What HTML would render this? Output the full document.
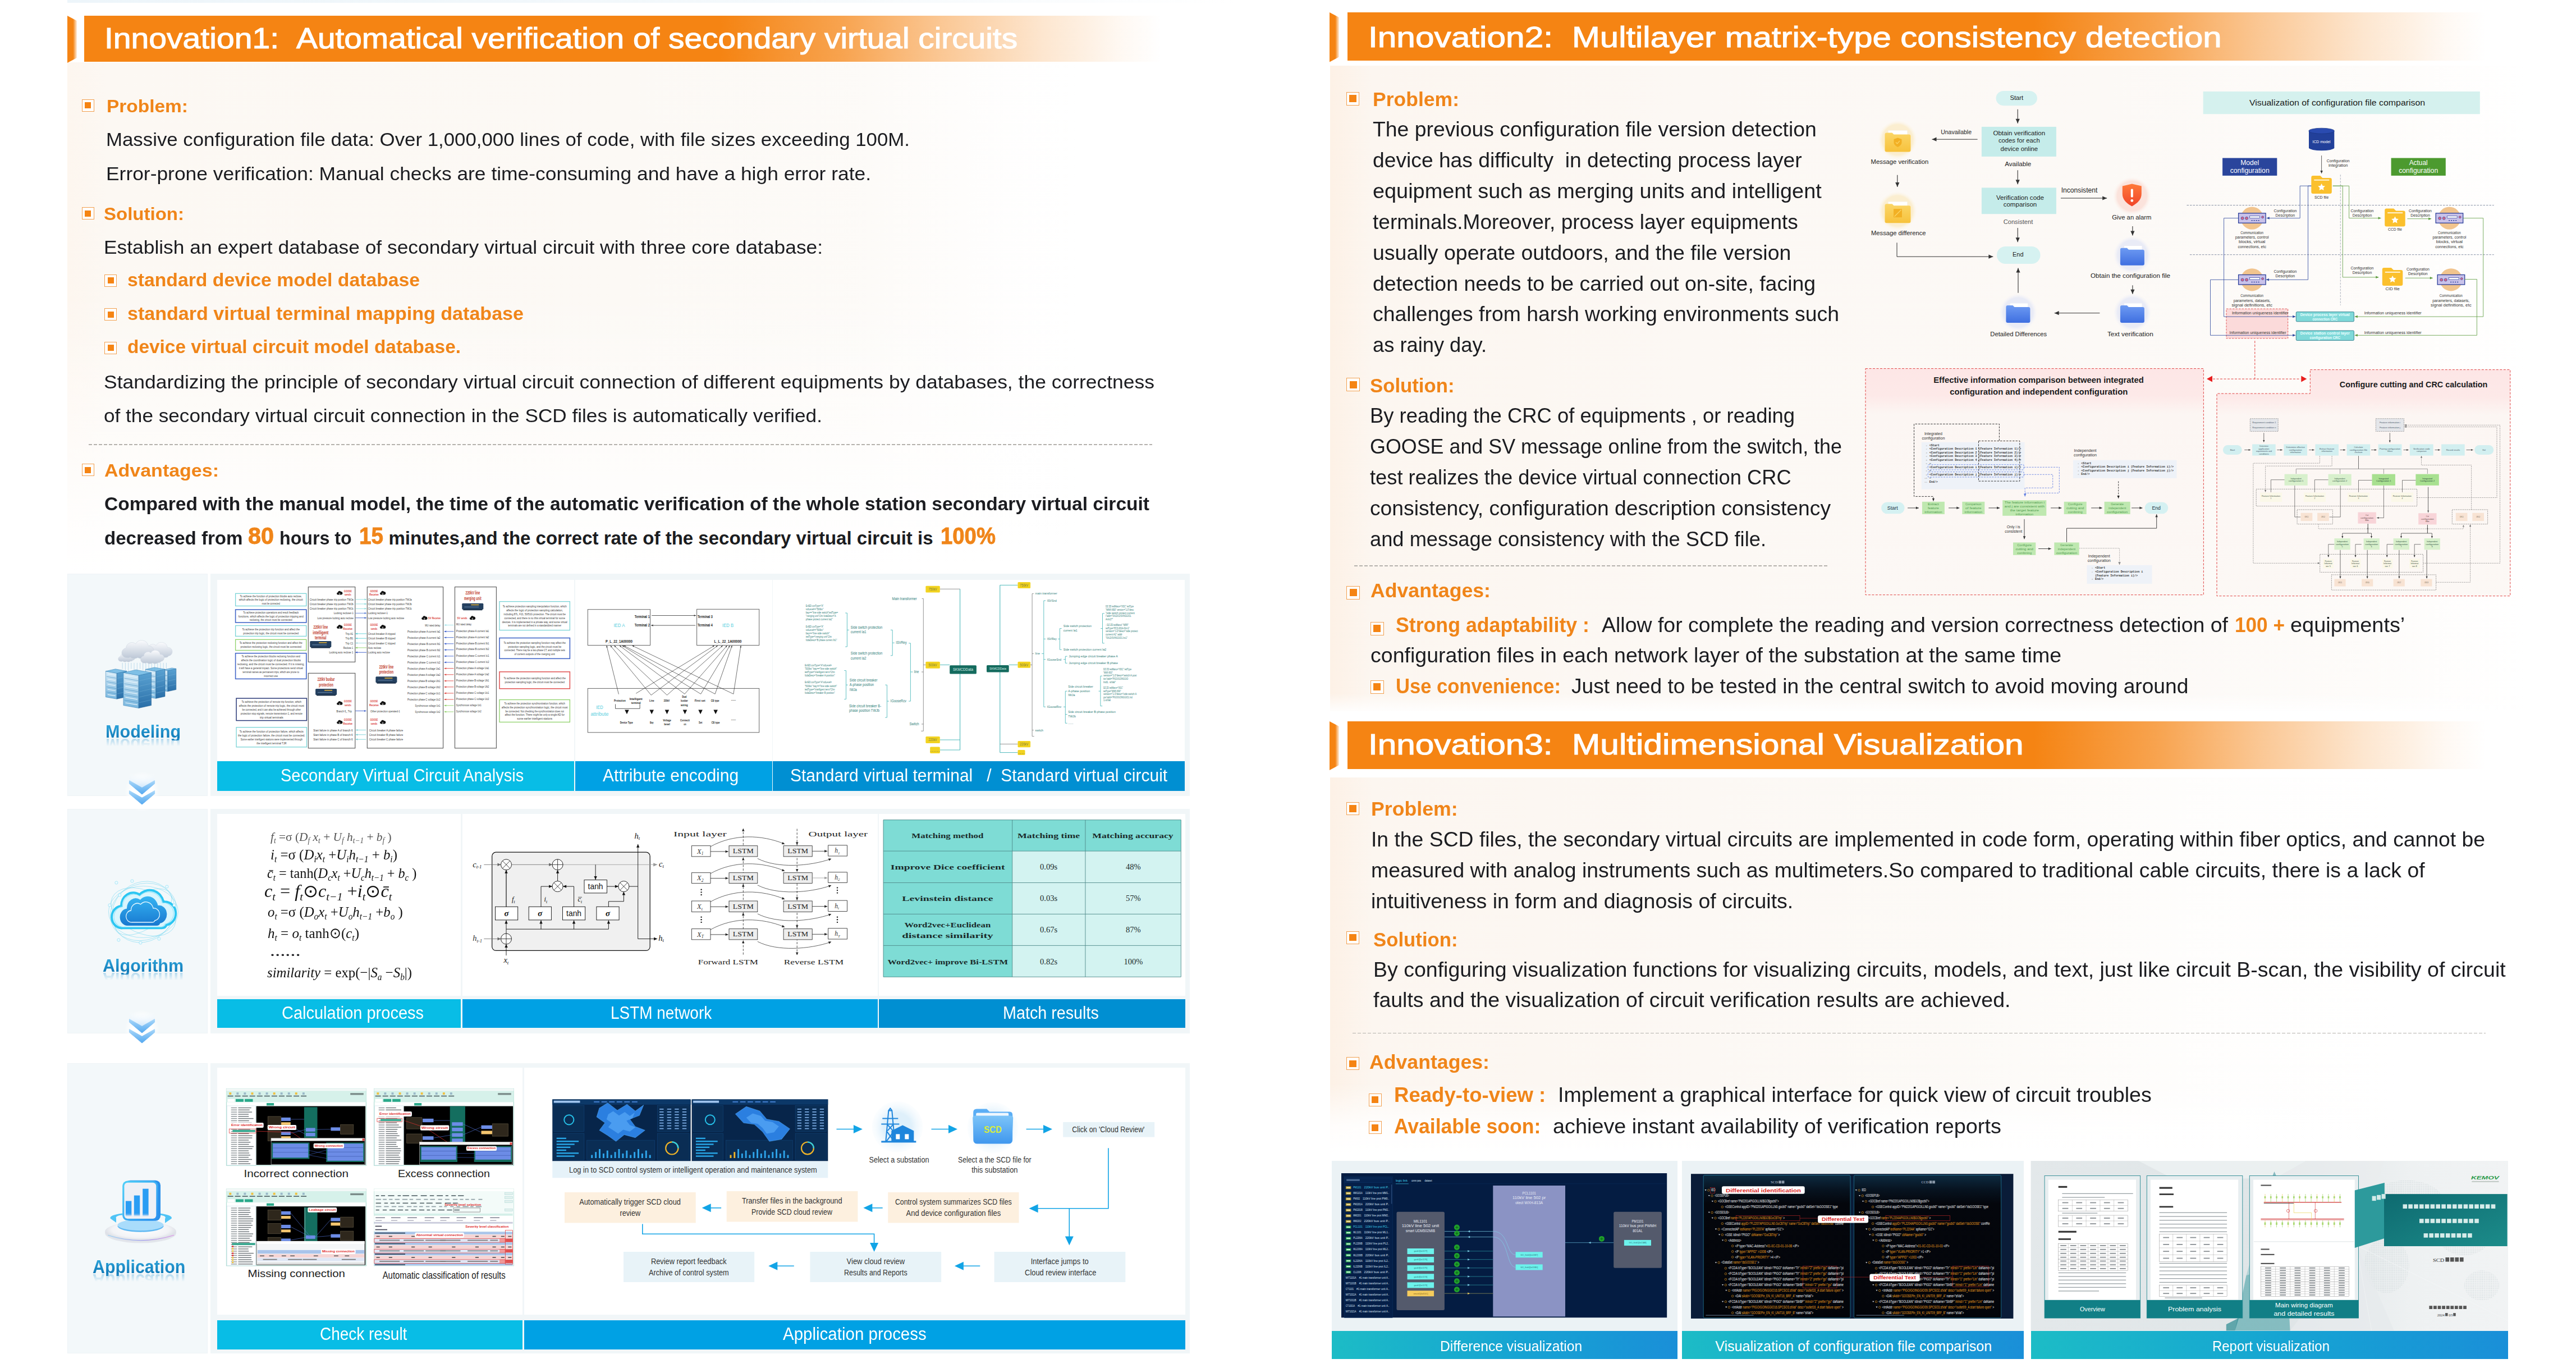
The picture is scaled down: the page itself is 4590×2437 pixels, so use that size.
<!DOCTYPE html>
<html><head><meta charset="utf-8"><title>Poster</title><style>
html,body{margin:0;padding:0;}
body{width:4590px;height:2437px;position:relative;overflow:hidden;background:#fff;font-family:"Liberation Sans",sans-serif;}
.a{position:absolute;box-sizing:border-box;}
.t{position:absolute;white-space:pre;line-height:1;}
svg{position:absolute;overflow:visible;}
</style></head>
<body>
<div class="a" style="left:120px;top:0px;width:2080px;height:5px;background:linear-gradient(90deg,#edf5fa,#f4f9fc 60%,rgba(255,255,255,0));"></div>
<div class="a" style="left:120px;top:111px;width:1800px;height:910px;background:linear-gradient(90deg,#fdf6ef 0%,#fcf8f3 4%,#fcf9f5 55%,rgba(252,249,245,0.75) 78%,rgba(253,251,249,0.3) 92%,rgba(255,255,255,0) 100%);"></div>
<div class="a" style="left:120px;top:520px;width:1800px;height:501px;background:linear-gradient(180deg,rgba(255,255,255,0) 0%,rgba(255,255,255,0.45) 45%,rgba(255,255,255,0.82) 80%,#fff 100%);"></div>
<svg style="left:120px;top:28px" width="20" height="84"><defs><linearGradient id="mg120_280" x1="0" x2="1" y1="0" y2="0"><stop offset="0" stop-color="#f58413"/><stop offset="0.6" stop-color="#f58413"/><stop offset="1" stop-color="#f58413" stop-opacity="0.15"/></linearGradient></defs><path d="M0,0 L17,9 L17,75 L0,84 Z" fill="url(#mg120_280)"/></svg>
<div class="a" style="left:150px;top:28px;width:1920px;height:82px;background:linear-gradient(90deg,#f58413 0%,rgba(245,132,19,1) 59.1%,rgba(245,132,19,0.75) 70.2%,rgba(245,132,19,0.45) 79.6%,rgba(245,132,19,0.2) 89.0%,rgba(245,132,19,0.05) 96.3%,rgba(245,132,19,0) 100.0%);"></div>
<span class="t" style="left:185.60px;top:42.48px;font-size:52px;color:#fff;-webkit-text-stroke:1.1px #fff;transform:scaleX(1.0976);transform-origin:0 0;">Innovation1:</span>
<span class="t" style="left:528.00px;top:42.48px;font-size:52px;color:#fff;-webkit-text-stroke:1.1px #fff;transform:scaleX(1.0925);transform-origin:0 0;">Automatical verification of secondary virtual circuits</span>
<div class="a" style="left:145.5px;top:176.5px;width:22px;height:22px;border:1.5px solid #f2a050;background:#fff;"></div><div class="a" style="left:151.0px;top:182.0px;width:11px;height:11px;background:#f58413;"></div>
<span class="t" style="left:190.00px;top:172.91px;font-size:32px;color:#f08519;font-weight:bold;transform:scaleX(1.0455);transform-origin:0 0;">Problem:</span>
<span class="t" style="left:189.00px;top:232.07px;font-size:33px;color:#1b1c20;transform:scaleX(1.0549);transform-origin:0 0;">Massive configuration file data: Over 1,000,000 lines of code, with file sizes exceeding 100M.</span>
<span class="t" style="left:189.00px;top:292.57px;font-size:33px;color:#1b1c20;transform:scaleX(1.0723);transform-origin:0 0;">Error-prone verification: Manual checks are time-consuming and have a high error rate.</span>
<div class="a" style="left:145.5px;top:369px;width:22px;height:22px;border:1.5px solid #f2a050;background:#fff;"></div><div class="a" style="left:151.0px;top:374.5px;width:11px;height:11px;background:#f58413;"></div>
<span class="t" style="left:185.00px;top:364.51px;font-size:32px;color:#f08519;font-weight:bold;transform:scaleX(1.0316);transform-origin:0 0;">Solution:</span>
<span class="t" style="left:185.00px;top:424.47px;font-size:33px;color:#1b1c20;transform:scaleX(1.0711);transform-origin:0 0;">Establish an expert database of secondary virtual circuit with three core database:</span>
<div class="a" style="left:186px;top:488.5px;width:22px;height:22px;border:1.5px solid #f2a050;background:#fff;"></div><div class="a" style="left:191.5px;top:494.0px;width:11px;height:11px;background:#f58413;"></div>
<span class="t" style="left:227.00px;top:482.07px;font-size:33px;color:#f08519;font-weight:bold;transform:scaleX(1.0219);transform-origin:0 0;">standard device model database</span>
<div class="a" style="left:186px;top:549px;width:22px;height:22px;border:1.5px solid #f2a050;background:#fff;"></div><div class="a" style="left:191.5px;top:554.5px;width:11px;height:11px;background:#f58413;"></div>
<span class="t" style="left:227.00px;top:542.07px;font-size:33px;color:#f08519;font-weight:bold;transform:scaleX(1.0321);transform-origin:0 0;">standard virtual terminal mapping database</span>
<div class="a" style="left:186px;top:608.5px;width:22px;height:22px;border:1.5px solid #f2a050;background:#fff;"></div><div class="a" style="left:191.5px;top:614.0px;width:11px;height:11px;background:#f58413;"></div>
<span class="t" style="left:227.00px;top:601.07px;font-size:33px;color:#f08519;font-weight:bold;transform:scaleX(1.0121);transform-origin:0 0;">device virtual circuit model database.</span>
<span class="t" style="left:185.00px;top:664.07px;font-size:33px;color:#1b1c20;transform:scaleX(1.0746);transform-origin:0 0;">Standardizing the principle of secondary virtual circuit connection of different equipments by databases, the correctness</span>
<span class="t" style="left:185.00px;top:724.07px;font-size:33px;color:#1b1c20;transform:scaleX(1.0654);transform-origin:0 0;">of the secondary virtual circuit connection in the SCD files is automatically verified.</span>
<div class="a" style="left:158px;top:791px;width:1895px;height:1.6px;background:repeating-linear-gradient(90deg,#b5b2ad 0 6px,transparent 6px 9px);"></div>
<div class="a" style="left:145.5px;top:826px;width:22px;height:22px;border:1.5px solid #f2a050;background:#fff;"></div><div class="a" style="left:151.0px;top:831.5px;width:11px;height:11px;background:#f58413;"></div>
<span class="t" style="left:186.00px;top:821.91px;font-size:32px;color:#f08519;font-weight:bold;transform:scaleX(1.0622);transform-origin:0 0;">Advantages:</span>
<span class="t" style="left:186.00px;top:880.87px;font-size:33px;color:#1b1c20;font-weight:bold;transform:scaleX(1.0165);transform-origin:0 0;">Compared with the manual model, the time of the automatic verification of the whole station secondary virtual circuit</span>
<span class="t" style="left:186.20px;top:941.67px;font-size:33px;color:#1b1c20;font-weight:bold;transform:scaleX(1.0029);transform-origin:0 0;">decreased from</span>
<span class="t" style="left:442.10px;top:934.05px;font-size:42px;color:#f08519;font-weight:bold;-webkit-text-stroke:0.9px #f08519;transform:scaleX(0.9846);transform-origin:0 0;">80</span>
<span class="t" style="left:498.20px;top:941.67px;font-size:33px;color:#1b1c20;font-weight:bold;transform:scaleX(0.9751);transform-origin:0 0;">hours to</span>
<span class="t" style="left:640.00px;top:934.05px;font-size:42px;color:#f08519;font-weight:bold;-webkit-text-stroke:0.9px #f08519;transform:scaleX(0.9204);transform-origin:0 0;">15</span>
<span class="t" style="left:692.40px;top:941.67px;font-size:33px;color:#1b1c20;font-weight:bold;">minutes,and the correct rate of the secondary virtual circuit is</span>
<span class="t" style="left:1676.00px;top:934.05px;font-size:42px;color:#f08519;font-weight:bold;-webkit-text-stroke:0.9px #f08519;transform:scaleX(0.9123);transform-origin:0 0;">100%</span>
<div class="a" style="left:2370px;top:117px;width:2130px;height:1150px;background:linear-gradient(90deg,#fdf1e6 0%,#fcf6f0 3.5%,#fcf8f4 30%,#fcf9f6 65%,rgba(253,250,247,0.7) 85%,rgba(255,255,255,0) 100%);"></div>
<div class="a" style="left:2370px;top:1235px;width:2130px;height:45px;background:linear-gradient(180deg,rgba(255,255,255,0),#fff 80%);"></div>
<svg style="left:2369px;top:21.6px" width="20" height="88.4"><defs><linearGradient id="mg2369_216" x1="0" x2="1" y1="0" y2="0"><stop offset="0" stop-color="#f58413"/><stop offset="0.6" stop-color="#f58413"/><stop offset="1" stop-color="#f58413" stop-opacity="0.15"/></linearGradient></defs><path d="M0,0 L17,9 L17,79.4 L0,88.4 Z" fill="url(#mg2369_216)"/></svg>
<div class="a" style="left:2401px;top:21.6px;width:2029px;height:86.4px;background:linear-gradient(90deg,#f58413 0%,rgba(245,132,19,1) 60.3%,rgba(245,132,19,0.75) 71.0%,rgba(245,132,19,0.45) 80.2%,rgba(245,132,19,0.2) 89.3%,rgba(245,132,19,0.05) 96.4%,rgba(245,132,19,0) 100.0%);"></div>
<span class="t" style="left:2438.00px;top:39.58px;font-size:52px;color:#fff;-webkit-text-stroke:1.1px #fff;transform:scaleX(1.1611);transform-origin:0 0;">Innovation2:</span>
<span class="t" style="left:2801.30px;top:39.58px;font-size:52px;color:#fff;-webkit-text-stroke:1.1px #fff;transform:scaleX(1.1510);transform-origin:0 0;">Multilayer matrix-type consistency detection</span>
<div class="a" style="left:2398.6px;top:164.2px;width:23.5px;height:23.5px;border:1.5px solid #f2a050;background:#fff;"></div><div class="a" style="left:2403.85px;top:169.45px;width:13px;height:13px;background:#f58413;"></div>
<span class="t" style="left:2446.00px;top:159.37px;font-size:35px;color:#f08519;font-weight:bold;transform:scaleX(1.0151);transform-origin:0 0;">Problem:</span>
<span class="t" style="left:2446.00px;top:212.80px;font-size:36.5px;color:#1b1c20;transform:scaleX(1.0230);transform-origin:0 0;">The previous configuration file version detection</span>
<span class="t" style="left:2446.00px;top:268.00px;font-size:36.5px;color:#1b1c20;transform:scaleX(1.0196);transform-origin:0 0;">device has difficulty  in detecting process layer</span>
<span class="t" style="left:2446.00px;top:323.10px;font-size:36.5px;color:#1b1c20;transform:scaleX(1.0372);transform-origin:0 0;">equipment such as merging units and intelligent</span>
<span class="t" style="left:2446.00px;top:377.80px;font-size:36.5px;color:#1b1c20;transform:scaleX(1.0151);transform-origin:0 0;">terminals.Moreover, process layer equipments</span>
<span class="t" style="left:2446.00px;top:433.00px;font-size:36.5px;color:#1b1c20;transform:scaleX(1.0260);transform-origin:0 0;">usually operate outdoors, and the file version</span>
<span class="t" style="left:2446.00px;top:487.70px;font-size:36.5px;color:#1b1c20;transform:scaleX(1.0262);transform-origin:0 0;">detection needs to be carried out on-site, facing</span>
<span class="t" style="left:2446.00px;top:542.00px;font-size:36.5px;color:#1b1c20;transform:scaleX(1.0240);transform-origin:0 0;">challenges from harsh working environments such</span>
<span class="t" style="left:2446.00px;top:597.10px;font-size:36.5px;color:#1b1c20;transform:scaleX(0.9940);transform-origin:0 0;">as rainy day.</span>
<div class="a" style="left:2399.3px;top:673.3px;width:23.5px;height:23.5px;border:1.5px solid #f2a050;background:#fff;"></div><div class="a" style="left:2404.55px;top:678.55px;width:13px;height:13px;background:#f58413;"></div>
<span class="t" style="left:2441.00px;top:669.17px;font-size:35px;color:#f08519;font-weight:bold;transform:scaleX(0.9926);transform-origin:0 0;">Solution:</span>
<span class="t" style="left:2441.00px;top:722.70px;font-size:36.5px;color:#1b1c20;transform:scaleX(0.9976);transform-origin:0 0;">By reading the CRC of equipments , or reading</span>
<span class="t" style="left:2441.00px;top:777.90px;font-size:36.5px;color:#1b1c20;transform:scaleX(0.9823);transform-origin:0 0;">GOOSE and SV message online from the switch, the</span>
<span class="t" style="left:2441.00px;top:832.70px;font-size:36.5px;color:#1b1c20;transform:scaleX(0.9946);transform-origin:0 0;">test realizes the device virtual connection CRC</span>
<span class="t" style="left:2441.00px;top:887.90px;font-size:36.5px;color:#1b1c20;transform:scaleX(1.0202);transform-origin:0 0;">consistency, configuration description consistency</span>
<span class="t" style="left:2441.00px;top:942.70px;font-size:36.5px;color:#1b1c20;transform:scaleX(0.9943);transform-origin:0 0;">and message consistency with the SCD file.</span>
<div class="a" style="left:2413px;top:1007px;width:845px;height:1.6px;background:repeating-linear-gradient(90deg,#b5b2ad 0 6px,transparent 6px 9px);"></div>
<div class="a" style="left:2399.3px;top:1044.2px;width:23.5px;height:23.5px;border:1.5px solid #f2a050;background:#fff;"></div><div class="a" style="left:2404.55px;top:1049.45px;width:13px;height:13px;background:#f58413;"></div>
<span class="t" style="left:2442.00px;top:1033.97px;font-size:35px;color:#f08519;font-weight:bold;transform:scaleX(1.0187);transform-origin:0 0;">Advantages:</span>
<div class="a" style="left:2442px;top:1108px;width:23.5px;height:23.5px;border:1.5px solid #f2a050;background:#fff;"></div><div class="a" style="left:2447.25px;top:1113.25px;width:13px;height:13px;background:#f58413;"></div>
<span class="t" style="left:2487.00px;top:1096.40px;font-size:36.5px;color:#f08519;font-weight:bold;transform:scaleX(0.9777);transform-origin:0 0;">Strong adaptability :</span>
<span class="t" style="left:2854.00px;top:1096.40px;font-size:36.5px;color:#1b1c20;transform:scaleX(1.0262);transform-origin:0 0;">Allow for complete the reading and version correctness detection of</span>
<span class="t" style="left:3982.00px;top:1096.40px;font-size:36.5px;color:#f08519;font-weight:bold;transform:scaleX(0.9636);transform-origin:0 0;">100 +</span>
<span class="t" style="left:4081.20px;top:1096.40px;font-size:36.5px;color:#1b1c20;transform:scaleX(1.0380);transform-origin:0 0;">equipments’</span>
<span class="t" style="left:2442.00px;top:1150.40px;font-size:36.5px;color:#1b1c20;transform:scaleX(1.0284);transform-origin:0 0;">configuration files in each network layer of the substation at the same time</span>
<div class="a" style="left:2442px;top:1212px;width:23.5px;height:23.5px;border:1.5px solid #f2a050;background:#fff;"></div><div class="a" style="left:2447.25px;top:1217.25px;width:13px;height:13px;background:#f58413;"></div>
<span class="t" style="left:2487.00px;top:1205.10px;font-size:36.5px;color:#f08519;font-weight:bold;transform:scaleX(0.9472);transform-origin:0 0;">Use convenience:</span>
<span class="t" style="left:2800.00px;top:1205.10px;font-size:36.5px;color:#1b1c20;transform:scaleX(1.0185);transform-origin:0 0;">Just need to be tested in the central switch to avoid moving around</span>
<div class="a" style="left:2370px;top:1385px;width:1900px;height:670px;background:linear-gradient(90deg,#fdf1e6 0%,#fcf6f0 4%,#fcf8f4 35%,rgba(252,249,245,0.8) 60%,rgba(253,251,248,0.35) 82%,rgba(255,255,255,0) 100%);"></div>
<div class="a" style="left:2370px;top:1930px;width:1900px;height:126px;background:linear-gradient(180deg,rgba(255,255,255,0),rgba(255,255,255,0.85) 60%,#fff 100%);"></div>
<svg style="left:2369px;top:1285px" width="20" height="87"><defs><linearGradient id="mg2369_12850" x1="0" x2="1" y1="0" y2="0"><stop offset="0" stop-color="#f58413"/><stop offset="0.6" stop-color="#f58413"/><stop offset="1" stop-color="#f58413" stop-opacity="0.15"/></linearGradient></defs><path d="M0,0 L17,9 L17,78 L0,87 Z" fill="url(#mg2369_12850)"/></svg>
<div class="a" style="left:2401px;top:1285px;width:2029px;height:85px;background:linear-gradient(90deg,#f58413 0%,rgba(245,132,19,1) 60.3%,rgba(245,132,19,0.75) 71.0%,rgba(245,132,19,0.45) 80.2%,rgba(245,132,19,0.2) 89.3%,rgba(245,132,19,0.05) 96.4%,rgba(245,132,19,0) 100.0%);"></div>
<span class="t" style="left:2438.00px;top:1299.98px;font-size:52px;color:#fff;-webkit-text-stroke:1.1px #fff;transform:scaleX(1.1597);transform-origin:0 0;">Innovation3:</span>
<span class="t" style="left:2800.80px;top:1299.98px;font-size:52px;color:#fff;-webkit-text-stroke:1.1px #fff;transform:scaleX(1.1616);transform-origin:0 0;">Multidimensional Visualization</span>
<div class="a" style="left:2399px;top:1429px;width:23px;height:23px;border:1.5px solid #f2a050;background:#fff;"></div><div class="a" style="left:2404.25px;top:1434.25px;width:12.5px;height:12.5px;background:#f58413;"></div>
<span class="t" style="left:2443.00px;top:1423.37px;font-size:35px;color:#f08519;font-weight:bold;transform:scaleX(1.0191);transform-origin:0 0;">Problem:</span>
<span class="t" style="left:2443.00px;top:1477.90px;font-size:36.5px;color:#1b1c20;transform:scaleX(1.0224);transform-origin:0 0;">In the SCD files, the secondary virtual circuits are implemented in code form, operating within fiber optics, and cannot be</span>
<span class="t" style="left:2443.00px;top:1533.00px;font-size:36.5px;color:#1b1c20;transform:scaleX(1.0238);transform-origin:0 0;">measured with analog instruments such as multimeters.So compared to traditional cable circuits, there is a lack of</span>
<span class="t" style="left:2443.00px;top:1587.50px;font-size:36.5px;color:#1b1c20;transform:scaleX(1.0271);transform-origin:0 0;">intuitiveness in form and diagnosis of circuits.</span>
<div class="a" style="left:2399px;top:1658.6px;width:23px;height:23px;border:1.5px solid #f2a050;background:#fff;"></div><div class="a" style="left:2404.25px;top:1663.85px;width:12.5px;height:12.5px;background:#f58413;"></div>
<span class="t" style="left:2447.00px;top:1655.97px;font-size:35px;color:#f08519;font-weight:bold;transform:scaleX(0.9932);transform-origin:0 0;">Solution:</span>
<span class="t" style="left:2447.00px;top:1709.80px;font-size:36.5px;color:#1b1c20;transform:scaleX(1.0275);transform-origin:0 0;">By configuring visualization functions for visualizing circuits, models, and text, just like circuit B-scan, the visibility of circuit</span>
<span class="t" style="left:2447.00px;top:1764.40px;font-size:36.5px;color:#1b1c20;transform:scaleX(1.0269);transform-origin:0 0;">faults and the visualization of circuit verification results are achieved.</span>
<div class="a" style="left:2410px;top:1839.5px;width:2019px;height:1.6px;background:repeating-linear-gradient(90deg,#b5b2ad 0 6px,transparent 6px 9px);"></div>
<div class="a" style="left:2399px;top:1883.4px;width:23px;height:23px;border:1.5px solid #f2a050;background:#fff;"></div><div class="a" style="left:2404.25px;top:1888.65px;width:12.5px;height:12.5px;background:#f58413;"></div>
<span class="t" style="left:2440.00px;top:1873.57px;font-size:35px;color:#f08519;font-weight:bold;transform:scaleX(1.0187);transform-origin:0 0;">Advantages:</span>
<div class="a" style="left:2438.7px;top:1947.5px;width:23px;height:23px;border:1.5px solid #f2a050;background:#fff;"></div><div class="a" style="left:2443.95px;top:1952.75px;width:12.5px;height:12.5px;background:#f58413;"></div>
<span class="t" style="left:2484.30px;top:1933.40px;font-size:36.5px;color:#f08519;font-weight:bold;transform:scaleX(1.0020);transform-origin:0 0;">Ready-to-view :</span>
<span class="t" style="left:2775.60px;top:1933.40px;font-size:36.5px;color:#1b1c20;transform:scaleX(1.0305);transform-origin:0 0;">Implement a graphical interface for quick view of circuit troubles</span>
<div class="a" style="left:2438.7px;top:1997.3px;width:23px;height:23px;border:1.5px solid #f2a050;background:#fff;"></div><div class="a" style="left:2443.95px;top:2002.55px;width:12.5px;height:12.5px;background:#f58413;"></div>
<span class="t" style="left:2484.30px;top:1988.60px;font-size:36.5px;color:#f08519;font-weight:bold;transform:scaleX(0.9735);transform-origin:0 0;">Available soon:</span>
<span class="t" style="left:2766.60px;top:1988.60px;font-size:36.5px;color:#1b1c20;transform:scaleX(1.0362);transform-origin:0 0;">achieve instant availability of verification reports</span>
<div class="a" style="left:2373px;top:2068px;width:616px;height:304px;background:#ebf2f5;"></div>
<div class="a" style="left:2373px;top:2371px;width:616px;height:50px;background:linear-gradient(90deg,#1cbcc6 0%,#16a3d3 55%,#1a8fd8 100%);"></div>
<span class="t" style="left:2565.60px;top:2385.84px;font-size:25px;color:#fff;transform:scaleX(0.9867);transform-origin:0 0;">Difference visualization</span>
<div class="a" style="left:2996.5px;top:2068px;width:609.5px;height:304px;background:#ebf2f5;"></div>
<div class="a" style="left:2996.5px;top:2371px;width:609.5px;height:50px;background:linear-gradient(90deg,#1cbcc6 0%,#16a3d3 55%,#1a8fd8 100%);"></div>
<span class="t" style="left:3056.30px;top:2385.84px;font-size:25px;color:#fff;">Visualization of configuration file comparison</span>
<div class="a" style="left:3618.6px;top:2068px;width:850.4000000000001px;height:304px;background:#ebf2f5;"></div>
<div class="a" style="left:3618.6px;top:2371px;width:850.4000000000001px;height:50px;background:linear-gradient(90deg,#1cbcc6 0%,#16a3d3 55%,#1a8fd8 100%);"></div>
<span class="t" style="left:3942.20px;top:2385.84px;font-size:25px;color:#fff;transform:scaleX(0.9580);transform-origin:0 0;">Report visualization</span>
<div class="a" style="left:119.5px;top:1022px;width:250.5px;height:396px;background:#f3f8fa;border:1px solid #eef3f6;"></div>
<div class="a" style="left:375px;top:1022px;width:1745px;height:396px;background:#f1f6f8;"></div>
<div class="a" style="left:386.5px;top:1032.5px;width:636.5px;height:323.5px;background:#fff;"></div>
<div class="a" style="left:386.5px;top:1356px;width:636.5px;height:52.700000000000045px;background:#08bde6;"></div>
<span class="t" style="left:499.70px;top:1365.66px;font-size:31px;color:#fff;transform:scaleX(0.9360);transform-origin:0 0;">Secondary Virtual Circuit Analysis</span>
<div class="a" style="left:1024.5px;top:1032.5px;width:351.0px;height:323.5px;background:#fff;"></div>
<div class="a" style="left:1024.5px;top:1356px;width:351.0px;height:52.700000000000045px;background:#00a1e4;"></div>
<span class="t" style="left:1073.60px;top:1365.66px;font-size:31px;color:#fff;transform:scaleX(0.9692);transform-origin:0 0;">Attribute encoding</span>
<div class="a" style="left:1377px;top:1032.5px;width:734px;height:323.5px;background:#fff;"></div>
<div class="a" style="left:1377px;top:1356px;width:734px;height:52.700000000000045px;background:#008fd2;"></div>
<span class="t" style="left:1407.60px;top:1365.66px;font-size:31px;color:#fff;transform:scaleX(0.9681);transform-origin:0 0;">Standard virtual terminal   /  Standard virtual circuit</span>
<div class="a" style="left:119.5px;top:1440.5px;width:250.5px;height:400.5px;background:#f3f8fa;border:1px solid #eef3f6;"></div>
<div class="a" style="left:375px;top:1440.5px;width:1745px;height:400.5px;background:#f1f6f8;"></div>
<div class="a" style="left:386.5px;top:1450px;width:434.5px;height:324px;background:#fff;"></div>
<div class="a" style="left:386.5px;top:1779.5px;width:434.5px;height:51.90000000000009px;background:#08bde6;"></div>
<span class="t" style="left:501.50px;top:1788.76px;font-size:31px;color:#fff;transform:scaleX(0.9352);transform-origin:0 0;">Calculation process</span>
<div class="a" style="left:824px;top:1450px;width:739.7px;height:324px;background:#fff;"></div>
<div class="a" style="left:824px;top:1779.5px;width:739.7px;height:51.90000000000009px;background:#00a1e4;"></div>
<span class="t" style="left:1087.60px;top:1788.76px;font-size:31px;color:#fff;transform:scaleX(0.9017);transform-origin:0 0;">LSTM network</span>
<div class="a" style="left:1566px;top:1450px;width:546px;height:324px;background:#fff;"></div>
<div class="a" style="left:1566px;top:1779.5px;width:546px;height:51.90000000000009px;background:#008fd2;"></div>
<span class="t" style="left:1786.60px;top:1788.76px;font-size:31px;color:#fff;transform:scaleX(0.9265);transform-origin:0 0;">Match results</span>
<div class="a" style="left:119.5px;top:1894px;width:250.5px;height:517px;background:#f3f8fa;border:1px solid #eef3f6;"></div>
<div class="a" style="left:375px;top:1894px;width:1745px;height:517px;background:#f1f6f8;"></div>
<div class="a" style="left:386.5px;top:1902px;width:544.5px;height:440px;background:#fff;"></div>
<div class="a" style="left:386.5px;top:2351.7px;width:544.5px;height:52.30000000000018px;background:#08bde6;"></div>
<span class="t" style="left:569.60px;top:2360.76px;font-size:31px;color:#fff;transform:scaleX(0.9019);transform-origin:0 0;">Check result</span>
<div class="a" style="left:934px;top:1902px;width:1178px;height:440px;background:#fff;"></div>
<div class="a" style="left:934px;top:2351.7px;width:1178px;height:52.30000000000018px;background:#00a1e4;"></div>
<span class="t" style="left:1394.60px;top:2360.76px;font-size:31px;color:#fff;transform:scaleX(0.9515);transform-origin:0 0;">Application process</span>
<span class="t" style="left:188.30px;top:1286.61px;font-size:32px;color:#1b1c20;font-weight:bold;background:linear-gradient(180deg,#2fa6dc 10%,#0f78b6 90%);-webkit-background-clip:text;background-clip:text;color:transparent;transform:scaleX(0.9557);transform-origin:0 0;">Modeling</span>
<div class="a" style="left:184.3px;top:1314.7px;width:142.2px;height:15px;overflow:hidden;-webkit-mask-image:linear-gradient(180deg,rgba(0,0,0,0.38),transparent 95%);mask-image:linear-gradient(180deg,rgba(0,0,0,0.38),transparent 95%);"><div class="a" style="left:0;top:0;width:100%;height:40px;transform:scaleY(-1);">
<span class="t" style="left:4.00px;top:11.91px;font-size:32px;color:#3aa0d8;font-weight:bold;transform:scaleX(0.9557);transform-origin:0 0;">Modeling</span>
</div></div>
<span class="t" style="left:183.40px;top:1704.31px;font-size:32px;color:#1b1c20;font-weight:bold;background:linear-gradient(180deg,#2fa6dc 10%,#0f78b6 90%);-webkit-background-clip:text;background-clip:text;color:transparent;transform:scaleX(0.9537);transform-origin:0 0;">Algorithm</span>
<div class="a" style="left:179.4px;top:1732.4px;width:152.1px;height:15px;overflow:hidden;-webkit-mask-image:linear-gradient(180deg,rgba(0,0,0,0.38),transparent 95%);mask-image:linear-gradient(180deg,rgba(0,0,0,0.38),transparent 95%);"><div class="a" style="left:0;top:0;width:100%;height:40px;transform:scaleY(-1);">
<span class="t" style="left:4.00px;top:11.91px;font-size:32px;color:#3aa0d8;font-weight:bold;transform:scaleX(0.9537);transform-origin:0 0;">Algorithm</span>
</div></div>
<span class="t" style="left:164.70px;top:2240.27px;font-size:33px;color:#1b1c20;font-weight:bold;background:linear-gradient(180deg,#2fa6dc 10%,#0f78b6 90%);-webkit-background-clip:text;background-clip:text;color:transparent;transform:scaleX(0.9200);transform-origin:0 0;">Application</span>
<div class="a" style="left:160.7px;top:2269.2px;width:173.3px;height:15px;overflow:hidden;-webkit-mask-image:linear-gradient(180deg,rgba(0,0,0,0.38),transparent 95%);mask-image:linear-gradient(180deg,rgba(0,0,0,0.38),transparent 95%);"><div class="a" style="left:0;top:0;width:100%;height:40px;transform:scaleY(-1);">
<span class="t" style="left:4.00px;top:11.07px;font-size:33px;color:#3aa0d8;font-weight:bold;transform:scaleX(0.9200);transform-origin:0 0;">Application</span>
</div></div>
<svg style="left:212.6px;top:1370px" width="80" height="76" viewBox="-40 -20 80 76"><defs><linearGradient id="cv13900" x1="0" x2="0" y1="0" y2="1"><stop offset="0" stop-color="#a9d7f9"/><stop offset="1" stop-color="#55a9f0"/></linearGradient><linearGradient id="cg13900" x1="0" x2="0" y1="0" y2="1"><stop offset="0" stop-color="#ffffff" stop-opacity="0"/><stop offset="1" stop-color="#cfe7fb"/></linearGradient><radialGradient id="cw13900"><stop offset="0.55" stop-color="#fff"/><stop offset="1" stop-color="#fff" stop-opacity="0"/></radialGradient></defs><ellipse cx="0" cy="20" rx="31" ry="36" fill="url(#cw13900)"/><path d="M-22.6,-14 L22.6,-14 L22.6,0 L0,12.8 L-22.6,0 Z" fill="url(#cg13900)"/><path d="M-22.6,0.5 L0,13.3 L22.6,0.5 L22.6,5.9 L0,25 L-22.6,5.9 Z" fill="url(#cv13900)" stroke="url(#cv13900)" stroke-width="1" stroke-linejoin="round"/><path d="M-22.6,18.5 L0,31.3 L22.6,18.5 L22.6,24 L0,43 L-22.6,24 Z" fill="url(#cv13900)" stroke="url(#cv13900)" stroke-width="1" stroke-linejoin="round"/></svg>
<svg style="left:212.6px;top:1794.5px" width="80" height="76" viewBox="-40 -20 80 76"><defs><linearGradient id="cv18145" x1="0" x2="0" y1="0" y2="1"><stop offset="0" stop-color="#a9d7f9"/><stop offset="1" stop-color="#55a9f0"/></linearGradient><linearGradient id="cg18145" x1="0" x2="0" y1="0" y2="1"><stop offset="0" stop-color="#ffffff" stop-opacity="0"/><stop offset="1" stop-color="#cfe7fb"/></linearGradient><radialGradient id="cw18145"><stop offset="0.55" stop-color="#fff"/><stop offset="1" stop-color="#fff" stop-opacity="0"/></radialGradient></defs><ellipse cx="0" cy="20" rx="31" ry="36" fill="url(#cw18145)"/><path d="M-22.6,-14 L22.6,-14 L22.6,0 L0,12.8 L-22.6,0 Z" fill="url(#cg18145)"/><path d="M-22.6,0.5 L0,13.3 L22.6,0.5 L22.6,5.9 L0,25 L-22.6,5.9 Z" fill="url(#cv18145)" stroke="url(#cv18145)" stroke-width="1" stroke-linejoin="round"/><path d="M-22.6,18.5 L0,31.3 L22.6,18.5 L22.6,24 L0,43 L-22.6,24 Z" fill="url(#cv18145)" stroke="url(#cv18145)" stroke-width="1" stroke-linejoin="round"/></svg>
<svg style="left:0;top:0" width="4590" height="2437" viewBox="0 0 4590 2437" font-family="Liberation Sans, sans-serif"><defs><linearGradient id="srvF" x1="0" x2="0" y1="0" y2="1"><stop offset="0" stop-color="#d6ebf7"/><stop offset="1" stop-color="#78b6de"/></linearGradient><linearGradient id="srvS" x1="0" x2="0" y1="0" y2="1"><stop offset="0" stop-color="#5aa2d2"/><stop offset="1" stop-color="#2a6fa8"/></linearGradient><linearGradient id="cldG" x1="0" x2="0" y1="0" y2="1"><stop offset="0" stop-color="#fafbfd"/><stop offset="1" stop-color="#bcc7d6"/></linearGradient><linearGradient id="cl2" x1="0" x2="0" y1="0" y2="1"><stop offset="0" stop-color="#35b4f2"/><stop offset="1" stop-color="#1878d0"/></linearGradient><linearGradient id="pan" x1="0" x2="1" y1="0" y2="1"><stop offset="0" stop-color="#4fd0f8"/><stop offset="1" stop-color="#2a8ff0"/></linearGradient><radialGradient id="plat" cx="0.5" cy="0.4"><stop offset="0" stop-color="#ffffff"/><stop offset="0.8" stop-color="#f2f3f6"/><stop offset="1" stop-color="#dfe2e8"/></radialGradient><linearGradient id="prp" x1="0" x2="1" y1="0" y2="0"><stop offset="0" stop-color="#8fd0f8"/><stop offset="0.6" stop-color="#9a8cf0"/><stop offset="1" stop-color="#e088e8"/></linearGradient></defs><path d="M291.5,1193.2L298.9,1194.5L298.9,1231.8L291.5,1230.5Z" stroke="#2a78b0" stroke-width="0.5" fill="url(#srvF)"/><path d="M298.9,1194.5L313.8,1191.3L313.8,1228.5L298.9,1231.8Z" stroke="#1d5a8c" stroke-width="0.5" fill="url(#srvS)"/><path d="M291.5,1193.2L306.4,1189.9L313.8,1191.3L298.9,1194.5Z" stroke="#2a78b0" stroke-width="0.5" fill="#7fc0e6"/><path d="M293,1202.8L297.9,1203.6" stroke="#2f7fb6" stroke-width="0.5" fill="none"/><path d="M299.7,1203.9L313.1,1200.6" stroke="#7fb8dc" stroke-width="0.4" fill="none"/><path d="M293,1212.1L297.9,1212.9" stroke="#2f7fb6" stroke-width="0.5" fill="none"/><path d="M299.7,1213.2L313.1,1209.9" stroke="#7fb8dc" stroke-width="0.4" fill="none"/><path d="M293,1221.4L297.9,1222.2" stroke="#2f7fb6" stroke-width="0.5" fill="none"/><path d="M299.7,1222.5L313.1,1219.2" stroke="#7fb8dc" stroke-width="0.4" fill="none"/><path d="M295,1198.1L296.4,1198.2" stroke="#e8f4fb" stroke-width="1.2" fill="none"/><path d="M295,1207.4L296.4,1207.5" stroke="#e8f4fb" stroke-width="1.2" fill="none"/><path d="M295,1216.8L296.4,1216.9" stroke="#e8f4fb" stroke-width="1.2" fill="none"/><path d="M295,1226.1L296.4,1226.2" stroke="#e8f4fb" stroke-width="1.2" fill="none"/><path d="M259.2,1192.4L277.8,1195.8L277.8,1244.3L259.2,1240.9Z" stroke="#2a78b0" stroke-width="0.5" fill="url(#srvF)"/><path d="M277.8,1195.8L294,1192.2L294,1240.7L277.8,1244.3Z" stroke="#1d5a8c" stroke-width="0.5" fill="url(#srvS)"/><path d="M259.2,1192.4L275.3,1188.9L294,1192.2L277.8,1195.8Z" stroke="#2a78b0" stroke-width="0.5" fill="#7fc0e6"/><path d="M260.7,1202.4L276.8,1205.2" stroke="#2f7fb6" stroke-width="0.5" fill="none"/><path d="M278.5,1205.5L293.2,1201.9" stroke="#7fb8dc" stroke-width="0.4" fill="none"/><path d="M260.7,1212.1L276.8,1214.9" stroke="#2f7fb6" stroke-width="0.5" fill="none"/><path d="M278.5,1215.2L293.2,1211.6" stroke="#7fb8dc" stroke-width="0.4" fill="none"/><path d="M260.7,1221.8L276.8,1224.6" stroke="#2f7fb6" stroke-width="0.5" fill="none"/><path d="M278.5,1224.9L293.2,1221.3" stroke="#7fb8dc" stroke-width="0.4" fill="none"/><path d="M260.7,1231.5L276.8,1234.3" stroke="#2f7fb6" stroke-width="0.5" fill="none"/><path d="M278.5,1234.6L293.2,1231" stroke="#7fb8dc" stroke-width="0.4" fill="none"/><path d="M262.6,1197.6L275.3,1199.7" stroke="#e8f4fb" stroke-width="1.2" fill="none"/><path d="M262.6,1207.2L275.3,1209.4" stroke="#e8f4fb" stroke-width="1.2" fill="none"/><path d="M262.6,1216.9L275.3,1219" stroke="#e8f4fb" stroke-width="1.2" fill="none"/><path d="M262.6,1226.6L275.3,1228.7" stroke="#e8f4fb" stroke-width="1.2" fill="none"/><path d="M262.6,1236.3L275.3,1238.4" stroke="#e8f4fb" stroke-width="1.2" fill="none"/><path d="M188.3,1195.7L208.2,1199.3L208.2,1245.2L188.3,1241.7Z" stroke="#2a78b0" stroke-width="0.5" fill="url(#srvF)"/><path d="M208.2,1199.3L225.6,1195.4L225.6,1241.4L208.2,1245.2Z" stroke="#1d5a8c" stroke-width="0.5" fill="url(#srvS)"/><path d="M188.3,1195.7L205.7,1191.8L225.6,1195.4L208.2,1199.3Z" stroke="#2a78b0" stroke-width="0.5" fill="#7fc0e6"/><path d="M189.8,1205.1L207.2,1208.2" stroke="#2f7fb6" stroke-width="0.5" fill="none"/><path d="M209,1208.4L224.9,1204.6" stroke="#7fb8dc" stroke-width="0.4" fill="none"/><path d="M189.8,1214.3L207.2,1217.4" stroke="#2f7fb6" stroke-width="0.5" fill="none"/><path d="M209,1217.6L224.9,1213.8" stroke="#7fb8dc" stroke-width="0.4" fill="none"/><path d="M189.8,1223.5L207.2,1226.6" stroke="#2f7fb6" stroke-width="0.5" fill="none"/><path d="M209,1226.8L224.9,1223" stroke="#7fb8dc" stroke-width="0.4" fill="none"/><path d="M189.8,1232.7L207.2,1235.8" stroke="#2f7fb6" stroke-width="0.5" fill="none"/><path d="M209,1236L224.9,1232.2" stroke="#7fb8dc" stroke-width="0.4" fill="none"/><path d="M191.8,1200.6L205.7,1202.9" stroke="#e8f4fb" stroke-width="1.2" fill="none"/><path d="M191.8,1209.8L205.7,1212.1" stroke="#e8f4fb" stroke-width="1.2" fill="none"/><path d="M191.8,1218.9L205.7,1221.3" stroke="#e8f4fb" stroke-width="1.2" fill="none"/><path d="M191.8,1228.1L205.7,1230.5" stroke="#e8f4fb" stroke-width="1.2" fill="none"/><path d="M191.8,1237.3L205.7,1239.7" stroke="#e8f4fb" stroke-width="1.2" fill="none"/><path d="M219.9,1198.2L247.2,1203.1L247.2,1261.5L219.9,1256.6Z" stroke="#2a78b0" stroke-width="0.5" fill="url(#srvF)"/><path d="M247.2,1203.1L269.6,1198.2L269.6,1256.6L247.2,1261.5Z" stroke="#1d5a8c" stroke-width="0.5" fill="url(#srvS)"/><path d="M219.9,1198.2L242.3,1193.2L269.6,1198.2L247.2,1203.1Z" stroke="#2a78b0" stroke-width="0.5" fill="#7fc0e6"/><path d="M221.4,1208.1L246.2,1212.6" stroke="#2f7fb6" stroke-width="0.5" fill="none"/><path d="M248,1212.8L268.9,1207.9" stroke="#7fb8dc" stroke-width="0.4" fill="none"/><path d="M221.4,1217.9L246.2,1222.3" stroke="#2f7fb6" stroke-width="0.5" fill="none"/><path d="M248,1222.5L268.9,1217.6" stroke="#7fb8dc" stroke-width="0.4" fill="none"/><path d="M221.4,1227.6L246.2,1232" stroke="#2f7fb6" stroke-width="0.5" fill="none"/><path d="M248,1232.3L268.9,1227.4" stroke="#7fb8dc" stroke-width="0.4" fill="none"/><path d="M221.4,1237.3L246.2,1241.8" stroke="#2f7fb6" stroke-width="0.5" fill="none"/><path d="M248,1242L268.9,1237.1" stroke="#7fb8dc" stroke-width="0.4" fill="none"/><path d="M221.4,1247.1L246.2,1251.5" stroke="#2f7fb6" stroke-width="0.5" fill="none"/><path d="M248,1251.7L268.9,1246.8" stroke="#7fb8dc" stroke-width="0.4" fill="none"/><path d="M223.4,1203.3L244.8,1207" stroke="#e8f4fb" stroke-width="1.2" fill="none"/><path d="M223.4,1213L244.8,1216.7" stroke="#e8f4fb" stroke-width="1.2" fill="none"/><path d="M223.4,1222.8L244.8,1226.4" stroke="#e8f4fb" stroke-width="1.2" fill="none"/><path d="M223.4,1232.5L244.8,1236.2" stroke="#e8f4fb" stroke-width="1.2" fill="none"/><path d="M223.4,1242.2L244.8,1245.9" stroke="#e8f4fb" stroke-width="1.2" fill="none"/><path d="M223.4,1252L244.8,1255.6" stroke="#e8f4fb" stroke-width="1.2" fill="none"/><path d="M218.2,1180.8L218.2,1191.5" stroke="#6fb0d8" stroke-width="0.4" fill="none"/><path d="M223.4,1180.8L223.4,1193.9" stroke="#6fb0d8" stroke-width="0.4" fill="none"/><path d="M228.6,1180.8L228.6,1196.4" stroke="#6fb0d8" stroke-width="0.4" fill="none"/><path d="M233.8,1180.8L233.8,1191.5" stroke="#6fb0d8" stroke-width="0.4" fill="none"/><path d="M239,1180.8L239,1193.9" stroke="#6fb0d8" stroke-width="0.4" fill="none"/><path d="M244.3,1180.8L244.3,1196.4" stroke="#6fb0d8" stroke-width="0.4" fill="none"/><path d="M249.5,1180.8L249.5,1191.5" stroke="#6fb0d8" stroke-width="0.4" fill="none"/><path d="M254.7,1180.8L254.7,1193.9" stroke="#6fb0d8" stroke-width="0.4" fill="none"/><path d="M259.9,1180.8L259.9,1196.4" stroke="#6fb0d8" stroke-width="0.4" fill="none"/><path d="M265.1,1180.8L265.1,1191.5" stroke="#6fb0d8" stroke-width="0.4" fill="none"/><path d="M270.3,1180.8L270.3,1193.9" stroke="#6fb0d8" stroke-width="0.4" fill="none"/><path d="M275.6,1180.8L275.6,1196.4" stroke="#6fb0d8" stroke-width="0.4" fill="none"/><path d="M280.8,1180.8L280.8,1191.5" stroke="#6fb0d8" stroke-width="0.4" fill="none"/><path d="M286,1180.8L286,1193.9" stroke="#6fb0d8" stroke-width="0.4" fill="none"/><path d="M291.2,1180.8L291.2,1196.4" stroke="#6fb0d8" stroke-width="0.4" fill="none"/><path d="M296.4,1180.8L296.4,1191.5" stroke="#6fb0d8" stroke-width="0.4" fill="none"/><g transform="translate(281.5,1163.4) scale(0.85)"><path d="M-20,10 a9,9 0 0 1 -2,-18 a11,11 0 0 1 18,-8 a13,13 0 0 1 24,4 a9,9 0 0 1 2,18 q-2,4 -8,3 q-6,5 -14,1 q-8,4 -14,-1 q-4,2 -6,1z" fill="url(#cldG)" stroke="#c8d2de" stroke-width="0.5"/></g><g transform="translate(225.6,1173.3) scale(0.5)"><path d="M-20,10 a9,9 0 0 1 -2,-18 a11,11 0 0 1 18,-8 a13,13 0 0 1 24,4 a9,9 0 0 1 2,18 q-2,4 -8,3 q-6,5 -14,1 q-8,4 -14,-1 q-4,2 -6,1z" fill="url(#cldG)" stroke="#c8d2de" stroke-width="0.5"/></g><g transform="translate(245.5,1162.1) scale(0.95)"><path d="M-20,10 a9,9 0 0 1 -2,-18 a11,11 0 0 1 18,-8 a13,13 0 0 1 24,4 a9,9 0 0 1 2,18 q-2,4 -8,3 q-6,5 -14,1 q-8,4 -14,-1 q-4,2 -6,1z" fill="url(#cldG)" stroke="#c8d2de" stroke-width="0.5"/></g><g transform="translate(271.6,1174.1) scale(0.7)"><path d="M-20,10 a9,9 0 0 1 -2,-18 a11,11 0 0 1 18,-8 a13,13 0 0 1 24,4 a9,9 0 0 1 2,18 q-2,4 -8,3 q-6,5 -14,1 q-8,4 -14,-1 q-4,2 -6,1z" fill="url(#cldG)" stroke="#c8d2de" stroke-width="0.5"/></g></svg>
<svg style="left:0;top:0" width="4590" height="2437" viewBox="0 0 4590 2437" font-family="Liberation Sans, sans-serif"><ellipse cx="255.4" cy="1624.5" rx="60" ry="50" transform="rotate(-20 255.4 1624.5)" fill="none" stroke="#62d2ef" stroke-width="0.55" opacity="0.85"/><ellipse cx="255.4" cy="1624.5" rx="61" ry="38" transform="rotate(25 255.4 1624.5)" fill="none" stroke="#62d2ef" stroke-width="0.55" opacity="0.85"/><ellipse cx="255.4" cy="1624.5" rx="52" ry="58" transform="rotate(50 255.4 1624.5)" fill="none" stroke="#62d2ef" stroke-width="0.55" opacity="0.85"/><ellipse cx="255.4" cy="1624.5" rx="62" ry="46" transform="rotate(0 255.4 1624.5)" fill="none" stroke="#62d2ef" stroke-width="0.55" opacity="0.85"/><ellipse cx="255.4" cy="1624.5" rx="58" ry="30" transform="rotate(-35 255.4 1624.5)" fill="none" stroke="#62d2ef" stroke-width="0.55" opacity="0.85"/><path d="M-44,28 a21,21 0 0 1 -3,-42 a25,25 0 0 1 38,-22 a30,30 0 0 1 50,14 a22,22 0 0 1 6,44 q-2,6 -10,6 z" transform="translate(256.3,1627.2) scale(0.86,0.93)" fill="#d9f5fd" stroke="#2cc6f2" stroke-width="4.5"/><path d="M-44,28 a21,21 0 0 1 -3,-42 a25,25 0 0 1 38,-22 a30,30 0 0 1 50,14 a22,22 0 0 1 6,44 q-2,6 -10,6 z" transform="translate(256.2,1627.3) scale(0.8,0.86)" fill="none" stroke="#8fe4fa" stroke-width="1.2"/><path d="M-44,28 a21,21 0 0 1 -3,-42 a25,25 0 0 1 38,-22 a30,30 0 0 1 50,14 a22,22 0 0 1 6,44 q-2,6 -10,6 z" transform="translate(255.6,1628.8) scale(0.63,0.72)" fill="url(#cl2)"/><path d="M-44,28 a21,21 0 0 1 -3,-42 a25,25 0 0 1 38,-22 a30,30 0 0 1 50,14 a22,22 0 0 1 6,44 q-2,6 -10,6 z" transform="translate(254.6,1629.0) scale(0.45,0.5)" fill="none" stroke="#eefaff" stroke-width="2.6"/><circle cx="207.4" cy="1572.5" r="2.6" fill="#eefaff" stroke="#62d2ef" stroke-width="0.5"/><circle cx="235.4" cy="1569.5" r="2.6" fill="#eefaff" stroke="#62d2ef" stroke-width="0.5"/><circle cx="213.4" cy="1594.5" r="2.6" fill="#eefaff" stroke="#62d2ef" stroke-width="0.5"/><circle cx="195.4" cy="1612.5" r="2.6" fill="#eefaff" stroke="#62d2ef" stroke-width="0.5"/><circle cx="297.4" cy="1579.5" r="2.6" fill="#eefaff" stroke="#62d2ef" stroke-width="0.5"/><circle cx="310.4" cy="1612.5" r="2.6" fill="#eefaff" stroke="#62d2ef" stroke-width="0.5"/><circle cx="283.4" cy="1672.5" r="2.6" fill="#eefaff" stroke="#62d2ef" stroke-width="0.5"/><circle cx="250.4" cy="1679.5" r="2.6" fill="#eefaff" stroke="#62d2ef" stroke-width="0.5"/><circle cx="211.4" cy="1674.5" r="2.6" fill="#eefaff" stroke="#62d2ef" stroke-width="0.5"/></svg>
<svg style="left:0;top:0" width="4590" height="2437" viewBox="0 0 4590 2437" font-family="Liberation Sans, sans-serif"><ellipse cx="250.5" cy="2196.7" rx="63.4" ry="17.9" fill="#e3e6ec"/><ellipse cx="250.5" cy="2194.2" rx="63.4" ry="17.9" fill="url(#plat)"/><path d="M192.1,2200.4 Q250.5,2219.0 310.1,2200.4" fill="none" stroke="url(#prp)" stroke-width="1"/><ellipse cx="250.5" cy="2184.3" rx="41" ry="10.4" fill="#5fb8f2"/><ellipse cx="250.5" cy="2182.3" rx="41" ry="9.9" fill="#a9dcfb"/><path d="M218.2,2161.4 Q194.6,2164.4 196.5,2170.6 L207.0,2178.0 L207.0,2170.6 Q204.5,2165.6 218.2,2164.4Z" fill="#4fc4f6"/><path d="M284.0,2161.4 Q307.6,2164.4 305.9,2170.6 L294.0,2178.8 L294.0,2171.3 Q297.7,2165.6 284.0,2164.4Z" fill="#4fc4f6"/><rect x="223.1" y="2102.7" width="62.9" height="72.1" fill="#2a90ea" rx="9"/><rect x="218.2" y="2103.5" width="63.4" height="70.8" fill="url(#pan)" rx="9"/><rect x="221.4" y="2106.7" width="56.9" height="64.4" fill="#eef0f6" rx="6"/><rect x="223.9" y="2139.5" width="10.4" height="24.9" fill="#2a9df4"/><rect x="223.9" y="2161.9" width="10.4" height="4.5" fill="#7ab8ee" opacity="0.5"/><rect x="238.8" y="2129.6" width="10.4" height="34.8" fill="#2a9df4"/><rect x="238.8" y="2161.9" width="10.4" height="4.5" fill="#7ab8ee" opacity="0.5"/><rect x="254.2" y="2117.7" width="10.4" height="46.7" fill="#2a9df4"/><rect x="254.2" y="2161.9" width="10.4" height="4.5" fill="#7ab8ee" opacity="0.5"/></svg>
<svg style="left:0;top:0" width="4590" height="2437" viewBox="0 0 4590 2437" font-family="Liberation Sans, sans-serif"><rect x="419.6" y="1057.3" width="126.2" height="22.2" fill="#fff" stroke="#7ad3d6" stroke-width="1.3"/><text x="482.7" y="1063.5" font-size="5.8" fill="#333" text-anchor="middle" textLength="110.2" lengthAdjust="spacingAndGlyphs">To achieve the function of protection blocks auto reclose,</text><text x="482.7" y="1070.4" font-size="5.8" fill="#333" text-anchor="middle" textLength="114" lengthAdjust="spacingAndGlyphs">which affects the logic of protection reclosing, the circuit</text><text x="482.7" y="1077.3" font-size="5.8" fill="#333" text-anchor="middle" textLength="32.3" lengthAdjust="spacingAndGlyphs">must be connected</text><rect x="419.6" y="1086" width="126.2" height="23" fill="#fff" stroke="#4468c8" stroke-width="1.6"/><text x="482.7" y="1092.6" font-size="5.8" fill="#333" text-anchor="middle" textLength="98.8" lengthAdjust="spacingAndGlyphs">To achieve protection operations and result feedback</text><text x="482.7" y="1099.5" font-size="5.8" fill="#333" text-anchor="middle" textLength="115.9" lengthAdjust="spacingAndGlyphs">functions, which affects the logic of protection tripping and</text><text x="482.7" y="1106.4" font-size="5.8" fill="#333" text-anchor="middle" textLength="76" lengthAdjust="spacingAndGlyphs">reclosing, the circuit must be connected</text><rect x="419.6" y="1114.5" width="126.2" height="18.9" fill="#fff" stroke="#7ad3d6" stroke-width="1.3"/><text x="482.7" y="1122.6" font-size="5.8" fill="#333" text-anchor="middle" textLength="102.6" lengthAdjust="spacingAndGlyphs">To achieve the protection trip function and affect the</text><text x="482.7" y="1129.5" font-size="5.8" fill="#333" text-anchor="middle" textLength="98.8" lengthAdjust="spacingAndGlyphs">protection trip logic, the circuit must be connected</text><rect x="419.6" y="1139.3" width="126.2" height="19.2" fill="#fff" stroke="#8fd16a" stroke-width="1.3"/><text x="482.7" y="1147.4" font-size="5.8" fill="#333" text-anchor="middle" textLength="112.1" lengthAdjust="spacingAndGlyphs">To achieve the protection reclosing function and affect the</text><text x="482.7" y="1154.3" font-size="5.8" fill="#333" text-anchor="middle" textLength="108.3" lengthAdjust="spacingAndGlyphs">protection reclosing logic, the circuit must be connected</text><rect x="419.6" y="1163.7" width="126.2" height="45.7" fill="#fff" stroke="#4468c8" stroke-width="1.6"/><text x="482.7" y="1171.4" font-size="5.8" fill="#333" text-anchor="middle" textLength="104.5" lengthAdjust="spacingAndGlyphs">To achieve the protection blocks reclosing function and</text><text x="482.7" y="1178.3" font-size="5.8" fill="#333" text-anchor="middle" textLength="106.4" lengthAdjust="spacingAndGlyphs">affects the coordination logic of dual protection blocks</text><text x="482.7" y="1185.1" font-size="5.8" fill="#333" text-anchor="middle" textLength="119.7" lengthAdjust="spacingAndGlyphs">reclosing, and the circuit must be connected. If it is missing,</text><text x="482.7" y="1192" font-size="5.8" fill="#333" text-anchor="middle" textLength="114" lengthAdjust="spacingAndGlyphs">it will have a general impact. Some protections send virtual</text><text x="482.7" y="1198.9" font-size="5.8" fill="#333" text-anchor="middle" textLength="100.7" lengthAdjust="spacingAndGlyphs">terminal names as permanent trips, which are prone to</text><text x="482.7" y="1205.8" font-size="5.8" fill="#333" text-anchor="middle" textLength="24.7" lengthAdjust="spacingAndGlyphs">incorrect use</text><rect x="421.1" y="1244" width="125.4" height="39.6" fill="#fff" stroke="#2b3a78" stroke-width="1.5"/><text x="483.8" y="1252" font-size="5.8" fill="#333" text-anchor="middle" textLength="106.4" lengthAdjust="spacingAndGlyphs">To achieve the protection of remote trip function, which</text><text x="483.8" y="1258.9" font-size="5.8" fill="#333" text-anchor="middle" textLength="115.9" lengthAdjust="spacingAndGlyphs">affects the protection of remote trip logic, the circuit must</text><text x="483.8" y="1265.8" font-size="5.8" fill="#333" text-anchor="middle" textLength="104.5" lengthAdjust="spacingAndGlyphs">be connected, and it can also be achieved through other</text><text x="483.8" y="1272.7" font-size="5.8" fill="#333" text-anchor="middle" textLength="110.2" lengthAdjust="spacingAndGlyphs">protection stop signals, remote transmission 1, and remote</text><text x="483.8" y="1279.6" font-size="5.8" fill="#333" text-anchor="middle" textLength="41.8" lengthAdjust="spacingAndGlyphs">trip virtual terminals</text><rect x="421.1" y="1295.7" width="125.4" height="35.1" fill="#fff" stroke="#7ad3d6" stroke-width="1.3"/><text x="483.8" y="1304.9" font-size="5.8" fill="#333" text-anchor="middle" textLength="114" lengthAdjust="spacingAndGlyphs">To achieve the function of protection failure, which affects</text><text x="483.8" y="1311.8" font-size="5.8" fill="#333" text-anchor="middle" textLength="119.7" lengthAdjust="spacingAndGlyphs">the logic of protection failure, the circuit must be connected.</text><text x="483.8" y="1318.7" font-size="5.8" fill="#333" text-anchor="middle" textLength="110.2" lengthAdjust="spacingAndGlyphs">Some earlier intelligent stations were implemented through</text><text x="483.8" y="1325.6" font-size="5.8" fill="#333" text-anchor="middle" textLength="53.2" lengthAdjust="spacingAndGlyphs">the intelligent terminal TJR</text><rect x="890" y="1071.6" width="125.4" height="51" fill="#fff" stroke="#7ad3d6" stroke-width="1.3"/><text x="952.7" y="1081.9" font-size="5.8" fill="#333" text-anchor="middle" textLength="114" lengthAdjust="spacingAndGlyphs">To achieve protection sampling interpolation function, which</text><text x="952.7" y="1088.8" font-size="5.8" fill="#333" text-anchor="middle" textLength="100.7" lengthAdjust="spacingAndGlyphs">affects the logic of protection sampling calculation,</text><text x="952.7" y="1095.7" font-size="5.8" fill="#333" text-anchor="middle" textLength="110.2" lengthAdjust="spacingAndGlyphs">including 87L, F21, 50/51G protection. The circuit must be</text><text x="952.7" y="1102.6" font-size="5.8" fill="#333" text-anchor="middle" textLength="108.3" lengthAdjust="spacingAndGlyphs">connected, and there is no this virtual terminal for some</text><text x="952.7" y="1109.5" font-size="5.8" fill="#333" text-anchor="middle" textLength="115.9" lengthAdjust="spacingAndGlyphs">devices. It is implemented in a private way, and some virtual</text><text x="952.7" y="1116.4" font-size="5.8" fill="#333" text-anchor="middle" textLength="95" lengthAdjust="spacingAndGlyphs">terminals are not defined in a standardized manner</text><rect x="890" y="1136.5" width="125.4" height="36.8" fill="#fff" stroke="#4468c8" stroke-width="1.6"/><text x="952.7" y="1146.6" font-size="5.8" fill="#333" text-anchor="middle" textLength="110.2" lengthAdjust="spacingAndGlyphs">To achieve the protection sampling function may affect the</text><text x="952.7" y="1153.5" font-size="5.8" fill="#333" text-anchor="middle" textLength="95" lengthAdjust="spacingAndGlyphs">protection sampling logic, and the circuit must be</text><text x="952.7" y="1160.4" font-size="5.8" fill="#333" text-anchor="middle" textLength="108.3" lengthAdjust="spacingAndGlyphs">connected. There may be a two-phase CT, and multiple sets</text><text x="952.7" y="1167.3" font-size="5.8" fill="#333" text-anchor="middle" textLength="72.2" lengthAdjust="spacingAndGlyphs">of current outputs of the merging unit</text><rect x="890" y="1196.8" width="125.4" height="30" fill="#fff" stroke="#e05252" stroke-width="1.5"/><text x="952.7" y="1210.4" font-size="5.8" fill="#333" text-anchor="middle" textLength="110.2" lengthAdjust="spacingAndGlyphs">To achieve the protection sampling function and affect the</text><text x="952.7" y="1217.3" font-size="5.8" fill="#333" text-anchor="middle" textLength="106.4" lengthAdjust="spacingAndGlyphs">protection sampling logic, the circuit must be connected</text><rect x="890" y="1246.5" width="125.4" height="39.9" fill="#fff" stroke="#8fd16a" stroke-width="1.3"/><text x="952.7" y="1254.7" font-size="5.8" fill="#333" text-anchor="middle" textLength="108.3" lengthAdjust="spacingAndGlyphs">To achieve the protection synchronization function, which</text><text x="952.7" y="1261.6" font-size="5.8" fill="#333" text-anchor="middle" textLength="117.8" lengthAdjust="spacingAndGlyphs">affects the protection synchronization logic, the circuit must</text><text x="952.7" y="1268.5" font-size="5.8" fill="#333" text-anchor="middle" textLength="104.5" lengthAdjust="spacingAndGlyphs">be connected. Not checking the synchronization does not</text><text x="952.7" y="1275.3" font-size="5.8" fill="#333" text-anchor="middle" textLength="106.4" lengthAdjust="spacingAndGlyphs">affect the function. There might be only a single AD for</text><text x="952.7" y="1282.2" font-size="5.8" fill="#333" text-anchor="middle" textLength="62.7" lengthAdjust="spacingAndGlyphs">some earlier intelligent stations</text><rect x="549.3" y="1045.6" width="83.5" height="133.7" fill="#fff" stroke="#555" stroke-width="1.1"/><rect x="549.3" y="1199.3" width="83.5" height="133.5" fill="#fff" stroke="#555" stroke-width="1.1"/><rect x="654.3" y="1045.6" width="135.3" height="287.2" fill="#fff" stroke="#555" stroke-width="1.1"/><rect x="810.5" y="1045.6" width="73.9" height="287.2" fill="#fff" stroke="#555" stroke-width="1.1"/><text x="619.7" y="1054.5" font-size="5.2" fill="#d9403a" text-anchor="middle" textLength="14" lengthAdjust="spacingAndGlyphs" font-weight="bold">GOOSE</text><text x="619.7" y="1061.3" font-size="5.2" fill="#d9403a" text-anchor="middle" textLength="12" lengthAdjust="spacingAndGlyphs" font-weight="bold">sends</text><g transform="translate(605.1,1057.0) scale(0.42)"><path d="M-7,6 a5,5 0 0 1 0,-10 a6.5,6.5 0 0 1 12,-3 a5.5,5.5 0 0 1 2,13 Z" fill="#111"/><path d="M0,-2 v6 m-2.5,-2.5 l2.5,3 l2.5,-3" stroke="#fff" stroke-width="1.6" fill="none"/></g><text x="629.8" y="1069.9" font-size="5.6" fill="#333" text-anchor="end" textLength="78" lengthAdjust="spacingAndGlyphs">Circuit breaker phase trip position TWJa</text><text x="655.8" y="1069.9" font-size="5.6" fill="#333" textLength="78" lengthAdjust="spacingAndGlyphs">Circuit breaker phase trip position TWJa</text><path d="M633.3,1067.9L653,1067.9" stroke="#8fdede" stroke-width="0.9" fill="none"/><path d="M653,1067.9L649.5,1069.4L649.5,1066.3Z" fill="#8fdede"/><text x="629.8" y="1077.9" font-size="5.6" fill="#333" text-anchor="end" textLength="78" lengthAdjust="spacingAndGlyphs">Circuit breaker phase trip position TWJb</text><text x="655.8" y="1077.9" font-size="5.6" fill="#333" textLength="78" lengthAdjust="spacingAndGlyphs">Circuit breaker phase trip position TWJb</text><path d="M633.3,1075.9L653,1075.9" stroke="#8fdede" stroke-width="0.9" fill="none"/><path d="M653,1075.9L649.5,1077.5L649.5,1074.3Z" fill="#8fdede"/><text x="629.8" y="1086.3" font-size="5.6" fill="#333" text-anchor="end" textLength="78" lengthAdjust="spacingAndGlyphs">Circuit breaker phase trip position TWJc</text><text x="655.8" y="1086.3" font-size="5.6" fill="#333" textLength="78" lengthAdjust="spacingAndGlyphs">Circuit breaker phase trip position TWJc</text><path d="M633.3,1084.3L653,1084.3" stroke="#8fdede" stroke-width="0.9" fill="none"/><path d="M653,1084.3L649.5,1085.8L649.5,1082.7Z" fill="#8fdede"/><text x="629.8" y="1094.3" font-size="5.6" fill="#333" text-anchor="end" textLength="35.1" lengthAdjust="spacingAndGlyphs">Locking recloser-1</text><text x="655.8" y="1094.3" font-size="5.6" fill="#333" textLength="35.1" lengthAdjust="spacingAndGlyphs">Locking recloser-1</text><path d="M633.3,1092.3L653,1092.3" stroke="#5b7fd6" stroke-width="0.9" fill="none"/><path d="M653,1092.3L649.5,1093.9L649.5,1090.8Z" fill="#5b7fd6"/><text x="629.8" y="1102.7" font-size="5.6" fill="#333" text-anchor="end" textLength="64.3" lengthAdjust="spacingAndGlyphs">Low pressure locking auto reclose</text><text x="655.8" y="1102.7" font-size="5.6" fill="#333" textLength="64.3" lengthAdjust="spacingAndGlyphs">Low pressure locking auto reclose</text><path d="M633.3,1100.7L653,1100.7" stroke="#4468c8" stroke-width="0.9" fill="none"/><path d="M653,1100.7L649.5,1102.2L649.5,1099.1Z" fill="#4468c8"/><text x="619.7" y="1114.8" font-size="5.2" fill="#d9403a" text-anchor="middle" textLength="14" lengthAdjust="spacingAndGlyphs" font-weight="bold">GOOSE</text><text x="619.7" y="1121.6" font-size="5.2" fill="#d9403a" text-anchor="middle" textLength="16.8" lengthAdjust="spacingAndGlyphs" font-weight="bold">Receive</text><g transform="translate(605.1,1117.3) scale(0.42)"><path d="M-7,6 a5,5 0 0 1 0,-10 a6.5,6.5 0 0 1 12,-3 a5.5,5.5 0 0 1 2,13 Z" fill="#111"/><path d="M0,-2 v6 m-2.5,-2.5 l2.5,3 l2.5,-3" stroke="#fff" stroke-width="1.6" fill="none"/></g><text x="571.3" y="1120.1" font-size="8.2" fill="#c0392b" text-anchor="middle" textLength="25.5" lengthAdjust="spacingAndGlyphs" font-weight="bold">220kV line</text><text x="571.3" y="1129.7" font-size="8.2" fill="#c0392b" text-anchor="middle" textLength="28" lengthAdjust="spacingAndGlyphs" font-weight="bold">intelligent</text><text x="571.3" y="1139.3" font-size="8.2" fill="#c0392b" text-anchor="middle" textLength="20.4" lengthAdjust="spacingAndGlyphs" font-weight="bold">terminal</text><rect x="552.3" y="1142.1" width="38" height="11" rx="1.5" fill="#24405f"/><rect x="554.3" y="1152.6" width="34" height="2" fill="#1a2d45"/><rect x="568.3" y="1144.1" width="14" height="1.6" fill="#e7b23a"/><rect x="556.3" y="1148.1" width="26" height="1.2" fill="#5d7da0"/><text x="629.3" y="1130.9" font-size="5.6" fill="#333" text-anchor="end" textLength="13.7" lengthAdjust="spacingAndGlyphs">Trip A1</text><text x="655.8" y="1130.9" font-size="5.6" fill="#333" textLength="48.8" lengthAdjust="spacingAndGlyphs">Circuit breaker A tripped</text><path d="M653,1128.9L633.3,1128.9" stroke="#5ccfd6" stroke-width="0.9" fill="none"/><path d="M633.3,1128.9L636.8,1127.3L636.8,1130.5Z" fill="#5ccfd6"/><text x="629.3" y="1139.3" font-size="5.6" fill="#333" text-anchor="end" textLength="13.7" lengthAdjust="spacingAndGlyphs">Trip B1</text><text x="655.8" y="1139.3" font-size="5.6" fill="#333" textLength="48.8" lengthAdjust="spacingAndGlyphs">Circuit breaker B tripped</text><path d="M653,1137.2L633.3,1137.2" stroke="#5ccfd6" stroke-width="0.9" fill="none"/><path d="M633.3,1137.2L636.8,1135.7L636.8,1138.8Z" fill="#5ccfd6"/><text x="629.3" y="1147.6" font-size="5.6" fill="#333" text-anchor="end" textLength="13.7" lengthAdjust="spacingAndGlyphs">Trip C1</text><text x="655.8" y="1147.6" font-size="5.6" fill="#333" textLength="48.8" lengthAdjust="spacingAndGlyphs">Circuit breaker C tripped</text><path d="M653,1145.6L633.3,1145.6" stroke="#9ad8dc" stroke-width="0.9" fill="none"/><path d="M633.3,1145.6L636.8,1144L636.8,1147.1Z" fill="#9ad8dc"/><text x="629.3" y="1155.9" font-size="5.6" fill="#333" text-anchor="end" textLength="17.6" lengthAdjust="spacingAndGlyphs">Reclose 1</text><text x="655.8" y="1155.9" font-size="5.6" fill="#333" textLength="23.4" lengthAdjust="spacingAndGlyphs">Auto reclose</text><path d="M653,1153.9L633.3,1153.9" stroke="#8fd16a" stroke-width="0.9" fill="none"/><path d="M633.3,1153.9L636.8,1152.3L636.8,1155.5Z" fill="#8fd16a"/><text x="629.3" y="1164.2" font-size="5.6" fill="#333" text-anchor="end" textLength="42.9" lengthAdjust="spacingAndGlyphs">Locking auto reclose 1</text><text x="655.8" y="1164.2" font-size="5.6" fill="#333" textLength="39" lengthAdjust="spacingAndGlyphs">Locking auto reclose</text><path d="M653,1162.2L633.3,1162.2" stroke="#3558c8" stroke-width="0.9" fill="none"/><path d="M633.3,1162.2L636.8,1160.6L636.8,1163.8Z" fill="#3558c8"/><text x="666.4" y="1054.5" font-size="5.2" fill="#d9403a" text-anchor="middle" textLength="14" lengthAdjust="spacingAndGlyphs" font-weight="bold">GOOSE</text><text x="666.4" y="1061.3" font-size="5.2" fill="#d9403a" text-anchor="middle" textLength="16.8" lengthAdjust="spacingAndGlyphs" font-weight="bold">Receive</text><g transform="translate(682.0,1057.0) scale(0.42)"><path d="M-7,6 a5,5 0 0 1 0,-10 a6.5,6.5 0 0 1 12,-3 a5.5,5.5 0 0 1 2,13 Z" fill="#111"/><path d="M0,-2 v6 m-2.5,-2.5 l2.5,3 l2.5,-3" stroke="#fff" stroke-width="1.6" fill="none"/></g><text x="666.4" y="1114.8" font-size="5.2" fill="#d9403a" text-anchor="middle" textLength="14" lengthAdjust="spacingAndGlyphs" font-weight="bold">GOOSE</text><text x="666.4" y="1121.6" font-size="5.2" fill="#d9403a" text-anchor="middle" textLength="12" lengthAdjust="spacingAndGlyphs" font-weight="bold">sends</text><g transform="translate(682.0,1117.3) scale(0.42)"><path d="M-7,6 a5,5 0 0 1 0,-10 a6.5,6.5 0 0 1 12,-3 a5.5,5.5 0 0 1 2,13 Z" fill="#111"/><path d="M0,-2 v6 m-2.5,-2.5 l2.5,3 l2.5,-3" stroke="#fff" stroke-width="1.6" fill="none"/></g><text x="688.4" y="1190.7" font-size="8.2" fill="#c0392b" text-anchor="middle" textLength="25.5" lengthAdjust="spacingAndGlyphs" font-weight="bold">220kV line</text><text x="688.4" y="1200.3" font-size="8.2" fill="#c0392b" text-anchor="middle" textLength="25.5" lengthAdjust="spacingAndGlyphs" font-weight="bold">protection</text><rect x="669.4" y="1205.2" width="38" height="11" rx="1.5" fill="#24405f"/><rect x="671.4" y="1215.7" width="34" height="2" fill="#1a2d45"/><rect x="685.4" y="1207.2" width="14" height="1.6" fill="#e7b23a"/><rect x="673.4" y="1211.2" width="26" height="1.2" fill="#5d7da0"/><text x="666.4" y="1250.8" font-size="5.2" fill="#d9403a" text-anchor="middle" textLength="14" lengthAdjust="spacingAndGlyphs" font-weight="bold">GOOSE</text><text x="666.4" y="1257.6" font-size="5.2" fill="#d9403a" text-anchor="middle" textLength="16.8" lengthAdjust="spacingAndGlyphs" font-weight="bold">Receive</text><g transform="translate(682.0,1253.3) scale(0.42)"><path d="M-7,6 a5,5 0 0 1 0,-10 a6.5,6.5 0 0 1 12,-3 a5.5,5.5 0 0 1 2,13 Z" fill="#111"/><path d="M0,-2 v6 m-2.5,-2.5 l2.5,3 l2.5,-3" stroke="#fff" stroke-width="1.6" fill="none"/></g><text x="666.4" y="1284.4" font-size="5.2" fill="#d9403a" text-anchor="middle" textLength="14" lengthAdjust="spacingAndGlyphs" font-weight="bold">GOOSE</text><text x="666.4" y="1291.2" font-size="5.2" fill="#d9403a" text-anchor="middle" textLength="12" lengthAdjust="spacingAndGlyphs" font-weight="bold">sends</text><g transform="translate(682.0,1286.9) scale(0.42)"><path d="M-7,6 a5,5 0 0 1 0,-10 a6.5,6.5 0 0 1 12,-3 a5.5,5.5 0 0 1 2,13 Z" fill="#111"/><path d="M0,-2 v6 m-2.5,-2.5 l2.5,3 l2.5,-3" stroke="#fff" stroke-width="1.6" fill="none"/></g><text x="660.1" y="1268.7" font-size="5.6" fill="#333" textLength="52.6" lengthAdjust="spacingAndGlyphs">Other protection operated-1</text><text x="657.8" y="1302.5" font-size="5.6" fill="#333" textLength="60.4" lengthAdjust="spacingAndGlyphs">Circuit breaker A phase failure</text><text x="628.5" y="1302.5" font-size="5.6" fill="#333" text-anchor="end" textLength="70.2" lengthAdjust="spacingAndGlyphs">Start failure in phase A of branch 6</text><path d="M652,1300.5L633.8,1300.5" stroke="#7ad3d6" stroke-width="0.9" fill="none"/><path d="M633.8,1300.5L637.3,1298.9L637.3,1302.1Z" fill="#7ad3d6"/><text x="657.8" y="1310.8" font-size="5.6" fill="#333" textLength="60.4" lengthAdjust="spacingAndGlyphs">Circuit breaker B phase failure</text><text x="628.5" y="1310.8" font-size="5.6" fill="#333" text-anchor="end" textLength="70.2" lengthAdjust="spacingAndGlyphs">Start failure in phase B of branch 6</text><path d="M652,1308.8L633.8,1308.8" stroke="#7ad3d6" stroke-width="0.9" fill="none"/><path d="M633.8,1308.8L637.3,1307.3L637.3,1310.4Z" fill="#7ad3d6"/><text x="657.8" y="1319.2" font-size="5.6" fill="#333" textLength="60.4" lengthAdjust="spacingAndGlyphs">Circuit breaker C phase failure</text><text x="628.5" y="1319.2" font-size="5.6" fill="#333" text-anchor="end" textLength="70.2" lengthAdjust="spacingAndGlyphs">Start failure in phase C of branch 6</text><path d="M652,1317.2L633.8,1317.2" stroke="#7ad3d6" stroke-width="0.9" fill="none"/><path d="M633.8,1317.2L637.3,1315.6L637.3,1318.7Z" fill="#7ad3d6"/><text x="581.1" y="1212.9" font-size="8.2" fill="#c0392b" text-anchor="middle" textLength="30.6" lengthAdjust="spacingAndGlyphs" font-weight="bold">220kV busbar</text><text x="581.1" y="1222.5" font-size="8.2" fill="#c0392b" text-anchor="middle" textLength="25.5" lengthAdjust="spacingAndGlyphs" font-weight="bold">protection</text><rect x="562.1" y="1226.9" width="38" height="11" rx="1.5" fill="#24405f"/><rect x="564.1" y="1237.4" width="34" height="2" fill="#1a2d45"/><rect x="578.1" y="1228.9" width="14" height="1.6" fill="#e7b23a"/><rect x="566.1" y="1232.9" width="26" height="1.2" fill="#5d7da0"/><text x="619.7" y="1250.8" font-size="5.2" fill="#d9403a" text-anchor="middle" textLength="14" lengthAdjust="spacingAndGlyphs" font-weight="bold">GOOSE</text><text x="619.7" y="1257.6" font-size="5.2" fill="#d9403a" text-anchor="middle" textLength="12" lengthAdjust="spacingAndGlyphs" font-weight="bold">sends</text><g transform="translate(605.1,1253.3) scale(0.42)"><path d="M-7,6 a5,5 0 0 1 0,-10 a6.5,6.5 0 0 1 12,-3 a5.5,5.5 0 0 1 2,13 Z" fill="#111"/><path d="M0,-2 v6 m-2.5,-2.5 l2.5,3 l2.5,-3" stroke="#fff" stroke-width="1.6" fill="none"/></g><text x="626.8" y="1268.7" font-size="5.6" fill="#333" text-anchor="end" textLength="27.3" lengthAdjust="spacingAndGlyphs">Branch 6_ Trip</text><path d="M633.3,1266.4L652.5,1266.4" stroke="#3558c8" stroke-width="0.9" fill="none"/><path d="M652.5,1266.4L649,1268L649,1264.9Z" fill="#3558c8"/><text x="619.7" y="1284.4" font-size="5.2" fill="#d9403a" text-anchor="middle" textLength="14" lengthAdjust="spacingAndGlyphs" font-weight="bold">GOOSE</text><text x="619.7" y="1291.2" font-size="5.2" fill="#d9403a" text-anchor="middle" textLength="16.8" lengthAdjust="spacingAndGlyphs" font-weight="bold">Receive</text><g transform="translate(605.1,1286.9) scale(0.42)"><path d="M-7,6 a5,5 0 0 1 0,-10 a6.5,6.5 0 0 1 12,-3 a5.5,5.5 0 0 1 2,13 Z" fill="#111"/><path d="M0,-2 v6 m-2.5,-2.5 l2.5,3 l2.5,-3" stroke="#fff" stroke-width="1.6" fill="none"/></g><text x="774.1" y="1103.4" font-size="5.2" fill="#d9403a" text-anchor="middle" textLength="22" lengthAdjust="spacingAndGlyphs" font-weight="bold">SV  Receive</text><g transform="translate(756.2,1101.4) scale(0.42)"><path d="M-7,6 a5,5 0 0 1 0,-10 a6.5,6.5 0 0 1 12,-3 a5.5,5.5 0 0 1 2,13 Z" fill="#111"/><path d="M0,-2 v6 m-2.5,-2.5 l2.5,3 l2.5,-3" stroke="#fff" stroke-width="1.6" fill="none"/></g><text x="823.6" y="1103.4" font-size="5.2" fill="#d9403a" text-anchor="middle" textLength="18" lengthAdjust="spacingAndGlyphs" font-weight="bold">SV sends</text><g transform="translate(841.8,1101.4) scale(0.42)"><path d="M-7,6 a5,5 0 0 1 0,-10 a6.5,6.5 0 0 1 12,-3 a5.5,5.5 0 0 1 2,13 Z" fill="#111"/><path d="M0,-2 v6 m-2.5,-2.5 l2.5,3 l2.5,-3" stroke="#fff" stroke-width="1.6" fill="none"/></g><text x="842.3" y="1059.3" font-size="8.2" fill="#c0392b" text-anchor="middle" textLength="25.5" lengthAdjust="spacingAndGlyphs" font-weight="bold">220kV line</text><text x="842.3" y="1068.9" font-size="8.2" fill="#c0392b" text-anchor="middle" textLength="30.6" lengthAdjust="spacingAndGlyphs" font-weight="bold">merging unit</text><rect x="823.3" y="1074.7" width="38" height="11" rx="1.5" fill="#24405f"/><rect x="825.3" y="1085.2" width="34" height="2" fill="#1a2d45"/><rect x="839.3" y="1076.7" width="14" height="1.6" fill="#e7b23a"/><rect x="827.3" y="1080.7" width="26" height="1.2" fill="#5d7da0"/><text x="784.5" y="1115.5" font-size="5.6" fill="#333" text-anchor="end" textLength="27.3" lengthAdjust="spacingAndGlyphs">MU rated delay</text><text x="812.8" y="1114.3" font-size="5.6" fill="#333" textLength="27.3" lengthAdjust="spacingAndGlyphs">MU rated delay</text><path d="M808.5,1113.5L791.6,1113.5" stroke="#9adfe6" stroke-width="0.9" fill="none"/><path d="M791.6,1113.5L795.1,1111.9L795.1,1115.1Z" fill="#9adfe6"/><text x="784.5" y="1126.9" font-size="5.6" fill="#333" text-anchor="end" textLength="58.5" lengthAdjust="spacingAndGlyphs">Protection phase A current Ia1</text><text x="812.8" y="1125.6" font-size="5.6" fill="#333" textLength="58.5" lengthAdjust="spacingAndGlyphs">Protection phase A current Ia1</text><path d="M808.5,1124.9L791.6,1124.9" stroke="#3f63cf" stroke-width="0.9" fill="none"/><path d="M791.6,1124.9L795.1,1123.3L795.1,1126.5Z" fill="#3f63cf"/><text x="784.5" y="1137.7" font-size="5.6" fill="#333" text-anchor="end" textLength="58.5" lengthAdjust="spacingAndGlyphs">Protection phase A current Ia2</text><text x="812.8" y="1136.5" font-size="5.6" fill="#333" textLength="58.5" lengthAdjust="spacingAndGlyphs">Protection phase A current Ia2</text><path d="M808.5,1135.7L791.6,1135.7" stroke="#3f63cf" stroke-width="0.9" fill="none"/><path d="M791.6,1135.7L795.1,1134.2L795.1,1137.3Z" fill="#3f63cf"/><text x="784.5" y="1148.8" font-size="5.6" fill="#333" text-anchor="end" textLength="58.5" lengthAdjust="spacingAndGlyphs">Protection phase B current Ib1</text><text x="812.8" y="1147.6" font-size="5.6" fill="#333" textLength="58.5" lengthAdjust="spacingAndGlyphs">Protection phase B current Ib1</text><path d="M808.5,1146.8L791.6,1146.8" stroke="#3f63cf" stroke-width="0.9" fill="none"/><path d="M791.6,1146.8L795.1,1145.3L795.1,1148.4Z" fill="#3f63cf"/><text x="784.5" y="1159.7" font-size="5.6" fill="#333" text-anchor="end" textLength="58.5" lengthAdjust="spacingAndGlyphs">Protection phase B current Ib2</text><text x="812.8" y="1158.4" font-size="5.6" fill="#333" textLength="58.5" lengthAdjust="spacingAndGlyphs">Protection phase B current Ib2</text><path d="M808.5,1157.7L791.6,1157.7" stroke="#3f63cf" stroke-width="0.9" fill="none"/><path d="M791.6,1157.7L795.1,1156.1L795.1,1159.3Z" fill="#3f63cf"/><text x="784.5" y="1170.8" font-size="5.6" fill="#333" text-anchor="end" textLength="58.5" lengthAdjust="spacingAndGlyphs">Protection phase C current Ic1</text><text x="812.8" y="1169.5" font-size="5.6" fill="#333" textLength="58.5" lengthAdjust="spacingAndGlyphs">Protection phase C current Ic1</text><path d="M808.5,1168.8L791.6,1168.8" stroke="#3f63cf" stroke-width="0.9" fill="none"/><path d="M791.6,1168.8L795.1,1167.2L795.1,1170.4Z" fill="#3f63cf"/><text x="784.5" y="1181.9" font-size="5.6" fill="#333" text-anchor="end" textLength="58.5" lengthAdjust="spacingAndGlyphs">Protection phase C current Ic2</text><text x="812.8" y="1180.6" font-size="5.6" fill="#333" textLength="58.5" lengthAdjust="spacingAndGlyphs">Protection phase C current Ic2</text><path d="M808.5,1179.9L791.6,1179.9" stroke="#3f63cf" stroke-width="0.9" fill="none"/><path d="M791.6,1179.9L795.1,1178.3L795.1,1181.5Z" fill="#3f63cf"/><text x="784.5" y="1192.8" font-size="5.6" fill="#333" text-anchor="end" textLength="58.5" lengthAdjust="spacingAndGlyphs">Protection phase A voltage Ua1</text><text x="812.8" y="1191.5" font-size="5.6" fill="#333" textLength="58.5" lengthAdjust="spacingAndGlyphs">Protection phase A voltage Ua1</text><path d="M808.5,1190.7L791.6,1190.7" stroke="#e04a44" stroke-width="0.9" fill="none"/><path d="M791.6,1190.7L795.1,1189.2L795.1,1192.3Z" fill="#e04a44"/><text x="784.5" y="1203.9" font-size="5.6" fill="#333" text-anchor="end" textLength="58.5" lengthAdjust="spacingAndGlyphs">Protection phase A voltage Ua2</text><text x="812.8" y="1202.6" font-size="5.6" fill="#333" textLength="58.5" lengthAdjust="spacingAndGlyphs">Protection phase A voltage Ua2</text><path d="M808.5,1201.8L791.6,1201.8" stroke="#e04a44" stroke-width="0.9" fill="none"/><path d="M791.6,1201.8L795.1,1200.3L795.1,1203.4Z" fill="#e04a44"/><text x="784.5" y="1215" font-size="5.6" fill="#333" text-anchor="end" textLength="58.5" lengthAdjust="spacingAndGlyphs">Protection phase B voltage Ub1</text><text x="812.8" y="1213.7" font-size="5.6" fill="#333" textLength="58.5" lengthAdjust="spacingAndGlyphs">Protection phase B voltage Ub1</text><path d="M808.5,1212.9L791.6,1212.9" stroke="#e04a44" stroke-width="0.9" fill="none"/><path d="M791.6,1212.9L795.1,1211.4L795.1,1214.5Z" fill="#e04a44"/><text x="784.5" y="1225.8" font-size="5.6" fill="#333" text-anchor="end" textLength="58.5" lengthAdjust="spacingAndGlyphs">Protection phase B voltage Ub2</text><text x="812.8" y="1224.5" font-size="5.6" fill="#333" textLength="58.5" lengthAdjust="spacingAndGlyphs">Protection phase B voltage Ub2</text><path d="M808.5,1223.8L791.6,1223.8" stroke="#e04a44" stroke-width="0.9" fill="none"/><path d="M791.6,1223.8L795.1,1222.2L795.1,1225.4Z" fill="#e04a44"/><text x="784.5" y="1236.9" font-size="5.6" fill="#333" text-anchor="end" textLength="58.5" lengthAdjust="spacingAndGlyphs">Protection phase C voltage Uc1</text><text x="812.8" y="1235.7" font-size="5.6" fill="#333" textLength="58.5" lengthAdjust="spacingAndGlyphs">Protection phase C voltage Uc1</text><path d="M808.5,1234.9L791.6,1234.9" stroke="#e04a44" stroke-width="0.9" fill="none"/><path d="M791.6,1234.9L795.1,1233.3L795.1,1236.5Z" fill="#e04a44"/><text x="784.5" y="1248" font-size="5.6" fill="#333" text-anchor="end" textLength="58.5" lengthAdjust="spacingAndGlyphs">Protection phase C voltage Uc2</text><text x="812.8" y="1246.8" font-size="5.6" fill="#333" textLength="58.5" lengthAdjust="spacingAndGlyphs">Protection phase C voltage Uc2</text><path d="M808.5,1246L791.6,1246" stroke="#e04a44" stroke-width="0.9" fill="none"/><path d="M791.6,1246L795.1,1244.4L795.1,1247.6Z" fill="#e04a44"/><text x="784.5" y="1258.9" font-size="5.6" fill="#333" text-anchor="end" textLength="44.9" lengthAdjust="spacingAndGlyphs">Synchronous voltage Ux1</text><text x="812.8" y="1257.6" font-size="5.6" fill="#333" textLength="44.9" lengthAdjust="spacingAndGlyphs">Synchronous voltage Ux1</text><path d="M808.5,1256.8L791.6,1256.8" stroke="#8fd16a" stroke-width="0.9" fill="none"/><path d="M791.6,1256.8L795.1,1255.3L795.1,1258.4Z" fill="#8fd16a"/><text x="784.5" y="1270" font-size="5.6" fill="#333" text-anchor="end" textLength="44.9" lengthAdjust="spacingAndGlyphs">Synchronous voltage Ux2</text><text x="812.8" y="1268.7" font-size="5.6" fill="#333" textLength="44.9" lengthAdjust="spacingAndGlyphs">Synchronous voltage Ux2</text><path d="M808.5,1268L791.6,1268" stroke="#8fd16a" stroke-width="0.9" fill="none"/><path d="M791.6,1268L795.1,1266.4L795.1,1269.5Z" fill="#8fd16a"/></svg>
<svg style="left:0;top:0" width="4590" height="2437" viewBox="0 0 4590 2437" font-family="Liberation Sans, sans-serif"><rect x="1047.3" y="1085.7" width="111.3" height="63.8" fill="#fff" stroke="#666" stroke-width="1"/><rect x="1241.6" y="1085.3" width="111.1" height="64.2" fill="#fff" stroke="#666" stroke-width="1"/><rect x="1047.3" y="1226.4" width="305.4" height="78.4" fill="none" stroke="#666" stroke-width="1"/><text x="1103.4" y="1117.2" font-size="9.5" fill="#5bcfe0" text-anchor="middle" textLength="20" lengthAdjust="spacingAndGlyphs">IED A</text><text x="1297" y="1117.2" font-size="9.5" fill="#5bcfe0" text-anchor="middle" textLength="20" lengthAdjust="spacingAndGlyphs">IED B</text><text x="1157.7" y="1101.1" font-size="6.6" fill="#222" text-anchor="end" textLength="27" lengthAdjust="spacingAndGlyphs" font-weight="bold">Terminal 1</text><text x="1157.7" y="1115.7" font-size="6.6" fill="#222" text-anchor="end" textLength="27" lengthAdjust="spacingAndGlyphs" font-weight="bold">Terminal 2</text><text x="1242.9" y="1101.1" font-size="6.6" fill="#222" textLength="27" lengthAdjust="spacingAndGlyphs" font-weight="bold">Terminal 3</text><text x="1242.9" y="1115.7" font-size="6.6" fill="#222" textLength="27" lengthAdjust="spacingAndGlyphs" font-weight="bold">Terminal 4</text><text x="1103" y="1144.5" font-size="7.2" fill="#222" text-anchor="middle" textLength="48" lengthAdjust="spacingAndGlyphs" font-weight="bold">P_L_22_1A00000</text><text x="1297" y="1144.5" font-size="7.2" fill="#222" text-anchor="middle" textLength="49" lengthAdjust="spacingAndGlyphs" font-weight="bold">L_L_22_1A00000</text><path d="M1161.2,1096.5L1240.2,1096.5" stroke="#333" stroke-width="0.8" fill="none"/><path d="M1240.2,1096.5L1236.7,1098.1L1236.7,1094.9Z" fill="#333"/><path d="M1239.2,1114.1L1160.2,1114.1" stroke="#333" stroke-width="0.8" fill="none"/><path d="M1160.2,1114.1L1163.7,1112.5L1163.7,1115.7Z" fill="#333"/><path d="M1102.4,1236.7L1080.9,1150.2" stroke="#333" stroke-width="0.7" fill="none"/><path d="M1080.9,1150.2L1082.9,1152.8L1080.3,1153.5Z" fill="#333"/><path d="M1133.2,1235.3L1272.7,1150.2" stroke="#333" stroke-width="0.7" fill="none"/><path d="M1272.7,1150.2L1270.9,1152.9L1269.5,1150.6Z" fill="#333"/><path d="M1160.2,1238.3L1087.8,1150.2" stroke="#333" stroke-width="0.7" fill="none"/><path d="M1087.8,1150.2L1090.7,1151.7L1088.6,1153.4Z" fill="#333"/><path d="M1160.2,1238.3L1278.7,1150.2" stroke="#333" stroke-width="0.7" fill="none"/><path d="M1278.7,1150.2L1277.1,1153.1L1275.5,1150.9Z" fill="#333"/><path d="M1188.5,1238.3L1094.5,1150.2" stroke="#333" stroke-width="0.7" fill="none"/><path d="M1094.5,1150.2L1097.6,1151.3L1095.8,1153.3Z" fill="#333"/><path d="M1188.5,1238.3L1287.6,1150.2" stroke="#333" stroke-width="0.7" fill="none"/><path d="M1287.6,1150.2L1286.2,1153.2L1284.4,1151.2Z" fill="#333"/><path d="M1220,1236.3L1104,1150.2" stroke="#333" stroke-width="0.7" fill="none"/><path d="M1104,1150.2L1107.2,1150.9L1105.6,1153.1Z" fill="#333"/><path d="M1220,1236.3L1295.4,1150.2" stroke="#333" stroke-width="0.7" fill="none"/><path d="M1295.4,1150.2L1294.5,1153.4L1292.5,1151.6Z" fill="#333"/><path d="M1248.7,1236.3L1108.9,1150.2" stroke="#333" stroke-width="0.7" fill="none"/><path d="M1108.9,1150.2L1112.2,1150.6L1110.7,1152.9Z" fill="#333"/><path d="M1248.7,1236.3L1300.4,1150.2" stroke="#333" stroke-width="0.7" fill="none"/><path d="M1300.4,1150.2L1300,1153.5L1297.7,1152.1Z" fill="#333"/><path d="M1274.1,1236.3L1111.9,1150.2" stroke="#333" stroke-width="0.7" fill="none"/><path d="M1111.9,1150.2L1115.1,1150.4L1113.9,1152.8Z" fill="#333"/><path d="M1274.1,1236.3L1304.3,1150.2" stroke="#333" stroke-width="0.7" fill="none"/><path d="M1304.3,1150.2L1304.6,1153.5L1302.1,1152.6Z" fill="#333"/><path d="M1306.9,1236.3L1126.7,1150.2" stroke="#333" stroke-width="0.7" fill="none"/><path d="M1126.7,1150.2L1130,1150.3L1128.8,1152.7Z" fill="#333"/><path d="M1306.9,1236.3L1320.1,1150.2" stroke="#333" stroke-width="0.7" fill="none"/><path d="M1320.1,1150.2L1321,1153.4L1318.3,1153Z" fill="#333"/><text x="1068.4" y="1262.5" font-size="9.5" fill="#5bcfe0" text-anchor="middle" textLength="12.5" lengthAdjust="spacingAndGlyphs">IED</text><text x="1068.4" y="1275.2" font-size="9.5" fill="#5bcfe0" text-anchor="middle" textLength="32" lengthAdjust="spacingAndGlyphs">attribute</text><text x="1104.4" y="1249.9" font-size="5.6" fill="#222" text-anchor="middle" textLength="21" lengthAdjust="spacingAndGlyphs" font-weight="bold">Protection</text><text x="1133.2" y="1246.5" font-size="5.6" fill="#222" text-anchor="middle" textLength="23.1" lengthAdjust="spacingAndGlyphs" font-weight="bold">Intelligent</text><text x="1133.2" y="1253.7" font-size="5.6" fill="#222" text-anchor="middle" textLength="16.8" lengthAdjust="spacingAndGlyphs" font-weight="bold">terminal</text><text x="1161.2" y="1249.9" font-size="5.6" fill="#222" text-anchor="middle" textLength="8.4" lengthAdjust="spacingAndGlyphs" font-weight="bold">Line</text><text x="1187.9" y="1249.9" font-size="5.6" fill="#222" text-anchor="middle" textLength="10.5" lengthAdjust="spacingAndGlyphs" font-weight="bold">220kV</text><text x="1219.4" y="1242.6" font-size="5.6" fill="#222" text-anchor="middle" textLength="8.4" lengthAdjust="spacingAndGlyphs" font-weight="bold">Dual</text><text x="1219.4" y="1250.1" font-size="5.6" fill="#222" text-anchor="middle" textLength="12.6" lengthAdjust="spacingAndGlyphs" font-weight="bold">busbar</text><text x="1219.4" y="1257.8" font-size="5.6" fill="#222" text-anchor="middle" textLength="12.6" lengthAdjust="spacingAndGlyphs" font-weight="bold">wiring</text><text x="1247.1" y="1249.9" font-size="5.6" fill="#222" text-anchor="middle" textLength="18.9" lengthAdjust="spacingAndGlyphs" font-weight="bold">First set</text><text x="1274.1" y="1249.9" font-size="5.6" fill="#222" text-anchor="middle" textLength="14.7" lengthAdjust="spacingAndGlyphs" font-weight="bold">CB type</text><text x="1306.9" y="1247.5" font-size="5.6" fill="#222" text-anchor="middle" textLength="8.4" lengthAdjust="spacingAndGlyphs" font-weight="bold">......</text><path d="M1096.5,1254.4L1096.5,1262.3L1140.1,1262.3L1140.1,1254.4" stroke="#333" stroke-width="0.8" fill="none"/><path d="M1113.2,1264.5L1120.7,1264.5L1117,1272.2Z" fill="#111"/><path d="M1157.5,1264.5L1165,1264.5L1161.2,1272.2Z" fill="#111"/><path d="M1184.7,1264.5L1192.2,1264.5L1188.5,1272.2Z" fill="#111"/><path d="M1216.7,1264.5L1224.2,1264.5L1220.4,1272.2Z" fill="#111"/><path d="M1244.3,1264.5L1251.8,1264.5L1248.1,1272.2Z" fill="#111"/><path d="M1271.4,1264.5L1278.9,1264.5L1275.1,1272.2Z" fill="#111"/><text x="1116.2" y="1288.6" font-size="5.6" fill="#222" text-anchor="middle" textLength="23.1" lengthAdjust="spacingAndGlyphs" font-weight="bold">Device Type</text><text x="1161.2" y="1288.6" font-size="5.6" fill="#222" text-anchor="middle" textLength="6.3" lengthAdjust="spacingAndGlyphs" font-weight="bold">Bay</text><text x="1188.5" y="1285" font-size="5.6" fill="#222" text-anchor="middle" textLength="14.7" lengthAdjust="spacingAndGlyphs" font-weight="bold">Voltage</text><text x="1188.5" y="1292.1" font-size="5.6" fill="#222" text-anchor="middle" textLength="10.5" lengthAdjust="spacingAndGlyphs" font-weight="bold">level</text><text x="1220.4" y="1285" font-size="5.6" fill="#222" text-anchor="middle" textLength="16.8" lengthAdjust="spacingAndGlyphs" font-weight="bold">Connecti</text><text x="1220.4" y="1292.1" font-size="5.6" fill="#222" text-anchor="middle" textLength="4.2" lengthAdjust="spacingAndGlyphs" font-weight="bold">on</text><text x="1248.1" y="1288.6" font-size="5.6" fill="#222" text-anchor="middle" textLength="6.3" lengthAdjust="spacingAndGlyphs" font-weight="bold">Set</text><text x="1275.1" y="1288.6" font-size="5.6" fill="#222" text-anchor="middle" textLength="14.7" lengthAdjust="spacingAndGlyphs" font-weight="bold">CB type</text><text x="1306.9" y="1282.7" font-size="5.6" fill="#222" text-anchor="middle" textLength="8.4" lengthAdjust="spacingAndGlyphs" font-weight="bold">......</text></svg>
<svg style="left:0;top:0" width="4590" height="2437" viewBox="0 0 4590 2437" font-family="Liberation Sans, sans-serif"><path d="M1710.6,1049.3L1710.6,1336" stroke="#3eb3b5" stroke-width="1" fill="none"/><path d="M1674.8,1049.3L1710.6,1049.3" stroke="#777" stroke-width="0.8" fill="none"/><path d="M1674.8,1184.4L1692.2,1184.4" stroke="#3eb3b5" stroke-width="0.9" fill="none"/><path d="M1674.8,1318L1710.6,1318" stroke="#3eb3b5" stroke-width="0.9" fill="none"/><path d="M1674.8,1336L1710.6,1336" stroke="#3eb3b5" stroke-width="0.9" fill="none"/><rect x="1649.4" y="1043.8" width="25.4" height="11.6" fill="#f2d320" rx="1.5"/><text x="1662.1" y="1052.1" font-size="6.6" fill="#7a7a3a" text-anchor="middle" textLength="15" lengthAdjust="spacingAndGlyphs">750kV</text><rect x="1649.4" y="1178.8" width="25.4" height="11.9" fill="#f2d320" rx="1.5"/><text x="1662.1" y="1187.2" font-size="6.6" fill="#7a7a3a" text-anchor="middle" textLength="15" lengthAdjust="spacingAndGlyphs">500kV</text><rect x="1649.4" y="1312" width="25.4" height="11.9" fill="#f2d320" rx="1.5"/><text x="1662.1" y="1320.4" font-size="6.6" fill="#7a7a3a" text-anchor="middle" textLength="15" lengthAdjust="spacingAndGlyphs">220kV</text><rect x="1657.2" y="1330.4" width="17.6" height="11.6" fill="#f2d320" rx="1.5"/><text x="1666" y="1338.7" font-size="6.6" fill="#7a7a3a" text-anchor="middle" textLength="18" lengthAdjust="spacingAndGlyphs">......</text><rect x="1692.2" y="1185.2" width="47.7" height="15.2" fill="#146b5e" rx="1.5"/><text x="1715.9" y="1194.8" font-size="6.6" fill="#d9efe9" text-anchor="middle" textLength="36" lengthAdjust="spacingAndGlyphs">SKMCDData</text><path d="M1642.6,1066.4L1645.3,1066.4L1645.3,1302.3L1641.2,1302.3" stroke="#777" stroke-width="0.8" fill="none"/><path d="M1645.3,1184.4L1649.4,1184.4" stroke="#777" stroke-width="0.8" fill="none"/><path d="M1642,1197L1645.3,1197" stroke="#777" stroke-width="0.8" fill="none"/><path d="M1642,1289.9L1645.3,1289.9" stroke="#777" stroke-width="0.8" fill="none"/><text x="1589.6" y="1068.6" font-size="6.6" fill="#2d7d78" textLength="44.1" lengthAdjust="spacingAndGlyphs">Main transformer</text><text x="1628.8" y="1199.2" font-size="6.6" fill="#2d7d78" textLength="8.3" lengthAdjust="spacingAndGlyphs">line</text><text x="1620.5" y="1292.1" font-size="6.6" fill="#2d7d78" textLength="17.1" lengthAdjust="spacingAndGlyphs">Switch</text><path d="M1619.1,1145.8L1622.4,1145.8L1622.4,1249.1L1619.1,1249.1" stroke="#3eb3b5" stroke-width="0.8" fill="none"/><path d="M1622.4,1197L1626.6,1197" stroke="#3eb3b5" stroke-width="0.8" fill="none"/><text x="1596.3" y="1147.4" font-size="6.6" fill="#2d7d78" textLength="19.3" lengthAdjust="spacingAndGlyphs">ISVRey</text><text x="1586.6" y="1251.3" font-size="6.6" fill="#2d7d78" textLength="28.4" lengthAdjust="spacingAndGlyphs">IGooseRcv</text><path d="M1586.9,1122.3L1590.2,1122.3L1590.2,1167.8L1586.9,1167.8" stroke="#3eb3b5" stroke-width="0.8" fill="none"/><path d="M1590.2,1145.2L1593.8,1145.2" stroke="#3eb3b5" stroke-width="0.8" fill="none"/><text x="1515.8" y="1119.9" font-size="6.6" fill="#2d7d78" textLength="56.5" lengthAdjust="spacingAndGlyphs">Side switch protection</text><text x="1515.8" y="1128.1" font-size="6.6" fill="#2d7d78" textLength="27.6" lengthAdjust="spacingAndGlyphs">current Ia1</text><text x="1515.8" y="1166.2" font-size="6.6" fill="#2d7d78" textLength="56.5" lengthAdjust="spacingAndGlyphs">Side switch protection</text><text x="1515.8" y="1174.7" font-size="6.6" fill="#2d7d78" textLength="27.6" lengthAdjust="spacingAndGlyphs">current Ia2</text><path d="M1577.2,1220.2L1580.5,1220.2L1580.5,1278.1L1577.2,1278.1" stroke="#3eb3b5" stroke-width="0.8" fill="none"/><path d="M1580.5,1249.1L1584.1,1249.1" stroke="#3eb3b5" stroke-width="0.8" fill="none"/><text x="1513.8" y="1213.8" font-size="6.6" fill="#2d7d78" textLength="49.6" lengthAdjust="spacingAndGlyphs">Side circuit breaker</text><text x="1513.8" y="1222.1" font-size="6.6" fill="#2d7d78" textLength="43.3" lengthAdjust="spacingAndGlyphs">A-phase position</text><text x="1513.8" y="1230.7" font-size="6.6" fill="#2d7d78" textLength="13" lengthAdjust="spacingAndGlyphs">IWJa</text><text x="1513" y="1259.6" font-size="6.6" fill="#2d7d78" textLength="57.1" lengthAdjust="spacingAndGlyphs">Side circuit breaker B-</text><text x="1513" y="1268.1" font-size="6.6" fill="#2d7d78" textLength="54" lengthAdjust="spacingAndGlyphs">phase position TWJb</text><path d="M1506.1,1092L1509.4,1092L1509.4,1152.1L1506.1,1152.1" stroke="#3eb3b5" stroke-width="0.8" fill="none"/><path d="M1509.4,1122.3L1513,1122.3" stroke="#3eb3b5" stroke-width="0.8" fill="none"/><text x="1435.8" y="1080.7" font-size="4.7" fill="#2d7d78" textLength="31.5" lengthAdjust="spacingAndGlyphs">ExIED conType="A"</text><text x="1435.8" y="1086.8" font-size="4.7" fill="#2d7d78" textLength="31.5" lengthAdjust="spacingAndGlyphs">volLevel=="500kv"</text><text x="1435.8" y="1092.8" font-size="4.7" fill="#2d7d78" textLength="57.4" lengthAdjust="spacingAndGlyphs">bay=="line side switch"iedType=</text><text x="1435.8" y="1098.9" font-size="4.7" fill="#2d7d78" textLength="53.7" lengthAdjust="spacingAndGlyphs">"merging unit"Chn fcdaDesc="A</text><text x="1435.8" y="1105" font-size="4.7" fill="#2d7d78" textLength="48.1" lengthAdjust="spacingAndGlyphs">phase protect current Ia1"</text><text x="1435.8" y="1117.7" font-size="4.7" fill="#2d7d78" textLength="31.5" lengthAdjust="spacingAndGlyphs">ExIED conType="A"</text><text x="1435.8" y="1123.7" font-size="4.7" fill="#2d7d78" textLength="31.5" lengthAdjust="spacingAndGlyphs">volLevel=="500kv"</text><text x="1435.8" y="1129.8" font-size="4.7" fill="#2d7d78" textLength="42.6" lengthAdjust="spacingAndGlyphs">bay=="line side switch"</text><text x="1435.8" y="1135.8" font-size="4.7" fill="#2d7d78" textLength="46.2" lengthAdjust="spacingAndGlyphs">iedType="merging unit"Chn</text><text x="1435.8" y="1141.9" font-size="4.7" fill="#2d7d78" textLength="55.5" lengthAdjust="spacingAndGlyphs">fcdaDesc="B phase current Ib1"</text><path d="M1504.2,1194.6L1507.5,1194.6L1507.5,1245.5L1504.2,1245.5" stroke="#3eb3b5" stroke-width="0.8" fill="none"/><path d="M1507.5,1220.2L1510.8,1220.2" stroke="#3eb3b5" stroke-width="0.8" fill="none"/><text x="1433.9" y="1186.8" font-size="4.7" fill="#2d7d78" textLength="48.1" lengthAdjust="spacingAndGlyphs">ExIED conType="A"volLevel=</text><text x="1433.9" y="1192.9" font-size="4.7" fill="#2d7d78" textLength="57.4" lengthAdjust="spacingAndGlyphs">"500kv" bay=="line side switch"</text><text x="1433.9" y="1199" font-size="4.7" fill="#2d7d78" textLength="53.7" lengthAdjust="spacingAndGlyphs">iedType="intelligent term"Chn</text><text x="1433.9" y="1205" font-size="4.7" fill="#2d7d78" textLength="53.7" lengthAdjust="spacingAndGlyphs">fcdaDesc="breaker A position"</text><text x="1433.9" y="1217.4" font-size="4.7" fill="#2d7d78" textLength="48.1" lengthAdjust="spacingAndGlyphs">ExIED conType="A"volLevel=</text><text x="1433.9" y="1223.5" font-size="4.7" fill="#2d7d78" textLength="57.4" lengthAdjust="spacingAndGlyphs">"500kv" bay=="line side switch"</text><text x="1433.9" y="1229.6" font-size="4.7" fill="#2d7d78" textLength="53.7" lengthAdjust="spacingAndGlyphs">iedType="intelligent term"Chn</text><text x="1433.9" y="1235.6" font-size="4.7" fill="#2d7d78" textLength="53.7" lengthAdjust="spacingAndGlyphs">fcdaDesc="breaker B position"</text><path d="M1781.8,1042.4L1781.8,1340.6" stroke="#3eb3b5" stroke-width="1" fill="none"/><path d="M1781.8,1042.4L1813.5,1042.4" stroke="#3eb3b5" stroke-width="0.9" fill="none"/><path d="M1797.7,1184.4L1813.5,1184.4" stroke="#3eb3b5" stroke-width="0.9" fill="none"/><path d="M1781.8,1325.5L1813.5,1325.5" stroke="#777" stroke-width="0.8" fill="none"/><path d="M1781.8,1340.6L1813.5,1340.6" stroke="#3eb3b5" stroke-width="0.9" fill="none"/><rect x="1813.5" y="1036.9" width="22.6" height="11" fill="#f2d320" rx="1.5"/><text x="1824.8" y="1044.9" font-size="6.6" fill="#7a7a3a" text-anchor="middle" textLength="15" lengthAdjust="spacingAndGlyphs">750kV</text><rect x="1813.5" y="1178.8" width="22.6" height="11" fill="#f2d320" rx="1.5"/><text x="1824.8" y="1186.8" font-size="6.6" fill="#7a7a3a" text-anchor="middle" textLength="15" lengthAdjust="spacingAndGlyphs">500kV</text><rect x="1813.5" y="1320" width="22.6" height="11.3" fill="#f2d320" rx="1.5"/><text x="1824.8" y="1328.1" font-size="6.6" fill="#7a7a3a" text-anchor="middle" textLength="15" lengthAdjust="spacingAndGlyphs">220kV</text><rect x="1813.5" y="1336" width="13" height="9.1" fill="#f2d320" rx="1.5"/><text x="1819.9" y="1343" font-size="6.6" fill="#7a7a3a" text-anchor="middle" textLength="12" lengthAdjust="spacingAndGlyphs">....</text><rect x="1758" y="1184.9" width="39.7" height="12.7" fill="#146b5e" rx="1.5"/><text x="1777.9" y="1192.9" font-size="5.6" fill="#d9efe9" text-anchor="middle" textLength="30" lengthAdjust="spacingAndGlyphs">SKMCDData</text><path d="M1841.8,1057.6L1839.1,1057.6L1839.1,1311.7L1842.7,1311.7" stroke="#777" stroke-width="0.8" fill="none"/><path d="M1836.1,1184.4L1839.1,1184.4" stroke="#777" stroke-width="0.8" fill="none"/><path d="M1839.1,1164.5L1841.8,1164.5" stroke="#777" stroke-width="0.8" fill="none"/><path d="M1839.1,1300.7L1841.8,1300.7" stroke="#777" stroke-width="0.8" fill="none"/><text x="1844.6" y="1059.2" font-size="5.8" fill="#2d7d78" textLength="39.1" lengthAdjust="spacingAndGlyphs">main transformer</text><text x="1844.6" y="1166.4" font-size="5.8" fill="#2d7d78" textLength="8.3" lengthAdjust="spacingAndGlyphs">line</text><text x="1844.6" y="1302.6" font-size="5.8" fill="#2d7d78" textLength="14.3" lengthAdjust="spacingAndGlyphs">switch</text><path d="M1863.1,1070L1859.8,1070L1859.8,1259.3L1863.1,1259.3" stroke="#3eb3b5" stroke-width="0.8" fill="none"/><path d="M1856.2,1164.5L1859.8,1164.5" stroke="#3eb3b5" stroke-width="0.8" fill="none"/><path d="M1859.8,1138.3L1863.1,1138.3" stroke="#3eb3b5" stroke-width="0.8" fill="none"/><path d="M1859.8,1174.7L1863.1,1174.7" stroke="#3eb3b5" stroke-width="0.8" fill="none"/><text x="1865.8" y="1071.6" font-size="5.8" fill="#2d7d78" textLength="17.1" lengthAdjust="spacingAndGlyphs">ISVSnd</text><text x="1865.8" y="1140" font-size="5.8" fill="#2d7d78" textLength="17.1" lengthAdjust="spacingAndGlyphs">ISVRey</text><text x="1865.8" y="1176.6" font-size="5.8" fill="#2d7d78" textLength="25.4" lengthAdjust="spacingAndGlyphs">IGooseSnd</text><text x="1865.8" y="1261.3" font-size="5.8" fill="#2d7d78" textLength="25.4" lengthAdjust="spacingAndGlyphs">IGooseRcv</text><path d="M1891.7,1119.6L1888.4,1119.6L1888.4,1157.3L1891.7,1157.3" stroke="#3eb3b5" stroke-width="0.8" fill="none"/><path d="M1885.1,1138.3L1888.4,1138.3" stroke="#3eb3b5" stroke-width="0.8" fill="none"/><text x="1894.8" y="1117.1" font-size="5.8" fill="#2d7d78" textLength="50.2" lengthAdjust="spacingAndGlyphs">Side switch protection</text><text x="1894.8" y="1124.8" font-size="5.8" fill="#2d7d78" textLength="24.8" lengthAdjust="spacingAndGlyphs">current Ia1</text><text x="1894.8" y="1158.7" font-size="5.8" fill="#2d7d78" textLength="76.4" lengthAdjust="spacingAndGlyphs">Side switch protection current Ia2</text><path d="M1901.7,1169.2L1898.3,1169.2L1898.3,1181.3L1901.7,1181.3" stroke="#3eb3b5" stroke-width="0.8" fill="none"/><path d="M1895,1174.7L1898.3,1174.7" stroke="#3eb3b5" stroke-width="0.8" fill="none"/><text x="1904.4" y="1171.1" font-size="5.8" fill="#2d7d78" textLength="87.4" lengthAdjust="spacingAndGlyphs">Jumping edge circuit breaker phase A</text><text x="1904.4" y="1183.3" font-size="5.8" fill="#2d7d78" textLength="87.4" lengthAdjust="spacingAndGlyphs">Jumping edge circuit breaker B phase</text><path d="M1901.7,1231.2L1898.3,1231.2L1898.3,1288.3L1901.7,1288.3" stroke="#3eb3b5" stroke-width="0.8" fill="none"/><path d="M1895,1259.3L1898.3,1259.3" stroke="#3eb3b5" stroke-width="0.8" fill="none"/><path d="M1898.3,1272.6L1901.7,1272.6" stroke="#3eb3b5" stroke-width="0.8" fill="none"/><text x="1903.3" y="1225.1" font-size="5.8" fill="#2d7d78" textLength="44.4" lengthAdjust="spacingAndGlyphs">Side circuit breaker</text><text x="1903.3" y="1232.9" font-size="5.8" fill="#2d7d78" textLength="38.9" lengthAdjust="spacingAndGlyphs">A-phase position</text><text x="1903.3" y="1240" font-size="5.8" fill="#2d7d78" textLength="12.1" lengthAdjust="spacingAndGlyphs">IWJa</text><text x="1903.3" y="1270.4" font-size="5.8" fill="#2d7d78" textLength="84.6" lengthAdjust="spacingAndGlyphs">Side circuit breaker B-phase position</text><text x="1903.3" y="1277.8" font-size="5.8" fill="#2d7d78" textLength="13.5" lengthAdjust="spacingAndGlyphs">TWJb</text><text x="1903.3" y="1290.2" font-size="4.5" fill="#2d7d78" textLength="9.4" lengthAdjust="spacingAndGlyphs">......</text><path d="M1967.8,1092.8L1964.5,1092.8L1964.5,1145.8L1967.8,1145.8" stroke="#3eb3b5" stroke-width="0.8" fill="none"/><path d="M1961.2,1119.6L1964.5,1119.6" stroke="#3eb3b5" stroke-width="0.8" fill="none"/><text x="1970" y="1082.4" font-size="4.7" fill="#2d7d78" textLength="50" lengthAdjust="spacingAndGlyphs">DZ ZD iedManu="XDC" iedType</text><text x="1970" y="1088" font-size="4.7" fill="#2d7d78" textLength="50" lengthAdjust="spacingAndGlyphs">"WMX-800" version="1.0"desc</text><text x="1970" y="1093.7" font-size="4.7" fill="#2d7d78" textLength="51.8" lengthAdjust="spacingAndGlyphs">"side switch protect current</text><text x="1970" y="1099.3" font-size="4.7" fill="#2d7d78" textLength="46.2" lengthAdjust="spacingAndGlyphs">I"addr="SVLDO1/SVINGGIO1.</text><text x="1970" y="1105" font-size="4.7" fill="#2d7d78" textLength="13" lengthAdjust="spacingAndGlyphs">AnIn27"</text><text x="1970" y="1114.9" font-size="4.7" fill="#2d7d78" textLength="40.7" lengthAdjust="spacingAndGlyphs">- DZ ZD iedManuf "NRR"</text><text x="1970" y="1120.5" font-size="4.7" fill="#2d7d78" textLength="42.6" lengthAdjust="spacingAndGlyphs">iedType="PCS-931A-DA-G"</text><text x="1970" y="1126.2" font-size="4.7" fill="#2d7d78" textLength="57.4" lengthAdjust="spacingAndGlyphs">version="1.0"desc="side protect</text><text x="1970" y="1131.8" font-size="4.7" fill="#2d7d78" textLength="29.6" lengthAdjust="spacingAndGlyphs">current A1" addr</text><text x="1970" y="1137.5" font-size="4.7" fill="#2d7d78" textLength="38.9" lengthAdjust="spacingAndGlyphs">"SVLD/SVINGGIO1.Inc1"</text><path d="M1964.2,1204.2L1960.9,1204.2L1960.9,1257.7L1964.2,1257.7" stroke="#3eb3b5" stroke-width="0.8" fill="none"/><path d="M1957.6,1231.2L1960.9,1231.2" stroke="#3eb3b5" stroke-width="0.8" fill="none"/><text x="1965.9" y="1194" font-size="4.7" fill="#2d7d78" textLength="50" lengthAdjust="spacingAndGlyphs">DZ ZD iedManu="XDC" iedType</text><text x="1965.9" y="1199.7" font-size="4.7" fill="#2d7d78" textLength="16.7" lengthAdjust="spacingAndGlyphs">"WMX-800"</text><text x="1965.9" y="1205.3" font-size="4.7" fill="#2d7d78" textLength="59.2" lengthAdjust="spacingAndGlyphs">version="1.0"desc="switch A posi</text><text x="1965.9" y="1211" font-size="4.7" fill="#2d7d78" textLength="44.4" lengthAdjust="spacingAndGlyphs">tion"addr="PIGO/GOINGGIO</text><text x="1965.9" y="1216.6" font-size="4.7" fill="#2d7d78" textLength="22.2" lengthAdjust="spacingAndGlyphs">Ind1. stVal"</text><text x="1965.9" y="1226.8" font-size="4.7" fill="#2d7d78" textLength="35.1" lengthAdjust="spacingAndGlyphs">DZ ZD iedManu="XDC"</text><text x="1965.9" y="1232.5" font-size="4.7" fill="#2d7d78" textLength="31.5" lengthAdjust="spacingAndGlyphs">iedType="WMX-800"</text><text x="1965.9" y="1238.1" font-size="4.7" fill="#2d7d78" textLength="59.2" lengthAdjust="spacingAndGlyphs">version="1.0"desc="side switch A</text><text x="1965.9" y="1243.8" font-size="4.7" fill="#2d7d78" textLength="51.8" lengthAdjust="spacingAndGlyphs">pos"addr="PIGO/GOINGGIO1.Ind</text><text x="1965.9" y="1249.4" font-size="4.7" fill="#2d7d78" textLength="13" lengthAdjust="spacingAndGlyphs">1.stVal</text></svg>
<span class="t" style="left:481.98px;top:1480.09px;font-size:22px;color:#555;font-family:'Liberation Serif',serif;font-style:italic;transform:scaleX(0.9728);transform-origin:0 0;">f<span style="font-size:0.62em;vertical-align:-0.32em;">t</span> <span style="font-style:normal;">=σ (</span>D<span style="font-size:0.62em;vertical-align:-0.32em;">f</span> x<span style="font-size:0.62em;vertical-align:-0.32em;">t</span> <span style="font-style:normal;">+</span> U<span style="font-size:0.62em;vertical-align:-0.32em;">f</span> h<span style="font-size:0.62em;vertical-align:-0.32em;">t−1</span> <span style="font-style:normal;">+</span> b<span style="font-size:0.62em;vertical-align:-0.32em;">f</span> <span style="font-style:normal;">)</span></span>
<span class="t" style="left:481.98px;top:1509.83px;font-size:26px;color:#111;font-family:'Liberation Serif',serif;font-style:italic;transform:scaleX(0.9572);transform-origin:0 0;">i<span style="font-size:0.62em;vertical-align:-0.32em;">t</span> <span style="font-style:normal;">=σ (</span>D<span style="font-size:0.62em;vertical-align:-0.32em;">i</span>x<span style="font-size:0.62em;vertical-align:-0.32em;">t</span> <span style="font-style:normal;">+</span>U<span style="font-size:0.62em;vertical-align:-0.32em;">i</span>h<span style="font-size:0.62em;vertical-align:-0.32em;">t−1</span> <span style="font-style:normal;">+</span> b<span style="font-size:0.62em;vertical-align:-0.32em;">i</span><span style="font-style:normal;">)</span></span>
<span class="t" style="left:476.39px;top:1543.37px;font-size:26px;color:#111;font-family:'Liberation Serif',serif;font-style:italic;transform:scaleX(0.9329);transform-origin:0 0;">c̄<span style="font-size:0.62em;vertical-align:-0.32em;">t</span> <span style="font-style:normal;">= tanh(</span>D<span style="font-size:0.62em;vertical-align:-0.32em;">c</span>x<span style="font-size:0.62em;vertical-align:-0.32em;">t</span> <span style="font-style:normal;">+</span>U<span style="font-size:0.62em;vertical-align:-0.32em;">c</span>h<span style="font-size:0.62em;vertical-align:-0.32em;">t−1</span> <span style="font-style:normal;">+</span> b<span style="font-size:0.62em;vertical-align:-0.32em;">c</span> <span style="font-style:normal;">)</span></span>
<span class="t" style="left:471.27px;top:1571.81px;font-size:31px;color:#111;font-family:'Liberation Serif',serif;font-style:italic;transform:scaleX(1.0426);transform-origin:0 0;">c<span style="font-size:0.62em;vertical-align:-0.32em;">t</span> <span style="font-style:normal;">=</span> f<span style="font-size:0.62em;vertical-align:-0.32em;">t</span><span style="font-style:normal;">⊙</span>c<span style="font-size:0.62em;vertical-align:-0.32em;">t−1</span> <span style="font-style:normal;">+</span>i<span style="font-size:0.62em;vertical-align:-0.32em;">t</span><span style="font-style:normal;">⊙</span>c̄<span style="font-size:0.62em;vertical-align:-0.32em;">t</span></span>
<span class="t" style="left:477.32px;top:1611.85px;font-size:26px;color:#111;font-family:'Liberation Serif',serif;font-style:italic;transform:scaleX(0.9537);transform-origin:0 0;">o<span style="font-size:0.62em;vertical-align:-0.32em;">t</span> <span style="font-style:normal;">=σ (</span>D<span style="font-size:0.62em;vertical-align:-0.32em;">o</span>x<span style="font-size:0.62em;vertical-align:-0.32em;">t</span> <span style="font-style:normal;">+</span>U<span style="font-size:0.62em;vertical-align:-0.32em;">o</span>h<span style="font-size:0.62em;vertical-align:-0.32em;">t−1</span> <span style="font-style:normal;">+</span>b<span style="font-size:0.62em;vertical-align:-0.32em;">o</span> <span style="font-style:normal;">)</span></span>
<span class="t" style="left:477.32px;top:1649.58px;font-size:26px;color:#111;font-family:'Liberation Serif',serif;font-style:italic;transform:scaleX(0.9632);transform-origin:0 0;">h<span style="font-size:0.62em;vertical-align:-0.32em;">t</span> <span style="font-style:normal;">=</span> o<span style="font-size:0.62em;vertical-align:-0.32em;">t</span> <span style="font-style:normal;">tanh⊙(</span>c<span style="font-size:0.62em;vertical-align:-0.32em;">t</span><span style="font-style:normal;">)</span></span>
<span class="t" style="left:481.05px;top:1685.38px;font-size:22px;color:#1b1c20;font-family:'Liberation Serif',serif;font-weight:bold;transform:scaleX(1.2387);transform-origin:0 0;">……</span>
<span class="t" style="left:476.39px;top:1720.39px;font-size:26px;color:#111;font-family:'Liberation Serif',serif;font-style:italic;transform:scaleX(0.9538);transform-origin:0 0;">similarity <span style="font-style:normal;">= exp(−|</span>S<span style="font-size:0.62em;vertical-align:-0.32em;">a</span> <span style="font-style:normal;">−</span>S<span style="font-size:0.62em;vertical-align:-0.32em;">b</span><span style="font-style:normal;">|)</span></span>
<svg style="left:0;top:0" width="4590" height="2437" viewBox="0 0 4590 2437" font-family="Liberation Sans, sans-serif"><rect x="876.7" y="1518.2" width="281.5" height="175.2" fill="#f0f0f0" stroke="#111" stroke-width="1.2" rx="7"/><path d="M862.3,1540.3L892.5,1540.3" stroke="#666" stroke-width="0.8" fill="none"/><path d="M892.5,1540.3L886.5,1543L886.5,1537.6Z" fill="#666"/><path d="M911.5,1540.3L984.1,1540.3" stroke="#666" stroke-width="0.8" fill="none"/><path d="M984.1,1540.3L978.1,1543L978.1,1537.6Z" fill="#666"/><path d="M1003.1,1540.3L1171.2,1540.3" stroke="#999" stroke-width="0.8" fill="none"/><path d="M1171.2,1540.3L1164.2,1543.5L1164.2,1537.2Z" fill="#999"/><path d="M902,1615.9L902,1549.8" stroke="#111" stroke-width="1.2" fill="none"/><path d="M902,1549.8L904.7,1555.8L899.3,1555.8Z" fill="#111"/><path d="M964,1615.3L964,1579.1L984.1,1579.1" stroke="#111" stroke-width="0.9" fill="none"/><path d="M984.1,1579.1L978.1,1581.8L978.1,1576.4Z" fill="#111"/><path d="M1022.6,1615.3L1022.6,1579.1L1003.1,1579.1" stroke="#111" stroke-width="0.9" fill="none"/><path d="M1003.1,1579.1L1009.1,1576.4L1009.1,1581.8Z" fill="#111"/><path d="M993.6,1569.6L993.6,1549.8" stroke="#111" stroke-width="0.9" fill="none"/><path d="M993.6,1549.8L996.3,1555.8L990.9,1555.8Z" fill="#111"/><path d="M1061.1,1540.3L1061.1,1567" stroke="#111" stroke-width="0.9" fill="none"/><path d="M1061.1,1567L1058.4,1561L1063.8,1561Z" fill="#111"/><path d="M1081.5,1579.1L1101.9,1579.1" stroke="#111" stroke-width="0.9" fill="none"/><path d="M1101.9,1579.1L1095.9,1581.8L1095.9,1576.4Z" fill="#111"/><path d="M1120.9,1579.1L1136.7,1579.1" stroke="#111" stroke-width="0.9" fill="none"/><path d="M1136.7,1672.5L1136.7,1503.8" stroke="#111" stroke-width="0.9" fill="none"/><path d="M1136.7,1503.8L1139.4,1509.8L1134,1509.8Z" fill="#111"/><path d="M1136.7,1672.5L1171.2,1672.5" stroke="#111" stroke-width="0.9" fill="none"/><path d="M1171.2,1672.5L1165.2,1675.2L1165.2,1669.8Z" fill="#111"/><path d="M1084.4,1615.3L1084.4,1605.8L1111.4,1605.8L1111.4,1588.6" stroke="#111" stroke-width="0.9" fill="none"/><path d="M1111.4,1588.6L1114.1,1594.6L1108.7,1594.6Z" fill="#111"/><path d="M902,1655.2L1084.4,1655.2" stroke="#111" stroke-width="0.9" fill="none"/><path d="M964,1655.2L964,1639.4" stroke="#111" stroke-width="0.9" fill="none"/><path d="M964,1639.4L966.7,1645.4L961.3,1645.4Z" fill="#111"/><path d="M1022.6,1655.2L1022.6,1639.4" stroke="#111" stroke-width="0.9" fill="none"/><path d="M1022.6,1639.4L1025.3,1645.4L1019.9,1645.4Z" fill="#111"/><path d="M1084.4,1655.2L1084.4,1639.4" stroke="#111" stroke-width="0.9" fill="none"/><path d="M1084.4,1639.4L1087.1,1645.4L1081.7,1645.4Z" fill="#111"/><path d="M902,1663L902,1639.4" stroke="#111" stroke-width="0.9" fill="none"/><path d="M902,1639.4L904.7,1645.4L899.3,1645.4Z" fill="#111"/><path d="M862.3,1672.5L892.5,1672.5" stroke="#666" stroke-width="0.8" fill="none"/><path d="M892.5,1672.5L886.5,1675.2L886.5,1669.8Z" fill="#666"/><path d="M902,1702.1L902,1681.9" stroke="#111" stroke-width="0.9" fill="none"/><path d="M902,1681.9L904.7,1687.9L899.3,1687.9Z" fill="#111"/><circle cx="902" cy="1540.3" r="9.5" fill="#fff" stroke="#111" stroke-width="0.9"/><path d="M895.4,1533.7L908.6,1546.9" stroke="#111" stroke-width="0.8" fill="none"/><path d="M895.4,1546.9L908.6,1533.7" stroke="#111" stroke-width="0.8" fill="none"/><circle cx="993.6" cy="1540.3" r="9.5" fill="#fff" stroke="#111" stroke-width="0.9"/><path d="M984.1,1540.3L1003.1,1540.3" stroke="#111" stroke-width="0.8" fill="none"/><path d="M993.6,1530.8L993.6,1549.8" stroke="#111" stroke-width="0.8" fill="none"/><circle cx="993.6" cy="1579.1" r="9.5" fill="#fff" stroke="#111" stroke-width="0.9"/><path d="M987,1572.5L1000.2,1585.7" stroke="#111" stroke-width="0.8" fill="none"/><path d="M987,1585.7L1000.2,1572.5" stroke="#111" stroke-width="0.8" fill="none"/><circle cx="1111.4" cy="1579.1" r="9.5" fill="#fff" stroke="#111" stroke-width="0.9"/><path d="M1104.8,1572.5L1118,1585.7" stroke="#111" stroke-width="0.8" fill="none"/><path d="M1104.8,1585.7L1118,1572.5" stroke="#111" stroke-width="0.8" fill="none"/><circle cx="902" cy="1672.5" r="9.5" fill="#fff" stroke="#111" stroke-width="0.9"/><path d="M892.5,1672.5L911.5,1672.5" stroke="#111" stroke-width="0.8" fill="none"/><path d="M902,1663L902,1681.9" stroke="#111" stroke-width="0.8" fill="none"/><rect x="882.5" y="1615.3" width="40.2" height="23.6" fill="#fff" stroke="#111" stroke-width="0.9"/><text x="902.6" y="1632.2" font-size="15" fill="#111" text-anchor="middle" font-weight="bold" font-style="italic" font-family="Liberation Serif, serif">σ</text><rect x="942.2" y="1615.3" width="40.2" height="23.6" fill="#fff" stroke="#111" stroke-width="0.9"/><text x="962.3" y="1632.2" font-size="15" fill="#111" text-anchor="middle" font-weight="bold" font-style="italic" font-family="Liberation Serif, serif">σ</text><rect x="1002.5" y="1615.3" width="40.2" height="23.6" fill="#fff" stroke="#111" stroke-width="0.9"/><text x="1022.6" y="1632.2" font-size="14.5" fill="#111" text-anchor="middle" textLength="27" lengthAdjust="spacingAndGlyphs">tanh</text><rect x="1062.9" y="1615.3" width="40.2" height="23.6" fill="#fff" stroke="#111" stroke-width="0.9"/><text x="1083" y="1632.2" font-size="15" fill="#111" text-anchor="middle" font-weight="bold" font-style="italic" font-family="Liberation Serif, serif">σ</text><rect x="1041" y="1567.6" width="40.5" height="23.3" fill="#fff" stroke="#111" stroke-width="0.9"/><text x="1061.1" y="1584.3" font-size="14.5" fill="#111" text-anchor="middle" textLength="27" lengthAdjust="spacingAndGlyphs">tanh</text><text x="842.2" y="1544.9" font-size="14.5" fill="#111" font-family="Liberation Serif, serif" font-style="italic">c<tspan font-size="8.7" dy="2.5">t-1</tspan></text><text x="1174.0" y="1543.5" font-size="14.5" fill="#111" font-family="Liberation Serif, serif" font-style="italic">c<tspan font-size="8.7" dy="2.5">t</tspan></text><text x="1130.4" y="1493.8" font-size="14.5" fill="#111" font-family="Liberation Serif, serif" font-style="italic">h<tspan font-size="8.7" dy="2.5">t</tspan></text><text x="1173.2" y="1675.6" font-size="14.5" fill="#111" font-family="Liberation Serif, serif" font-style="italic">h<tspan font-size="8.7" dy="2.5">t</tspan></text><text x="842.2" y="1676.2" font-size="14.5" fill="#333" font-family="Liberation Serif, serif" font-style="italic">h<tspan font-size="8.7" dy="2.5">t-1</tspan></text><text x="897.4" y="1715.3" font-size="14.5" fill="#111" font-family="Liberation Serif, serif" font-style="italic">x<tspan font-size="8.7" dy="2.5">t</tspan></text><text x="912.0" y="1606.4" font-size="12.5" fill="#111" font-family="Liberation Serif, serif" font-style="italic">f<tspan font-size="7.5" dy="2.5">t</tspan></text><text x="969.5" y="1606.4" font-size="12.5" fill="#111" font-family="Liberation Serif, serif" font-style="italic">i<tspan font-size="7.5" dy="2.5">t</tspan></text><text x="1029.5" y="1606.4" font-size="12.5" fill="#111" font-family="Liberation Serif, serif" font-style="italic">c<tspan font-size="7.5" dy="2.5">t</tspan></text><path d="M1030.1,1598.3L1037,1598.3" stroke="#111" stroke-width="0.7" fill="none"/><text x="1199.9" y="1489.5" font-size="12.5" fill="#222" textLength="95" lengthAdjust="spacingAndGlyphs" font-family="Liberation Serif, serif">Input layer</text><text x="1440.6" y="1489.5" font-size="12.5" fill="#222" textLength="105.5" lengthAdjust="spacingAndGlyphs" font-family="Liberation Serif, serif">Output layer</text><text x="1243.8" y="1717.9" font-size="12.5" fill="#222" textLength="107" lengthAdjust="spacingAndGlyphs" font-family="Liberation Serif, serif">Forward LSTM</text><text x="1396.7" y="1717.9" font-size="12.5" fill="#222" textLength="106.5" lengthAdjust="spacingAndGlyphs" font-family="Liberation Serif, serif">Reverse LSTM</text><path d="M1324.3,1700.6L1324.3,1476.5" stroke="#222" stroke-width="0.8" fill="none" stroke-dasharray="4,2.5"/><path d="M1420.2,1476.5L1420.2,1700.6" stroke="#222" stroke-width="0.8" fill="none" stroke-dasharray="4,2.5"/><rect x="1232.4" y="1506.7" width="33.6" height="19.2" fill="#fff" stroke="#222" stroke-width="0.8"/><rect x="1299" y="1506.7" width="50.8" height="19.2" fill="#eee" stroke="#222" stroke-width="0.8"/><rect x="1396.1" y="1506.7" width="51.1" height="19.2" fill="#eee" stroke="#222" stroke-width="0.8"/><rect x="1475.7" y="1505.8" width="33.9" height="19.2" fill="#fff" stroke="#222" stroke-width="0.8"/><text x="1324.3" y="1520.4" font-size="13" fill="#222" text-anchor="middle" textLength="37" lengthAdjust="spacingAndGlyphs" font-family="Liberation Serif, serif">LSTM</text><text x="1421.7" y="1520.4" font-size="13" fill="#222" text-anchor="middle" textLength="37" lengthAdjust="spacingAndGlyphs" font-family="Liberation Serif, serif">LSTM</text><text x="1242.1" y="1520.6" font-size="12.5" fill="#333" font-family="Liberation Serif, serif" font-style="italic">X<tspan font-size="7.5" dy="2.5">1</tspan></text><text x="1487.2" y="1519.2" font-size="11.5" fill="#333" font-family="Liberation Serif, serif" font-style="italic">h<tspan font-size="6.9" dy="2.5">1</tspan></text><path d="M1266,1516.9L1297.6,1516.9" stroke="#222" stroke-width="0.8" fill="none"/><path d="M1297.6,1516.9L1292.6,1519.2L1292.6,1514.7Z" fill="#222"/><path d="M1447.2,1516.3L1474.2,1516.3" stroke="#222" stroke-width="0.8" fill="none"/><path d="M1474.2,1516.3L1469.2,1518.6L1469.2,1514.1Z" fill="#222"/><path d="M1324.3,1527.4L1326.5,1532.4L1322,1532.4Z" fill="#222"/><path d="M1420.2,1505.3L1418,1500.3L1422.5,1500.3Z" fill="#222"/><path d="M1266.0,1508.1 C1307.6,1485.2 1356.5,1486.6 1397.5,1503.3" fill="none" stroke="#222" stroke-width="0.7"/><path d="M1398.4,1503.8L1392.9,1504.1L1394.6,1499.9Z" fill="#222"/><path d="M1349.8,1529.4 C1385.2,1547.5 1442.6,1543.2 1480.0,1530.3" fill="none" stroke="#222" stroke-width="0.7"/><path d="M1481.4,1529.7L1477.5,1533.5L1476,1529.3Z" fill="#222"/><rect x="1232.4" y="1554.7" width="33.6" height="18.7" fill="#fff" stroke="#222" stroke-width="0.8"/><rect x="1299" y="1554.7" width="50.8" height="18.7" fill="#eee" stroke="#222" stroke-width="0.8"/><rect x="1396.1" y="1554.7" width="51.1" height="18.7" fill="#eee" stroke="#222" stroke-width="0.8"/><rect x="1475.7" y="1553.8" width="33.9" height="18.7" fill="#fff" stroke="#222" stroke-width="0.8"/><text x="1324.3" y="1568" font-size="13" fill="#222" text-anchor="middle" textLength="37" lengthAdjust="spacingAndGlyphs" font-family="Liberation Serif, serif">LSTM</text><text x="1421.7" y="1568" font-size="13" fill="#222" text-anchor="middle" textLength="37" lengthAdjust="spacingAndGlyphs" font-family="Liberation Serif, serif">LSTM</text><text x="1242.1" y="1568.3" font-size="12.5" fill="#333" font-family="Liberation Serif, serif" font-style="italic">X<tspan font-size="7.5" dy="2.5">2</tspan></text><text x="1487.2" y="1566.9" font-size="11.5" fill="#333" font-family="Liberation Serif, serif" font-style="italic">h<tspan font-size="6.9" dy="2.5">2</tspan></text><path d="M1266,1564.6L1297.6,1564.6" stroke="#222" stroke-width="0.8" fill="none"/><path d="M1297.6,1564.6L1292.6,1566.8L1292.6,1562.3Z" fill="#222"/><path d="M1447.2,1564L1474.2,1564" stroke="#999" stroke-width="0.8" fill="none"/><path d="M1474.2,1564L1469.2,1566.3L1469.2,1561.8Z" fill="#999"/><path d="M1324.3,1574.8L1326.5,1579.8L1322,1579.8Z" fill="#222"/><path d="M1420.2,1553.2L1418,1548.2L1422.5,1548.2Z" fill="#222"/><path d="M1266.0,1556.1 C1307.6,1533.1 1356.5,1534.6 1397.5,1551.2" fill="none" stroke="#222" stroke-width="0.7"/><path d="M1398.4,1551.8L1392.9,1552L1394.6,1547.9Z" fill="#222"/><path d="M1349.8,1576.8 C1385.2,1594.9 1442.6,1590.6 1480.0,1577.7" fill="none" stroke="#222" stroke-width="0.7"/><path d="M1481.4,1577.1L1477.5,1580.9L1476,1576.7Z" fill="#222"/><rect x="1232.4" y="1605" width="33.6" height="19.5" fill="#fff" stroke="#222" stroke-width="0.8"/><rect x="1299" y="1605" width="50.8" height="19.5" fill="#eee" stroke="#222" stroke-width="0.8"/><rect x="1396.1" y="1605" width="51.1" height="19.5" fill="#eee" stroke="#222" stroke-width="0.8"/><rect x="1475.7" y="1604.1" width="33.9" height="19.5" fill="#fff" stroke="#222" stroke-width="0.8"/><text x="1324.3" y="1618.7" font-size="13" fill="#222" text-anchor="middle" textLength="37" lengthAdjust="spacingAndGlyphs" font-family="Liberation Serif, serif">LSTM</text><text x="1421.7" y="1618.7" font-size="13" fill="#222" text-anchor="middle" textLength="37" lengthAdjust="spacingAndGlyphs" font-family="Liberation Serif, serif">LSTM</text><text x="1242.1" y="1619.0" font-size="12.5" fill="#333" font-family="Liberation Serif, serif" font-style="italic">X<tspan font-size="7.5" dy="2.5">t</tspan></text><text x="1487.2" y="1617.6" font-size="11.5" fill="#333" font-family="Liberation Serif, serif" font-style="italic">h<tspan font-size="6.9" dy="2.5">t</tspan></text><path d="M1266,1615.3L1297.6,1615.3" stroke="#222" stroke-width="0.8" fill="none"/><path d="M1297.6,1615.3L1292.6,1617.5L1292.6,1613Z" fill="#222"/><path d="M1447.2,1614.7L1474.2,1614.7" stroke="#222" stroke-width="0.8" fill="none"/><path d="M1474.2,1614.7L1469.2,1617L1469.2,1612.5Z" fill="#222"/><path d="M1324.3,1625.9L1326.5,1630.9L1322,1630.9Z" fill="#222"/><path d="M1420.2,1603.5L1418,1598.5L1422.5,1598.5Z" fill="#222"/><path d="M1266.0,1606.4 C1307.6,1583.4 1356.5,1584.8 1397.5,1601.5" fill="none" stroke="#222" stroke-width="0.7"/><path d="M1398.4,1602.1L1392.9,1602.3L1394.6,1598.1Z" fill="#222"/><path d="M1349.8,1627.9 C1385.2,1646.0 1442.6,1641.7 1480.0,1628.8" fill="none" stroke="#222" stroke-width="0.7"/><path d="M1481.4,1628.2L1477.5,1632.1L1476,1627.8Z" fill="#222"/><rect x="1232.4" y="1654.7" width="33.6" height="19.2" fill="#fff" stroke="#222" stroke-width="0.8"/><rect x="1299" y="1654.7" width="50.8" height="19.2" fill="#eee" stroke="#222" stroke-width="0.8"/><rect x="1396.1" y="1654.7" width="51.1" height="19.2" fill="#eee" stroke="#222" stroke-width="0.8"/><rect x="1475.7" y="1653.8" width="33.9" height="19.2" fill="#fff" stroke="#222" stroke-width="0.8"/><text x="1324.3" y="1668.3" font-size="13" fill="#222" text-anchor="middle" textLength="37" lengthAdjust="spacingAndGlyphs" font-family="Liberation Serif, serif">LSTM</text><text x="1421.7" y="1668.3" font-size="13" fill="#222" text-anchor="middle" textLength="37" lengthAdjust="spacingAndGlyphs" font-family="Liberation Serif, serif">LSTM</text><text x="1242.1" y="1668.6" font-size="12.5" fill="#333" font-family="Liberation Serif, serif" font-style="italic">X<tspan font-size="7.5" dy="2.5">T</tspan></text><text x="1487.2" y="1667.2" font-size="11.5" fill="#333" font-family="Liberation Serif, serif" font-style="italic">h<tspan font-size="6.9" dy="2.5">T</tspan></text><path d="M1266,1664.9L1297.6,1664.9" stroke="#222" stroke-width="0.8" fill="none"/><path d="M1297.6,1664.9L1292.6,1667.1L1292.6,1662.6Z" fill="#222"/><path d="M1447.2,1664.3L1474.2,1664.3" stroke="#222" stroke-width="0.8" fill="none"/><path d="M1474.2,1664.3L1469.2,1666.5L1469.2,1662Z" fill="#222"/><path d="M1324.3,1675.3L1326.5,1680.3L1322,1680.3Z" fill="#222"/><path d="M1420.2,1653.2L1418,1648.2L1422.5,1648.2Z" fill="#222"/><path d="M1266.0,1656.1 C1307.6,1633.1 1356.5,1634.5 1397.5,1651.2" fill="none" stroke="#222" stroke-width="0.7"/><path d="M1398.4,1651.8L1392.9,1652L1394.6,1647.8Z" fill="#222"/><path d="M1349.8,1677.3 C1385.2,1695.4 1442.6,1691.1 1480.0,1678.2" fill="none" stroke="#222" stroke-width="0.7"/><path d="M1481.4,1677.6L1477.5,1681.5L1476,1677.2Z" fill="#222"/><path d="M1324.3,1475.7L1326.5,1480.7L1322,1480.7Z" fill="#222"/><path d="M1420.2,1701.5L1418,1696.5L1422.5,1696.5Z" fill="#222"/><circle cx="1249.6" cy="1584.8" r="1.2" fill="#222"/><circle cx="1249.6" cy="1589.4" r="1.2" fill="#222"/><circle cx="1249.6" cy="1594" r="1.2" fill="#222"/><circle cx="1249.6" cy="1633.7" r="1.2" fill="#222"/><circle cx="1249.6" cy="1638.3" r="1.2" fill="#222"/><circle cx="1249.6" cy="1642.9" r="1.2" fill="#222"/><circle cx="1492" cy="1581.4" r="1.2" fill="#222"/><circle cx="1492" cy="1586" r="1.2" fill="#222"/><circle cx="1492" cy="1590.6" r="1.2" fill="#222"/><circle cx="1492" cy="1633.7" r="1.2" fill="#222"/><circle cx="1492" cy="1638.3" r="1.2" fill="#222"/><circle cx="1492" cy="1642.9" r="1.2" fill="#222"/></svg>
<svg style="left:0;top:0" width="4590" height="2437" viewBox="0 0 4590 2437" font-family="Liberation Sans, sans-serif"><rect x="1574" y="1460.6" width="530.3" height="279.7" fill="#d3f3f1"/><rect x="1574" y="1460.6" width="530.3" height="55.5" fill="#7edcd5"/><rect x="1574" y="1460.6" width="229.7" height="279.7" fill="#7edcd5"/><path d="M1574,1460.6L2104.3,1460.6" stroke="#4f8a8a" stroke-width="0.9" fill="none"/><path d="M1574,1516.1L2104.3,1516.1" stroke="#4f8a8a" stroke-width="0.9" fill="none"/><path d="M1574,1572.5L2104.3,1572.5" stroke="#4f8a8a" stroke-width="0.9" fill="none"/><path d="M1574,1628.4L2104.3,1628.4" stroke="#4f8a8a" stroke-width="0.9" fill="none"/><path d="M1574,1684.4L2104.3,1684.4" stroke="#4f8a8a" stroke-width="0.9" fill="none"/><path d="M1574,1740.3L2104.3,1740.3" stroke="#4f8a8a" stroke-width="0.9" fill="none"/><path d="M1574,1460.6L1574,1740.3" stroke="#4f8a8a" stroke-width="0.9" fill="none"/><path d="M1803.7,1460.6L1803.7,1740.3" stroke="#4f8a8a" stroke-width="0.9" fill="none"/><path d="M1933.9,1460.6L1933.9,1740.3" stroke="#4f8a8a" stroke-width="0.9" fill="none"/><path d="M2104.3,1460.6L2104.3,1740.3" stroke="#4f8a8a" stroke-width="0.9" fill="none"/><text x="1624.3" y="1493.1" font-size="13.5" fill="#1a2a2a" textLength="128.1" lengthAdjust="spacingAndGlyphs" font-weight="bold" font-family="Liberation Serif, serif">Matching method</text><text x="1813.1" y="1493.1" font-size="13.5" fill="#1a2a2a" textLength="111" lengthAdjust="spacingAndGlyphs" font-weight="bold" font-family="Liberation Serif, serif">Matching time</text><text x="1946.3" y="1493.1" font-size="13.5" fill="#1a2a2a" textLength="144.3" lengthAdjust="spacingAndGlyphs" font-weight="bold" font-family="Liberation Serif, serif">Matching accuracy</text><text x="1586.8" y="1549.4" font-size="13.5" fill="#1a2a2a" textLength="203.7" lengthAdjust="spacingAndGlyphs" font-weight="bold" font-family="Liberation Serif, serif">Improve Dice coefficient</text><text x="1607.3" y="1605.4" font-size="13.5" fill="#1a2a2a" textLength="162.3" lengthAdjust="spacingAndGlyphs" font-weight="bold" font-family="Liberation Serif, serif">Levinstein distance</text><text x="1611.5" y="1652.3" font-size="13.5" fill="#1a2a2a" textLength="153.7" lengthAdjust="spacingAndGlyphs" font-weight="bold" font-family="Liberation Serif, serif">Word2vec+Euclidean</text><text x="1607.3" y="1670.7" font-size="13.5" fill="#1a2a2a" textLength="162.3" lengthAdjust="spacingAndGlyphs" font-weight="bold" font-family="Liberation Serif, serif">distance similarity</text><text x="1581.6" y="1718.1" font-size="13.5" fill="#1a2a2a" textLength="214.3" lengthAdjust="spacingAndGlyphs" font-weight="bold" font-family="Liberation Serif, serif">Word2vec+ improve Bi-LSTM</text><text x="1868.6" y="1549.4" font-size="14.5" fill="#1a2a2a" text-anchor="middle" font-family="Liberation Serif, serif">0.09s</text><text x="2019.3" y="1549.4" font-size="14.5" fill="#1a2a2a" text-anchor="middle" font-family="Liberation Serif, serif">48%</text><text x="1868.6" y="1605.4" font-size="14.5" fill="#1a2a2a" text-anchor="middle" font-family="Liberation Serif, serif">0.03s</text><text x="2019.3" y="1605.4" font-size="14.5" fill="#1a2a2a" text-anchor="middle" font-family="Liberation Serif, serif">57%</text><text x="1868.6" y="1661.3" font-size="14.5" fill="#1a2a2a" text-anchor="middle" font-family="Liberation Serif, serif">0.67s</text><text x="2019.3" y="1661.3" font-size="14.5" fill="#1a2a2a" text-anchor="middle" font-family="Liberation Serif, serif">87%</text><text x="1868.6" y="1718.1" font-size="14.5" fill="#1a2a2a" text-anchor="middle" font-family="Liberation Serif, serif">0.82s</text><text x="2019.3" y="1718.1" font-size="14.5" fill="#1a2a2a" text-anchor="middle" font-family="Liberation Serif, serif">100%</text></svg>
<svg style="left:0;top:0" width="4590" height="2437" viewBox="0 0 4590 2437" font-family="Liberation Sans, sans-serif"><rect x="403.3" y="1939.4" width="249.2" height="136.9" fill="#eaf7f3" stroke="#9fd6cb" stroke-width="0.8"/><rect x="403.3" y="1939.4" width="249.2" height="3.9" fill="#f4f8f8"/><rect x="403.3" y="1943.3" width="249.2" height="19.7" fill="#d6f1ea"/><rect x="408.3" y="1946.1" width="3.9" height="3.9" fill="#f0c040"/><rect x="405.6" y="1951.7" width="10" height="1.7" fill="#55666a"/><rect x="421.4" y="1946.1" width="3.9" height="3.9" fill="#9ab8c8"/><rect x="418.6" y="1951.7" width="10" height="1.7" fill="#55666a"/><rect x="434.4" y="1946.1" width="3.9" height="3.9" fill="#9ab8c8"/><rect x="431.7" y="1951.7" width="10" height="1.7" fill="#55666a"/><rect x="447.5" y="1946.1" width="3.9" height="3.9" fill="#f0c040"/><rect x="444.7" y="1951.7" width="10" height="1.7" fill="#55666a"/><rect x="460.6" y="1946.1" width="3.9" height="3.9" fill="#9ab8c8"/><rect x="457.8" y="1951.7" width="10" height="1.7" fill="#55666a"/><rect x="473.6" y="1946.1" width="3.9" height="3.9" fill="#9ab8c8"/><rect x="470.8" y="1951.7" width="10" height="1.7" fill="#55666a"/><rect x="486.7" y="1946.1" width="3.9" height="3.9" fill="#f0c040"/><rect x="483.9" y="1951.7" width="10" height="1.7" fill="#55666a"/><rect x="499.7" y="1946.1" width="3.9" height="3.9" fill="#9ab8c8"/><rect x="496.9" y="1951.7" width="10" height="1.7" fill="#55666a"/><rect x="512.8" y="1946.1" width="3.9" height="3.9" fill="#9ab8c8"/><rect x="510" y="1951.7" width="10" height="1.7" fill="#55666a"/><rect x="525.8" y="1946.1" width="3.9" height="3.9" fill="#f0c040"/><rect x="523.1" y="1951.7" width="10" height="1.7" fill="#55666a"/><rect x="538.9" y="1946.1" width="3.9" height="3.9" fill="#9ab8c8"/><rect x="536.1" y="1951.7" width="10" height="1.7" fill="#55666a"/><rect x="624.2" y="1947.2" width="23.6" height="3.3" fill="#7a8a88"/><rect x="405.6" y="1957.8" width="12.2" height="5" fill="#fff"/><rect x="420" y="1957.8" width="13.9" height="5" fill="#2aa98a"/><rect x="436.1" y="1957.8" width="14.4" height="5" fill="#2aa98a"/><rect x="404.7" y="1963.9" width="246.4" height="5.6" fill="#fff"/><rect x="457.5" y="1965" width="13.9" height="4.4" fill="#fff"/><rect x="475" y="1965" width="13.1" height="4.4" fill="#2aa98a"/><rect x="404.7" y="1970" width="50.8" height="105.6" fill="#fff" stroke="#cde" stroke-width="0.5"/><rect x="411.7" y="1972.8" width="10.6" height="1.4" fill="#8a9296"/><rect x="424.4" y="1972.8" width="23.3" height="1.4" fill="#6d7478"/><rect x="411.7" y="1976.6" width="10.6" height="1.4" fill="#8a9296"/><rect x="424.4" y="1976.6" width="20.3" height="1.4" fill="#6d7478"/><rect x="411.7" y="1980.4" width="10.6" height="1.4" fill="#8a9296"/><rect x="424.4" y="1980.4" width="24.7" height="1.4" fill="#6d7478"/><rect x="411.7" y="1984.3" width="10.6" height="1.4" fill="#8a9296"/><rect x="424.4" y="1984.3" width="18.6" height="1.4" fill="#6d7478"/><rect x="411.7" y="1988.1" width="10.6" height="1.4" fill="#8a9296"/><rect x="424.4" y="1988.1" width="18.9" height="1.4" fill="#6d7478"/><rect x="411.7" y="1991.9" width="10.6" height="1.4" fill="#8a9296"/><rect x="424.4" y="1991.9" width="27.2" height="1.4" fill="#6d7478"/><rect x="411.7" y="1995.8" width="10.6" height="1.4" fill="#8a9296"/><rect x="424.4" y="1995.8" width="19.4" height="1.4" fill="#6d7478"/><rect x="411.7" y="1999.6" width="10.6" height="1.4" fill="#8a9296"/><rect x="424.4" y="1999.6" width="24.2" height="1.4" fill="#6d7478"/><rect x="411.7" y="2003.4" width="10.6" height="1.4" fill="#8a9296"/><rect x="424.4" y="2003.4" width="18.6" height="1.4" fill="#6d7478"/><rect x="411.7" y="2007.3" width="10.6" height="1.4" fill="#8a9296"/><rect x="424.4" y="2007.3" width="26.7" height="1.4" fill="#6d7478"/><rect x="411.7" y="2011.1" width="10.6" height="1.4" fill="#8a9296"/><rect x="424.4" y="2011.1" width="21.4" height="1.4" fill="#6d7478"/><rect x="411.7" y="2014.9" width="10.6" height="1.4" fill="#8a9296"/><rect x="424.4" y="2014.9" width="18.3" height="1.4" fill="#6d7478"/><rect x="411.7" y="2018.8" width="10.6" height="1.4" fill="#8a9296"/><rect x="424.4" y="2018.8" width="19.2" height="1.4" fill="#6d7478"/><rect x="411.7" y="2022.6" width="10.6" height="1.4" fill="#8a9296"/><rect x="424.4" y="2022.6" width="25.3" height="1.4" fill="#6d7478"/><rect x="411.7" y="2026.4" width="10.6" height="1.4" fill="#8a9296"/><rect x="424.4" y="2026.4" width="25" height="1.4" fill="#6d7478"/><rect x="411.7" y="2030.3" width="10.6" height="1.4" fill="#8a9296"/><rect x="424.4" y="2030.3" width="18.9" height="1.4" fill="#6d7478"/><rect x="411.7" y="2034.1" width="10.6" height="1.4" fill="#8a9296"/><rect x="424.4" y="2034.1" width="21.9" height="1.4" fill="#6d7478"/><rect x="411.7" y="2037.9" width="10.6" height="1.4" fill="#8a9296"/><rect x="424.4" y="2037.9" width="19.2" height="1.4" fill="#6d7478"/><rect x="411.7" y="2041.8" width="10.6" height="1.4" fill="#8a9296"/><rect x="424.4" y="2041.8" width="27.5" height="1.4" fill="#6d7478"/><rect x="411.7" y="2045.6" width="10.6" height="1.4" fill="#8a9296"/><rect x="424.4" y="2045.6" width="25.3" height="1.4" fill="#6d7478"/><rect x="411.7" y="2049.4" width="10.6" height="1.4" fill="#8a9296"/><rect x="424.4" y="2049.4" width="18.6" height="1.4" fill="#6d7478"/><rect x="411.7" y="2053.3" width="10.6" height="1.4" fill="#8a9296"/><rect x="424.4" y="2053.3" width="19.7" height="1.4" fill="#6d7478"/><rect x="411.7" y="2057.1" width="10.6" height="1.4" fill="#8a9296"/><rect x="424.4" y="2057.1" width="21.7" height="1.4" fill="#6d7478"/><rect x="411.7" y="2060.9" width="10.6" height="1.4" fill="#8a9296"/><rect x="424.4" y="2060.9" width="18.6" height="1.4" fill="#6d7478"/><rect x="411.7" y="2064.8" width="10.6" height="1.4" fill="#8a9296"/><rect x="424.4" y="2064.8" width="24.7" height="1.4" fill="#6d7478"/><rect x="411.7" y="2068.6" width="10.6" height="1.4" fill="#8a9296"/><rect x="424.4" y="2068.6" width="18.6" height="1.4" fill="#6d7478"/><rect x="411.7" y="2072.4" width="10.6" height="1.4" fill="#8a9296"/><rect x="424.4" y="2072.4" width="21.7" height="1.4" fill="#6d7478"/><rect x="456.7" y="1970.6" width="194.4" height="104.4" fill="#000"/><rect x="541.9" y="1972.2" width="23.6" height="54.7" fill="#146e5f"/><rect x="477.2" y="1988.9" width="23.3" height="20" fill="#2e271c" stroke="#6b604a" stroke-width="0.6"/><rect x="501.1" y="1990.8" width="16.7" height="6.1" fill="#6c8ce6"/><rect x="501.1" y="1999.2" width="16.7" height="4.7" fill="#f3c56f"/><rect x="477.2" y="2013.9" width="23.3" height="18.6" fill="#2e271c" stroke="#6b604a" stroke-width="0.6"/><rect x="501.1" y="2015.8" width="16.7" height="6.1" fill="#6c8ce6"/><rect x="501.1" y="2024.2" width="16.7" height="4.2" fill="#f3c56f"/><rect x="545" y="2009.4" width="16.7" height="6.4" fill="#6c8ce6"/><rect x="545" y="2018.1" width="16.7" height="6.1" fill="#6c8ce6"/><rect x="589.4" y="2008.3" width="16.7" height="6.1" fill="#6c8ce6"/><rect x="606.7" y="2003.3" width="23.1" height="17.2" fill="#2e271c" stroke="#6b604a" stroke-width="0.6"/><path d="M517.8,1993.9L541.9,1993.9" stroke="#5577dd" stroke-width="0.6" fill="none"/><path d="M561.7,2012.2L589.4,2011.7" stroke="#5577dd" stroke-width="0.6" fill="none"/><path d="M517.8,2018.9L545,2012.2" stroke="#5577dd" stroke-width="0.6" fill="none"/><path d="M517.8,2006.1L545,2021.1" stroke="#5577dd" stroke-width="0.6" fill="none"/><path d="M453.3,2015L520,2017.2" stroke="#e03030" stroke-width="0.7" fill="none"/><path d="M520,2017.2L575.6,2054.7" stroke="#e03030" stroke-width="0.7" fill="none"/><rect x="483.1" y="2027.8" width="166.7" height="46.4" fill="#000" stroke="#ddd" stroke-width="0.6"/><rect x="483.1" y="2027.8" width="166.7" height="4.7" fill="#f2f2f2"/><rect x="645.6" y="2028.3" width="3.9" height="3.9" fill="#e04040"/><rect x="483.9" y="2035.3" width="67.5" height="29.2" fill="#146e5f"/><rect x="486.1" y="2037.2" width="63.1" height="25" fill="#6c8ce6"/><rect x="581.1" y="2035.3" width="68.1" height="34.7" fill="#146e5f"/><rect x="583.3" y="2037.2" width="63.9" height="30.6" fill="#6c8ce6"/><path d="M486.1,2045L549.2,2045" stroke="#3a55a8" stroke-width="0.6" fill="none"/><path d="M486.1,2052.8L549.2,2052.8" stroke="#3a55a8" stroke-width="0.6" fill="none"/><path d="M583.3,2044.4L647.2,2044.4" stroke="#3a55a8" stroke-width="0.6" fill="none"/><path d="M583.3,2052.2L647.2,2052.2" stroke="#3a55a8" stroke-width="0.6" fill="none"/><path d="M583.3,2060L647.2,2060" stroke="#3a55a8" stroke-width="0.6" fill="none"/><path d="M549.2,2049.2L583.3,2056.1" stroke="#4060c0" stroke-width="0.6" fill="none"/><path d="M549.2,2057.5L583.3,2048.3" stroke="#4060c0" stroke-width="0.6" fill="none"/><path d="M549.2,2057.5L583.3,2063.9" stroke="#4060c0" stroke-width="0.6" fill="none"/><rect x="408.3" y="2011.1" width="47.8" height="7.5" fill="none" stroke="#e03030" stroke-width="0.7"/><rect x="414.4" y="2012.8" width="40.3" height="3.9" fill="#3aa890"/><rect x="410" y="2000" width="59.7" height="8.9" fill="#fff" rx="2"/><text x="439.9" y="2006.1" font-size="5.6" fill="#e02a2a" text-anchor="middle" textLength="55.8" lengthAdjust="spacingAndGlyphs" font-weight="bold">Error identification</text><rect x="476.7" y="2003.9" width="51.4" height="9.2" fill="#fff" rx="2"/><text x="502.4" y="2010.3" font-size="5.6" fill="#e02a2a" text-anchor="middle" textLength="47.5" lengthAdjust="spacingAndGlyphs" font-weight="bold">Wrong circuit</text><rect x="558.6" y="2036.7" width="54.4" height="8.9" fill="#fff" rx="2"/><text x="585.8" y="2042.8" font-size="5.6" fill="#e02a2a" text-anchor="middle" textLength="50.6" lengthAdjust="spacingAndGlyphs" font-weight="bold">Wrong connection</text><rect x="666.4" y="1939.4" width="249.2" height="136.9" fill="#eaf7f3" stroke="#9fd6cb" stroke-width="0.8"/><rect x="666.4" y="1939.4" width="249.2" height="3.9" fill="#f4f8f8"/><rect x="666.4" y="1943.3" width="249.2" height="19.7" fill="#d6f1ea"/><rect x="671.4" y="1946.1" width="3.9" height="3.9" fill="#f0c040"/><rect x="668.6" y="1951.7" width="10" height="1.7" fill="#55666a"/><rect x="684.4" y="1946.1" width="3.9" height="3.9" fill="#9ab8c8"/><rect x="681.7" y="1951.7" width="10" height="1.7" fill="#55666a"/><rect x="697.5" y="1946.1" width="3.9" height="3.9" fill="#9ab8c8"/><rect x="694.7" y="1951.7" width="10" height="1.7" fill="#55666a"/><rect x="710.6" y="1946.1" width="3.9" height="3.9" fill="#f0c040"/><rect x="707.8" y="1951.7" width="10" height="1.7" fill="#55666a"/><rect x="723.6" y="1946.1" width="3.9" height="3.9" fill="#9ab8c8"/><rect x="720.8" y="1951.7" width="10" height="1.7" fill="#55666a"/><rect x="736.7" y="1946.1" width="3.9" height="3.9" fill="#9ab8c8"/><rect x="733.9" y="1951.7" width="10" height="1.7" fill="#55666a"/><rect x="749.7" y="1946.1" width="3.9" height="3.9" fill="#f0c040"/><rect x="746.9" y="1951.7" width="10" height="1.7" fill="#55666a"/><rect x="762.8" y="1946.1" width="3.9" height="3.9" fill="#9ab8c8"/><rect x="760" y="1951.7" width="10" height="1.7" fill="#55666a"/><rect x="775.8" y="1946.1" width="3.9" height="3.9" fill="#9ab8c8"/><rect x="773.1" y="1951.7" width="10" height="1.7" fill="#55666a"/><rect x="788.9" y="1946.1" width="3.9" height="3.9" fill="#f0c040"/><rect x="786.1" y="1951.7" width="10" height="1.7" fill="#55666a"/><rect x="801.9" y="1946.1" width="3.9" height="3.9" fill="#9ab8c8"/><rect x="799.2" y="1951.7" width="10" height="1.7" fill="#55666a"/><rect x="887.2" y="1947.2" width="23.6" height="3.3" fill="#7a8a88"/><rect x="668.6" y="1957.8" width="12.2" height="5" fill="#fff"/><rect x="683.1" y="1957.8" width="13.9" height="5" fill="#2aa98a"/><rect x="699.2" y="1957.8" width="14.4" height="5" fill="#2aa98a"/><rect x="667.8" y="1963.9" width="246.4" height="5.6" fill="#fff"/><rect x="720.6" y="1965" width="13.9" height="4.4" fill="#fff"/><rect x="738.1" y="1965" width="13.1" height="4.4" fill="#2aa98a"/><rect x="667.8" y="1970" width="50.8" height="105.6" fill="#fff" stroke="#cde" stroke-width="0.5"/><rect x="674.7" y="1972.8" width="10.6" height="1.4" fill="#8a9296"/><rect x="687.5" y="1972.8" width="18.3" height="1.4" fill="#6d7478"/><rect x="674.7" y="1976.6" width="10.6" height="1.4" fill="#8a9296"/><rect x="687.5" y="1976.6" width="27.5" height="1.4" fill="#6d7478"/><rect x="674.7" y="1980.4" width="10.6" height="1.4" fill="#8a9296"/><rect x="687.5" y="1980.4" width="20" height="1.4" fill="#6d7478"/><rect x="674.7" y="1984.3" width="10.6" height="1.4" fill="#8a9296"/><rect x="687.5" y="1984.3" width="22.8" height="1.4" fill="#6d7478"/><rect x="674.7" y="1988.1" width="10.6" height="1.4" fill="#8a9296"/><rect x="687.5" y="1988.1" width="25" height="1.4" fill="#6d7478"/><rect x="674.7" y="1991.9" width="10.6" height="1.4" fill="#8a9296"/><rect x="687.5" y="1991.9" width="20.3" height="1.4" fill="#6d7478"/><rect x="674.7" y="1995.8" width="10.6" height="1.4" fill="#8a9296"/><rect x="687.5" y="1995.8" width="27.2" height="1.4" fill="#6d7478"/><rect x="674.7" y="1999.6" width="10.6" height="1.4" fill="#8a9296"/><rect x="687.5" y="1999.6" width="19.7" height="1.4" fill="#6d7478"/><rect x="674.7" y="2003.4" width="10.6" height="1.4" fill="#8a9296"/><rect x="687.5" y="2003.4" width="23.1" height="1.4" fill="#6d7478"/><rect x="674.7" y="2007.3" width="10.6" height="1.4" fill="#8a9296"/><rect x="687.5" y="2007.3" width="27.5" height="1.4" fill="#6d7478"/><rect x="674.7" y="2011.1" width="10.6" height="1.4" fill="#8a9296"/><rect x="687.5" y="2011.1" width="20.8" height="1.4" fill="#6d7478"/><rect x="674.7" y="2014.9" width="10.6" height="1.4" fill="#8a9296"/><rect x="687.5" y="2014.9" width="19.4" height="1.4" fill="#6d7478"/><rect x="674.7" y="2018.8" width="10.6" height="1.4" fill="#8a9296"/><rect x="687.5" y="2018.8" width="21.1" height="1.4" fill="#6d7478"/><rect x="674.7" y="2022.6" width="10.6" height="1.4" fill="#8a9296"/><rect x="687.5" y="2022.6" width="24.2" height="1.4" fill="#6d7478"/><rect x="674.7" y="2026.4" width="10.6" height="1.4" fill="#8a9296"/><rect x="687.5" y="2026.4" width="19.4" height="1.4" fill="#6d7478"/><rect x="674.7" y="2030.3" width="10.6" height="1.4" fill="#8a9296"/><rect x="687.5" y="2030.3" width="27.5" height="1.4" fill="#6d7478"/><rect x="674.7" y="2034.1" width="10.6" height="1.4" fill="#8a9296"/><rect x="687.5" y="2034.1" width="18.9" height="1.4" fill="#6d7478"/><rect x="674.7" y="2037.9" width="10.6" height="1.4" fill="#8a9296"/><rect x="687.5" y="2037.9" width="18.6" height="1.4" fill="#6d7478"/><rect x="674.7" y="2041.8" width="10.6" height="1.4" fill="#8a9296"/><rect x="687.5" y="2041.8" width="21.4" height="1.4" fill="#6d7478"/><rect x="674.7" y="2045.6" width="10.6" height="1.4" fill="#8a9296"/><rect x="687.5" y="2045.6" width="26.4" height="1.4" fill="#6d7478"/><rect x="674.7" y="2049.4" width="10.6" height="1.4" fill="#8a9296"/><rect x="687.5" y="2049.4" width="27.2" height="1.4" fill="#6d7478"/><rect x="674.7" y="2053.3" width="10.6" height="1.4" fill="#8a9296"/><rect x="687.5" y="2053.3" width="25.3" height="1.4" fill="#6d7478"/><rect x="674.7" y="2057.1" width="10.6" height="1.4" fill="#8a9296"/><rect x="687.5" y="2057.1" width="23.3" height="1.4" fill="#6d7478"/><rect x="674.7" y="2060.9" width="10.6" height="1.4" fill="#8a9296"/><rect x="687.5" y="2060.9" width="25.8" height="1.4" fill="#6d7478"/><rect x="674.7" y="2064.8" width="10.6" height="1.4" fill="#8a9296"/><rect x="687.5" y="2064.8" width="25.8" height="1.4" fill="#6d7478"/><rect x="674.7" y="2068.6" width="10.6" height="1.4" fill="#8a9296"/><rect x="687.5" y="2068.6" width="24.2" height="1.4" fill="#6d7478"/><rect x="674.7" y="2072.4" width="10.6" height="1.4" fill="#8a9296"/><rect x="687.5" y="2072.4" width="23.1" height="1.4" fill="#6d7478"/><rect x="719.7" y="1970.6" width="194.4" height="104.4" fill="#000"/><rect x="801.7" y="1970.6" width="27.2" height="64.7" fill="#146e5f"/><rect x="724.7" y="1990.8" width="27.2" height="20.3" fill="#2e271c" stroke="#6b604a" stroke-width="0.6"/><rect x="753.1" y="1992.8" width="19.4" height="6.4" fill="#6c8ce6"/><rect x="724.7" y="2020" width="27.2" height="16.7" fill="#2e271c" stroke="#6b604a" stroke-width="0.6"/><rect x="753.1" y="2024.2" width="19.4" height="6.4" fill="#6c8ce6"/><rect x="805.3" y="1999.2" width="19.4" height="6.4" fill="#6c8ce6"/><rect x="805.3" y="2008.9" width="19.4" height="6.4" fill="#6c8ce6"/><rect x="805.3" y="2018.6" width="19.4" height="6.4" fill="#6c8ce6"/><rect x="805.3" y="2028.3" width="19.4" height="6.4" fill="#6c8ce6"/><rect x="857.5" y="2004.7" width="19.4" height="6.4" fill="#6c8ce6"/><rect x="857.5" y="2014.4" width="19.4" height="6.1" fill="#f3c56f"/><rect x="877.5" y="2001.9" width="27.8" height="22.2" fill="#2e271c" stroke="#6b604a" stroke-width="0.6"/><path d="M772.5,1996.1L801.7,1996.1" stroke="#5577dd" stroke-width="0.6" fill="none"/><path d="M824.7,2002.2L857.5,2017.2" stroke="#5577dd" stroke-width="0.6" fill="none"/><path d="M824.7,2021.7L857.5,2007.8" stroke="#5577dd" stroke-width="0.6" fill="none"/><path d="M772.5,2027.2L805.3,2021.7" stroke="#5577dd" stroke-width="0.6" fill="none"/><path d="M720.6,1996.4L758.1,2008.9" stroke="#e03030" stroke-width="0.7" fill="none"/><path d="M758.1,2008.9L840,2063.1" stroke="#e03030" stroke-width="0.7" fill="none"/><rect x="747.5" y="2034.4" width="165.3" height="39.7" fill="#000" stroke="#ddd" stroke-width="0.6"/><rect x="747.5" y="2034.4" width="165.3" height="5" fill="#f2f2f2"/><rect x="908.6" y="2035.3" width="3.9" height="3.9" fill="#e04040"/><rect x="748.6" y="2041.7" width="66.4" height="28.3" fill="#146e5f"/><rect x="750.8" y="2043.6" width="61.9" height="22.2" fill="#6c8ce6"/><rect x="844.7" y="2041.7" width="67.5" height="28.3" fill="#146e5f"/><rect x="846.9" y="2043.6" width="63.3" height="22.2" fill="#6c8ce6"/><path d="M750.8,2050.6L812.8,2050.6" stroke="#3a55a8" stroke-width="0.6" fill="none"/><path d="M846.9,2050.6L910.3,2050.6" stroke="#3a55a8" stroke-width="0.6" fill="none"/><path d="M750.8,2058.3L812.8,2058.3" stroke="#3a55a8" stroke-width="0.6" fill="none"/><path d="M846.9,2058.3L910.3,2058.3" stroke="#3a55a8" stroke-width="0.6" fill="none"/><path d="M812.8,2054.7L846.9,2054.7" stroke="#4060c0" stroke-width="0.6" fill="none"/><path d="M812.8,2061.7L846.9,2062.2" stroke="#4060c0" stroke-width="0.6" fill="none"/><rect x="671.9" y="1992.2" width="44.4" height="6.1" fill="none" stroke="#e03030" stroke-width="0.7"/><rect x="678.1" y="1993.3" width="36.9" height="3.9" fill="#3aa890"/><rect x="674.2" y="1980" width="59.7" height="8.9" fill="#fff" rx="2"/><text x="704" y="1986.1" font-size="5.6" fill="#e02a2a" text-anchor="middle" textLength="55.8" lengthAdjust="spacingAndGlyphs" font-weight="bold">Error identification</text><rect x="748.9" y="2004.4" width="51.4" height="9.4" fill="#fff" rx="2"/><text x="774.6" y="2011.1" font-size="5.6" fill="#e02a2a" text-anchor="middle" textLength="47.5" lengthAdjust="spacingAndGlyphs" font-weight="bold">Wrong circuit</text><rect x="830.8" y="2041.7" width="54.2" height="8.3" fill="#fff" rx="2"/><text x="857.9" y="2047.2" font-size="5.6" fill="#e02a2a" text-anchor="middle" textLength="50.3" lengthAdjust="spacingAndGlyphs" font-weight="bold">Excess connection</text><rect x="403.3" y="2118.1" width="249.2" height="136.9" fill="#eaf7f3" stroke="#9fd6cb" stroke-width="0.8"/><rect x="403.3" y="2118.1" width="249.2" height="3.9" fill="#f4f8f8"/><rect x="403.3" y="2121.9" width="249.2" height="19.7" fill="#d6f1ea"/><rect x="408.3" y="2124.7" width="3.9" height="3.9" fill="#f0c040"/><rect x="405.6" y="2130.3" width="10" height="1.7" fill="#55666a"/><rect x="421.4" y="2124.7" width="3.9" height="3.9" fill="#9ab8c8"/><rect x="418.6" y="2130.3" width="10" height="1.7" fill="#55666a"/><rect x="434.4" y="2124.7" width="3.9" height="3.9" fill="#9ab8c8"/><rect x="431.7" y="2130.3" width="10" height="1.7" fill="#55666a"/><rect x="447.5" y="2124.7" width="3.9" height="3.9" fill="#f0c040"/><rect x="444.7" y="2130.3" width="10" height="1.7" fill="#55666a"/><rect x="460.6" y="2124.7" width="3.9" height="3.9" fill="#9ab8c8"/><rect x="457.8" y="2130.3" width="10" height="1.7" fill="#55666a"/><rect x="473.6" y="2124.7" width="3.9" height="3.9" fill="#9ab8c8"/><rect x="470.8" y="2130.3" width="10" height="1.7" fill="#55666a"/><rect x="486.7" y="2124.7" width="3.9" height="3.9" fill="#f0c040"/><rect x="483.9" y="2130.3" width="10" height="1.7" fill="#55666a"/><rect x="499.7" y="2124.7" width="3.9" height="3.9" fill="#9ab8c8"/><rect x="496.9" y="2130.3" width="10" height="1.7" fill="#55666a"/><rect x="512.8" y="2124.7" width="3.9" height="3.9" fill="#9ab8c8"/><rect x="510" y="2130.3" width="10" height="1.7" fill="#55666a"/><rect x="525.8" y="2124.7" width="3.9" height="3.9" fill="#f0c040"/><rect x="523.1" y="2130.3" width="10" height="1.7" fill="#55666a"/><rect x="538.9" y="2124.7" width="3.9" height="3.9" fill="#9ab8c8"/><rect x="536.1" y="2130.3" width="10" height="1.7" fill="#55666a"/><rect x="624.2" y="2125.8" width="23.6" height="3.3" fill="#7a8a88"/><rect x="405.6" y="2136.4" width="12.2" height="5" fill="#fff"/><rect x="420" y="2136.4" width="13.9" height="5" fill="#2aa98a"/><rect x="436.1" y="2136.4" width="14.4" height="5" fill="#2aa98a"/><rect x="404.7" y="2142.5" width="246.4" height="5.6" fill="#fff"/><rect x="457.5" y="2143.6" width="13.9" height="4.4" fill="#fff"/><rect x="475" y="2143.6" width="13.1" height="4.4" fill="#2aa98a"/><rect x="404.7" y="2148.6" width="50.8" height="105.6" fill="#fff" stroke="#cde" stroke-width="0.5"/><rect x="411.7" y="2151.4" width="10.6" height="1.4" fill="#8a9296"/><rect x="424.4" y="2151.4" width="21.9" height="1.4" fill="#6d7478"/><rect x="411.7" y="2155.2" width="10.6" height="1.4" fill="#8a9296"/><rect x="424.4" y="2155.2" width="20.8" height="1.4" fill="#6d7478"/><rect x="411.7" y="2159.1" width="10.6" height="1.4" fill="#8a9296"/><rect x="424.4" y="2159.1" width="21.9" height="1.4" fill="#6d7478"/><rect x="411.7" y="2162.9" width="10.6" height="1.4" fill="#8a9296"/><rect x="424.4" y="2162.9" width="19.2" height="1.4" fill="#6d7478"/><rect x="411.7" y="2166.7" width="10.6" height="1.4" fill="#8a9296"/><rect x="424.4" y="2166.7" width="23.1" height="1.4" fill="#6d7478"/><rect x="411.7" y="2170.6" width="10.6" height="1.4" fill="#8a9296"/><rect x="424.4" y="2170.6" width="26.9" height="1.4" fill="#6d7478"/><rect x="411.7" y="2174.4" width="10.6" height="1.4" fill="#8a9296"/><rect x="424.4" y="2174.4" width="26.4" height="1.4" fill="#6d7478"/><rect x="411.7" y="2178.2" width="10.6" height="1.4" fill="#8a9296"/><rect x="424.4" y="2178.2" width="23.6" height="1.4" fill="#6d7478"/><rect x="411.7" y="2182.1" width="10.6" height="1.4" fill="#8a9296"/><rect x="424.4" y="2182.1" width="25.6" height="1.4" fill="#6d7478"/><rect x="411.7" y="2185.9" width="10.6" height="1.4" fill="#8a9296"/><rect x="424.4" y="2185.9" width="22.8" height="1.4" fill="#6d7478"/><rect x="411.7" y="2189.7" width="10.6" height="1.4" fill="#8a9296"/><rect x="424.4" y="2189.7" width="18.9" height="1.4" fill="#6d7478"/><rect x="411.7" y="2193.6" width="10.6" height="1.4" fill="#8a9296"/><rect x="424.4" y="2193.6" width="19.7" height="1.4" fill="#6d7478"/><rect x="411.7" y="2197.4" width="10.6" height="1.4" fill="#8a9296"/><rect x="424.4" y="2197.4" width="26.7" height="1.4" fill="#6d7478"/><rect x="411.7" y="2201.2" width="10.6" height="1.4" fill="#8a9296"/><rect x="424.4" y="2201.2" width="25" height="1.4" fill="#6d7478"/><rect x="411.7" y="2205.1" width="10.6" height="1.4" fill="#8a9296"/><rect x="424.4" y="2205.1" width="20.6" height="1.4" fill="#6d7478"/><rect x="411.7" y="2208.9" width="10.6" height="1.4" fill="#8a9296"/><rect x="424.4" y="2208.9" width="23.6" height="1.4" fill="#6d7478"/><rect x="411.7" y="2212.7" width="10.6" height="1.4" fill="#8a9296"/><rect x="424.4" y="2212.7" width="20.3" height="1.4" fill="#6d7478"/><rect x="411.7" y="2216.6" width="10.6" height="1.4" fill="#8a9296"/><rect x="424.4" y="2216.6" width="26.4" height="1.4" fill="#6d7478"/><rect x="411.7" y="2220.4" width="10.6" height="1.4" fill="#8a9296"/><rect x="424.4" y="2220.4" width="25" height="1.4" fill="#6d7478"/><rect x="411.7" y="2224.2" width="10.6" height="1.4" fill="#8a9296"/><rect x="424.4" y="2224.2" width="18.3" height="1.4" fill="#6d7478"/><rect x="411.7" y="2228.1" width="10.6" height="1.4" fill="#8a9296"/><rect x="424.4" y="2228.1" width="18.9" height="1.4" fill="#6d7478"/><rect x="411.7" y="2231.9" width="10.6" height="1.4" fill="#8a9296"/><rect x="424.4" y="2231.9" width="27.5" height="1.4" fill="#6d7478"/><rect x="411.7" y="2235.7" width="10.6" height="1.4" fill="#8a9296"/><rect x="424.4" y="2235.7" width="23.3" height="1.4" fill="#6d7478"/><rect x="411.7" y="2239.6" width="10.6" height="1.4" fill="#8a9296"/><rect x="424.4" y="2239.6" width="23.6" height="1.4" fill="#6d7478"/><rect x="411.7" y="2243.4" width="10.6" height="1.4" fill="#8a9296"/><rect x="424.4" y="2243.4" width="23.9" height="1.4" fill="#6d7478"/><rect x="411.7" y="2247.2" width="10.6" height="1.4" fill="#8a9296"/><rect x="424.4" y="2247.2" width="26.4" height="1.4" fill="#6d7478"/><rect x="411.7" y="2251.1" width="10.6" height="1.4" fill="#8a9296"/><rect x="424.4" y="2251.1" width="25.8" height="1.4" fill="#6d7478"/><rect x="456.7" y="2149.2" width="194.4" height="104.4" fill="#000"/><rect x="541.9" y="2150.8" width="23.6" height="61.7" fill="#146e5f"/><rect x="477.2" y="2155.6" width="23.3" height="18.1" fill="#2e271c" stroke="#6b604a" stroke-width="0.6"/><rect x="501.1" y="2157.8" width="16.7" height="6.1" fill="#6c8ce6"/><rect x="501.1" y="2166.1" width="16.7" height="5" fill="#f3c56f"/><rect x="477.2" y="2179.7" width="23.3" height="18.1" fill="#2e271c" stroke="#6b604a" stroke-width="0.6"/><rect x="501.1" y="2181.9" width="16.7" height="6.1" fill="#6c8ce6"/><rect x="501.1" y="2190.3" width="16.7" height="5" fill="#f3c56f"/><rect x="477.2" y="2204.2" width="23.3" height="11.1" fill="#2e271c" stroke="#6b604a" stroke-width="0.6"/><rect x="501.1" y="2206.4" width="16.7" height="6.1" fill="#6c8ce6"/><rect x="545" y="2200.8" width="16.7" height="6.1" fill="#6c8ce6"/><rect x="589.4" y="2169.4" width="16.7" height="6.1" fill="#6c8ce6"/><rect x="589.4" y="2177.8" width="16.7" height="5.6" fill="#f3c56f"/><rect x="606.7" y="2168.1" width="23.1" height="18.1" fill="#2e271c" stroke="#6b604a" stroke-width="0.6"/><rect x="589.4" y="2198.6" width="16.7" height="6.1" fill="#6c8ce6"/><rect x="606.7" y="2193.1" width="23.1" height="16.7" fill="#2e271c" stroke="#6b604a" stroke-width="0.6"/><path d="M517.8,2160.8L553.3,2203.6" stroke="#5577dd" stroke-width="0.6" fill="none"/><path d="M517.8,2185.3L553.3,2203.6" stroke="#5577dd" stroke-width="0.6" fill="none"/><path d="M561.7,2203.6L589.4,2172.5" stroke="#5577dd" stroke-width="0.6" fill="none"/><path d="M561.7,2203.6L589.4,2201.4" stroke="#5577dd" stroke-width="0.6" fill="none"/><path d="M517.8,2209.2L545,2204.2" stroke="#5577dd" stroke-width="0.6" fill="none"/><path d="M543.3,2150.8L543.3,2237.5" stroke="#cfd8d8" stroke-width="0.6" fill="none"/><rect x="457.5" y="2211.1" width="192.2" height="41.7" fill="#f4f6f8" stroke="#ccc" stroke-width="0.6"/><rect x="457.5" y="2211.1" width="192.2" height="4.7" fill="#fff"/><rect x="458.9" y="2226.9" width="190.3" height="6.4" fill="#a9c4ea"/><rect x="458.9" y="2234.2" width="190.3" height="6.1" fill="#f6d5d5"/><rect x="458.9" y="2240.8" width="190.3" height="5.6" fill="#dfe6f5"/><rect x="458.9" y="2249.2" width="190.3" height="2.8" fill="#ddd"/><rect x="463.1" y="2236.4" width="7.8" height="1.7" fill="#666"/><rect x="479.7" y="2236.4" width="7.8" height="1.7" fill="#666"/><rect x="501.9" y="2236.4" width="7.8" height="1.7" fill="#666"/><rect x="517.2" y="2236.4" width="7.8" height="1.7" fill="#666"/><rect x="558.9" y="2236.4" width="7.8" height="1.7" fill="#666"/><rect x="595" y="2236.4" width="7.8" height="1.7" fill="#666"/><rect x="614.4" y="2236.4" width="7.8" height="1.7" fill="#666"/><rect x="468.6" y="2242.8" width="25" height="1.7" fill="#777"/><rect x="513.1" y="2242.8" width="25" height="1.7" fill="#777"/><rect x="539.4" y="2242.8" width="25" height="1.7" fill="#777"/><rect x="608.9" y="2242.8" width="25" height="1.7" fill="#777"/><rect x="413.3" y="2215.3" width="2.8" height="2.5" fill="#e03030"/><rect x="413.3" y="2219.3" width="2.8" height="2.5" fill="#e03030"/><rect x="413.3" y="2223.3" width="2.8" height="2.5" fill="#f0c030"/><rect x="413.3" y="2227.4" width="2.8" height="2.5" fill="#f0c030"/><rect x="413.3" y="2231.4" width="2.8" height="2.5" fill="#e03030"/><rect x="413.3" y="2235.4" width="2.8" height="2.5" fill="#e03030"/><rect x="413.3" y="2239.4" width="2.8" height="2.5" fill="#f0c030"/><rect x="413.3" y="2243.5" width="2.8" height="2.5" fill="#f0c030"/><rect x="413.3" y="2247.5" width="2.8" height="2.5" fill="#f0c030"/><rect x="413.3" y="2214.2" width="41.4" height="3.9" fill="#3aa890"/><rect x="548.3" y="2151.1" width="51.9" height="8.6" fill="#fff" rx="2"/><text x="574.3" y="2156.9" font-size="5.6" fill="#e02a2a" text-anchor="middle" textLength="48.1" lengthAdjust="spacingAndGlyphs" font-weight="bold">Leakage circuit</text><rect x="571.9" y="2224.7" width="61.7" height="9.2" fill="#fff" rx="2"/><text x="602.8" y="2231.1" font-size="5.6" fill="#e02a2a" text-anchor="middle" textLength="57.8" lengthAdjust="spacingAndGlyphs" font-weight="bold">Missing connection</text><rect x="666.4" y="2118.1" width="249.2" height="136.9" fill="#f3fbf9" stroke="#bfe3db" stroke-width="0.8"/><rect x="666.4" y="2118.1" width="249.2" height="3.9" fill="#fff"/><rect x="669.7" y="2129.2" width="5.6" height="1.7" fill="#5a6a6e"/><rect x="678.9" y="2129.2" width="7.2" height="1.7" fill="#5a6a6e"/><rect x="691.4" y="2129.2" width="11.1" height="1.7" fill="#5a6a6e"/><rect x="708.6" y="2129.2" width="5.6" height="1.7" fill="#5a6a6e"/><rect x="717.5" y="2129.2" width="11.4" height="1.7" fill="#5a6a6e"/><rect x="733.3" y="2129.2" width="10.6" height="1.7" fill="#5a6a6e"/><rect x="749.7" y="2129.2" width="10.8" height="1.7" fill="#5a6a6e"/><rect x="765.8" y="2129.2" width="7.5" height="1.7" fill="#5a6a6e"/><rect x="778.3" y="2129.2" width="10.8" height="1.7" fill="#5a6a6e"/><rect x="793.9" y="2129.2" width="5" height="1.7" fill="#5a6a6e"/><rect x="804.2" y="2129.2" width="8.1" height="1.7" fill="#5a6a6e"/><rect x="816.1" y="2129.2" width="10.3" height="1.7" fill="#5a6a6e"/><rect x="669.7" y="2135.8" width="9.2" height="1.7" fill="#8fa0a6"/><rect x="682.2" y="2135.8" width="6.7" height="1.7" fill="#8fa0a6"/><rect x="693.3" y="2135.8" width="6.1" height="1.7" fill="#8fa0a6"/><rect x="703.6" y="2135.8" width="8.3" height="1.7" fill="#8fa0a6"/><rect x="716.9" y="2135.8" width="9.2" height="1.7" fill="#8fa0a6"/><rect x="729.7" y="2135.8" width="6.4" height="1.7" fill="#8fa0a6"/><rect x="741.4" y="2135.8" width="8.3" height="1.7" fill="#8fa0a6"/><rect x="755.3" y="2135.8" width="7.2" height="1.7" fill="#8fa0a6"/><rect x="766.4" y="2135.8" width="8.6" height="1.7" fill="#8fa0a6"/><rect x="780.6" y="2135.8" width="7.2" height="1.7" fill="#8fa0a6"/><rect x="792.8" y="2135.8" width="8.1" height="1.7" fill="#8fa0a6"/><rect x="806.9" y="2135.8" width="8.3" height="1.7" fill="#8fa0a6"/><rect x="819.4" y="2135.8" width="6.1" height="1.7" fill="#8fa0a6"/><rect x="829.2" y="2135.8" width="6.4" height="1.7" fill="#8fa0a6"/><rect x="839.4" y="2135.8" width="6.9" height="1.7" fill="#8fa0a6"/><rect x="852.5" y="2135.8" width="6.9" height="1.7" fill="#8fa0a6"/><rect x="669.7" y="2142.5" width="9.2" height="1.7" fill="#5a6a6e"/><rect x="684.7" y="2142.5" width="6.4" height="1.7" fill="#5a6a6e"/><rect x="695.6" y="2142.5" width="7.5" height="1.7" fill="#5a6a6e"/><rect x="706.4" y="2142.5" width="6.1" height="1.7" fill="#5a6a6e"/><rect x="717.5" y="2142.5" width="9.7" height="1.7" fill="#5a6a6e"/><rect x="731.9" y="2142.5" width="10.3" height="1.7" fill="#5a6a6e"/><rect x="748.1" y="2142.5" width="7.8" height="1.7" fill="#5a6a6e"/><rect x="759.7" y="2142.5" width="11.1" height="1.7" fill="#5a6a6e"/><rect x="776.4" y="2142.5" width="10.3" height="1.7" fill="#5a6a6e"/><rect x="792.8" y="2142.5" width="10.8" height="1.7" fill="#5a6a6e"/><rect x="806.9" y="2142.5" width="8.9" height="1.7" fill="#5a6a6e"/><rect x="669.7" y="2148.6" width="9.7" height="1.7" fill="#8fa0a6"/><rect x="684.4" y="2148.6" width="8.3" height="1.7" fill="#8fa0a6"/><rect x="697.8" y="2148.6" width="8.3" height="1.7" fill="#8fa0a6"/><rect x="709.7" y="2148.6" width="9.2" height="1.7" fill="#8fa0a6"/><rect x="725" y="2148.6" width="8.3" height="1.7" fill="#8fa0a6"/><rect x="736.7" y="2148.6" width="6.7" height="1.7" fill="#8fa0a6"/><rect x="746.9" y="2148.6" width="6.7" height="1.7" fill="#8fa0a6"/><rect x="758.9" y="2148.6" width="6.4" height="1.7" fill="#8fa0a6"/><rect x="768.9" y="2148.6" width="7.8" height="1.7" fill="#8fa0a6"/><rect x="782.5" y="2148.6" width="5.3" height="1.7" fill="#8fa0a6"/><rect x="791.4" y="2148.6" width="5" height="1.7" fill="#8fa0a6"/><rect x="802.2" y="2148.6" width="6.1" height="1.7" fill="#8fa0a6"/><rect x="813.9" y="2148.6" width="5.8" height="1.7" fill="#8fa0a6"/><rect x="824.4" y="2148.6" width="10.3" height="1.7" fill="#8fa0a6"/><rect x="838.1" y="2148.6" width="5.6" height="1.7" fill="#8fa0a6"/><rect x="847.8" y="2148.6" width="10.3" height="1.7" fill="#8fa0a6"/><rect x="669.7" y="2154.7" width="6.1" height="1.7" fill="#5a6a6e"/><rect x="681.9" y="2154.7" width="7.2" height="1.7" fill="#5a6a6e"/><rect x="693.9" y="2154.7" width="10.3" height="1.7" fill="#5a6a6e"/><rect x="708.9" y="2154.7" width="9.2" height="1.7" fill="#5a6a6e"/><rect x="721.7" y="2154.7" width="5.8" height="1.7" fill="#5a6a6e"/><rect x="732.8" y="2154.7" width="8.9" height="1.7" fill="#5a6a6e"/><rect x="746.9" y="2154.7" width="9.2" height="1.7" fill="#5a6a6e"/><rect x="760.6" y="2154.7" width="5.6" height="1.7" fill="#5a6a6e"/><rect x="770" y="2154.7" width="5.8" height="1.7" fill="#5a6a6e"/><rect x="780.6" y="2154.7" width="11.4" height="1.7" fill="#5a6a6e"/><rect x="796.4" y="2154.7" width="9.2" height="1.7" fill="#5a6a6e"/><rect x="809.4" y="2154.7" width="9.4" height="1.7" fill="#5a6a6e"/><rect x="899.2" y="2124.7" width="14.4" height="3.9" fill="#e2f1ee" stroke="#9cc" stroke-width="0.4"/><rect x="899.2" y="2131.4" width="14.4" height="3.9" fill="#e2f1ee" stroke="#9cc" stroke-width="0.4"/><rect x="899.2" y="2138.6" width="14.4" height="3.9" fill="#e2f1ee" stroke="#9cc" stroke-width="0.4"/><rect x="899.2" y="2153.6" width="14.4" height="3.9" fill="#e2f1ee" stroke="#9cc" stroke-width="0.4"/><rect x="808.1" y="2151.9" width="47.2" height="7.2" fill="none" stroke="#555" stroke-width="0.6"/><rect x="666.4" y="2161.9" width="247.2" height="3.9" fill="#d4efe8"/><rect x="666.4" y="2165.8" width="247.2" height="10.6" fill="#fff"/><rect x="669.2" y="2168.6" width="16.7" height="1.4" fill="#778"/><rect x="669.2" y="2173.6" width="11.1" height="1.1" fill="#99a"/><rect x="696.9" y="2168.6" width="16.7" height="1.4" fill="#778"/><rect x="696.9" y="2173.6" width="11.1" height="1.1" fill="#99a"/><rect x="726.1" y="2168.6" width="16.7" height="1.4" fill="#778"/><rect x="726.1" y="2173.6" width="11.1" height="1.1" fill="#99a"/><rect x="756.7" y="2168.6" width="16.7" height="1.4" fill="#778"/><rect x="756.7" y="2173.6" width="11.1" height="1.1" fill="#99a"/><rect x="784.4" y="2168.6" width="16.7" height="1.4" fill="#778"/><rect x="784.4" y="2173.6" width="11.1" height="1.1" fill="#99a"/><rect x="813.6" y="2168.6" width="16.7" height="1.4" fill="#778"/><rect x="813.6" y="2173.6" width="11.1" height="1.1" fill="#99a"/><rect x="844.2" y="2168.6" width="16.7" height="1.4" fill="#778"/><rect x="844.2" y="2173.6" width="11.1" height="1.1" fill="#99a"/><rect x="873.3" y="2168.6" width="16.7" height="1.4" fill="#778"/><rect x="873.3" y="2173.6" width="11.1" height="1.1" fill="#99a"/><rect x="666.4" y="2176.9" width="247.2" height="2.8" fill="#ccd"/><rect x="666.4" y="2180.6" width="247.2" height="12.5" fill="#fff"/><rect x="668.6" y="2183.6" width="11.7" height="1.7" fill="#445"/><rect x="668.6" y="2189.7" width="21.4" height="1.7" fill="#445"/><rect x="666.9" y="2194.4" width="246.7" height="4.4" fill="#a9c4ea"/><rect x="668.1" y="2195.8" width="53.9" height="1.7" fill="#345"/><rect x="666.9" y="2199.4" width="246.7" height="6.4" fill="#f6d5d5"/><rect x="670.6" y="2201.7" width="6.1" height="1.7" fill="#555"/><rect x="692.8" y="2201.7" width="6.1" height="1.7" fill="#555"/><rect x="733.1" y="2201.7" width="6.1" height="1.7" fill="#555"/><rect x="763.6" y="2201.7" width="6.1" height="1.7" fill="#555"/><rect x="805.3" y="2201.7" width="6.1" height="1.7" fill="#555"/><rect x="846.9" y="2201.7" width="6.1" height="1.7" fill="#555"/><rect x="877.5" y="2201.7" width="6.1" height="1.7" fill="#555"/><rect x="892.8" y="2201.7" width="6.1" height="1.7" fill="#555"/><rect x="905.3" y="2201.7" width="6.1" height="1.7" fill="#555"/><rect x="666.9" y="2206.4" width="246.7" height="6.4" fill="#dfe6f5"/><rect x="676.1" y="2208.6" width="36.1" height="1.7" fill="#777"/><rect x="719.2" y="2208.6" width="36.1" height="1.7" fill="#777"/><rect x="758.1" y="2208.6" width="36.1" height="1.7" fill="#777"/><rect x="784.4" y="2208.6" width="36.1" height="1.7" fill="#777"/><rect x="833.1" y="2208.6" width="36.1" height="1.7" fill="#777"/><rect x="873.3" y="2208.6" width="13.9" height="1.7" fill="#777"/><rect x="890" y="2206.4" width="10.3" height="6.4" fill="#ef9a9a"/><rect x="901.1" y="2206.4" width="12.5" height="6.4" fill="#e05050"/><rect x="666.9" y="2213.3" width="246.7" height="4.4" fill="#a9c4ea"/><rect x="668.1" y="2214.7" width="53.9" height="1.7" fill="#345"/><rect x="666.9" y="2218.3" width="246.7" height="6.4" fill="#f6d5d5"/><rect x="670.6" y="2220.6" width="6.1" height="1.7" fill="#555"/><rect x="692.8" y="2220.6" width="6.1" height="1.7" fill="#555"/><rect x="733.1" y="2220.6" width="6.1" height="1.7" fill="#555"/><rect x="763.6" y="2220.6" width="6.1" height="1.7" fill="#555"/><rect x="805.3" y="2220.6" width="6.1" height="1.7" fill="#555"/><rect x="846.9" y="2220.6" width="6.1" height="1.7" fill="#555"/><rect x="877.5" y="2220.6" width="6.1" height="1.7" fill="#555"/><rect x="892.8" y="2220.6" width="6.1" height="1.7" fill="#555"/><rect x="905.3" y="2220.6" width="6.1" height="1.7" fill="#555"/><rect x="666.9" y="2225.3" width="246.7" height="6.1" fill="#dfe6f5"/><rect x="676.1" y="2227.5" width="36.1" height="1.7" fill="#777"/><rect x="719.2" y="2227.5" width="36.1" height="1.7" fill="#777"/><rect x="758.1" y="2227.5" width="36.1" height="1.7" fill="#777"/><rect x="784.4" y="2227.5" width="36.1" height="1.7" fill="#777"/><rect x="833.1" y="2227.5" width="36.1" height="1.7" fill="#777"/><rect x="873.3" y="2227.5" width="13.9" height="1.7" fill="#777"/><rect x="890" y="2225.3" width="10.3" height="6.1" fill="#ef9a9a"/><rect x="901.1" y="2225.3" width="12.5" height="6.1" fill="#e05050"/><rect x="666.9" y="2231.9" width="246.7" height="4.4" fill="#a9c4ea"/><rect x="668.1" y="2233.3" width="53.9" height="1.7" fill="#345"/><rect x="666.9" y="2236.9" width="246.7" height="6.4" fill="#f6d5d5"/><rect x="670.6" y="2239.2" width="6.1" height="1.7" fill="#555"/><rect x="692.8" y="2239.2" width="6.1" height="1.7" fill="#555"/><rect x="733.1" y="2239.2" width="6.1" height="1.7" fill="#555"/><rect x="763.6" y="2239.2" width="6.1" height="1.7" fill="#555"/><rect x="805.3" y="2239.2" width="6.1" height="1.7" fill="#555"/><rect x="846.9" y="2239.2" width="6.1" height="1.7" fill="#555"/><rect x="877.5" y="2239.2" width="6.1" height="1.7" fill="#555"/><rect x="892.8" y="2239.2" width="6.1" height="1.7" fill="#555"/><rect x="905.3" y="2239.2" width="6.1" height="1.7" fill="#555"/><rect x="666.9" y="2243.9" width="246.7" height="6.4" fill="#dfe6f5"/><rect x="676.1" y="2246.1" width="36.1" height="1.7" fill="#777"/><rect x="719.2" y="2246.1" width="36.1" height="1.7" fill="#777"/><rect x="758.1" y="2246.1" width="36.1" height="1.7" fill="#777"/><rect x="784.4" y="2246.1" width="36.1" height="1.7" fill="#777"/><rect x="833.1" y="2246.1" width="36.1" height="1.7" fill="#777"/><rect x="873.3" y="2246.1" width="13.9" height="1.7" fill="#777"/><rect x="890" y="2243.9" width="10.3" height="6.4" fill="#ef9a9a"/><rect x="901.1" y="2243.9" width="12.5" height="6.4" fill="#e05050"/><rect x="666.9" y="2250.8" width="246.7" height="3.6" fill="#a9c4ea"/><rect x="668.1" y="2252.2" width="53.9" height="1.7" fill="#345"/><rect x="666.9" y="2206.4" width="233.3" height="6.7" fill="none" stroke="#e03030" stroke-width="0.7"/><rect x="666.9" y="2225.3" width="233.3" height="6.7" fill="none" stroke="#e03030" stroke-width="0.7"/><rect x="666.9" y="2243.9" width="233.3" height="6.7" fill="none" stroke="#e03030" stroke-width="0.7"/><rect x="900.3" y="2191.7" width="13.3" height="60.3" fill="none" stroke="#e03030" stroke-width="0.7"/><text x="824.7" y="2147.5" font-size="5.6" fill="#e02a2a" text-anchor="middle" textLength="65" lengthAdjust="spacingAndGlyphs" font-weight="bold">Severity level selection</text><text x="867.8" y="2186.7" font-size="5.6" fill="#e02a2a" text-anchor="middle" textLength="77" lengthAdjust="spacingAndGlyphs" font-weight="bold">Severity level classification</text><rect x="739.4" y="2195.8" width="87.5" height="8.9" fill="#fff" rx="2"/><text x="783.2" y="2201.9" font-size="5.6" fill="#e02a2a" text-anchor="middle" textLength="83.6" lengthAdjust="spacingAndGlyphs" font-weight="bold">Abnormal virtual connection</text><text x="434.4" y="2096.9" font-size="18.5" fill="#222" textLength="186.7" lengthAdjust="spacingAndGlyphs">Incorrect connection</text><text x="708.9" y="2096.9" font-size="18.5" fill="#222" textLength="164" lengthAdjust="spacingAndGlyphs">Excess connection</text><text x="441.4" y="2275" font-size="18.5" fill="#222" textLength="173.6" lengthAdjust="spacingAndGlyphs">Missing connection</text><text x="681.7" y="2278.3" font-size="19" fill="#222" textLength="219" lengthAdjust="spacingAndGlyphs">Automatic classification of results</text></svg>
<svg style="left:0;top:0" width="4590" height="2437" viewBox="0 0 4590 2437" font-family="Liberation Sans, sans-serif"><defs><radialGradient id="icg"><stop offset="0.55" stop-color="#dff0fb"/><stop offset="1" stop-color="#f4fafe" stop-opacity="0.3"/></radialGradient><linearGradient id="fold" x1="0" x2="0" y1="0" y2="1"><stop offset="0" stop-color="#7cc4f8"/><stop offset="1" stop-color="#3f97ee"/></linearGradient></defs><rect x="984.3" y="1958.5" width="246.3" height="110" fill="#07254a"/><rect x="984.3" y="1958.5" width="246.3" height="9.4" fill="#0c3868"/><rect x="986.7" y="1960.7" width="46.8" height="3.9" fill="#9fc4ee"/><rect x="1058.2" y="1961.8" width="9.9" height="2.2" fill="#3f79c8"/><rect x="1071.7" y="1961.8" width="9.9" height="2.2" fill="#3f79c8"/><rect x="1085.3" y="1961.8" width="9.9" height="2.2" fill="#3f79c8"/><rect x="1098.8" y="1961.8" width="9.9" height="2.2" fill="#3f79c8"/><rect x="1112.3" y="1961.8" width="9.9" height="2.2" fill="#3f79c8"/><rect x="1125.9" y="1961.8" width="9.9" height="2.2" fill="#3f79c8"/><rect x="986.7" y="1969.5" width="54.2" height="46.2" fill="#0a2d54" stroke="#17508c" stroke-width="0.4"/><rect x="986.7" y="2019" width="54.2" height="47.3" fill="#0a2d54" stroke="#17508c" stroke-width="0.4"/><rect x="1171.5" y="1969.5" width="56.6" height="46.2" fill="#0a2d54" stroke="#17508c" stroke-width="0.4"/><rect x="1171.5" y="2019" width="56.6" height="47.3" fill="#0a2d54" stroke="#17508c" stroke-width="0.4"/><rect x="1045.8" y="2031.1" width="120.7" height="35.2" fill="#0a2d54" stroke="#17508c" stroke-width="0.4"/><path d="M1068,1973.9L1082.8,1964.7L1100,1977.9L1117.3,1967.3L1132,1979.2L1146.8,1968.6L1139.4,1987.1L1122.2,1993.7L1132,2006.9L1149.3,2013.5L1132,2026.7L1112.3,2021.4L1097.6,2033.3L1082.8,2022.8L1068,2013.5L1077.9,2000.3L1063.1,1989.7Z" stroke="#5db4ff" stroke-width="0.5" fill="#2b7fe0"/><path d="M1083.8,1984.9L1092.6,1979.5L1103,1987.2L1113.3,1981.1L1122.2,1988L1131.1,1981.8L1126.6,1992.6L1116.3,1996.5L1122.2,2004.2L1132.5,2008L1122.2,2015.7L1110.4,2012.6L1101.5,2019.6L1092.6,2013.4L1083.8,2008L1089.7,2000.3L1080.8,1994.1Z" fill="#4a9cf0"/><circle cx="1013.8" cy="1994.8" r="8.6" fill="none" stroke="#26c0e8" stroke-width="2"/><circle cx="1197.3" cy="2045.4" r="11.1" fill="none" stroke="#f0b428" stroke-width="2.2"/><path d="M1197.3,2034.3 a11.1,11.1 0 0 1 11.1,11.1" stroke="#2ad0e8" stroke-width="2.2" fill="none"/><rect x="1053.2" y="2057.5" width="3" height="5.5" fill="#2ea4ea"/><rect x="1060.1" y="2052.2" width="3" height="10.8" fill="#2ea4ea"/><rect x="1067" y="2047" width="3" height="16.1" fill="#2ea4ea"/><rect x="1073.9" y="2054.9" width="3" height="8.1" fill="#2ea4ea"/><rect x="1080.8" y="2049.6" width="3" height="13.4" fill="#2ea4ea"/><rect x="1087.7" y="2057.5" width="3" height="5.5" fill="#2ea4ea"/><rect x="1094.6" y="2052.2" width="3" height="10.8" fill="#2ea4ea"/><rect x="1101.5" y="2047" width="3" height="16.1" fill="#2ea4ea"/><rect x="1108.4" y="2054.9" width="3" height="8.1" fill="#2ea4ea"/><rect x="1115.3" y="2049.6" width="3" height="13.4" fill="#2ea4ea"/><rect x="1122.2" y="2057.5" width="3" height="5.5" fill="#2ea4ea"/><rect x="1129.1" y="2052.2" width="3" height="10.8" fill="#2ea4ea"/><rect x="1136" y="2047" width="3" height="16.1" fill="#2ea4ea"/><rect x="1142.9" y="2054.9" width="3" height="8.1" fill="#2ea4ea"/><rect x="1149.8" y="2049.6" width="3" height="13.4" fill="#2ea4ea"/><rect x="1156.7" y="2057.5" width="3" height="5.5" fill="#2ea4ea"/><rect x="991.7" y="2026.7" width="17.2" height="2.4" fill="#28a8e8"/><rect x="991.7" y="2032" width="39.4" height="2.4" fill="#28a8e8"/><rect x="991.7" y="2037.3" width="32" height="2.4" fill="#28a8e8"/><rect x="991.7" y="2042.6" width="24.6" height="2.4" fill="#28a8e8"/><rect x="991.7" y="2047.8" width="17.2" height="2.4" fill="#28a8e8"/><rect x="991.7" y="2053.1" width="39.4" height="2.4" fill="#28a8e8"/><rect x="991.7" y="2058.4" width="32" height="2.4" fill="#28a8e8"/><rect x="1175.1" y="1975" width="7.4" height="1.7" fill="#7fb0e8"/><rect x="1188.7" y="1975" width="7.4" height="1.7" fill="#7fb0e8"/><rect x="1202.2" y="1975" width="7.4" height="1.7" fill="#7fb0e8"/><rect x="1215.8" y="1975" width="7.4" height="1.7" fill="#7fb0e8"/><rect x="1175.1" y="1980" width="7.4" height="1.7" fill="#7fb0e8"/><rect x="1188.7" y="1980" width="7.4" height="1.7" fill="#7fb0e8"/><rect x="1202.2" y="1980" width="7.4" height="1.7" fill="#7fb0e8"/><rect x="1215.8" y="1980" width="7.4" height="1.7" fill="#7fb0e8"/><rect x="1175.1" y="1984.9" width="7.4" height="1.7" fill="#7fb0e8"/><rect x="1188.7" y="1984.9" width="7.4" height="1.7" fill="#7fb0e8"/><rect x="1202.2" y="1984.9" width="7.4" height="1.7" fill="#7fb0e8"/><rect x="1215.8" y="1984.9" width="7.4" height="1.7" fill="#7fb0e8"/><rect x="1175.1" y="1989.9" width="7.4" height="1.7" fill="#7fb0e8"/><rect x="1188.7" y="1989.9" width="7.4" height="1.7" fill="#7fb0e8"/><rect x="1202.2" y="1989.9" width="7.4" height="1.7" fill="#7fb0e8"/><rect x="1215.8" y="1989.9" width="7.4" height="1.7" fill="#7fb0e8"/><rect x="1175.1" y="1994.8" width="7.4" height="1.7" fill="#7fb0e8"/><rect x="1188.7" y="1994.8" width="7.4" height="1.7" fill="#7fb0e8"/><rect x="1202.2" y="1994.8" width="7.4" height="1.7" fill="#7fb0e8"/><rect x="1215.8" y="1994.8" width="7.4" height="1.7" fill="#7fb0e8"/><rect x="1175.1" y="1999.8" width="7.4" height="1.7" fill="#7fb0e8"/><rect x="1188.7" y="1999.8" width="7.4" height="1.7" fill="#7fb0e8"/><rect x="1202.2" y="1999.8" width="7.4" height="1.7" fill="#7fb0e8"/><rect x="1215.8" y="1999.8" width="7.4" height="1.7" fill="#7fb0e8"/><rect x="1175.1" y="2004.7" width="7.4" height="1.7" fill="#7fb0e8"/><rect x="1188.7" y="2004.7" width="7.4" height="1.7" fill="#7fb0e8"/><rect x="1202.2" y="2004.7" width="7.4" height="1.7" fill="#7fb0e8"/><rect x="1215.8" y="2004.7" width="7.4" height="1.7" fill="#7fb0e8"/><rect x="1175.1" y="2009.7" width="7.4" height="1.7" fill="#7fb0e8"/><rect x="1188.7" y="2009.7" width="7.4" height="1.7" fill="#7fb0e8"/><rect x="1202.2" y="2009.7" width="7.4" height="1.7" fill="#7fb0e8"/><rect x="1215.8" y="2009.7" width="7.4" height="1.7" fill="#7fb0e8"/><rect x="1232.6" y="1958.5" width="242.7" height="110" fill="#07254a"/><rect x="1232.6" y="1958.5" width="242.7" height="9.4" fill="#0c3868"/><rect x="1235" y="1960.7" width="46.1" height="3.9" fill="#9fc4ee"/><rect x="1305.4" y="1961.8" width="9.7" height="2.2" fill="#3f79c8"/><rect x="1318.8" y="1961.8" width="9.7" height="2.2" fill="#3f79c8"/><rect x="1332.1" y="1961.8" width="9.7" height="2.2" fill="#3f79c8"/><rect x="1345.5" y="1961.8" width="9.7" height="2.2" fill="#3f79c8"/><rect x="1358.8" y="1961.8" width="9.7" height="2.2" fill="#3f79c8"/><rect x="1372.2" y="1961.8" width="9.7" height="2.2" fill="#3f79c8"/><rect x="1235" y="1969.5" width="53.4" height="46.2" fill="#0a2d54" stroke="#17508c" stroke-width="0.4"/><rect x="1235" y="2019" width="53.4" height="47.3" fill="#0a2d54" stroke="#17508c" stroke-width="0.4"/><rect x="1417.1" y="1969.5" width="55.8" height="46.2" fill="#0a2d54" stroke="#17508c" stroke-width="0.4"/><rect x="1417.1" y="2019" width="55.8" height="47.3" fill="#0a2d54" stroke="#17508c" stroke-width="0.4"/><rect x="1293.3" y="2031.1" width="118.9" height="35.2" fill="#0a2d54" stroke="#17508c" stroke-width="0.4"/><path d="M1310.3,1984.5L1329.7,1971.3L1353.9,1979.2L1366.1,1993.7L1387.9,1997.7L1407.4,2010.9L1392.8,2029.4L1370.9,2033.3L1358.8,2016.2L1344.2,2003L1324.8,2000.3Z" stroke="#5db4ff" stroke-width="0.5" fill="#2b7fe0"/><path d="M1329.7,1991.1L1341.3,1983.4L1355.9,1988L1363.2,1996.5L1376.3,1998.8L1387.9,2006.5L1379.2,2017.3L1366.1,2019.6L1358.8,2009.6L1350.1,2001.9L1338.4,2000.3Z" fill="#4a9cf0"/><circle cx="1265.3" cy="1994.8" r="8.5" fill="none" stroke="#26c0e8" stroke-width="2"/><circle cx="1438.9" cy="2045.4" r="10.9" fill="none" stroke="#f0b428" stroke-width="2.2"/><path d="M1438.9,2034.5 a10.9,10.9 0 0 1 10.9,10.9" stroke="#2ad0e8" stroke-width="2.2" fill="none"/><rect x="1300.5" y="2057.5" width="2.9" height="5.5" fill="#f0b428"/><rect x="1307.3" y="2052.2" width="2.9" height="10.8" fill="#f0b428"/><rect x="1314.1" y="2047" width="2.9" height="16.1" fill="#2ea4ea"/><rect x="1320.9" y="2054.9" width="2.9" height="8.1" fill="#2ea4ea"/><rect x="1327.7" y="2049.6" width="2.9" height="13.4" fill="#2ea4ea"/><rect x="1334.5" y="2057.5" width="2.9" height="5.5" fill="#2ea4ea"/><rect x="1341.3" y="2052.2" width="2.9" height="10.8" fill="#2ea4ea"/><rect x="1348.1" y="2047" width="2.9" height="16.1" fill="#2ea4ea"/><rect x="1354.9" y="2054.9" width="2.9" height="8.1" fill="#2ea4ea"/><rect x="1361.7" y="2049.6" width="2.9" height="13.4" fill="#2ea4ea"/><rect x="1368.5" y="2057.5" width="2.9" height="5.5" fill="#2ea4ea"/><rect x="1375.3" y="2052.2" width="2.9" height="10.8" fill="#2ea4ea"/><rect x="1382.1" y="2047" width="2.9" height="16.1" fill="#2ea4ea"/><rect x="1388.9" y="2054.9" width="2.9" height="8.1" fill="#2ea4ea"/><rect x="1395.7" y="2049.6" width="2.9" height="13.4" fill="#2ea4ea"/><rect x="1402.5" y="2057.5" width="2.9" height="5.5" fill="#2ea4ea"/><rect x="1239.9" y="2026.7" width="17" height="2.4" fill="#28a8e8"/><rect x="1239.9" y="2032" width="38.8" height="2.4" fill="#28a8e8"/><rect x="1239.9" y="2037.3" width="31.6" height="2.4" fill="#28a8e8"/><rect x="1239.9" y="2042.6" width="24.3" height="2.4" fill="#28a8e8"/><rect x="1239.9" y="2047.8" width="17" height="2.4" fill="#28a8e8"/><rect x="1239.9" y="2053.1" width="38.8" height="2.4" fill="#28a8e8"/><rect x="1239.9" y="2058.4" width="31.6" height="2.4" fill="#28a8e8"/><rect x="1420.7" y="1975" width="7.3" height="1.7" fill="#7fb0e8"/><rect x="1434.1" y="1975" width="7.3" height="1.7" fill="#7fb0e8"/><rect x="1447.4" y="1975" width="7.3" height="1.7" fill="#7fb0e8"/><rect x="1460.8" y="1975" width="7.3" height="1.7" fill="#7fb0e8"/><rect x="1420.7" y="1980" width="7.3" height="1.7" fill="#7fb0e8"/><rect x="1434.1" y="1980" width="7.3" height="1.7" fill="#7fb0e8"/><rect x="1447.4" y="1980" width="7.3" height="1.7" fill="#7fb0e8"/><rect x="1460.8" y="1980" width="7.3" height="1.7" fill="#7fb0e8"/><rect x="1420.7" y="1984.9" width="7.3" height="1.7" fill="#7fb0e8"/><rect x="1434.1" y="1984.9" width="7.3" height="1.7" fill="#7fb0e8"/><rect x="1447.4" y="1984.9" width="7.3" height="1.7" fill="#7fb0e8"/><rect x="1460.8" y="1984.9" width="7.3" height="1.7" fill="#7fb0e8"/><rect x="1420.7" y="1989.9" width="7.3" height="1.7" fill="#7fb0e8"/><rect x="1434.1" y="1989.9" width="7.3" height="1.7" fill="#7fb0e8"/><rect x="1447.4" y="1989.9" width="7.3" height="1.7" fill="#7fb0e8"/><rect x="1460.8" y="1989.9" width="7.3" height="1.7" fill="#7fb0e8"/><rect x="1420.7" y="1994.8" width="7.3" height="1.7" fill="#7fb0e8"/><rect x="1434.1" y="1994.8" width="7.3" height="1.7" fill="#7fb0e8"/><rect x="1447.4" y="1994.8" width="7.3" height="1.7" fill="#7fb0e8"/><rect x="1460.8" y="1994.8" width="7.3" height="1.7" fill="#7fb0e8"/><rect x="1420.7" y="1999.8" width="7.3" height="1.7" fill="#7fb0e8"/><rect x="1434.1" y="1999.8" width="7.3" height="1.7" fill="#7fb0e8"/><rect x="1447.4" y="1999.8" width="7.3" height="1.7" fill="#7fb0e8"/><rect x="1460.8" y="1999.8" width="7.3" height="1.7" fill="#7fb0e8"/><rect x="1420.7" y="2004.7" width="7.3" height="1.7" fill="#7fb0e8"/><rect x="1434.1" y="2004.7" width="7.3" height="1.7" fill="#7fb0e8"/><rect x="1447.4" y="2004.7" width="7.3" height="1.7" fill="#7fb0e8"/><rect x="1460.8" y="2004.7" width="7.3" height="1.7" fill="#7fb0e8"/><rect x="1420.7" y="2009.7" width="7.3" height="1.7" fill="#7fb0e8"/><rect x="1434.1" y="2009.7" width="7.3" height="1.7" fill="#7fb0e8"/><rect x="1447.4" y="2009.7" width="7.3" height="1.7" fill="#7fb0e8"/><rect x="1460.8" y="2009.7" width="7.3" height="1.7" fill="#7fb0e8"/><rect x="984.3" y="2068.5" width="491" height="29.8" fill="#e6f2f9"/><text x="1014.1" y="2088.7" font-size="14" fill="#333" textLength="441.6" lengthAdjust="spacingAndGlyphs">Log in to SCD control system or intelligent operation and maintenance system</text><path d="M1490.5,2011.5L1529.8,2011.5" stroke="#12a4e6" stroke-width="1.6" fill="none"/><path d="M1536.9,2011.5l-16,-7.5l0,15z" fill="#12a4e6"/><path d="M1659.5,2011.5L1698.9,2011.5" stroke="#12a4e6" stroke-width="1.6" fill="none"/><path d="M1706.0,2011.5l-16,-7.5l0,15z" fill="#12a4e6"/><path d="M1828.6,2011.5L1868,2011.5" stroke="#12a4e6" stroke-width="1.6" fill="none"/><path d="M1875.0,2011.5l-16,-7.5l0,15z" fill="#12a4e6"/><circle cx="1599" cy="2007.5" r="45.4" fill="url(#icg)"/><g stroke="#1f86dc" stroke-width="2" fill="none" transform="translate(1586.3,2006.4)"><path d="M-8,27 L-3,-28 L3,-28 L8,27 M-14,-14 L14,-14 M-16,-4 L16,-4 M-6,-4 L5,8 M6,-4 L-5,8 M-7,8 L7,27 M7,8 L-7,27 M-3,-28 L0,-32 L3,-28"/></g><path d="M1588.3,2014.4 l20,-10 l20,10 l0,20 l-40,0 z" fill="#1f86dc"/><rect x="1596.3" y="2020.4" width="7" height="9" fill="#fff"/><rect x="1612.3" y="2020.4" width="7" height="9" fill="#fff"/><rect x="1570.3" y="2032.4" width="62" height="3" fill="#1f86dc"/><text x="1548.5" y="2070.5" font-size="14" fill="#333" textLength="107" lengthAdjust="spacingAndGlyphs">Select a substation</text><circle cx="1769" cy="2009" r="45.4" fill="url(#icg)"/><path d="M1734.2,1981.6 q0,-6 6,-6 l18,0 l5,5 l36,0 q5,0 5,6 l0,44 q0,6 -6,6 l-58,0 q-6,0 -6,-6 z" fill="#5baef5"/><rect x="1739.2" y="1982.6" width="58" height="10" rx="2" fill="#fff" opacity="0.9"/><path d="M1733.2,1991.6 q0,-4 5,-4 l62,0 q5,0 5,4 l-2,40 q0,6 -6,6 l-56,0 q-6,0 -6,-6 z" fill="url(#fold)"/><text x="1769" y="2017.5" font-size="17" fill="#d8ee3a" text-anchor="middle" textLength="32" lengthAdjust="spacingAndGlyphs" font-weight="bold">SCD</text><text x="1707" y="2070.5" font-size="14" fill="#333" textLength="130.7" lengthAdjust="spacingAndGlyphs">Select a the SCD file for</text><text x="1731.2" y="2089.2" font-size="14" fill="#333" textLength="82.3" lengthAdjust="spacingAndGlyphs">this substation</text><rect x="1894.2" y="1998.9" width="163" height="26.7" fill="#e8f3f8"/><text x="1910.3" y="2016.5" font-size="14" fill="#333" textLength="129.2" lengthAdjust="spacingAndGlyphs">Click on 'Cloud Review'</text><path d="M1974.9,2045.3L1974.9,2152.8L1848.8,2152.8" stroke="#12a4e6" stroke-width="1.6" fill="none"/><path d="M1833.6,2152.8l16,-7.5l0,15z" fill="#12a4e6"/><path d="M1905.3,2152.8L1905.3,2203.3" stroke="#12a4e6" stroke-width="1.6" fill="none"/><path d="M1905.3,2218.4l-7.5,-16l15,0z" fill="#12a4e6"/><path d="M1144.8,2180.6L1144.8,2198.2L1557.6,2198.2L1557.6,2215.9" stroke="#12a4e6" stroke-width="1.6" fill="none"/><path d="M1557.6,2230.0l-7.5,-16l15,0z" fill="#12a4e6"/><rect x="1582.3" y="2124" width="233.2" height="54.5" fill="#fdf0df"/><text x="1594.9" y="2146.2" font-size="14" fill="#333" textLength="207.9" lengthAdjust="spacingAndGlyphs">Control system summarizes SCD files</text><text x="1614.6" y="2166.4" font-size="14" fill="#333" textLength="168.6" lengthAdjust="spacingAndGlyphs">And device configuration files</text><rect x="1294.7" y="2122" width="233.7" height="54.5" fill="#fdf0df"/><text x="1321.9" y="2144.2" font-size="14" fill="#333" textLength="178.7" lengthAdjust="spacingAndGlyphs">Transfer files in the background</text><text x="1339.1" y="2164.4" font-size="14" fill="#333" textLength="143.8" lengthAdjust="spacingAndGlyphs">Provide SCD cloud review</text><rect x="1006" y="2124" width="233.7" height="54.5" fill="#fdf0df"/><text x="1032.2" y="2146.2" font-size="14" fill="#333" textLength="180.7" lengthAdjust="spacingAndGlyphs">Automatically trigger SCD cloud</text><text x="1104.4" y="2166.4" font-size="14" fill="#333" textLength="36.8" lengthAdjust="spacingAndGlyphs">review</text><path d="M1572.7,2151.8L1545.5,2151.8" stroke="#12a4e6" stroke-width="1.6" fill="none"/><path d="M1538.4,2151.8l16,-7.5l0,15z" fill="#12a4e6"/><path d="M1285.1,2151.8L1257.8,2151.8" stroke="#12a4e6" stroke-width="1.6" fill="none"/><path d="M1250.7,2151.8l16,-7.5l0,15z" fill="#12a4e6"/><rect x="1771.6" y="2230" width="233.7" height="54" fill="#e8f3f8"/><text x="1836.7" y="2252.2" font-size="14" fill="#333" textLength="103" lengthAdjust="spacingAndGlyphs">Interface jumps to</text><text x="1826.1" y="2272.4" font-size="14" fill="#333" textLength="127.2" lengthAdjust="spacingAndGlyphs">Cloud review interface</text><rect x="1443.5" y="2230" width="233.7" height="54" fill="#e8f3f8"/><text x="1508.6" y="2252.2" font-size="14" fill="#333" textLength="103.5" lengthAdjust="spacingAndGlyphs">View cloud review</text><text x="1504.1" y="2272.4" font-size="14" fill="#333" textLength="112.5" lengthAdjust="spacingAndGlyphs">Results and Reports</text><rect x="1111" y="2230" width="233.2" height="54" fill="#e8f3f8"/><text x="1159.9" y="2252.2" font-size="14" fill="#333" textLength="134.7" lengthAdjust="spacingAndGlyphs">Review report feedback</text><text x="1155.9" y="2272.4" font-size="14" fill="#333" textLength="142.8" lengthAdjust="spacingAndGlyphs">Archive of control system</text><path d="M1746.3,2255.2L1708,2255.2" stroke="#12a4e6" stroke-width="1.6" fill="none"/><path d="M1700.9,2255.2l16,-7.5l0,15z" fill="#12a4e6"/><path d="M1414.8,2255.2L1376.4,2255.2" stroke="#12a4e6" stroke-width="1.6" fill="none"/><path d="M1369.3,2255.2l16,-7.5l0,15z" fill="#12a4e6"/></svg>
<svg style="left:0;top:0" width="4590" height="2437" viewBox="0 0 4590 2437" font-family="Liberation Sans, sans-serif"><defs><radialGradient id="ylg"><stop offset="0.78" stop-color="#fbeed0"/><stop offset="1" stop-color="#fcf6ea" stop-opacity="0"/></radialGradient><radialGradient id="blg"><stop offset="0.78" stop-color="#e9ebf6"/><stop offset="1" stop-color="#f3f3f8" stop-opacity="0"/></radialGradient><radialGradient id="rdg"><stop offset="0.78" stop-color="#fbe3dc"/><stop offset="1" stop-color="#fcf0ea" stop-opacity="0"/></radialGradient><linearGradient id="yfold" x1="0" x2="0" y1="0" y2="1"><stop offset="0" stop-color="#fbd668"/><stop offset="1" stop-color="#f7c23c"/></linearGradient><linearGradient id="bfold" x1="0" x2="0" y1="0" y2="1"><stop offset="0" stop-color="#6d9af2"/><stop offset="1" stop-color="#3f6fe0"/></linearGradient><linearGradient id="shg" x1="0" x2="0" y1="0" y2="1"><stop offset="0" stop-color="#ff7a3a"/><stop offset="1" stop-color="#f0452a"/></linearGradient><linearGradient id="pinkg" x1="0" x2="0" y1="0" y2="1"><stop offset="0" stop-color="#fde6e6"/><stop offset="0.12" stop-color="#fde9e8"/><stop offset="0.2" stop-color="#fcf6f3"/><stop offset="1" stop-color="#fcf8f5"/></linearGradient></defs><rect x="3556.5" y="161.9" width="73.4" height="26.3" fill="#d6f2f1" rx="13.5"/><text x="3581.4" y="178.4" font-size="11.5" fill="#222" textLength="23.8" lengthAdjust="spacingAndGlyphs">Start</text><path d="M3595.2,194.8L3595.2,219.7" stroke="#333" stroke-width="1.1" fill="none"/><path d="M3595.2,219.7L3591.6,211.7L3598.8,211.7Z" fill="#333"/><rect x="3530.9" y="225.9" width="133" height="53" fill="#c5ecea"/><text x="3551.4" y="240.5" font-size="11.5" fill="#222" textLength="92.8" lengthAdjust="spacingAndGlyphs">Obtain verification</text><text x="3560.9" y="254.4" font-size="11.5" fill="#222" textLength="73.8" lengthAdjust="spacingAndGlyphs">codes for each</text><text x="3564.6" y="268.6" font-size="11.5" fill="#222" textLength="66.5" lengthAdjust="spacingAndGlyphs">device online</text><text x="3458.2" y="238.7" font-size="10.5" fill="#222" textLength="54.8" lengthAdjust="spacingAndGlyphs">Unavailable</text><path d="M3523.6,248.2L3442.5,248.2" stroke="#333" stroke-width="1" fill="none"/><path d="M3442.5,248.2L3450.5,244.6L3450.5,251.8Z" fill="#333"/><circle cx="3381.1" cy="248.9" r="34.7" fill="url(#ylg)"/><rect x="3364.5" y="232.4" width="34" height="10" fill="#fff" stroke="#eee" stroke-width="0.4"/><path d="M3358.5,239.4 q0,-3 3,-3 l10,0 l3,3 l27,0 q3,0 3,3 l0,25 q0,3 -3,3 l-40,0 q-3,0 -3,-3 z" fill="url(#yfold)"/><path d="M3381.5,245.4 l7,2.5 l0,6 q0,5 -7,8 q-7,-3 -7,-8 l0,-6 z" fill="#f2b024"/><path d="M3378.0,253.4 l2.5,2.5 l4.5,-5" stroke="#fbd668" stroke-width="1.3" fill="none"/><text x="3333.6" y="292.4" font-size="11.5" fill="#222" textLength="102.7" lengthAdjust="spacingAndGlyphs">Message verification</text><path d="M3380.8,311.7L3380.8,332.9" stroke="#333" stroke-width="1.1" fill="none"/><path d="M3380.8,332.9L3377.2,324.9L3384.4,324.9Z" fill="#333"/><circle cx="3381.1" cy="375.7" r="34.7" fill="url(#ylg)"/><rect x="3364.5" y="359.2" width="34" height="10" fill="#fff" stroke="#eee" stroke-width="0.4"/><path d="M3358.5,366.2 q0,-3 3,-3 l10,0 l3,3 l27,0 q3,0 3,3 l0,25 q0,3 -3,3 l-40,0 q-3,0 -3,-3 z" fill="url(#yfold)"/><rect x="3374.0" y="372.2" width="15" height="15" fill="#f2b024"/><path d="M3375.5,385.7 l12,-12" stroke="#fbd668" stroke-width="1.3"/><text x="3334" y="418.8" font-size="11.5" fill="#222" textLength="97.6" lengthAdjust="spacingAndGlyphs">Message difference</text><path d="M3380,432.3L3380,457.2L3551.4,457.2" stroke="#333" stroke-width="1" fill="none"/><path d="M3551.4,457.2L3543.4,460.8L3543.4,453.6Z" fill="#333"/><text x="3572.2" y="296.4" font-size="11" fill="#222" textLength="47.1" lengthAdjust="spacingAndGlyphs">Available</text><path d="M3595.2,303.3L3595.2,328.2" stroke="#333" stroke-width="1.1" fill="none"/><path d="M3595.2,328.2L3591.6,320.2L3598.8,320.2Z" fill="#333"/><rect x="3530.9" y="334.4" width="133" height="46.8" fill="#c5ecea"/><text x="3556.9" y="355.6" font-size="11.5" fill="#222" textLength="85.1" lengthAdjust="spacingAndGlyphs">Verification code</text><text x="3569.7" y="368.4" font-size="11.5" fill="#222" textLength="59.6" lengthAdjust="spacingAndGlyphs">comparison</text><text x="3672.7" y="342.8" font-size="12" fill="#222" textLength="64.7" lengthAdjust="spacingAndGlyphs">Inconsistent</text><path d="M3672,353L3754.2,353" stroke="#333" stroke-width="1" fill="none"/><path d="M3754.2,353L3746.2,356.6L3746.2,349.4Z" fill="#333"/><circle cx="3798.8" cy="349.4" r="33.6" fill="url(#rdg)"/><path d="M3798.8,327.4 l17,4 l0,14 q0,13 -17,22 q-17,-9 -17,-22 l0,-14 z" fill="url(#shg)"/><rect x="3796.8" y="336.4" width="4" height="15" rx="1.5" fill="#fff"/><circle cx="3798.8" cy="357.4" r="2.4" fill="#fff"/><text x="3763.3" y="390.7" font-size="11.5" fill="#222" textLength="70.2" lengthAdjust="spacingAndGlyphs">Give an alarm</text><path d="M3799.9,403.1L3799.9,419.5" stroke="#333" stroke-width="1.1" fill="none"/><path d="M3799.9,419.5L3796.3,411.5L3803.5,411.5Z" fill="#333"/><circle cx="3799.5" cy="454.2" r="33.6" fill="url(#blg)"/><rect x="3784.9" y="437.8" width="32" height="10" fill="#fff" stroke="#e4e4ee" stroke-width="0.4"/><path d="M3777.9,444.8 q0,-3 3,-3 l9,0 l3,3 l25,0 q3,0 3,3 l0,22 q0,3 -3,3 l-37,0 q-3,0 -3,-3 z" fill="url(#bfold)"/><text x="3725" y="495.2" font-size="11.5" fill="#222" textLength="142.1" lengthAdjust="spacingAndGlyphs">Obtain the configuration file</text><path d="M3799.9,508.3L3799.9,523.7" stroke="#333" stroke-width="1.1" fill="none"/><path d="M3799.9,523.7L3796.3,515.7L3803.5,515.7Z" fill="#333"/><circle cx="3799.5" cy="556.6" r="33.6" fill="url(#blg)"/><rect x="3784.9" y="540.1" width="32" height="10" fill="#fff" stroke="#e4e4ee" stroke-width="0.4"/><path d="M3777.9,547.1 q0,-3 3,-3 l9,0 l3,3 l25,0 q3,0 3,3 l0,22 q0,3 -3,3 l-37,0 q-3,0 -3,-3 z" fill="url(#bfold)"/><text x="3754.9" y="598.9" font-size="11.5" fill="#222" textLength="81.9" lengthAdjust="spacingAndGlyphs">Text  verification</text><path d="M3741.4,557.7L3660.7,557.7" stroke="#333" stroke-width="1" fill="none"/><path d="M3660.7,557.7L3668.7,554.1L3668.7,561.3Z" fill="#333"/><circle cx="3596" cy="556.6" r="33.6" fill="url(#blg)"/><rect x="3581.4" y="540.1" width="32" height="10" fill="#fff" stroke="#e4e4ee" stroke-width="0.4"/><path d="M3574.4,547.1 q0,-3 3,-3 l9,0 l3,3 l25,0 q3,0 3,3 l0,22 q0,3 -3,3 l-37,0 q-3,0 -3,-3 z" fill="url(#bfold)"/><text x="3546.3" y="598.6" font-size="11.5" fill="#222" textLength="100.9" lengthAdjust="spacingAndGlyphs">Detailed Differences</text><path d="M3596,521.8L3596,477.6" stroke="#333" stroke-width="1.1" fill="none"/><path d="M3596,477.6L3599.6,485.6L3592.4,485.6Z" fill="#333"/><text x="3569.7" y="398.7" font-size="11" fill="#555" textLength="52.6" lengthAdjust="spacingAndGlyphs">Consistent</text><path d="M3595.2,406L3595.2,431.2" stroke="#333" stroke-width="1.1" fill="none"/><path d="M3595.2,431.2L3591.6,423.2L3598.8,423.2Z" fill="#333"/><rect x="3558" y="438.9" width="77.5" height="31.1" fill="#d6f2f1" rx="15.5"/><text x="3586.1" y="456.8" font-size="11.5" fill="#222" textLength="19.4" lengthAdjust="spacingAndGlyphs">End</text></svg>
<svg style="left:0;top:0" width="4590" height="2437" viewBox="0 0 4590 2437" font-family="Liberation Sans, sans-serif"><rect x="3925.7" y="163" width="493.1" height="40.2" fill="#d5f1ee"/><text x="4007.9" y="188.3" font-size="15.5" fill="#1b1c20" textLength="313.3" lengthAdjust="spacingAndGlyphs">Visualization of configuration file comparison</text><rect x="3967" y="550.2" width="109.7" height="52.6" fill="#fbdada" stroke="#e04a4a" stroke-width="0.9" stroke-dasharray="3.5,2"/><path d="M3896.5,365.6L4443.7,365.6" stroke="#53627f" stroke-width="0.7" fill="none" stroke-dasharray="3.5,2"/><path d="M3901.9,453.7L4443.7,453.7" stroke="#53627f" stroke-width="0.7" fill="none" stroke-dasharray="3.5,2"/><path d="M4170.3,311.1L4170.3,543.9" stroke="#8a93a8" stroke-width="0.7" fill="none" stroke-dasharray="3.5,2"/><path d="M4114.0,233.2 L4114.0,263.6 A22.7,5 0 0 0 4159.3,263.6 L4159.3,233.2 Z" fill="#22409a"/><ellipse cx="4136.6" cy="233.2" rx="22.7" ry="5" fill="#2a4bb0" stroke="#16307a" stroke-width="0.6"/><text x="4136.6" y="254.8" font-size="6.3" fill="#fff" text-anchor="middle" textLength="32" lengthAdjust="spacingAndGlyphs">ICD model</text><path d="M4136.6,277.1L4136.6,308.9" stroke="#333" stroke-width="0.8" fill="none"/><path d="M4136.6,308.9L4134.4,303.9L4138.9,303.9Z" fill="#333"/><text x="4166.2" y="289.2" font-size="6.3" fill="#333" text-anchor="middle" textLength="40.9" lengthAdjust="spacingAndGlyphs">Configuration</text><text x="4166.2" y="297.2" font-size="6.3" fill="#333" text-anchor="middle" textLength="34.6" lengthAdjust="spacingAndGlyphs">integration</text><rect x="3960.1" y="281.5" width="97.2" height="31.4" fill="#2a459c"/><text x="4008.7" y="293.9" font-size="12" fill="#fff" text-anchor="middle" textLength="33" lengthAdjust="spacingAndGlyphs">Model</text><text x="4008.7" y="307.8" font-size="12" fill="#fff" text-anchor="middle" textLength="70" lengthAdjust="spacingAndGlyphs">configuration</text><rect x="4260.6" y="281.5" width="97.2" height="31.4" fill="#4c9a2f"/><text x="4309.2" y="293.9" font-size="12" fill="#fff" text-anchor="middle" textLength="33" lengthAdjust="spacingAndGlyphs">Actual</text><text x="4309.2" y="307.8" font-size="12" fill="#fff" text-anchor="middle" textLength="70" lengthAdjust="spacingAndGlyphs">configuration</text><path d="M4118.3,315.9 q0,-3 3,-3 l13,0 l4,4 l13.5,0 q3,0 3,3 l0,22 q0,3 -3,3 l-30.5,0 q-3,0 -3,-3 z" fill="#fbc02d"/><rect x="4123.3" y="319.9" width="27" height="1.6" fill="#fff"/><path d="M4136.6,326.9 l2,4 l4.4,0.6 l-3.2,3.1 l0.8,4.4 l-4,-2.1 l-4,2.1 l0.8,-4.4 l-3.2,-3.1 l4.4,-0.6 z" fill="#fff"/><text x="4136.6" y="353.5" font-size="6.3" fill="#333" text-anchor="middle" textLength="25.2" lengthAdjust="spacingAndGlyphs">SCD file</text><path d="M4249.2,374.4 q0,-3 3,-3 l13,0 l4,4 l13.5,0 q3,0 3,3 l0,22 q0,3 -3,3 l-30.5,0 q-3,0 -3,-3 z" fill="#fbc02d"/><rect x="4254.2" y="378.4" width="27" height="1.6" fill="#fff"/><path d="M4267.5,385.4 l2,4 l4.4,0.6 l-3.2,3.1 l0.8,4.4 l-4,-2.1 l-4,2.1 l0.8,-4.4 l-3.2,-3.1 l4.4,-0.6 z" fill="#fff"/><text x="4267.5" y="411.2" font-size="6.3" fill="#333" text-anchor="middle" textLength="25.2" lengthAdjust="spacingAndGlyphs">CCD file</text><path d="M4244.8,480.0 q0,-3 3,-3 l13,0 l4,4 l13.5,0 q3,0 3,3 l0,22 q0,3 -3,3 l-30.5,0 q-3,0 -3,-3 z" fill="#fbc02d"/><rect x="4249.8" y="484.0" width="27" height="1.6" fill="#fff"/><path d="M4263.1,491.0 l2,4 l4.4,0.6 l-3.2,3.1 l0.8,4.4 l-4,-2.1 l-4,2.1 l0.8,-4.4 l-3.2,-3.1 l4.4,-0.6 z" fill="#fff"/><text x="4263.1" y="517.3" font-size="6.3" fill="#333" text-anchor="middle" textLength="25.2" lengthAdjust="spacingAndGlyphs">CID file</text><circle cx="4012.7" cy="388.6" r="20.1" fill="#f1c48e"/><rect x="3988.6" y="379.8" width="48.5" height="17.5" fill="#c9c2ea" stroke="#2a3f9a" stroke-width="1.3"/><circle cx="3995.6" cy="388.8" r="2.5" fill="#d86a8a" stroke="#2a3f9a" stroke-width="0.7"/><circle cx="4003.1" cy="388.8" r="2.5" fill="#d86a8a" stroke="#2a3f9a" stroke-width="0.7"/><rect x="4008.6" y="384.8" width="18" height="3.5" fill="#fff" stroke="#2a3f9a" stroke-width="0.7"/><circle cx="4031.6" cy="386.8" r="2" fill="#d86a8a" stroke="#2a3f9a" stroke-width="0.6"/><path d="M4011.6,392.8 h2 m2,0 h2 m2,0 h2 m2,0 h2" stroke="#2a3f9a" stroke-width="1.4"/><circle cx="4012.7" cy="498.3" r="20.1" fill="#f1c48e"/><rect x="3988.6" y="489.5" width="48.5" height="17.5" fill="#c9c2ea" stroke="#2a3f9a" stroke-width="1.3"/><circle cx="3995.6" cy="498.5" r="2.5" fill="#d86a8a" stroke="#2a3f9a" stroke-width="0.7"/><circle cx="4003.1" cy="498.5" r="2.5" fill="#d86a8a" stroke="#2a3f9a" stroke-width="0.7"/><rect x="4008.6" y="494.5" width="18" height="3.5" fill="#fff" stroke="#2a3f9a" stroke-width="0.7"/><circle cx="4031.6" cy="496.5" r="2" fill="#d86a8a" stroke="#2a3f9a" stroke-width="0.6"/><path d="M4011.6,502.5 h2 m2,0 h2 m2,0 h2 m2,0 h2" stroke="#2a3f9a" stroke-width="1.4"/><circle cx="4364.4" cy="388.6" r="20.1" fill="#f1c48e"/><rect x="4340.2" y="379.8" width="48.5" height="17.5" fill="#c9c2ea" stroke="#2a3f9a" stroke-width="1.3"/><circle cx="4347.2" cy="388.8" r="2.5" fill="#d86a8a" stroke="#2a3f9a" stroke-width="0.7"/><circle cx="4354.7" cy="388.8" r="2.5" fill="#d86a8a" stroke="#2a3f9a" stroke-width="0.7"/><rect x="4360.2" y="384.8" width="18" height="3.5" fill="#fff" stroke="#2a3f9a" stroke-width="0.7"/><circle cx="4383.2" cy="386.8" r="2" fill="#d86a8a" stroke="#2a3f9a" stroke-width="0.6"/><path d="M4363.2,392.8 h2 m2,0 h2 m2,0 h2 m2,0 h2" stroke="#2a3f9a" stroke-width="1.4"/><circle cx="4367.3" cy="498.3" r="20.1" fill="#f1c48e"/><rect x="4343.2" y="489.5" width="48.5" height="17.5" fill="#c9c2ea" stroke="#2a3f9a" stroke-width="1.3"/><circle cx="4350.2" cy="498.5" r="2.5" fill="#d86a8a" stroke="#2a3f9a" stroke-width="0.7"/><circle cx="4357.7" cy="498.5" r="2.5" fill="#d86a8a" stroke="#2a3f9a" stroke-width="0.7"/><rect x="4363.2" y="494.5" width="18" height="3.5" fill="#fff" stroke="#2a3f9a" stroke-width="0.7"/><circle cx="4386.2" cy="496.5" r="2" fill="#d86a8a" stroke="#2a3f9a" stroke-width="0.6"/><path d="M4366.2,502.5 h2 m2,0 h2 m2,0 h2 m2,0 h2" stroke="#2a3f9a" stroke-width="1.4"/><text x="4012.7" y="417.1" font-size="6.3" fill="#333" text-anchor="middle" textLength="40.9" lengthAdjust="spacingAndGlyphs">Communication</text><text x="4012.7" y="425.2" font-size="6.3" fill="#333" text-anchor="middle" textLength="59.9" lengthAdjust="spacingAndGlyphs">parameters, control</text><text x="4012.7" y="433.4" font-size="6.3" fill="#333" text-anchor="middle" textLength="47.2" lengthAdjust="spacingAndGlyphs">blocks, virtual</text><text x="4012.7" y="441.6" font-size="6.3" fill="#333" text-anchor="middle" textLength="50.4" lengthAdjust="spacingAndGlyphs">connections, etc</text><text x="4364.4" y="417.1" font-size="6.3" fill="#333" text-anchor="middle" textLength="40.9" lengthAdjust="spacingAndGlyphs">Communication</text><text x="4364.4" y="425.2" font-size="6.3" fill="#333" text-anchor="middle" textLength="59.9" lengthAdjust="spacingAndGlyphs">parameters, control</text><text x="4364.4" y="433.4" font-size="6.3" fill="#333" text-anchor="middle" textLength="47.2" lengthAdjust="spacingAndGlyphs">blocks, virtual</text><text x="4364.4" y="441.6" font-size="6.3" fill="#333" text-anchor="middle" textLength="50.4" lengthAdjust="spacingAndGlyphs">connections, etc</text><text x="4012.7" y="529.3" font-size="6.3" fill="#333" text-anchor="middle" textLength="40.9" lengthAdjust="spacingAndGlyphs">Communication</text><text x="4012.7" y="537.5" font-size="6.3" fill="#333" text-anchor="middle" textLength="66.1" lengthAdjust="spacingAndGlyphs">parameters, datasets,</text><text x="4012.7" y="545.6" font-size="6.3" fill="#333" text-anchor="middle" textLength="72.5" lengthAdjust="spacingAndGlyphs">signal definitions, etc</text><text x="4367.3" y="529.3" font-size="6.3" fill="#333" text-anchor="middle" textLength="40.9" lengthAdjust="spacingAndGlyphs">Communication</text><text x="4367.3" y="537.5" font-size="6.3" fill="#333" text-anchor="middle" textLength="66.1" lengthAdjust="spacingAndGlyphs">parameters, datasets,</text><text x="4367.3" y="545.6" font-size="6.3" fill="#333" text-anchor="middle" textLength="72.5" lengthAdjust="spacingAndGlyphs">signal definitions, etc</text><text x="4071.9" y="378" font-size="6.3" fill="#333" text-anchor="middle" textLength="40.9" lengthAdjust="spacingAndGlyphs">Configuration</text><text x="4071.9" y="386" font-size="6.3" fill="#333" text-anchor="middle" textLength="34.6" lengthAdjust="spacingAndGlyphs">Description</text><text x="4071.9" y="485.5" font-size="6.3" fill="#333" text-anchor="middle" textLength="40.9" lengthAdjust="spacingAndGlyphs">Configuration</text><text x="4071.9" y="493.5" font-size="6.3" fill="#333" text-anchor="middle" textLength="34.6" lengthAdjust="spacingAndGlyphs">Description</text><text x="4209" y="378" font-size="6.3" fill="#333" text-anchor="middle" textLength="40.9" lengthAdjust="spacingAndGlyphs">Configuration</text><text x="4209" y="386" font-size="6.3" fill="#333" text-anchor="middle" textLength="34.6" lengthAdjust="spacingAndGlyphs">Description</text><text x="4312.5" y="378" font-size="6.3" fill="#333" text-anchor="middle" textLength="40.9" lengthAdjust="spacingAndGlyphs">Configuration</text><text x="4312.5" y="386" font-size="6.3" fill="#333" text-anchor="middle" textLength="34.6" lengthAdjust="spacingAndGlyphs">Description</text><text x="4209" y="480" font-size="6.3" fill="#333" text-anchor="middle" textLength="40.9" lengthAdjust="spacingAndGlyphs">Configuration</text><text x="4209" y="488" font-size="6.3" fill="#333" text-anchor="middle" textLength="34.6" lengthAdjust="spacingAndGlyphs">Description</text><text x="4308.4" y="481.8" font-size="6.3" fill="#333" text-anchor="middle" textLength="40.9" lengthAdjust="spacingAndGlyphs">Configuration</text><text x="4308.4" y="489.8" font-size="6.3" fill="#333" text-anchor="middle" textLength="34.6" lengthAdjust="spacingAndGlyphs">Description</text><path d="M4118.3,331.2L4098.2,331.2L4098.2,388.6L4038.7,388.6" stroke="#2a459c" stroke-width="0.8" fill="none"/><path d="M4038.7,388.6L4043.7,386.3L4043.7,390.8Z" fill="#2a459c"/><path d="M4118.3,331.2L4112.5,331.2L4112.5,498.3L4037.9,498.3" stroke="#2a459c" stroke-width="0.8" fill="none"/><path d="M4037.9,498.3L4042.9,496L4042.9,500.5Z" fill="#2a459c"/><path d="M3988.9,388.6L3962.6,388.6L3962.6,564.1L4090.2,564.1" stroke="#2a459c" stroke-width="0.8" fill="none"/><path d="M4090.2,564.1L4085.2,566.3L4085.2,561.8Z" fill="#2a459c"/><path d="M3988.2,498.3L3938.5,498.3L3938.5,597.3L4090.2,597.3" stroke="#2a459c" stroke-width="0.8" fill="none"/><path d="M4090.2,597.3L4085.2,599.6L4085.2,595.1Z" fill="#2a459c"/><path d="M4156.7,331.2L4185.6,331.2L4185.6,388.6L4242.6,388.6" stroke="#5b9a3c" stroke-width="0.8" fill="none"/><path d="M4242.6,388.6L4237.6,390.8L4237.6,386.3Z" fill="#5b9a3c"/><path d="M4156.7,331.2L4174.3,331.2L4174.3,493.9L4238.3,493.9" stroke="#5b9a3c" stroke-width="0.8" fill="none"/><path d="M4238.3,493.9L4233.3,496.1L4233.3,491.6Z" fill="#5b9a3c"/><path d="M4289.4,389.7L4332.2,389.7" stroke="#5b9a3c" stroke-width="0.8" fill="none"/><path d="M4332.2,389.7L4327.2,391.9L4327.2,387.4Z" fill="#5b9a3c"/><path d="M4285.8,495.3L4334.8,495.3" stroke="#5b9a3c" stroke-width="0.8" fill="none"/><path d="M4334.8,495.3L4329.8,497.6L4329.8,493.1Z" fill="#5b9a3c"/><path d="M4388.5,388.6L4424.7,388.6L4424.7,564.1L4195.8,564.1" stroke="#5b9a3c" stroke-width="0.8" fill="none"/><path d="M4195.8,564.1L4200.8,561.8L4200.8,566.3Z" fill="#5b9a3c"/><path d="M4391.4,497.5L4413.4,497.5L4413.4,597.3L4195.8,597.3" stroke="#5b9a3c" stroke-width="0.8" fill="none"/><path d="M4195.8,597.3L4200.8,595.1L4200.8,599.6Z" fill="#5b9a3c"/><rect x="4091.3" y="555.6" width="103.1" height="17.2" fill="#7fd9d9" stroke="#1d6f80" stroke-width="0.8" rx="1.5"/><text x="4142.8" y="563" font-size="6.3" fill="#e9ffff" text-anchor="middle" textLength="88" lengthAdjust="spacingAndGlyphs" font-weight="bold">Device process layer virtual</text><text x="4142.8" y="571" font-size="6.3" fill="#e9ffff" text-anchor="middle" textLength="44.8" lengthAdjust="spacingAndGlyphs" font-weight="bold">connection CRC</text><rect x="4091.3" y="588.9" width="103.1" height="17.5" fill="#7fd9d9" stroke="#1d6f80" stroke-width="0.8" rx="1.5"/><text x="4142.8" y="596.2" font-size="6.3" fill="#e9ffff" text-anchor="middle" textLength="88" lengthAdjust="spacingAndGlyphs" font-weight="bold">Device station control layer</text><text x="4142.8" y="604.3" font-size="6.3" fill="#e9ffff" text-anchor="middle" textLength="54.4" lengthAdjust="spacingAndGlyphs" font-weight="bold">configuration CRC</text><text x="3976.9" y="560.4" font-size="6.3" fill="#333" textLength="100.5" lengthAdjust="spacingAndGlyphs">Information uniqueness identifier</text><text x="3972.5" y="595.1" font-size="6.3" fill="#333" textLength="101" lengthAdjust="spacingAndGlyphs">Information uniqueness identifier</text><text x="4212.7" y="560.4" font-size="6.3" fill="#333" textLength="102" lengthAdjust="spacingAndGlyphs">Information uniqueness identifier</text><text x="4212.7" y="595.1" font-size="6.3" fill="#333" textLength="102" lengthAdjust="spacingAndGlyphs">Information uniqueness identifier</text><path d="M4017.8,607.2L4017.8,675.6" stroke="#e03a3a" stroke-width="1" fill="none" stroke-dasharray="4,2.5"/></svg>
<svg style="left:0;top:0" width="4590" height="2437" viewBox="0 0 4590 2437" font-family="Liberation Sans, sans-serif"><path d="M3943,675.1L4099.2,675.1" stroke="#e03a3a" stroke-width="1" fill="none" stroke-dasharray="4,2.5"/><path d="M3932.0,675.1l10,-5.5l0,11z M4110.3,675.1l-10,-5.5l0,11z" fill="#e81e1e"/></svg>
<svg style="left:0;top:0" width="4590" height="2437" viewBox="0 0 4590 2437" font-family="Liberation Sans, sans-serif"><rect x="3324" y="656.6" width="602.4" height="403.1" fill="url(#pinkg)" stroke="#e04545" stroke-width="1" stroke-dasharray="4,2.5"/><text x="3445.2" y="681.6" font-size="15.5" fill="#1b1c20" textLength="374.6" lengthAdjust="spacingAndGlyphs" font-weight="bold">Effective information comparison between integrated</text><text x="3474.3" y="702.6" font-size="15.5" fill="#1b1c20" textLength="317" lengthAdjust="spacingAndGlyphs" font-weight="bold">configuration and independent configuration</text><path d="M4116.3,658.6L4472.8,658.6L4472.8,1061.7L3950,1061.7L3950,701.1L4116.3,701.1Z" stroke="#e04545" stroke-width="1" fill="url(#pinkg)" stroke-dasharray="4,2.5"/><text x="4168.8" y="690.1" font-size="15.5" fill="#1b1c20" textLength="263.5" lengthAdjust="spacingAndGlyphs" font-weight="bold">Configure cutting and CRC calculation</text></svg>
<svg style="left:0;top:0" width="4590" height="2437" viewBox="0 0 4590 2437" font-family="Liberation Sans, sans-serif"><rect x="3352.1" y="894.5" width="41.5" height="20.7" fill="#d5f1f2" rx="10.4"/><text x="3372.3" y="907.5" font-size="9" fill="#234" text-anchor="middle" textLength="19" lengthAdjust="spacingAndGlyphs">Start</text><rect x="3821.7" y="894.5" width="41.5" height="20.7" fill="#d5f1f2" rx="10.4"/><text x="3842.2" y="907.5" font-size="9" fill="#234" text-anchor="middle" textLength="15.5" lengthAdjust="spacingAndGlyphs">End</text><rect x="3424.9" y="893.8" width="40" height="22.2" fill="#bfe8b0"/><text x="3444.9" y="900" font-size="5.8" fill="#4f9c4f" text-anchor="middle" textLength="19.9" lengthAdjust="spacingAndGlyphs">Extract</text><text x="3444.9" y="907" font-size="5.8" fill="#4f9c4f" text-anchor="middle" textLength="19.9" lengthAdjust="spacingAndGlyphs">feature</text><text x="3444.9" y="914" font-size="5.8" fill="#4f9c4f" text-anchor="middle" textLength="31.4" lengthAdjust="spacingAndGlyphs">information</text><rect x="3496.3" y="893.8" width="40" height="22.2" fill="#bfe8b0"/><text x="3516.3" y="900" font-size="5.8" fill="#4f9c4f" text-anchor="middle" textLength="28.5" lengthAdjust="spacingAndGlyphs">Comparison</text><text x="3516.3" y="907" font-size="5.8" fill="#4f9c4f" text-anchor="middle" textLength="28.5" lengthAdjust="spacingAndGlyphs">of feature</text><text x="3516.3" y="914" font-size="5.8" fill="#4f9c4f" text-anchor="middle" textLength="31.4" lengthAdjust="spacingAndGlyphs">information</text><rect x="3568.2" y="891.1" width="78.1" height="27.7" fill="#bfe8b0"/><text x="3607.3" y="896.7" font-size="5.8" fill="#4f9c4f" text-anchor="middle" textLength="71.2" lengthAdjust="spacingAndGlyphs">The feature information i</text><text x="3607.3" y="903.7" font-size="5.8" fill="#4f9c4f" text-anchor="middle" textLength="71.2" lengthAdjust="spacingAndGlyphs">and j are consistent with</text><text x="3607.3" y="910.7" font-size="5.8" fill="#4f9c4f" text-anchor="middle" textLength="51.3" lengthAdjust="spacingAndGlyphs">the target feature</text><text x="3607.3" y="917.7" font-size="5.8" fill="#4f9c4f" text-anchor="middle" textLength="31.4" lengthAdjust="spacingAndGlyphs">information</text><rect x="3677.7" y="893.8" width="40" height="22.2" fill="#bfe8b0"/><text x="3697.7" y="900" font-size="5.8" fill="#4f9c4f" text-anchor="middle" textLength="25.7" lengthAdjust="spacingAndGlyphs">Configure</text><text x="3697.7" y="907" font-size="5.8" fill="#4f9c4f" text-anchor="middle" textLength="31.4" lengthAdjust="spacingAndGlyphs">cutting and</text><text x="3697.7" y="914" font-size="5.8" fill="#4f9c4f" text-anchor="middle" textLength="25.7" lengthAdjust="spacingAndGlyphs">combining</text><rect x="3749.6" y="893.8" width="46.1" height="22.2" fill="#bfe8b0"/><text x="3772.6" y="900" font-size="5.8" fill="#4f9c4f" text-anchor="middle" textLength="22.8" lengthAdjust="spacingAndGlyphs">Generate</text><text x="3772.6" y="907" font-size="5.8" fill="#4f9c4f" text-anchor="middle" textLength="31.4" lengthAdjust="spacingAndGlyphs">independent</text><text x="3772.6" y="914" font-size="5.8" fill="#4f9c4f" text-anchor="middle" textLength="37.1" lengthAdjust="spacingAndGlyphs">configuration</text><rect x="3587" y="966.4" width="40.3" height="22.4" fill="#bfe8b0"/><text x="3607.2" y="972.8" font-size="5.8" fill="#4f9c4f" text-anchor="middle" textLength="25.7" lengthAdjust="spacingAndGlyphs">Configure</text><text x="3607.2" y="979.8" font-size="5.8" fill="#4f9c4f" text-anchor="middle" textLength="31.4" lengthAdjust="spacingAndGlyphs">cutting and</text><text x="3607.2" y="986.8" font-size="5.8" fill="#4f9c4f" text-anchor="middle" textLength="25.7" lengthAdjust="spacingAndGlyphs">combining</text><rect x="3660.3" y="966.4" width="44.4" height="22.4" fill="#bfe8b0"/><text x="3682.5" y="972.8" font-size="5.8" fill="#4f9c4f" text-anchor="middle" textLength="22.8" lengthAdjust="spacingAndGlyphs">Generate</text><text x="3682.5" y="979.8" font-size="5.8" fill="#4f9c4f" text-anchor="middle" textLength="31.4" lengthAdjust="spacingAndGlyphs">independent</text><text x="3682.5" y="986.8" font-size="5.8" fill="#4f9c4f" text-anchor="middle" textLength="37.1" lengthAdjust="spacingAndGlyphs">configuration</text><path d="M3399.1,904.9L3418.9,904.9" stroke="#333" stroke-width="0.9" fill="none"/><path d="M3418.9,904.9L3413.9,907.1L3413.9,902.6Z" fill="#333"/><path d="M3472,904.9L3491.3,904.9" stroke="#333" stroke-width="0.9" fill="none"/><path d="M3491.3,904.9L3486.3,907.1L3486.3,902.6Z" fill="#333"/><path d="M3543.4,904.9L3563.1,904.9" stroke="#333" stroke-width="0.9" fill="none"/><path d="M3563.1,904.9L3558.1,907.1L3558.1,902.6Z" fill="#333"/><path d="M3654.1,904.9L3673.4,904.9" stroke="#333" stroke-width="0.9" fill="none"/><path d="M3673.4,904.9L3668.4,907.1L3668.4,902.6Z" fill="#333"/><path d="M3726.2,904.9L3745.7,904.9" stroke="#333" stroke-width="0.9" fill="none"/><path d="M3745.7,904.9L3740.7,907.1L3740.7,902.6Z" fill="#333"/><path d="M3798.1,904.9L3817.4,904.9" stroke="#333" stroke-width="0.9" fill="none"/><path d="M3817.4,904.9L3812.4,907.1L3812.4,902.6Z" fill="#333"/><path d="M3607,924.9L3607,960.3" stroke="#333" stroke-width="0.9" fill="none"/><path d="M3607,960.3L3604.8,955.3L3609.3,955.3Z" fill="#333"/><path d="M3632.1,977.5L3654.8,977.5" stroke="#333" stroke-width="0.9" fill="none"/><path d="M3654.8,977.5L3649.8,979.7L3649.8,975.2Z" fill="#333"/><path d="M3682.5,965.9L3682.5,941.1L3842.7,941.1L3842.7,916.2" stroke="#333" stroke-width="0.9" fill="none"/><path d="M3842.7,916.2L3844.9,921.2L3840.4,921.2Z" fill="#333"/><text x="3587.7" y="940.6" font-size="6.3" fill="#333" text-anchor="middle" textLength="24" lengthAdjust="spacingAndGlyphs">Only i is</text><text x="3587.7" y="948.8" font-size="6.3" fill="#333" text-anchor="middle" textLength="31" lengthAdjust="spacingAndGlyphs">consistent</text><rect x="3423.7" y="787.9" width="183.8" height="83.9" fill="#eef2f8"/><text x="3444.9" y="774.9" font-size="6.3" fill="#333" text-anchor="middle" textLength="32" lengthAdjust="spacingAndGlyphs">Integrated</text><text x="3444.9" y="783.1" font-size="6.3" fill="#333" text-anchor="middle" textLength="41" lengthAdjust="spacingAndGlyphs">configuration</text><text x="3433.8" y="794.6" font-size="4" fill="#aaa" text-anchor="end" font-family="Liberation Mono, monospace">1</text><text x="3437.7" y="794.6" font-size="4.9" fill="#333" textLength="18.2" lengthAdjust="spacingAndGlyphs" font-weight="bold" font-family="Liberation Mono, monospace">&lt;Start</text><text x="3433.8" y="801.2" font-size="4" fill="#aaa" text-anchor="end" font-family="Liberation Mono, monospace">2</text><text x="3437.7" y="801.2" font-size="4.9" fill="#333" textLength="163.6" lengthAdjust="spacingAndGlyphs" font-weight="bold" font-family="Liberation Mono, monospace">&lt;Configuration Description 1 (Feature Information 1)/&gt;</text><text x="3433.8" y="807.7" font-size="4" fill="#aaa" text-anchor="end" font-family="Liberation Mono, monospace">3</text><text x="3437.7" y="807.7" font-size="4.9" fill="#333" textLength="163.6" lengthAdjust="spacingAndGlyphs" font-weight="bold" font-family="Liberation Mono, monospace">&lt;Configuration Description 2 (Feature Information 2)/&gt;</text><text x="3433.8" y="814.2" font-size="4" fill="#aaa" text-anchor="end" font-family="Liberation Mono, monospace">4</text><text x="3437.7" y="814.2" font-size="4.9" fill="#333" textLength="163.6" lengthAdjust="spacingAndGlyphs" font-weight="bold" font-family="Liberation Mono, monospace">&lt;Configuration Description 3 (Feature Information 3)/&gt;</text><text x="3433.8" y="820.7" font-size="4" fill="#aaa" text-anchor="end" font-family="Liberation Mono, monospace">5</text><text x="3437.7" y="820.7" font-size="4.9" fill="#333" textLength="163.6" lengthAdjust="spacingAndGlyphs" font-weight="bold" font-family="Liberation Mono, monospace">&lt;Configuration Description 4 (Feature Information 4)/&gt;</text><text x="3433.8" y="827.2" font-size="4" fill="#aaa" text-anchor="end" font-family="Liberation Mono, monospace">6</text><text x="3437.7" y="827.2" font-size="4.9" fill="#333" textLength="3" lengthAdjust="spacingAndGlyphs" font-weight="bold" font-family="Liberation Mono, monospace">—</text><text x="3433.8" y="833.7" font-size="4" fill="#aaa" text-anchor="end" font-family="Liberation Mono, monospace">7</text><text x="3437.7" y="833.7" font-size="4.9" fill="#333" textLength="163.6" lengthAdjust="spacingAndGlyphs" font-weight="bold" font-family="Liberation Mono, monospace">&lt;Configuration Description i (Feature Information i)/&gt;</text><text x="3433.8" y="840.2" font-size="4" fill="#aaa" text-anchor="end" font-family="Liberation Mono, monospace">8</text><text x="3437.7" y="840.2" font-size="4.9" fill="#333" textLength="3" lengthAdjust="spacingAndGlyphs" font-weight="bold" font-family="Liberation Mono, monospace">—</text><text x="3433.8" y="846.7" font-size="4" fill="#aaa" text-anchor="end" font-family="Liberation Mono, monospace">9</text><text x="3437.7" y="846.7" font-size="4.9" fill="#333" textLength="163.6" lengthAdjust="spacingAndGlyphs" font-weight="bold" font-family="Liberation Mono, monospace">&lt;Configuration Description j (Feature Information j)/&gt;</text><text x="3433.8" y="853.3" font-size="4" fill="#aaa" text-anchor="end" font-family="Liberation Mono, monospace">10</text><text x="3437.7" y="853.3" font-size="4.9" fill="#333" textLength="3" lengthAdjust="spacingAndGlyphs" font-weight="bold" font-family="Liberation Mono, monospace">—</text><text x="3433.8" y="859.8" font-size="4" fill="#aaa" text-anchor="end" font-family="Liberation Mono, monospace">11</text><text x="3437.7" y="859.8" font-size="4.9" fill="#333" textLength="15.1" lengthAdjust="spacingAndGlyphs" font-weight="bold" font-family="Liberation Mono, monospace">End/&gt;</text><rect x="3525.5" y="785.5" width="73.3" height="71.6" fill="none" stroke="#222" stroke-width="0.9" stroke-dasharray="3.5,2"/><path d="M3562.4,785L3562.4,755.3L3410.5,755.3L3410.5,884.4L3444.9,884.4L3444.9,892.6" stroke="#222" stroke-width="0.9" fill="none" stroke-dasharray="3.5,2"/><path d="M3444.9,892.6L3442.9,888.1L3447,888.1Z" fill="#222"/><rect x="3435.3" y="827.7" width="170.8" height="9.2" fill="none" stroke="#5a78e0" stroke-width="0.8" rx="1.5" stroke-dasharray="3,1.8"/><rect x="3435.3" y="840.7" width="170.8" height="9.2" fill="none" stroke="#5a78e0" stroke-width="0.8" rx="1.5" stroke-dasharray="3,1.8"/><path d="M3606.1,832.3L3669.3,832.3L3669.3,878.3L3608.2,878.3" stroke="#5a78e0" stroke-width="0.8" fill="none" stroke-dasharray="3,1.8"/><path d="M3606.1,845.3L3657.7,845.3L3657.7,869.2L3608.2,869.2L3608.2,884.4" stroke="#5a78e0" stroke-width="0.8" fill="none" stroke-dasharray="3,1.8"/><path d="M3608.2,884.4L3606,879.4L3610.5,879.4Z" fill="#5a78e0"/><rect x="3693.9" y="819.7" width="184.5" height="32.1" fill="#eef2f8"/><text x="3715.6" y="804.8" font-size="6.3" fill="#333" text-anchor="middle" textLength="40" lengthAdjust="spacingAndGlyphs">Independent</text><text x="3715.6" y="812.7" font-size="6.3" fill="#333" text-anchor="middle" textLength="41" lengthAdjust="spacingAndGlyphs">configuration</text><text x="3704.5" y="826.5" font-size="4" fill="#aaa" text-anchor="end" font-family="Liberation Mono, monospace">1</text><text x="3708.3" y="826.5" font-size="4.9" fill="#333" textLength="18.3" lengthAdjust="spacingAndGlyphs" font-weight="bold" font-family="Liberation Mono, monospace">&lt;Start</text><text x="3704.5" y="833.2" font-size="4" fill="#aaa" text-anchor="end" font-family="Liberation Mono, monospace">2</text><text x="3708.3" y="833.2" font-size="4.9" fill="#333" textLength="164.7" lengthAdjust="spacingAndGlyphs" font-weight="bold" font-family="Liberation Mono, monospace">&lt;Configuration Description i (Feature Information i)/&gt;</text><text x="3704.5" y="839.7" font-size="4" fill="#aaa" text-anchor="end" font-family="Liberation Mono, monospace">3</text><text x="3708.3" y="839.7" font-size="4.9" fill="#333" textLength="164.7" lengthAdjust="spacingAndGlyphs" font-weight="bold" font-family="Liberation Mono, monospace">&lt;Configuration Description j (Feature Information j)/&gt;</text><text x="3704.5" y="846.3" font-size="4" fill="#aaa" text-anchor="end" font-family="Liberation Mono, monospace">4</text><text x="3708.3" y="846.3" font-size="4.9" fill="#333" textLength="15.2" lengthAdjust="spacingAndGlyphs" font-weight="bold" font-family="Liberation Mono, monospace">End/&gt;</text><path d="M3774.7,857.4L3774.7,888" stroke="#222" stroke-width="0.9" fill="none" stroke-dasharray="3,2"/><path d="M3774.7,888L3772.4,883L3776.9,883Z" fill="#222"/><rect x="3718.5" y="1006.9" width="116" height="33" fill="#eef2f8"/><text x="3740.2" y="993.4" font-size="6.3" fill="#333" text-anchor="middle" textLength="39" lengthAdjust="spacingAndGlyphs">Independent</text><text x="3740.2" y="1001.4" font-size="6.3" fill="#333" text-anchor="middle" textLength="41" lengthAdjust="spacingAndGlyphs">configuration</text><text x="3729.1" y="1013.4" font-size="4" fill="#aaa" text-anchor="end" font-family="Liberation Mono, monospace">1</text><text x="3732.9" y="1013.4" font-size="4.9" fill="#333" textLength="18.3" lengthAdjust="spacingAndGlyphs" font-weight="bold" font-family="Liberation Mono, monospace">&lt;Start</text><text x="3729.1" y="1020.2" font-size="4" fill="#aaa" text-anchor="end" font-family="Liberation Mono, monospace">2</text><text x="3732.9" y="1020.2" font-size="4.9" fill="#333" textLength="85.4" lengthAdjust="spacingAndGlyphs" font-weight="bold" font-family="Liberation Mono, monospace">&lt;Configuration Description i</text><text x="3729.1" y="1026.7" font-size="4" fill="#aaa" text-anchor="end" font-family="Liberation Mono, monospace"></text><text x="3732.9" y="1026.7" font-size="4.9" fill="#333" textLength="76.2" lengthAdjust="spacingAndGlyphs" font-weight="bold" font-family="Liberation Mono, monospace">(Feature Information i)/&gt;</text><text x="3729.1" y="1033.2" font-size="4" fill="#aaa" text-anchor="end" font-family="Liberation Mono, monospace">3</text><text x="3732.9" y="1033.2" font-size="4.9" fill="#333" textLength="15.2" lengthAdjust="spacingAndGlyphs" font-weight="bold" font-family="Liberation Mono, monospace">End/&gt;</text><path d="M3705.2,976.7L3776.6,976.7L3776.6,1006.2" stroke="#888" stroke-width="0.8" fill="none" stroke-dasharray="1.5,1.5"/><path d="M3776.6,1006.2L3774.3,1001.2L3778.8,1001.2Z" fill="#888"/></svg>
<svg style="left:0;top:0" width="4590" height="2437" viewBox="0 0 4590 2437" font-family="Liberation Sans, sans-serif"><rect x="4009.3" y="745.7" width="49.9" height="22.7" fill="#e4e6ea" stroke="#666" stroke-width="0.6" stroke-dasharray="2,1.3"/><text x="4034.3" y="754.1" font-size="3.6" fill="#456" text-anchor="middle" textLength="42" lengthAdjust="spacingAndGlyphs">Requirement condition 1</text><text x="4034.3" y="763.1" font-size="3.6" fill="#456" text-anchor="middle" textLength="42" lengthAdjust="spacingAndGlyphs">Requirement condition n</text><rect x="4233.3" y="745.7" width="50.2" height="22.7" fill="#e4e6ea" stroke="#666" stroke-width="0.6" stroke-dasharray="2,1.3"/><text x="4258.5" y="754.1" font-size="3.6" fill="#456" text-anchor="middle" textLength="37" lengthAdjust="spacingAndGlyphs">Feature information i</text><text x="4258.5" y="763.1" font-size="3.6" fill="#456" text-anchor="middle" textLength="37" lengthAdjust="spacingAndGlyphs">Feature information j</text><path d="M4033.8,771.2L4033.8,787.6" stroke="#333" stroke-width="0.7" fill="none"/><path d="M4033.8,787.6L4032.2,784.1L4035.4,784.1Z" fill="#333"/><path d="M4258.3,771.2L4258.3,788.1" stroke="#333" stroke-width="0.7" fill="none"/><path d="M4258.3,788.1L4256.7,784.6L4259.9,784.6Z" fill="#333"/><rect x="3960.9" y="793.1" width="33.8" height="16.9" fill="#d2eff0" rx="8.5"/><text x="3977.8" y="802.9" font-size="3.6" fill="#456" text-anchor="middle" textLength="8.8" lengthAdjust="spacingAndGlyphs">Start</text><rect x="4013.1" y="791.4" width="41.6" height="20.2" fill="#d2eff0"/><text x="4033.9" y="795.9" font-size="3.6" fill="#456" text-anchor="middle" textLength="15.8" lengthAdjust="spacingAndGlyphs">Determine</text><text x="4033.9" y="800.5" font-size="3.6" fill="#456" text-anchor="middle" textLength="19.2" lengthAdjust="spacingAndGlyphs">application</text><text x="4033.9" y="805" font-size="3.6" fill="#456" text-anchor="middle" textLength="28" lengthAdjust="spacingAndGlyphs">requirements and</text><text x="4033.9" y="809.5" font-size="3.6" fill="#456" text-anchor="middle" textLength="17.5" lengthAdjust="spacingAndGlyphs">conditions</text><rect x="4069.4" y="791.4" width="41.6" height="20.2" fill="#d2eff0"/><text x="4090.2" y="798.2" font-size="3.6" fill="#456" text-anchor="middle" textLength="33.2" lengthAdjust="spacingAndGlyphs">Determine effective</text><text x="4090.2" y="802.7" font-size="3.6" fill="#456" text-anchor="middle" textLength="22.8" lengthAdjust="spacingAndGlyphs">configuration</text><text x="4090.2" y="807.3" font-size="3.6" fill="#456" text-anchor="middle" textLength="19.2" lengthAdjust="spacingAndGlyphs">information</text><rect x="4125.4" y="791.4" width="41.6" height="20.2" fill="#d2eff0"/><text x="4146.2" y="800.5" font-size="3.6" fill="#456" text-anchor="middle" textLength="26.2" lengthAdjust="spacingAndGlyphs">Extract feature</text><text x="4146.2" y="805" font-size="3.6" fill="#456" text-anchor="middle" textLength="19.2" lengthAdjust="spacingAndGlyphs">information</text><rect x="4181.6" y="791.4" width="41.6" height="20.2" fill="#d2eff0"/><text x="4202.4" y="798.2" font-size="3.6" fill="#456" text-anchor="middle" textLength="15.8" lengthAdjust="spacingAndGlyphs">Calculate</text><text x="4202.4" y="802.7" font-size="3.6" fill="#456" text-anchor="middle" textLength="31.5" lengthAdjust="spacingAndGlyphs">configuration file</text><text x="4202.4" y="807.3" font-size="3.6" fill="#456" text-anchor="middle" textLength="14" lengthAdjust="spacingAndGlyphs">checksum</text><rect x="4237.6" y="791.4" width="41.9" height="20.2" fill="#d2eff0"/><text x="4258.5" y="800.5" font-size="3.6" fill="#456" text-anchor="middle" textLength="36.8" lengthAdjust="spacingAndGlyphs">Pairing configuration</text><text x="4258.5" y="805" font-size="3.6" fill="#456" text-anchor="middle" textLength="8.8" lengthAdjust="spacingAndGlyphs">files</text><rect x="4293.8" y="791.4" width="41.9" height="20.2" fill="#d2eff0"/><text x="4314.8" y="800.5" font-size="3.6" fill="#456" text-anchor="middle" textLength="29.8" lengthAdjust="spacingAndGlyphs">Verification code</text><text x="4314.8" y="805" font-size="3.6" fill="#456" text-anchor="middle" textLength="17.5" lengthAdjust="spacingAndGlyphs">comparison</text><rect x="4350.1" y="791.4" width="41.6" height="20.2" fill="#d2eff0"/><text x="4370.9" y="802.7" font-size="3.6" fill="#456" text-anchor="middle" textLength="24.5" lengthAdjust="spacingAndGlyphs">Record results</text><rect x="4409.1" y="793.1" width="34.1" height="16.9" fill="#d2eff0" rx="8.5"/><text x="4426.1" y="802.9" font-size="3.6" fill="#456" text-anchor="middle" textLength="5.2" lengthAdjust="spacingAndGlyphs">End</text><path d="M3999.2,801.5L4010.1,801.5" stroke="#333" stroke-width="0.7" fill="none"/><path d="M4010.1,801.5L4006.6,803L4006.6,799.9Z" fill="#333"/><path d="M4057.2,801.5L4066.8,801.5" stroke="#333" stroke-width="0.7" fill="none"/><path d="M4066.8,801.5L4063.3,803L4063.3,799.9Z" fill="#333"/><path d="M4114,801.5L4123.6,801.5" stroke="#333" stroke-width="0.7" fill="none"/><path d="M4123.6,801.5L4120.1,803L4120.1,799.9Z" fill="#333"/><path d="M4169.5,801.5L4179.1,801.5" stroke="#333" stroke-width="0.7" fill="none"/><path d="M4179.1,801.5L4175.6,803L4175.6,799.9Z" fill="#333"/><path d="M4225,801.5L4234.6,801.5" stroke="#333" stroke-width="0.7" fill="none"/><path d="M4234.6,801.5L4231.1,803L4231.1,799.9Z" fill="#333"/><path d="M4282.5,801.5L4291.6,801.5" stroke="#333" stroke-width="0.7" fill="none"/><path d="M4291.6,801.5L4288.1,803L4288.1,799.9Z" fill="#333"/><path d="M4338.5,801.5L4347.8,801.5" stroke="#333" stroke-width="0.7" fill="none"/><path d="M4347.8,801.5L4344.3,803L4344.3,799.9Z" fill="#333"/><path d="M4394.5,801.5L4406.6,801.5" stroke="#333" stroke-width="0.7" fill="none"/><path d="M4406.6,801.5L4403.1,803L4403.1,799.9Z" fill="#333"/><path d="M4202.5,812.1L4202.5,835.3" stroke="#333" stroke-width="0.7" fill="none"/><path d="M4091.3,835.3L4325.4,835.3" stroke="#777" stroke-width="0.7" fill="none"/><path d="M4091.3,835.3L4091.3,844.1" stroke="#777" stroke-width="0.7" fill="none"/><path d="M4169.5,835.3L4169.5,844.1" stroke="#777" stroke-width="0.7" fill="none"/><path d="M4247.4,835.3L4247.4,844.1" stroke="#777" stroke-width="0.7" fill="none"/><path d="M4325.4,835.3L4325.4,844.1" stroke="#777" stroke-width="0.7" fill="none"/><rect x="4070.6" y="844.6" width="41.1" height="20.2" fill="#d8f0cc"/><text x="4091.2" y="853.7" font-size="3.6" fill="#354" text-anchor="middle" textLength="19.2" lengthAdjust="spacingAndGlyphs">Independent</text><text x="4091.2" y="858.2" font-size="3.6" fill="#354" text-anchor="middle" textLength="26.2" lengthAdjust="spacingAndGlyphs">configuration 1</text><rect x="4148.6" y="844.6" width="41.1" height="20.2" fill="#d8f0cc"/><text x="4169.1" y="853.7" font-size="3.6" fill="#354" text-anchor="middle" textLength="19.2" lengthAdjust="spacingAndGlyphs">Independent</text><text x="4169.1" y="858.2" font-size="3.6" fill="#354" text-anchor="middle" textLength="26.2" lengthAdjust="spacingAndGlyphs">configuration 2</text><rect x="4226.5" y="844.6" width="41.4" height="20.2" fill="#a8e090"/><text x="4247.2" y="853.7" font-size="3.6" fill="#243" text-anchor="middle" textLength="17.5" lengthAdjust="spacingAndGlyphs">Integrated</text><text x="4247.2" y="858.2" font-size="3.6" fill="#243" text-anchor="middle" textLength="26.2" lengthAdjust="spacingAndGlyphs">Configuration 1</text><rect x="4304.4" y="844.6" width="41.4" height="20.2" fill="#a8e090"/><text x="4325.1" y="853.7" font-size="3.6" fill="#243" text-anchor="middle" textLength="17.5" lengthAdjust="spacingAndGlyphs">Integrated</text><text x="4325.1" y="858.2" font-size="3.6" fill="#243" text-anchor="middle" textLength="26.2" lengthAdjust="spacingAndGlyphs">Configuration 2</text><path d="M4070.6,854.7L4046.4,854.7L4046.4,876.9" stroke="#333" stroke-width="0.6" fill="none"/><path d="M4148.6,854.7L4124.3,854.7L4124.3,876.9" stroke="#333" stroke-width="0.6" fill="none"/><path d="M4226.5,855.5L4202.5,855.5L4202.5,876.9" stroke="#333" stroke-width="0.6" fill="none"/><path d="M4304.4,855.5L4280.5,855.5L4280.5,876.9" stroke="#333" stroke-width="0.6" fill="none"/><rect x="4020.2" y="871.3" width="286.5" height="30.3" fill="none" stroke="#555" stroke-width="0.6" stroke-dasharray="2,1.3"/><rect x="4027" y="877.6" width="39.1" height="16.4" fill="#fbf8e8"/><text x="4046.5" y="884.8" font-size="3.6" fill="#454" text-anchor="middle" textLength="33.2" lengthAdjust="spacingAndGlyphs">Feature Information</text><text x="4046.5" y="889.4" font-size="3.6" fill="#454" text-anchor="middle" textLength="1.8" lengthAdjust="spacingAndGlyphs">1</text><rect x="4104.9" y="877.6" width="39.1" height="16.4" fill="#fbf8e8"/><text x="4124.5" y="884.8" font-size="3.6" fill="#454" text-anchor="middle" textLength="33.2" lengthAdjust="spacingAndGlyphs">Feature Information</text><text x="4124.5" y="889.4" font-size="3.6" fill="#454" text-anchor="middle" textLength="1.8" lengthAdjust="spacingAndGlyphs">2</text><rect x="4182.9" y="877.6" width="39.1" height="16.4" fill="#fbf8e8"/><text x="4202.4" y="884.8" font-size="3.6" fill="#454" text-anchor="middle" textLength="33.2" lengthAdjust="spacingAndGlyphs">Feature Information</text><text x="4202.4" y="889.4" font-size="3.6" fill="#454" text-anchor="middle" textLength="1.8" lengthAdjust="spacingAndGlyphs">3</text><rect x="4260.8" y="877.6" width="39.1" height="16.4" fill="#fbf8e8"/><text x="4280.4" y="884.8" font-size="3.6" fill="#454" text-anchor="middle" textLength="33.2" lengthAdjust="spacingAndGlyphs">Feature Information</text><text x="4280.4" y="889.4" font-size="3.6" fill="#454" text-anchor="middle" textLength="1.8" lengthAdjust="spacingAndGlyphs">4</text><path d="M4088.8,865L4088.8,921L4099.4,921" stroke="#333" stroke-width="0.6" fill="none"/><path d="M4170.2,865L4170.2,921L4150.6,921" stroke="#333" stroke-width="0.6" fill="none"/><rect x="4093.1" y="907.9" width="63.3" height="25.7" fill="none" stroke="#555" stroke-width="0.6" stroke-dasharray="2,1.3"/><rect x="4099.6" y="913.7" width="20.7" height="14.4" fill="#f8e3d3"/><text x="4110" y="922.2" font-size="3.6" fill="#654" text-anchor="middle" textLength="7" lengthAdjust="spacingAndGlyphs">CRC1</text><rect x="4129.1" y="913.7" width="20.7" height="14.4" fill="#f8e3d3"/><text x="4139.5" y="922.2" font-size="3.6" fill="#654" text-anchor="middle" textLength="7" lengthAdjust="spacingAndGlyphs">CRC2</text><path d="M4247.4,865L4247.4,922.5L4235.1,922.5" stroke="#333" stroke-width="0.6" fill="none"/><path d="M4235.1,922.5L4238.6,921L4238.6,924.1Z" fill="#333"/><rect x="4201.5" y="912.5" width="32.3" height="20.2" fill="#f8d4d8"/><text x="4217.7" y="919.3" font-size="3.6" fill="#644" text-anchor="middle" textLength="5.2" lengthAdjust="spacingAndGlyphs">Cut</text><text x="4217.7" y="923.8" font-size="3.6" fill="#644" text-anchor="middle" textLength="22.8" lengthAdjust="spacingAndGlyphs">configuration</text><text x="4217.7" y="928.3" font-size="3.6" fill="#644" text-anchor="middle" textLength="7" lengthAdjust="spacingAndGlyphs">file</text><path d="M4326.6,867.6L4326.6,913" stroke="#555" stroke-width="0.9" fill="none"/><path d="M4326.6,913L4325.1,909.5L4328.2,909.5Z" fill="#555"/><rect x="4309.2" y="914.2" width="32.3" height="20.2" fill="#f8d4d8"/><text x="4325.4" y="921" font-size="3.6" fill="#644" text-anchor="middle" textLength="5.2" lengthAdjust="spacingAndGlyphs">Cut</text><text x="4325.4" y="925.6" font-size="3.6" fill="#644" text-anchor="middle" textLength="22.8" lengthAdjust="spacingAndGlyphs">configuration</text><text x="4325.4" y="930.1" font-size="3.6" fill="#644" text-anchor="middle" textLength="7" lengthAdjust="spacingAndGlyphs">file</text><rect x="4369.3" y="907.9" width="63.3" height="25.7" fill="none" stroke="#555" stroke-width="0.6" stroke-dasharray="2,1.3"/><rect x="4375.8" y="913.7" width="20.7" height="14.4" fill="#f8e3d3"/><text x="4386.2" y="922.2" font-size="3.6" fill="#654" text-anchor="middle" textLength="7" lengthAdjust="spacingAndGlyphs">CRC1</text><rect x="4405.3" y="913.7" width="20.7" height="14.4" fill="#f8e3d3"/><text x="4415.7" y="922.2" font-size="3.6" fill="#654" text-anchor="middle" textLength="7" lengthAdjust="spacingAndGlyphs">CRC2</text><path d="M4131.2,933.6L4131.2,942L4389.4,942L4389.4,934.9" stroke="#777" stroke-width="0.6" fill="none" stroke-dasharray="2,1.3"/><path d="M4389.4,934.9L4391,938.4L4387.9,938.4Z" fill="#777"/><path d="M4219.2,933.1L4219.2,950" stroke="#333" stroke-width="0.9" fill="none"/><path d="M4173.8,950L4225.5,950" stroke="#333" stroke-width="0.7" fill="none"/><path d="M4173.8,950L4173.8,958.4" stroke="#333" stroke-width="0.7" fill="none"/><path d="M4173.8,958.4L4172.2,954.9L4175.4,954.9Z" fill="#333"/><path d="M4225.5,950L4225.5,958.4" stroke="#333" stroke-width="0.7" fill="none"/><path d="M4225.5,958.4L4223.9,954.9L4227.1,954.9Z" fill="#333"/><path d="M4219.2,939.4L4220.5,942.4L4217.8,942.4Z" fill="#555"/><path d="M4325.4,934.9L4325.4,950" stroke="#333" stroke-width="0.9" fill="none"/><path d="M4278.5,950L4333.4,950" stroke="#333" stroke-width="0.7" fill="none"/><path d="M4278.5,950L4278.5,958.4" stroke="#333" stroke-width="0.7" fill="none"/><path d="M4278.5,958.4L4276.9,954.9L4280,954.9Z" fill="#333"/><path d="M4333.4,950L4333.4,958.4" stroke="#333" stroke-width="0.7" fill="none"/><path d="M4333.4,958.4L4331.9,954.9L4335,954.9Z" fill="#333"/><path d="M4325.4,939.4L4326.7,942.4L4324,942.4Z" fill="#555"/><rect x="4159.4" y="959.1" width="28.3" height="20.2" fill="#d8f0cc"/><text x="4173.5" y="965.9" font-size="3.6" fill="#354" text-anchor="middle" textLength="19.2" lengthAdjust="spacingAndGlyphs">Independent</text><text x="4173.5" y="970.5" font-size="3.6" fill="#354" text-anchor="middle" textLength="22.8" lengthAdjust="spacingAndGlyphs">configuration</text><text x="4173.5" y="975" font-size="3.6" fill="#354" text-anchor="middle" textLength="1.8" lengthAdjust="spacingAndGlyphs">5</text><rect x="4211.6" y="959.1" width="28.3" height="20.2" fill="#d8f0cc"/><text x="4225.7" y="965.9" font-size="3.6" fill="#354" text-anchor="middle" textLength="19.2" lengthAdjust="spacingAndGlyphs">Independent</text><text x="4225.7" y="970.5" font-size="3.6" fill="#354" text-anchor="middle" textLength="22.8" lengthAdjust="spacingAndGlyphs">configuration</text><text x="4225.7" y="975" font-size="3.6" fill="#354" text-anchor="middle" textLength="1.8" lengthAdjust="spacingAndGlyphs">6</text><rect x="4264.6" y="959.1" width="28.3" height="20.2" fill="#d8f0cc"/><text x="4278.7" y="965.9" font-size="3.6" fill="#354" text-anchor="middle" textLength="19.2" lengthAdjust="spacingAndGlyphs">Independent</text><text x="4278.7" y="970.5" font-size="3.6" fill="#354" text-anchor="middle" textLength="22.8" lengthAdjust="spacingAndGlyphs">configuration</text><text x="4278.7" y="975" font-size="3.6" fill="#354" text-anchor="middle" textLength="1.8" lengthAdjust="spacingAndGlyphs">7</text><rect x="4319.6" y="959.1" width="28.3" height="20.2" fill="#d8f0cc"/><text x="4333.7" y="965.9" font-size="3.6" fill="#354" text-anchor="middle" textLength="19.2" lengthAdjust="spacingAndGlyphs">Independent</text><text x="4333.7" y="970.5" font-size="3.6" fill="#354" text-anchor="middle" textLength="22.8" lengthAdjust="spacingAndGlyphs">configuration</text><text x="4333.7" y="975" font-size="3.6" fill="#354" text-anchor="middle" textLength="1.8" lengthAdjust="spacingAndGlyphs">8</text><path d="M4159.4,969.7L4148.8,969.7L4148.8,992.4" stroke="#333" stroke-width="0.6" fill="none"/><path d="M4148.8,992.4L4147.2,988.9L4150.4,988.9Z" fill="#333"/><path d="M4207.8,969.7L4197,969.7L4197,992.4" stroke="#333" stroke-width="0.6" fill="none"/><path d="M4197,992.4L4195.4,988.9L4198.6,988.9Z" fill="#333"/><path d="M4264.6,969.7L4253.2,969.7L4253.2,992.4" stroke="#333" stroke-width="0.6" fill="none"/><path d="M4253.2,992.4L4251.7,988.9L4254.8,988.9Z" fill="#333"/><path d="M4313.3,969.7L4302.2,969.7L4302.2,992.4" stroke="#333" stroke-width="0.6" fill="none"/><path d="M4302.2,992.4L4300.6,988.9L4303.7,988.9Z" fill="#333"/><rect x="4133.7" y="987.4" width="183.9" height="32" fill="none" stroke="#555" stroke-width="0.6" stroke-dasharray="2,1.3"/><rect x="4139.2" y="995.4" width="18.7" height="17.2" fill="#fbf8e8"/><text x="4148.6" y="1000.7" font-size="3.6" fill="#454" text-anchor="middle" textLength="12.2" lengthAdjust="spacingAndGlyphs">Feature</text><text x="4148.6" y="1005.3" font-size="3.6" fill="#454" text-anchor="middle" textLength="14" lengthAdjust="spacingAndGlyphs">Informat</text><text x="4148.6" y="1009.8" font-size="3.6" fill="#454" text-anchor="middle" textLength="8.8" lengthAdjust="spacingAndGlyphs">ion 5</text><rect x="4187.7" y="995.4" width="18.7" height="17.2" fill="#fbf8e8"/><text x="4197" y="1000.7" font-size="3.6" fill="#454" text-anchor="middle" textLength="12.2" lengthAdjust="spacingAndGlyphs">Feature</text><text x="4197" y="1005.3" font-size="3.6" fill="#454" text-anchor="middle" textLength="14" lengthAdjust="spacingAndGlyphs">Informat</text><text x="4197" y="1009.8" font-size="3.6" fill="#454" text-anchor="middle" textLength="8.8" lengthAdjust="spacingAndGlyphs">ion 6</text><rect x="4244.7" y="995.4" width="18.7" height="17.2" fill="#fbf8e8"/><text x="4254" y="1000.7" font-size="3.6" fill="#454" text-anchor="middle" textLength="12.2" lengthAdjust="spacingAndGlyphs">Feature</text><text x="4254" y="1005.3" font-size="3.6" fill="#454" text-anchor="middle" textLength="14" lengthAdjust="spacingAndGlyphs">Informat</text><text x="4254" y="1009.8" font-size="3.6" fill="#454" text-anchor="middle" textLength="8.8" lengthAdjust="spacingAndGlyphs">ion 7</text><rect x="4293.1" y="995.4" width="18.7" height="17.2" fill="#fbf8e8"/><text x="4302.4" y="1000.7" font-size="3.6" fill="#454" text-anchor="middle" textLength="12.2" lengthAdjust="spacingAndGlyphs">Feature</text><text x="4302.4" y="1005.3" font-size="3.6" fill="#454" text-anchor="middle" textLength="14" lengthAdjust="spacingAndGlyphs">Informat</text><text x="4302.4" y="1009.8" font-size="3.6" fill="#454" text-anchor="middle" textLength="8.8" lengthAdjust="spacingAndGlyphs">ion 8</text><path d="M4170,979.8L4170,1030.3" stroke="#333" stroke-width="0.7" fill="none"/><path d="M4170,1030.3L4168.4,1026.8L4171.6,1026.8Z" fill="#333"/><path d="M4218.2,979.8L4218.2,1030.3" stroke="#333" stroke-width="0.7" fill="none"/><path d="M4218.2,1030.3L4216.6,1026.8L4219.7,1026.8Z" fill="#333"/><path d="M4274.9,979.8L4274.9,1030.3" stroke="#333" stroke-width="0.7" fill="none"/><path d="M4274.9,1030.3L4273.4,1026.8L4276.5,1026.8Z" fill="#333"/><path d="M4324.1,979.8L4324.1,1030.3" stroke="#333" stroke-width="0.7" fill="none"/><path d="M4324.1,1030.3L4322.5,1026.8L4325.7,1026.8Z" fill="#333"/><rect x="4154.4" y="1023.9" width="186.2" height="27.2" fill="none" stroke="#555" stroke-width="0.6" stroke-dasharray="2,1.3"/><rect x="4159.4" y="1031.5" width="20.2" height="13.1" fill="#f8e3d3"/><text x="4169.5" y="1039.3" font-size="3.6" fill="#654" text-anchor="middle" textLength="7" lengthAdjust="spacingAndGlyphs">CRC5</text><rect x="4208.1" y="1031.5" width="20.2" height="13.1" fill="#f8e3d3"/><text x="4218.2" y="1039.3" font-size="3.6" fill="#654" text-anchor="middle" textLength="7" lengthAdjust="spacingAndGlyphs">CRC6</text><rect x="4264.6" y="1031.5" width="20.2" height="13.1" fill="#f8e3d3"/><text x="4274.7" y="1039.3" font-size="3.6" fill="#654" text-anchor="middle" textLength="7" lengthAdjust="spacingAndGlyphs">CRC7</text><rect x="4313.3" y="1031.5" width="20.2" height="13.1" fill="#f8e3d3"/><text x="4323.4" y="1039.3" font-size="3.6" fill="#654" text-anchor="middle" textLength="7" lengthAdjust="spacingAndGlyphs">CRC8</text><path d="M4133.4,812.1L4133.4,825.2L4014.9,825.2L4014.9,1003.3L4133.4,1003.3" stroke="#666" stroke-width="0.6" fill="none" stroke-dasharray="2,1.3"/><path d="M4133.4,1003.3L4129.9,1004.8L4129.9,1001.7Z" fill="#666"/><path d="M4155.1,812.1L4155.1,830.2L4036.6,830.2L4036.6,876.4" stroke="#666" stroke-width="0.6" fill="none" stroke-dasharray="2,1.3"/><path d="M4036.6,876.4L4035,872.9L4038.1,872.9Z" fill="#666"/><path d="M4306.7,886.5L4449,886.5L4449,760.4L4284.3,760.4" stroke="#666" stroke-width="0.6" fill="none" stroke-dasharray="2,1.3"/><path d="M4284.3,760.4L4287.8,758.8L4287.8,761.9Z" fill="#666"/><path d="M4317.6,1003.3L4454.5,1003.3L4454.5,757.3L4284.3,757.3" stroke="#666" stroke-width="0.6" fill="none" stroke-dasharray="2,1.3"/><path d="M4284.3,757.3L4287.8,755.8L4287.8,758.9Z" fill="#666"/><path d="M4340.5,1037.3L4401.6,1037.3L4401.6,934.4" stroke="#666" stroke-width="0.6" fill="none" stroke-dasharray="2,1.3"/><path d="M4401.6,934.4L4403.1,937.9L4400,937.9Z" fill="#666"/><path d="M4403.6,907.9L4403.6,828.5L4314.5,828.5L4314.5,812.1" stroke="#666" stroke-width="0.6" fill="none" stroke-dasharray="2,1.3"/><path d="M4314.5,812.1L4316.1,815.6L4313,815.6Z" fill="#666"/></svg>
<svg style="left:0;top:0" width="4590" height="2437" viewBox="0 0 4590 2437" font-family="Liberation Sans, sans-serif"><rect x="2390" y="2090" width="580.2" height="257.2" fill="#041c42"/><rect x="2395.3" y="2096.5" width="85.9" height="250.8" fill="#051f48" stroke="#0e3566" stroke-width="0.5"/><rect x="2396.9" y="2098.3" width="82.9" height="8.5" fill="#06234f" stroke="#123c70" stroke-width="0.4"/><rect x="2399.2" y="2100.6" width="23.6" height="3.2" fill="#4a6a94"/><rect x="2397.8" y="2113.2" width="9.6" height="5" fill="#a8902c"/><rect x="2399.2" y="2114.5" width="6.9" height="2.3" fill="#e8dca0"/><text x="2411.3" y="2117.1" font-size="4.6" fill="#3fd0e8" textLength="14.1" lengthAdjust="spacingAndGlyphs">PM1101</text><text x="2430.5" y="2117.1" font-size="4.6" fill="#3fd0e8" textLength="45" lengthAdjust="spacingAndGlyphs">220kV bus unit P..</text><rect x="2397.8" y="2123.2" width="9.6" height="5" fill="#a8902c"/><rect x="2399.2" y="2124.6" width="6.9" height="2.3" fill="#e8dca0"/><text x="2411.3" y="2127.1" font-size="4.6" fill="#d8e4f4" textLength="16.4" lengthAdjust="spacingAndGlyphs">MM1101A</text><text x="2432.8" y="2127.1" font-size="4.6" fill="#d8e4f4" textLength="42.6" lengthAdjust="spacingAndGlyphs">110kV line prot MM1..</text><rect x="2397.8" y="2133.2" width="9.6" height="5" fill="#a8902c"/><rect x="2399.2" y="2134.6" width="6.9" height="2.3" fill="#e8dca0"/><text x="2411.3" y="2137.1" font-size="4.6" fill="#d8e4f4" textLength="11.8" lengthAdjust="spacingAndGlyphs">PM002</text><text x="2428.1" y="2137.1" font-size="4.6" fill="#d8e4f4" textLength="47.3" lengthAdjust="spacingAndGlyphs">110kV line prot PM0..</text><rect x="2397.8" y="2143.3" width="9.6" height="5" fill="#a8902c"/><rect x="2399.2" y="2144.6" width="6.9" height="2.3" fill="#e8dca0"/><text x="2411.3" y="2147.2" font-size="4.6" fill="#d8e4f4" textLength="16.4" lengthAdjust="spacingAndGlyphs">PM2201A</text><text x="2432.8" y="2147.2" font-size="4.6" fill="#d8e4f4" textLength="42.6" lengthAdjust="spacingAndGlyphs">220kV bus unit P..</text><rect x="2397.8" y="2153.3" width="9.6" height="5" fill="#a8902c"/><rect x="2399.2" y="2154.7" width="6.9" height="2.3" fill="#e8dca0"/><text x="2411.3" y="2157.2" font-size="4.6" fill="#d8e4f4" textLength="16.4" lengthAdjust="spacingAndGlyphs">PM2201B</text><text x="2432.8" y="2157.2" font-size="4.6" fill="#d8e4f4" textLength="42.6" lengthAdjust="spacingAndGlyphs">110kV line prot PM2..</text><rect x="2397.8" y="2163.3" width="9.6" height="5" fill="#a8902c"/><rect x="2399.2" y="2164.7" width="6.9" height="2.3" fill="#e8dca0"/><text x="2411.3" y="2167.2" font-size="4.6" fill="#d8e4f4" textLength="14.1" lengthAdjust="spacingAndGlyphs">MM2201</text><text x="2430.5" y="2167.2" font-size="4.6" fill="#d8e4f4" textLength="45" lengthAdjust="spacingAndGlyphs">110kV line prot MM2..</text><rect x="2397.8" y="2173.4" width="9.6" height="5" fill="#a8902c"/><rect x="2399.2" y="2174.7" width="6.9" height="2.3" fill="#e8dca0"/><text x="2411.3" y="2177.3" font-size="4.6" fill="#d8e4f4" textLength="14.1" lengthAdjust="spacingAndGlyphs">MM2202</text><text x="2430.5" y="2177.3" font-size="4.6" fill="#d8e4f4" textLength="45" lengthAdjust="spacingAndGlyphs">220kV bus unit P..</text><rect x="2397.8" y="2183.4" width="9.6" height="5" fill="#1f9a4a"/><rect x="2399.2" y="2184.8" width="6.9" height="2.3" fill="#bff0cc"/><text x="2411.3" y="2187.3" font-size="4.6" fill="#3fd0e8" textLength="16.4" lengthAdjust="spacingAndGlyphs">PCL1101</text><text x="2432.8" y="2187.3" font-size="4.6" fill="#3fd0e8" textLength="42.6" lengthAdjust="spacingAndGlyphs">110kV line prot PCL..</text><rect x="2397.8" y="2193.4" width="9.6" height="5" fill="#1f9a4a"/><rect x="2399.2" y="2194.8" width="6.9" height="2.3" fill="#bff0cc"/><text x="2411.3" y="2197.3" font-size="4.6" fill="#d8e4f4" textLength="14.1" lengthAdjust="spacingAndGlyphs">ML1101</text><text x="2430.5" y="2197.3" font-size="4.6" fill="#d8e4f4" textLength="45" lengthAdjust="spacingAndGlyphs">110kV line prot ML1..</text><rect x="2397.8" y="2203.5" width="9.6" height="5" fill="#1f9a4a"/><rect x="2399.2" y="2204.8" width="6.9" height="2.3" fill="#bff0cc"/><text x="2411.3" y="2207.4" font-size="4.6" fill="#d8e4f4" textLength="16.4" lengthAdjust="spacingAndGlyphs">PL2206A</text><text x="2432.8" y="2207.4" font-size="4.6" fill="#d8e4f4" textLength="42.6" lengthAdjust="spacingAndGlyphs">220kV bus unit P..</text><rect x="2397.8" y="2213.5" width="9.6" height="5" fill="#1f9a4a"/><rect x="2399.2" y="2214.9" width="6.9" height="2.3" fill="#bff0cc"/><text x="2411.3" y="2217.4" font-size="4.6" fill="#d8e4f4" textLength="16.4" lengthAdjust="spacingAndGlyphs">PL2206B</text><text x="2432.8" y="2217.4" font-size="4.6" fill="#d8e4f4" textLength="42.6" lengthAdjust="spacingAndGlyphs">110kV line prot PL2..</text><rect x="2397.8" y="2223.5" width="9.6" height="5" fill="#1f9a4a"/><rect x="2399.2" y="2224.9" width="6.9" height="2.3" fill="#bff0cc"/><text x="2411.3" y="2227.4" font-size="4.6" fill="#d8e4f4" textLength="16.4" lengthAdjust="spacingAndGlyphs">ML2206A</text><text x="2432.8" y="2227.4" font-size="4.6" fill="#d8e4f4" textLength="42.6" lengthAdjust="spacingAndGlyphs">110kV line prot ML2..</text><rect x="2397.8" y="2233.6" width="9.6" height="5" fill="#1f9a4a"/><rect x="2399.2" y="2234.9" width="6.9" height="2.3" fill="#bff0cc"/><text x="2411.3" y="2237.5" font-size="4.6" fill="#d8e4f4" textLength="16.4" lengthAdjust="spacingAndGlyphs">ML2206B</text><text x="2432.8" y="2237.5" font-size="4.6" fill="#d8e4f4" textLength="42.6" lengthAdjust="spacingAndGlyphs">220kV bus unit P..</text><rect x="2397.8" y="2243.6" width="9.6" height="5" fill="#1f9a4a"/><rect x="2399.2" y="2245" width="6.9" height="2.3" fill="#bff0cc"/><text x="2411.3" y="2247.5" font-size="4.6" fill="#d8e4f4" textLength="16.4" lengthAdjust="spacingAndGlyphs">IL2206A</text><text x="2432.8" y="2247.5" font-size="4.6" fill="#d8e4f4" textLength="42.6" lengthAdjust="spacingAndGlyphs">110kV line prot IL2..</text><rect x="2397.8" y="2253.6" width="9.6" height="5" fill="#1f9a4a"/><rect x="2399.2" y="2255" width="6.9" height="2.3" fill="#bff0cc"/><text x="2411.3" y="2257.5" font-size="4.6" fill="#d8e4f4" textLength="16.4" lengthAdjust="spacingAndGlyphs">IL2206B</text><text x="2432.8" y="2257.5" font-size="4.6" fill="#d8e4f4" textLength="42.6" lengthAdjust="spacingAndGlyphs">110kV line prot IL2..</text><rect x="2397.8" y="2263.7" width="9.6" height="5" fill="#1f9a4a"/><rect x="2399.2" y="2265" width="6.9" height="2.3" fill="#bff0cc"/><text x="2411.3" y="2267.5" font-size="4.6" fill="#d8e4f4" textLength="14.1" lengthAdjust="spacingAndGlyphs">CL2206</text><text x="2430.5" y="2267.5" font-size="4.6" fill="#d8e4f4" textLength="45" lengthAdjust="spacingAndGlyphs">220kV bus unit P..</text><text x="2397.8" y="2277.6" font-size="4.6" fill="#d8e4f4" textLength="18.8" lengthAdjust="spacingAndGlyphs">MIT1101A</text><text x="2421.7" y="2277.6" font-size="4.6" fill="#d8e4f4" textLength="53.8" lengthAdjust="spacingAndGlyphs">#1 main transformer unit A..</text><text x="2397.8" y="2287.6" font-size="4.6" fill="#d8e4f4" textLength="18.8" lengthAdjust="spacingAndGlyphs">MIT1101B</text><text x="2421.7" y="2287.6" font-size="4.6" fill="#d8e4f4" textLength="53.8" lengthAdjust="spacingAndGlyphs">#1 main transformer unit A..</text><text x="2397.8" y="2297.6" font-size="4.6" fill="#d8e4f4" textLength="14.1" lengthAdjust="spacingAndGlyphs">CT1101</text><text x="2417" y="2297.6" font-size="4.6" fill="#d8e4f4" textLength="58.5" lengthAdjust="spacingAndGlyphs">#1 main transformer unit A..</text><text x="2397.8" y="2307.7" font-size="4.6" fill="#d8e4f4" textLength="18.8" lengthAdjust="spacingAndGlyphs">MIT1011A</text><text x="2421.7" y="2307.7" font-size="4.6" fill="#d8e4f4" textLength="53.8" lengthAdjust="spacingAndGlyphs">#1 main transformer unit A..</text><text x="2397.8" y="2317.7" font-size="4.6" fill="#d8e4f4" textLength="18.8" lengthAdjust="spacingAndGlyphs">MIT1011B</text><text x="2421.7" y="2317.7" font-size="4.6" fill="#d8e4f4" textLength="53.8" lengthAdjust="spacingAndGlyphs">#1 main transformer unit A..</text><text x="2397.8" y="2327.7" font-size="4.6" fill="#d8e4f4" textLength="16.4" lengthAdjust="spacingAndGlyphs">CT1001A</text><text x="2419.3" y="2327.7" font-size="4.6" fill="#d8e4f4" textLength="56.2" lengthAdjust="spacingAndGlyphs">#1 main transformer unit A..</text><text x="2397.8" y="2337.8" font-size="4.6" fill="#d8e4f4" textLength="18.8" lengthAdjust="spacingAndGlyphs">MIT1021A</text><text x="2421.7" y="2337.8" font-size="4.6" fill="#d8e4f4" textLength="53.8" lengthAdjust="spacingAndGlyphs">#1 main transformer unit A..</text><rect x="2478.9" y="2110.2" width="1.4" height="34.4" fill="#2a4a78"/><text x="2486.9" y="2105.2" font-size="4.6" fill="#3fd0e8" textLength="21" lengthAdjust="spacingAndGlyphs">logic link</text><text x="2514.9" y="2105.2" font-size="4.6" fill="#d8e4f4" textLength="17" lengthAdjust="spacingAndGlyphs">comm para</text><text x="2538.5" y="2105.2" font-size="4.6" fill="#d8e4f4" textLength="13" lengthAdjust="spacingAndGlyphs">dataset</text><path d="M2486.9,2108.8L2509.8,2108.8" stroke="#3fd0e8" stroke-width="0.8" fill="none"/><path d="M2482.3,2108.8L2969.1,2108.8" stroke="#0e3566" stroke-width="0.4" fill="none"/><rect x="2488.5" y="2158.8" width="85.4" height="175.2" fill="#545a6c" rx="2.5"/><rect x="2660.3" y="2112" width="128.7" height="233.4" fill="#8b93c4"/><rect x="2875.2" y="2158.8" width="85.7" height="99.9" fill="#545a6c" rx="2.5"/><text x="2530.9" y="2178" font-size="7.2" fill="#e8ecf4" text-anchor="middle" textLength="24.5" lengthAdjust="spacingAndGlyphs">MIL1101</text><text x="2530.9" y="2186.4" font-size="7.2" fill="#e8ecf4" text-anchor="middle" textLength="66.5" lengthAdjust="spacingAndGlyphs">110kV line 502 unit</text><text x="2530.9" y="2194.7" font-size="7.2" fill="#e8ecf4" text-anchor="middle" textLength="52.5" lengthAdjust="spacingAndGlyphs">smart UDM502MIB</text><text x="2724.7" y="2127.8" font-size="7.2" fill="#e8ecf4" text-anchor="middle" textLength="24.5" lengthAdjust="spacingAndGlyphs">PCL1101</text><text x="2724.7" y="2136.2" font-size="7.2" fill="#e8ecf4" text-anchor="middle" textLength="59.5" lengthAdjust="spacingAndGlyphs">110kV line 502 pr</text><text x="2724.7" y="2144.6" font-size="7.2" fill="#e8ecf4" text-anchor="middle" textLength="49" lengthAdjust="spacingAndGlyphs">otect WXH-813A</text><text x="2918" y="2178" font-size="7.2" fill="#e8ecf4" text-anchor="middle" textLength="21" lengthAdjust="spacingAndGlyphs">PM1101</text><text x="2918" y="2186.4" font-size="7.2" fill="#e8ecf4" text-anchor="middle" textLength="66.5" lengthAdjust="spacingAndGlyphs">110kV bus prot PWMH</text><text x="2918" y="2194.7" font-size="7.2" fill="#e8ecf4" text-anchor="middle" textLength="17.5" lengthAdjust="spacingAndGlyphs">801AL</text><rect x="2507.5" y="2224" width="47.6" height="10.1" fill="#6cf2ec"/><text x="2531.4" y="2230.4" font-size="3.6" fill="#2a6a78" text-anchor="middle" textLength="24" lengthAdjust="spacingAndGlyphs">gocb1[0x1177]</text><rect x="2507.5" y="2238.9" width="47.6" height="10.1" fill="#6cf2ec"/><text x="2531.4" y="2245.3" font-size="3.6" fill="#2a6a78" text-anchor="middle" textLength="24" lengthAdjust="spacingAndGlyphs">gocb2[0x1176]</text><rect x="2507.5" y="2254" width="47.6" height="10.1" fill="#6cf2ec"/><text x="2531.4" y="2260.4" font-size="3.6" fill="#2a6a78" text-anchor="middle" textLength="24" lengthAdjust="spacingAndGlyphs">gocb3[0x1175]</text><rect x="2507.5" y="2269.2" width="47.6" height="10.1" fill="#6cf2ec"/><text x="2531.4" y="2275.6" font-size="3.6" fill="#2a6a78" text-anchor="middle" textLength="24" lengthAdjust="spacingAndGlyphs">gocb4[0x1174]</text><rect x="2507.5" y="2284.3" width="47.6" height="10.1" fill="#6cf2ec"/><text x="2531.4" y="2290.7" font-size="3.6" fill="#2a6a78" text-anchor="middle" textLength="24" lengthAdjust="spacingAndGlyphs">gocb5[0x1173]</text><rect x="2507.5" y="2299.2" width="47.6" height="10.1" fill="#f5cc5c"/><text x="2531.4" y="2305.6" font-size="3.6" fill="#7a5a1a" text-anchor="middle" textLength="26" lengthAdjust="spacingAndGlyphs">smvcb1[0x410C]</text><rect x="2700.6" y="2230.2" width="48.1" height="10.1" fill="#6cf2ec"/><text x="2724.7" y="2236.6" font-size="3.6" fill="#2a6a78" text-anchor="middle" textLength="31" lengthAdjust="spacingAndGlyphs">GO_Gcb1[0x11B7]</text><rect x="2700.6" y="2252.4" width="48.1" height="10.1" fill="#6cf2ec"/><text x="2724.7" y="2258.8" font-size="3.6" fill="#2a6a78" text-anchor="middle" textLength="31" lengthAdjust="spacingAndGlyphs">GO_Gcb1[0x11BD]</text><rect x="2893.9" y="2208.9" width="48.1" height="10.1" fill="#6cf2ec"/><text x="2918" y="2215.3" font-size="3.6" fill="#2a6a78" text-anchor="middle" textLength="31" lengthAdjust="spacingAndGlyphs">GO_Gcb1[0x11A8]</text><path d="M2574,2193.6L2660.3,2193.6" stroke="#7fd0e8" stroke-width="0.7" fill="none"/><path d="M2615.2,2193.6L2619.2,2191.8L2619.2,2195.4Z" fill="#7fd0e8"/><path d="M2574,2203.6L2660.3,2203.6" stroke="#7fd0e8" stroke-width="0.7" fill="none"/><path d="M2615.2,2203.6L2619.2,2201.8L2619.2,2205.4Z" fill="#7fd0e8"/><path d="M2660.3,2193.6 C2689.6,2193.6 2682.8,2235.3 2700.6,2235.3" stroke="#7fd0e8" stroke-width="0.7" fill="none"/><path d="M2660.3,2203.6 C2689.6,2203.6 2682.8,2257.5 2700.6,2257.5" stroke="#7fd0e8" stroke-width="0.7" fill="none"/><path d="M2574,2228.8L2660.3,2228.8" stroke="#2a8a9a" stroke-width="0.8" fill="none"/><path d="M2619.1,2228.8L2615.1,2230.6L2615.1,2227Z" fill="#7fd0e8"/><path d="M2574,2243.7L2660.3,2243.7" stroke="#2a8a9a" stroke-width="0.8" fill="none"/><path d="M2619.1,2243.7L2615.1,2245.5L2615.1,2241.9Z" fill="#7fd0e8"/><path d="M2574,2258.8L2660.3,2258.8" stroke="#2a8a9a" stroke-width="0.8" fill="none"/><path d="M2619.1,2258.8L2615.1,2260.6L2615.1,2257Z" fill="#7fd0e8"/><path d="M2574,2274L2660.3,2274" stroke="#2a8a9a" stroke-width="0.8" fill="none"/><path d="M2619.1,2274L2615.1,2275.8L2615.1,2272.2Z" fill="#7fd0e8"/><path d="M2574,2289.1L2660.3,2289.1" stroke="#2a8a9a" stroke-width="0.8" fill="none"/><path d="M2619.1,2289.1L2615.1,2290.9L2615.1,2287.3Z" fill="#7fd0e8"/><path d="M2574,2304.2L2660.3,2304.2" stroke="#8a8a5a" stroke-width="0.8" fill="none"/><path d="M2619.1,2304.2L2615.1,2306L2615.1,2302.4Z" fill="#f0d060"/><path d="M2789,2213.7L2875.2,2213.7" stroke="#5aa0c0" stroke-width="0.8" fill="none"/><path d="M2830.5,2213.7L2834.5,2211.9L2834.5,2215.5Z" fill="#7fd0e8"/><circle cx="2595.9" cy="2186.5" r="5" fill="#1fa02c"/><path d="M2593.4,2186.5L2598.5,2186.5" stroke="#0c5a16" stroke-width="0.9" fill="none"/><path d="M2595.9,2183.9L2595.9,2189" stroke="#0c5a16" stroke-width="0.9" fill="none"/><circle cx="2595.9" cy="2197.2" r="5" fill="#1fa02c"/><path d="M2593.4,2197.2L2598.5,2197.2" stroke="#0c5a16" stroke-width="0.9" fill="none"/><path d="M2595.9,2194.7L2595.9,2199.8" stroke="#0c5a16" stroke-width="0.9" fill="none"/><circle cx="2595.9" cy="2222" r="5" fill="#1fa02c"/><path d="M2593.4,2222L2598.5,2222" stroke="#0c5a16" stroke-width="0.9" fill="none"/><path d="M2595.9,2219.4L2595.9,2224.5" stroke="#0c5a16" stroke-width="0.9" fill="none"/><circle cx="2595.9" cy="2237.1" r="5" fill="#1fa02c"/><path d="M2593.4,2237.1L2598.5,2237.1" stroke="#0c5a16" stroke-width="0.9" fill="none"/><path d="M2595.9,2234.6L2595.9,2239.6" stroke="#0c5a16" stroke-width="0.9" fill="none"/><circle cx="2595.9" cy="2252.2" r="5" fill="#1fa02c"/><path d="M2593.4,2252.2L2598.5,2252.2" stroke="#0c5a16" stroke-width="0.9" fill="none"/><path d="M2595.9,2249.7L2595.9,2254.7" stroke="#0c5a16" stroke-width="0.9" fill="none"/><circle cx="2595.9" cy="2267.3" r="5" fill="#1fa02c"/><path d="M2593.4,2267.3L2598.5,2267.3" stroke="#0c5a16" stroke-width="0.9" fill="none"/><path d="M2595.9,2264.8L2595.9,2269.8" stroke="#0c5a16" stroke-width="0.9" fill="none"/><circle cx="2595.9" cy="2282.2" r="5" fill="#1fa02c"/><path d="M2593.4,2282.2L2598.5,2282.2" stroke="#0c5a16" stroke-width="0.9" fill="none"/><path d="M2595.9,2279.7L2595.9,2284.7" stroke="#0c5a16" stroke-width="0.9" fill="none"/><circle cx="2595.9" cy="2297.3" r="5" fill="#1fa02c"/><path d="M2593.4,2297.3L2598.5,2297.3" stroke="#0c5a16" stroke-width="0.9" fill="none"/><path d="M2595.9,2294.8L2595.9,2299.8" stroke="#0c5a16" stroke-width="0.9" fill="none"/><circle cx="2853.9" cy="2206.9" r="5" fill="#1fa02c"/><path d="M2851.3,2206.9L2856.4,2206.9" stroke="#0c5a16" stroke-width="0.9" fill="none"/><path d="M2853.9,2204.3L2853.9,2209.4" stroke="#0c5a16" stroke-width="0.9" fill="none"/></svg>
<svg style="left:0;top:0" width="4590" height="2437" viewBox="0 0 4590 2437" font-family="Liberation Sans, sans-serif"><defs><linearGradient id="pn" x1="0" x2="0" y1="0" y2="1"><stop offset="0" stop-color="#0d2a40"/><stop offset="0.1" stop-color="#071320"/><stop offset="0.2" stop-color="#04060c"/><stop offset="1" stop-color="#03050a"/></linearGradient></defs><rect x="3013" y="2091.2" width="574.4" height="257.7" fill="#0a1c38"/><rect x="3035.2" y="2093.5" width="261.8" height="254.2" fill="url(#pn)" stroke="#2488a8" stroke-width="0.7" rx="2"/><text x="3161.6" y="2108.1" font-size="5.6" fill="#c8d4e0" text-anchor="middle" textLength="13" lengthAdjust="spacingAndGlyphs" font-family="Liberation Serif, serif">SCD</text><rect x="3169.3" y="2103.3" width="4.6" height="5" fill="#8a98a8"/><rect x="3174.8" y="2103.3" width="4.6" height="5" fill="#8a98a8"/><rect x="3039.4" y="2342.4" width="85.2" height="1.4" fill="#4a5a6a"/><rect x="3303.4" y="2093.5" width="262.3" height="254.2" fill="url(#pn)" stroke="#2488a8" stroke-width="0.7" rx="2"/><text x="3430" y="2108.1" font-size="5.6" fill="#c8d4e0" text-anchor="middle" textLength="13" lengthAdjust="spacingAndGlyphs" font-family="Liberation Serif, serif">CCD</text><rect x="3437.8" y="2103.3" width="4.6" height="5" fill="#8a98a8"/><rect x="3443.3" y="2103.3" width="4.6" height="5" fill="#8a98a8"/><rect x="3307.6" y="2342.4" width="85.2" height="1.4" fill="#4a5a6a"/><path d="M3037.5,2119.1L3040.7,2119.1L3039.1,2121.4Z" fill="#d0d8e0"/><circle cx="3044.4" cy="2120.3" r="1.8" fill="none" stroke="#f0a020" stroke-width="0.6"/><text x="3049.0" y="2122.3" font-size="6.5" textLength="7.7" lengthAdjust="spacingAndGlyphs"><tspan fill="#f4f6f8">IED</tspan></text><path d="M3043.7,2129.1L3046.9,2129.1L3045.3,2131.3Z" fill="#d0d8e0"/><circle cx="3050.6" cy="2130.2" r="1.8" fill="none" stroke="#f0a020" stroke-width="0.6"/><text x="3055.2" y="2132.3" font-size="6.5" textLength="25.8" lengthAdjust="spacingAndGlyphs"><tspan fill="#f4f6f8">&lt;GOOSEPUB&gt;</tspan></text><path d="M3049.7,2139L3052.9,2139L3051.3,2141.3Z" fill="#d0d8e0"/><circle cx="3056.5" cy="2140.1" r="1.8" fill="none" stroke="#f0a020" stroke-width="0.6"/><text x="3061.1" y="2142.2" font-size="6.5" textLength="108.4" lengthAdjust="spacingAndGlyphs"><tspan fill="#f4f6f8">&lt;GOCBref name="PM2201APIGO/LLN0$GO$gocb0"&gt;</tspan></text><circle cx="3068.9" cy="2150.1" r="1.8" fill="none" stroke="#f0a020" stroke-width="0.6"/><text x="3073.5" y="2152.1" font-size="6.5" textLength="201.2" lengthAdjust="spacingAndGlyphs"><tspan fill="#f4f6f8">&lt;GSEControl appID="PM2201APIGO/LLN0.gocb0" name="gocb0" datSet="dsGOOSE1" type</tspan></text><path d="M3043.7,2158.8L3046.9,2158.8L3045.3,2161.1Z" fill="#d0d8e0"/><circle cx="3050.6" cy="2160" r="1.8" fill="none" stroke="#f0a020" stroke-width="0.6"/><text x="3055.2" y="2162.0" font-size="6.5" textLength="25.8" lengthAdjust="spacingAndGlyphs"><tspan fill="#f4f6f8">&lt;GOOSESUB&gt;</tspan></text><path d="M3049.7,2168.8L3052.9,2168.8L3051.3,2171.1Z" fill="#d0d8e0"/><circle cx="3056.5" cy="2169.9" r="1.8" fill="none" stroke="#f0a020" stroke-width="0.6"/><text x="3061.1" y="2172.0" font-size="6.5" textLength="118.7" lengthAdjust="spacingAndGlyphs"><tspan fill="#f4f6f8">&lt;GOCBref </tspan><tspan fill="#f0a020">name="PL2207APIGO/LLN0$GO$GoCBTrip"</tspan><tspan fill="#f4f6f8"> &gt;</tspan></text><circle cx="3068.9" cy="2179.8" r="1.8" fill="none" stroke="#f0a020" stroke-width="0.6"/><text x="3073.5" y="2181.9" font-size="6.5" textLength="211.4" lengthAdjust="spacingAndGlyphs"><tspan fill="#f4f6f8">&lt;GSEControl </tspan><tspan fill="#f0a020">appID="PL2207APIGO/LLN0.GoCBTrip" name="GoCBTrip" datSet="dsGOOSE"</tspan><tspan fill="#f4f6f8"> confRe</tspan></text><path d="M3055.8,2188.6L3059.1,2188.6L3057.5,2190.9Z" fill="#d0d8e0"/><circle cx="3062.7" cy="2189.8" r="1.8" fill="none" stroke="#f0a020" stroke-width="0.6"/><text x="3067.3" y="2191.8" font-size="6.5" textLength="110.9" lengthAdjust="spacingAndGlyphs"><tspan fill="#f4f6f8">&lt;ConnectedAP </tspan><tspan fill="#f0a020">iedName="PL2207A"</tspan><tspan fill="#f4f6f8"> apName="G1"&gt;</tspan></text><path d="M3062,2198.6L3065.2,2198.6L3063.6,2200.8Z" fill="#d0d8e0"/><circle cx="3068.9" cy="2199.7" r="1.8" fill="none" stroke="#f0a020" stroke-width="0.6"/><text x="3073.5" y="2201.8" font-size="6.5" textLength="98.0" lengthAdjust="spacingAndGlyphs"><tspan fill="#f4f6f8">&lt;GSE ldInst="PIGO" </tspan><tspan fill="#f0a020">cbName="GoCBTrip"</tspan><tspan fill="#f4f6f8"> &gt;</tspan></text><path d="M3068,2208.5L3071.2,2208.5L3069.6,2210.8Z" fill="#d0d8e0"/><circle cx="3074.9" cy="2209.6" r="1.8" fill="none" stroke="#f0a020" stroke-width="0.6"/><text x="3079.4" y="2211.7" font-size="6.5" textLength="23.2" lengthAdjust="spacingAndGlyphs"><tspan fill="#f4f6f8">&lt;Address&gt;</tspan></text><circle cx="3087.2" cy="2219.6" r="1.8" fill="none" stroke="#f0a020" stroke-width="0.6"/><text x="3091.8" y="2221.6" font-size="6.5" textLength="113.5" lengthAdjust="spacingAndGlyphs"><tspan fill="#f4f6f8">&lt;P type="MAC-Address"&gt;</tspan><tspan fill="#f0a020">01-0C-CD-01-10-0B</tspan><tspan fill="#f4f6f8"> &lt;/P&gt;</tspan></text><circle cx="3087.2" cy="2229.5" r="1.8" fill="none" stroke="#f0a020" stroke-width="0.6"/><text x="3091.8" y="2231.6" font-size="6.5" textLength="67.1" lengthAdjust="spacingAndGlyphs"><tspan fill="#f4f6f8">&lt;P </tspan><tspan fill="#f0a020">type="APPID" &gt;100B</tspan><tspan fill="#f4f6f8"> &lt;/P&gt;</tspan></text><circle cx="3087.2" cy="2239.4" r="1.8" fill="none" stroke="#f0a020" stroke-width="0.6"/><text x="3091.8" y="2241.5" font-size="6.5" textLength="80.0" lengthAdjust="spacingAndGlyphs"><tspan fill="#f4f6f8">&lt;P </tspan><tspan fill="#f0a020">type="VLAN-PRIORITY"</tspan><tspan fill="#f4f6f8"> &gt;4 &lt;/P&gt;</tspan></text><path d="M3055.8,2248.2L3059.1,2248.2L3057.5,2250.5Z" fill="#d0d8e0"/><circle cx="3062.7" cy="2249.3" r="1.8" fill="none" stroke="#f0a020" stroke-width="0.6"/><text x="3067.3" y="2251.4" font-size="6.5" textLength="67.1" lengthAdjust="spacingAndGlyphs"><tspan fill="#f4f6f8">&lt;DataSet </tspan><tspan fill="#f0a020">name="dsGOOSE1"</tspan><tspan fill="#f4f6f8"> &gt;</tspan></text><circle cx="3074.9" cy="2259.3" r="1.8" fill="none" stroke="#f0a020" stroke-width="0.6"/><text x="3079.4" y="2261.3" font-size="6.5" textLength="205.5" lengthAdjust="spacingAndGlyphs"><tspan fill="#f4f6f8">&lt;FCDA bType="BOOLEAN" ldInst="PIGO" doName="Tr" </tspan><tspan fill="#f0a020">lnInst="2" prefix="go"</tspan><tspan fill="#f4f6f8"> daName="pi</tspan></text><circle cx="3074.9" cy="2269.2" r="1.8" fill="none" stroke="#f0a020" stroke-width="0.6"/><text x="3079.4" y="2271.3" font-size="6.5" textLength="205.5" lengthAdjust="spacingAndGlyphs"><tspan fill="#f4f6f8">&lt;FCDA bType="BOOLEAN" ldInst="PIGO" doName="Tr" </tspan><tspan fill="#f0a020">lnInst="2" prefix="go"</tspan><tspan fill="#f4f6f8"> daName="pi</tspan></text><circle cx="3074.9" cy="2279.1" r="1.8" fill="none" stroke="#f0a020" stroke-width="0.6"/><text x="3079.4" y="2281.2" font-size="6.5" textLength="205.5" lengthAdjust="spacingAndGlyphs"><tspan fill="#f4f6f8">&lt;FCDA bType="BOOLEAN" ldInst="PIGO" doName="Tr" </tspan><tspan fill="#f0a020">lnInst="2" prefix="go"</tspan><tspan fill="#f4f6f8"> daName="pi</tspan></text><path d="M3068,2287.9L3071.2,2287.9L3069.6,2290.2Z" fill="#d0d8e0"/><circle cx="3074.9" cy="2289.1" r="1.8" fill="none" stroke="#f0a020" stroke-width="0.6"/><text x="3079.4" y="2291.1" font-size="6.5" textLength="205.5" lengthAdjust="spacingAndGlyphs"><tspan fill="#f4f6f8">&lt;FCDA bType="BOOLEAN" ldInst="PIGO" doName="StrBF" </tspan><tspan fill="#f0a020">lnInst="2" prefix="go"</tspan><tspan fill="#f4f6f8"> daName</tspan></text><path d="M3074.2,2297.8L3077.4,2297.8L3075.8,2300.1Z" fill="#d0d8e0"/><circle cx="3081" cy="2299" r="1.8" fill="none" stroke="#f0a020" stroke-width="0.6"/><text x="3085.6" y="2301.1" font-size="6.5" textLength="199.3" lengthAdjust="spacingAndGlyphs"><tspan fill="#f4f6f8">&lt;intAddr </tspan><tspan fill="#f0a020">name="PIGO/GOINGGIO16.SPCSO2.stVal" desc="outlet16_A start failure open"</tspan><tspan fill="#f4f6f8"> &gt;</tspan></text><circle cx="3087.2" cy="2308.9" r="1.8" fill="none" stroke="#f0a020" stroke-width="0.6"/><text x="3091.8" y="2311.0" font-size="6.5" textLength="139.3" lengthAdjust="spacingAndGlyphs"><tspan fill="#f4f6f8">&lt;DAI </tspan><tspan fill="#f0a020">sAddr="GOOSEPin_EN_KI_UNIT16_BRF_A"</tspan><tspan fill="#f4f6f8"> name="stVal"&gt;</tspan></text><path d="M3068,2317.7L3071.2,2317.7L3069.6,2320Z" fill="#d0d8e0"/><circle cx="3074.9" cy="2318.9" r="1.8" fill="none" stroke="#f0a020" stroke-width="0.6"/><text x="3079.4" y="2320.9" font-size="6.5" textLength="205.5" lengthAdjust="spacingAndGlyphs"><tspan fill="#f4f6f8">&lt;FCDA bType="BOOLEAN" ldInst="PIGO" doName="StrBF" </tspan><tspan fill="#f0a020">lnInst="2" prefix="go"</tspan><tspan fill="#f4f6f8"> daName</tspan></text><path d="M3074.2,2327.6L3077.4,2327.6L3075.8,2329.9Z" fill="#d0d8e0"/><circle cx="3081" cy="2328.8" r="1.8" fill="none" stroke="#f0a020" stroke-width="0.6"/><text x="3085.6" y="2330.8" font-size="6.5" textLength="199.3" lengthAdjust="spacingAndGlyphs"><tspan fill="#f4f6f8">&lt;intAddr </tspan><tspan fill="#f0a020">name="PIGO/GOINGGIO16.SPCSO3.stVal" desc="outlet16_A start failure open"</tspan><tspan fill="#f4f6f8"> &gt;</tspan></text><circle cx="3087.2" cy="2338.7" r="1.8" fill="none" stroke="#f0a020" stroke-width="0.6"/><text x="3091.8" y="2340.8" font-size="6.5" textLength="139.3" lengthAdjust="spacingAndGlyphs"><tspan fill="#f4f6f8">&lt;DAI </tspan><tspan fill="#f0a020">sAddr="GOOSEPin_EN_KI_UNIT16_BRF_B"</tspan><tspan fill="#f4f6f8"> name="stVal"&gt;</tspan></text><path d="M3305.7,2119.1L3308.9,2119.1L3307.3,2121.4Z" fill="#d0d8e0"/><circle cx="3312.6" cy="2120.3" r="1.8" fill="none" stroke="#f0a020" stroke-width="0.6"/><text x="3317.2" y="2122.3" font-size="6.5" textLength="7.7" lengthAdjust="spacingAndGlyphs"><tspan fill="#f4f6f8">IED</tspan></text><path d="M3311.9,2129.1L3315.1,2129.1L3313.5,2131.3Z" fill="#d0d8e0"/><circle cx="3318.8" cy="2130.2" r="1.8" fill="none" stroke="#f0a020" stroke-width="0.6"/><text x="3323.4" y="2132.3" font-size="6.5" textLength="25.8" lengthAdjust="spacingAndGlyphs"><tspan fill="#f4f6f8">&lt;GOOSEPUB&gt;</tspan></text><path d="M3317.9,2139L3321.1,2139L3319.5,2141.3Z" fill="#d0d8e0"/><circle cx="3324.7" cy="2140.1" r="1.8" fill="none" stroke="#f0a020" stroke-width="0.6"/><text x="3329.3" y="2142.2" font-size="6.5" textLength="108.4" lengthAdjust="spacingAndGlyphs"><tspan fill="#f4f6f8">&lt;GOCBref name="PM2201APIGO/LLN0$GO$gocb0"&gt;</tspan></text><circle cx="3337.1" cy="2150.1" r="1.8" fill="none" stroke="#f0a020" stroke-width="0.6"/><text x="3341.7" y="2152.1" font-size="6.5" textLength="201.2" lengthAdjust="spacingAndGlyphs"><tspan fill="#f4f6f8">&lt;GSEControl appID="PM2201APIGO/LLN0.gocb0" name="gocb0" datSet="dsGOOSE1" type</tspan></text><path d="M3311.9,2158.8L3315.1,2158.8L3313.5,2161.1Z" fill="#d0d8e0"/><circle cx="3318.8" cy="2160" r="1.8" fill="none" stroke="#f0a020" stroke-width="0.6"/><text x="3323.4" y="2162.0" font-size="6.5" textLength="25.8" lengthAdjust="spacingAndGlyphs"><tspan fill="#f4f6f8">&lt;GOOSESUB&gt;</tspan></text><path d="M3317.9,2168.8L3321.1,2168.8L3319.5,2171.1Z" fill="#d0d8e0"/><circle cx="3324.7" cy="2169.9" r="1.8" fill="none" stroke="#f0a020" stroke-width="0.6"/><text x="3329.3" y="2172.0" font-size="6.5" textLength="110.9" lengthAdjust="spacingAndGlyphs"><tspan fill="#f4f6f8">&lt;GOCBref </tspan><tspan fill="#f0a020">name="PL2204APIGO/LLN0$GO$gocb0"</tspan><tspan fill="#f4f6f8"> &gt;</tspan></text><circle cx="3337.1" cy="2179.8" r="1.8" fill="none" stroke="#f0a020" stroke-width="0.6"/><text x="3341.7" y="2181.9" font-size="6.5" textLength="203.8" lengthAdjust="spacingAndGlyphs"><tspan fill="#f4f6f8">&lt;GSEControl </tspan><tspan fill="#f0a020">appID="PL2204APIGO/LLN0.gocb0" name="gocb0" datSet="dsGOOSE"</tspan><tspan fill="#f4f6f8"> confRe</tspan></text><path d="M3324.1,2188.6L3327.3,2188.6L3325.7,2190.9Z" fill="#d0d8e0"/><circle cx="3330.9" cy="2189.8" r="1.8" fill="none" stroke="#f0a020" stroke-width="0.6"/><text x="3335.5" y="2191.8" font-size="6.5" textLength="110.9" lengthAdjust="spacingAndGlyphs"><tspan fill="#f4f6f8">&lt;ConnectedAP </tspan><tspan fill="#f0a020">iedName="PL2204A"</tspan><tspan fill="#f4f6f8"> apName="G1"&gt;</tspan></text><path d="M3330.2,2198.6L3333.4,2198.6L3331.8,2200.8Z" fill="#d0d8e0"/><circle cx="3337.1" cy="2199.7" r="1.8" fill="none" stroke="#f0a020" stroke-width="0.6"/><text x="3341.7" y="2201.8" font-size="6.5" textLength="90.3" lengthAdjust="spacingAndGlyphs"><tspan fill="#f4f6f8">&lt;GSE ldInst="PIGO" </tspan><tspan fill="#f0a020">cbName="gocb0"</tspan><tspan fill="#f4f6f8"> &gt;</tspan></text><path d="M3336.2,2208.5L3339.4,2208.5L3337.8,2210.8Z" fill="#d0d8e0"/><circle cx="3343.1" cy="2209.6" r="1.8" fill="none" stroke="#f0a020" stroke-width="0.6"/><text x="3347.6" y="2211.7" font-size="6.5" textLength="23.2" lengthAdjust="spacingAndGlyphs"><tspan fill="#f4f6f8">&lt;Address&gt;</tspan></text><circle cx="3355.4" cy="2219.6" r="1.8" fill="none" stroke="#f0a020" stroke-width="0.6"/><text x="3360.0" y="2221.6" font-size="6.5" textLength="113.5" lengthAdjust="spacingAndGlyphs"><tspan fill="#f4f6f8">&lt;P type="MAC-Address"&gt;</tspan><tspan fill="#f0a020">01-0C-CD-01-10-03</tspan><tspan fill="#f4f6f8"> &lt;/P&gt;</tspan></text><circle cx="3355.4" cy="2229.5" r="1.8" fill="none" stroke="#f0a020" stroke-width="0.6"/><text x="3360.0" y="2231.6" font-size="6.5" textLength="80.0" lengthAdjust="spacingAndGlyphs"><tspan fill="#f4f6f8">&lt;P </tspan><tspan fill="#f0a020">type="VLAN-PRIORITY"</tspan><tspan fill="#f4f6f8"> &gt;1 &lt;/P&gt;</tspan></text><circle cx="3355.4" cy="2239.4" r="1.8" fill="none" stroke="#f0a020" stroke-width="0.6"/><text x="3360.0" y="2241.5" font-size="6.5" textLength="67.1" lengthAdjust="spacingAndGlyphs"><tspan fill="#f4f6f8">&lt;P </tspan><tspan fill="#f0a020">type="APPID" &gt;1003</tspan><tspan fill="#f4f6f8"> &lt;/P&gt;</tspan></text><path d="M3324.1,2248.2L3327.3,2248.2L3325.7,2250.5Z" fill="#d0d8e0"/><circle cx="3330.9" cy="2249.3" r="1.8" fill="none" stroke="#f0a020" stroke-width="0.6"/><text x="3335.5" y="2251.4" font-size="6.5" textLength="64.5" lengthAdjust="spacingAndGlyphs"><tspan fill="#f4f6f8">&lt;DataSet </tspan><tspan fill="#f0a020">name="dsGOOSE"</tspan><tspan fill="#f4f6f8"> &gt;</tspan></text><circle cx="3343.1" cy="2259.3" r="1.8" fill="none" stroke="#f0a020" stroke-width="0.6"/><text x="3347.6" y="2261.3" font-size="6.5" textLength="205.5" lengthAdjust="spacingAndGlyphs"><tspan fill="#f4f6f8">&lt;FCDA bType="BOOLEAN" ldInst="PIGO" doName="Tr" </tspan><tspan fill="#f0a020">lnInst="1" prefix="Lin"</tspan><tspan fill="#f4f6f8"> daName="pi</tspan></text><circle cx="3343.1" cy="2269.2" r="1.8" fill="none" stroke="#f0a020" stroke-width="0.6"/><text x="3347.6" y="2271.3" font-size="6.5" textLength="205.5" lengthAdjust="spacingAndGlyphs"><tspan fill="#f4f6f8">&lt;FCDA bType="BOOLEAN" ldInst="PIGO" doName="Tr" </tspan><tspan fill="#f0a020">lnInst="1" prefix="Lin"</tspan><tspan fill="#f4f6f8"> daName="pi</tspan></text><circle cx="3343.1" cy="2279.1" r="1.8" fill="none" stroke="#f0a020" stroke-width="0.6"/><text x="3347.6" y="2281.2" font-size="6.5" textLength="205.5" lengthAdjust="spacingAndGlyphs"><tspan fill="#f4f6f8">&lt;FCDA bType="BOOLEAN" ldInst="PIGO" doName="Tr" </tspan><tspan fill="#f0a020">lnInst="1" prefix="Lin"</tspan><tspan fill="#f4f6f8"> daName="pi</tspan></text><path d="M3336.2,2287.9L3339.4,2287.9L3337.8,2290.2Z" fill="#d0d8e0"/><circle cx="3343.1" cy="2289.1" r="1.8" fill="none" stroke="#f0a020" stroke-width="0.6"/><text x="3347.6" y="2291.1" font-size="6.5" textLength="205.5" lengthAdjust="spacingAndGlyphs"><tspan fill="#f4f6f8">&lt;FCDA bType="BOOLEAN" ldInst="PIGO" doName="StrBF" </tspan><tspan fill="#f0a020">lnInst="1" prefix="Lin"</tspan><tspan fill="#f4f6f8"> daName</tspan></text><path d="M3342.4,2297.8L3345.6,2297.8L3344,2300.1Z" fill="#d0d8e0"/><circle cx="3349.3" cy="2299" r="1.8" fill="none" stroke="#f0a020" stroke-width="0.6"/><text x="3353.8" y="2301.1" font-size="6.5" textLength="199.3" lengthAdjust="spacingAndGlyphs"><tspan fill="#f4f6f8">&lt;intAddr </tspan><tspan fill="#f0a020">name="PIGO/GOINGGIO09.SPCSO2.stVal" desc="outlet09_A start failure open"</tspan><tspan fill="#f4f6f8"> &gt;</tspan></text><circle cx="3355.4" cy="2308.9" r="1.8" fill="none" stroke="#f0a020" stroke-width="0.6"/><text x="3360.0" y="2311.0" font-size="6.5" textLength="139.3" lengthAdjust="spacingAndGlyphs"><tspan fill="#f4f6f8">&lt;DAI </tspan><tspan fill="#f0a020">sAddr="GOOSEPin_EN_KI_UNIT09_BRF_A"</tspan><tspan fill="#f4f6f8"> name="stVal"&gt;</tspan></text><path d="M3336.2,2317.7L3339.4,2317.7L3337.8,2320Z" fill="#d0d8e0"/><circle cx="3343.1" cy="2318.9" r="1.8" fill="none" stroke="#f0a020" stroke-width="0.6"/><text x="3347.6" y="2320.9" font-size="6.5" textLength="205.5" lengthAdjust="spacingAndGlyphs"><tspan fill="#f4f6f8">&lt;FCDA bType="BOOLEAN" ldInst="PIGO" doName="StrBF" </tspan><tspan fill="#f0a020">lnInst="1" prefix="Lin"</tspan><tspan fill="#f4f6f8"> daName</tspan></text><path d="M3342.4,2327.6L3345.6,2327.6L3344,2329.9Z" fill="#d0d8e0"/><circle cx="3349.3" cy="2328.8" r="1.8" fill="none" stroke="#f0a020" stroke-width="0.6"/><text x="3353.8" y="2330.8" font-size="6.5" textLength="199.3" lengthAdjust="spacingAndGlyphs"><tspan fill="#f4f6f8">&lt;intAddr </tspan><tspan fill="#f0a020">name="PIGO/GOINGGIO09.SPCSO3.stVal" desc="outlet09_A start failure open"</tspan><tspan fill="#f4f6f8"> &gt;</tspan></text><circle cx="3355.4" cy="2338.7" r="1.8" fill="none" stroke="#f0a020" stroke-width="0.6"/><text x="3360.0" y="2340.8" font-size="6.5" textLength="139.3" lengthAdjust="spacingAndGlyphs"><tspan fill="#f4f6f8">&lt;DAI </tspan><tspan fill="#f0a020">sAddr="GOOSEPin_EN_KI_UNIT09_BRF_B"</tspan><tspan fill="#f4f6f8"> name="stVal"&gt;</tspan></text><rect x="3093.2" y="2165.6" width="113.8" height="9.2" fill="none" stroke="#c02828" stroke-width="0.6"/><rect x="3212.3" y="2255.6" width="60.7" height="38.9" fill="none" stroke="#c02828" stroke-width="0.6"/><rect x="3360" y="2165.6" width="114.5" height="9.2" fill="none" stroke="#c02828" stroke-width="0.6"/><rect x="3479.1" y="2255.6" width="64.1" height="36.6" fill="none" stroke="#c02828" stroke-width="0.6"/><rect x="3047.6" y="2115.7" width="7.8" height="9.6" fill="none" stroke="#c02828" stroke-width="0.6"/><path d="M3207,2170.2L3239.1,2170.2" stroke="#c02828" stroke-width="0.6" fill="none"/><path d="M3273,2275.1L3331.4,2275.1" stroke="#c02828" stroke-width="0.6" fill="none"/><path d="M3420.7,2275.1L3479.1,2275.1" stroke="#c02828" stroke-width="0.6" fill="none"/><rect x="3068" y="2113.2" width="147.7" height="13.5" fill="#fff" rx="3"/><text x="3141.9" y="2123.5" font-size="9.8" fill="#e02a2a" text-anchor="middle" textLength="134" lengthAdjust="spacingAndGlyphs" font-weight="bold">Differential identification</text><rect x="3239.1" y="2165.2" width="90" height="13.3" fill="#fff" rx="3"/><text x="3284.1" y="2175.2" font-size="9.8" fill="#e02a2a" text-anchor="middle" textLength="76.3" lengthAdjust="spacingAndGlyphs" font-weight="bold">Differential Text</text><rect x="3331.4" y="2269.4" width="89.3" height="13.1" fill="#fff" rx="3"/><text x="3376" y="2279.2" font-size="9.8" fill="#e02a2a" text-anchor="middle" textLength="75.6" lengthAdjust="spacingAndGlyphs" font-weight="bold">Differential Text</text></svg>
<svg style="left:0;top:0" width="4590" height="2437" viewBox="0 0 4590 2437" font-family="Liberation Sans, sans-serif"><defs><linearGradient id="rbg" x1="0" x2="1" y1="0" y2="0"><stop offset="0" stop-color="#e3e8ea"/><stop offset="0.55" stop-color="#dfe5e7"/><stop offset="0.8" stop-color="#eef1f2"/><stop offset="1" stop-color="#f1f3f4"/></linearGradient><linearGradient id="tban" x1="0" x2="1" y1="0" y2="1"><stop offset="0" stop-color="#0e6a70"/><stop offset="1" stop-color="#1c8c8a"/></linearGradient><pattern id="dots" width="3.2" height="3.2" patternUnits="userSpaceOnUse"><circle cx="1.2" cy="1.2" r="0.75" fill="#cdd5d8"/></pattern></defs><rect x="3618.6" y="2068.1" width="850.4" height="302.2" fill="url(#rbg)"/><ellipse cx="4288.2" cy="2142.7" rx="67" ry="40.2" fill="url(#dots)"/><ellipse cx="4390.9" cy="2187.3" rx="53.6" ry="49.1" fill="url(#dots)"/><ellipse cx="4252.5" cy="2254.3" rx="40.2" ry="49.1" fill="url(#dots)"/><ellipse cx="4422.1" cy="2290" rx="31.2" ry="26.8" fill="url(#dots)"/><ellipse cx="4198.9" cy="2156.1" rx="40.2" ry="31.2" fill="url(#dots)"/><path d="M3982.4,2370.4L4002.5,2272.1L4073.9,2249.8L4080.6,2370.4Z" fill="#3a9aa0" opacity="0.55"/><path d="M3966.8,2359.2L3989.1,2348L3982.4,2370.4L3966.8,2370.4Z" fill="#2a8a92" opacity="0.7"/><path d="M4002.5,2272.1L4020.4,2209.6L4073.9,2249.8Z" fill="#8cc4c8" opacity="0.5"/><path d="M3810.5,2068.1L4109.6,2068.1L4056.1,2098L3877.5,2102.5Z" fill="#eef2f3" opacity="0.8"/><path d="M4198.9,2218.6L4248,2068.1L4109.6,2068.1L4056.1,2098Z" fill="#e9edee" opacity="0.7"/><path d="M4080.6,2370.4L4198.9,2218.6L4265.9,2370.4Z" fill="#e6eaec" opacity="0.8"/><path d="M4073.9,2249.8L4198.9,2218.6" stroke="#f4f6f7" stroke-width="0.8" fill="none"/><path d="M4198.9,2218.6L4469,2352.5" stroke="#f4f6f7" stroke-width="0.8" fill="none"/><path d="M4198.9,2218.6L4225.7,2370.4" stroke="#f4f6f7" stroke-width="0.6" fill="none"/><path d="M4047.1,2100.3L4052.5,2086.9L4058.3,2100.3Z" fill="#5aa0a8" opacity="0.7"/><rect x="3643.1" y="2094.5" width="170.5" height="253.6" fill="#e8eef0" stroke="#2a8a92" stroke-width="0.9"/><rect x="3649.8" y="2101.6" width="156.2" height="213.8" fill="#fff"/><rect x="3643.1" y="2315.9" width="170.5" height="32.1" fill="#117f86"/><text x="3728.4" y="2335.5" font-size="10.5" fill="#fff" text-anchor="middle" textLength="44.8" lengthAdjust="spacingAndGlyphs">Overview</text><rect x="3825.3" y="2094.5" width="170.5" height="253.6" fill="#e8eef0" stroke="#2a8a92" stroke-width="0.9"/><rect x="3832" y="2101.6" width="156.2" height="213.8" fill="#fff"/><rect x="3825.3" y="2315.9" width="170.5" height="32.1" fill="#117f86"/><text x="3910.5" y="2335.5" font-size="10.5" fill="#fff" text-anchor="middle" textLength="95.2" lengthAdjust="spacingAndGlyphs">Problem  analysis</text><rect x="4008.3" y="2094.5" width="194.2" height="253.6" fill="#e8eef0" stroke="#2a8a92" stroke-width="0.9"/><rect x="4015" y="2101.6" width="180.8" height="213.8" fill="#fff"/><rect x="4008.3" y="2315.9" width="194.2" height="32.1" fill="#117f86"/><text x="4105.4" y="2329.3" font-size="10.5" fill="#fff" text-anchor="middle" textLength="102.6" lengthAdjust="spacingAndGlyphs">Main wiring diagram</text><text x="4105.4" y="2343.6" font-size="10.5" fill="#fff" text-anchor="middle" textLength="108" lengthAdjust="spacingAndGlyphs">and detailed results</text><rect x="3667.7" y="2112.8" width="15.6" height="3.1" fill="#333"/><rect x="3674.4" y="2125.7" width="126.3" height="1.3" fill="#9aa2a6"/><rect x="3674.4" y="2132.4" width="75.8" height="1.3" fill="#9aa2a6"/><rect x="3667.7" y="2137.3" width="123.7" height="20.5" fill="#fff" stroke="#777" stroke-width="0.4"/><path d="M3667.7,2147.6L3791.3,2147.6" stroke="#888" stroke-width="0.35" fill="none"/><path d="M3692.4,2137.3L3692.4,2157.9" stroke="#888" stroke-width="0.35" fill="none"/><path d="M3717.1,2137.3L3717.1,2157.9" stroke="#888" stroke-width="0.35" fill="none"/><path d="M3741.9,2137.3L3741.9,2157.9" stroke="#888" stroke-width="0.35" fill="none"/><path d="M3766.6,2137.3L3766.6,2157.9" stroke="#888" stroke-width="0.35" fill="none"/><rect x="3674.7" y="2141.6" width="10.7" height="1.8" fill="#8a9094"/><rect x="3699.4" y="2141.6" width="10.7" height="1.8" fill="#8a9094"/><rect x="3724.2" y="2141.6" width="10.7" height="1.8" fill="#8a9094"/><rect x="3748.9" y="2141.6" width="10.7" height="1.8" fill="#8a9094"/><rect x="3773.6" y="2141.6" width="10.7" height="1.8" fill="#8a9094"/><rect x="3674.7" y="2151.8" width="10.7" height="1.8" fill="#8a9094"/><rect x="3699.4" y="2151.8" width="10.7" height="1.8" fill="#8a9094"/><rect x="3724.2" y="2151.8" width="10.7" height="1.8" fill="#8a9094"/><rect x="3748.9" y="2151.8" width="10.7" height="1.8" fill="#8a9094"/><rect x="3773.6" y="2151.8" width="10.7" height="1.8" fill="#8a9094"/><rect x="3674.4" y="2160.5" width="62.9" height="1.3" fill="#9aa2a6"/><rect x="3667.7" y="2165" width="123.7" height="20.1" fill="#fff" stroke="#777" stroke-width="0.4"/><path d="M3667.7,2175L3791.3,2175" stroke="#888" stroke-width="0.35" fill="none"/><path d="M3692.4,2165L3692.4,2185.1" stroke="#888" stroke-width="0.35" fill="none"/><path d="M3717.1,2165L3717.1,2185.1" stroke="#888" stroke-width="0.35" fill="none"/><path d="M3741.9,2165L3741.9,2185.1" stroke="#888" stroke-width="0.35" fill="none"/><path d="M3766.6,2165L3766.6,2185.1" stroke="#888" stroke-width="0.35" fill="none"/><rect x="3674.7" y="2169.1" width="10.7" height="1.8" fill="#8a9094"/><rect x="3699.4" y="2169.1" width="10.7" height="1.8" fill="#8a9094"/><rect x="3724.2" y="2169.1" width="10.7" height="1.8" fill="#8a9094"/><rect x="3748.9" y="2169.1" width="10.7" height="1.8" fill="#8a9094"/><rect x="3773.6" y="2169.1" width="10.7" height="1.8" fill="#8a9094"/><rect x="3674.7" y="2179.2" width="10.7" height="1.8" fill="#8a9094"/><rect x="3699.4" y="2179.2" width="10.7" height="1.8" fill="#8a9094"/><rect x="3724.2" y="2179.2" width="10.7" height="1.8" fill="#8a9094"/><rect x="3748.9" y="2179.2" width="10.7" height="1.8" fill="#8a9094"/><rect x="3773.6" y="2179.2" width="10.7" height="1.8" fill="#8a9094"/><rect x="3667.7" y="2192.7" width="32.1" height="3.1" fill="#333"/><rect x="3667.7" y="2206.1" width="22.3" height="2.7" fill="#333"/><rect x="3667.7" y="2215.4" width="123.7" height="27.7" fill="#fff" stroke="#777" stroke-width="0.4"/><path d="M3667.7,2222.4L3791.3,2222.4" stroke="#888" stroke-width="0.35" fill="none"/><path d="M3667.7,2229.3L3791.3,2229.3" stroke="#888" stroke-width="0.35" fill="none"/><path d="M3667.7,2236.2L3791.3,2236.2" stroke="#888" stroke-width="0.35" fill="none"/><path d="M3685.3,2215.4L3685.3,2243.1" stroke="#888" stroke-width="0.35" fill="none"/><path d="M3703,2215.4L3703,2243.1" stroke="#888" stroke-width="0.35" fill="none"/><path d="M3720.7,2215.4L3720.7,2243.1" stroke="#888" stroke-width="0.35" fill="none"/><path d="M3738.3,2215.4L3738.3,2243.1" stroke="#888" stroke-width="0.35" fill="none"/><path d="M3756,2215.4L3756,2243.1" stroke="#888" stroke-width="0.35" fill="none"/><path d="M3773.7,2215.4L3773.7,2243.1" stroke="#888" stroke-width="0.35" fill="none"/><rect x="3671.2" y="2218" width="10.7" height="1.8" fill="#8a9094"/><rect x="3688.8" y="2218" width="10.7" height="1.8" fill="#8a9094"/><rect x="3706.5" y="2218" width="10.7" height="1.8" fill="#8a9094"/><rect x="3724.2" y="2218" width="10.7" height="1.8" fill="#8a9094"/><rect x="3741.8" y="2218" width="10.7" height="1.8" fill="#8a9094"/><rect x="3759.5" y="2218" width="10.7" height="1.8" fill="#8a9094"/><rect x="3777.1" y="2218" width="10.7" height="1.8" fill="#8a9094"/><rect x="3671.2" y="2224.9" width="10.7" height="1.8" fill="#8a9094"/><rect x="3688.8" y="2224.9" width="10.7" height="1.8" fill="#8a9094"/><rect x="3706.5" y="2224.9" width="10.7" height="1.8" fill="#8a9094"/><rect x="3724.2" y="2224.9" width="10.7" height="1.8" fill="#8a9094"/><rect x="3741.8" y="2224.9" width="10.7" height="1.8" fill="#8a9094"/><rect x="3759.5" y="2224.9" width="10.7" height="1.8" fill="#8a9094"/><rect x="3777.1" y="2224.9" width="10.7" height="1.8" fill="#8a9094"/><rect x="3671.2" y="2231.9" width="10.7" height="1.8" fill="#8a9094"/><rect x="3688.8" y="2231.9" width="10.7" height="1.8" fill="#8a9094"/><rect x="3706.5" y="2231.9" width="10.7" height="1.8" fill="#8a9094"/><rect x="3724.2" y="2231.9" width="10.7" height="1.8" fill="#8a9094"/><rect x="3741.8" y="2231.9" width="10.7" height="1.8" fill="#8a9094"/><rect x="3759.5" y="2231.9" width="10.7" height="1.8" fill="#8a9094"/><rect x="3777.1" y="2231.9" width="10.7" height="1.8" fill="#8a9094"/><rect x="3671.2" y="2238.8" width="10.7" height="1.8" fill="#8a9094"/><rect x="3688.8" y="2238.8" width="10.7" height="1.8" fill="#8a9094"/><rect x="3706.5" y="2238.8" width="10.7" height="1.8" fill="#8a9094"/><rect x="3724.2" y="2238.8" width="10.7" height="1.8" fill="#8a9094"/><rect x="3741.8" y="2238.8" width="10.7" height="1.8" fill="#8a9094"/><rect x="3759.5" y="2238.8" width="10.7" height="1.8" fill="#8a9094"/><rect x="3777.1" y="2238.8" width="10.7" height="1.8" fill="#8a9094"/><rect x="3667.7" y="2243.1" width="123.7" height="20.1" fill="#fff" stroke="#777" stroke-width="0.4"/><path d="M3667.7,2249.8L3791.3,2249.8" stroke="#888" stroke-width="0.35" fill="none"/><path d="M3667.7,2256.5L3791.3,2256.5" stroke="#888" stroke-width="0.35" fill="none"/><path d="M3685.3,2243.1L3685.3,2263.2" stroke="#888" stroke-width="0.35" fill="none"/><path d="M3703,2243.1L3703,2263.2" stroke="#888" stroke-width="0.35" fill="none"/><path d="M3720.7,2243.1L3720.7,2263.2" stroke="#888" stroke-width="0.35" fill="none"/><path d="M3738.3,2243.1L3738.3,2263.2" stroke="#888" stroke-width="0.35" fill="none"/><path d="M3756,2243.1L3756,2263.2" stroke="#888" stroke-width="0.35" fill="none"/><path d="M3773.7,2243.1L3773.7,2263.2" stroke="#888" stroke-width="0.35" fill="none"/><rect x="3671.2" y="2245.6" width="10.7" height="1.8" fill="#8a9094"/><rect x="3688.8" y="2245.6" width="10.7" height="1.8" fill="#8a9094"/><rect x="3706.5" y="2245.6" width="10.7" height="1.8" fill="#8a9094"/><rect x="3724.2" y="2245.6" width="10.7" height="1.8" fill="#8a9094"/><rect x="3741.8" y="2245.6" width="10.7" height="1.8" fill="#8a9094"/><rect x="3759.5" y="2245.6" width="10.7" height="1.8" fill="#8a9094"/><rect x="3777.1" y="2245.6" width="10.7" height="1.8" fill="#8a9094"/><rect x="3671.2" y="2252.3" width="10.7" height="1.8" fill="#8a9094"/><rect x="3688.8" y="2252.3" width="10.7" height="1.8" fill="#8a9094"/><rect x="3706.5" y="2252.3" width="10.7" height="1.8" fill="#8a9094"/><rect x="3724.2" y="2252.3" width="10.7" height="1.8" fill="#8a9094"/><rect x="3741.8" y="2252.3" width="10.7" height="1.8" fill="#8a9094"/><rect x="3759.5" y="2252.3" width="10.7" height="1.8" fill="#8a9094"/><rect x="3777.1" y="2252.3" width="10.7" height="1.8" fill="#8a9094"/><rect x="3671.2" y="2259" width="10.7" height="1.8" fill="#8a9094"/><rect x="3688.8" y="2259" width="10.7" height="1.8" fill="#8a9094"/><rect x="3706.5" y="2259" width="10.7" height="1.8" fill="#8a9094"/><rect x="3724.2" y="2259" width="10.7" height="1.8" fill="#8a9094"/><rect x="3741.8" y="2259" width="10.7" height="1.8" fill="#8a9094"/><rect x="3759.5" y="2259" width="10.7" height="1.8" fill="#8a9094"/><rect x="3777.1" y="2259" width="10.7" height="1.8" fill="#8a9094"/><rect x="3667.7" y="2266.8" width="120.5" height="1.3" fill="#9aa2a6"/><rect x="3667.7" y="2273.3" width="120.5" height="1.3" fill="#9aa2a6"/><rect x="3667.7" y="2279.7" width="120.5" height="1.3" fill="#9aa2a6"/><rect x="3667.7" y="2286.2" width="120.5" height="1.3" fill="#9aa2a6"/><rect x="3667.7" y="2292.7" width="120.5" height="1.3" fill="#9aa2a6"/><rect x="3667.7" y="2299.2" width="72.3" height="1.3" fill="#9aa2a6"/><rect x="3847.6" y="2114.6" width="23.2" height="3.1" fill="#333"/><rect x="3847.6" y="2126.2" width="25.4" height="2.7" fill="#333"/><rect x="3847.6" y="2148.5" width="24.6" height="2.7" fill="#333"/><rect x="3847.6" y="2159.6" width="120.5" height="1.3" fill="#9aa2a6"/><rect x="3847.6" y="2166.4" width="120.5" height="1.3" fill="#9aa2a6"/><rect x="3847.6" y="2173.2" width="120.5" height="1.3" fill="#9aa2a6"/><rect x="3847.6" y="2180" width="120.5" height="1.3" fill="#9aa2a6"/><rect x="3847.6" y="2186.8" width="120.5" height="1.3" fill="#9aa2a6"/><rect x="3847.6" y="2193.6" width="120.5" height="1.3" fill="#9aa2a6"/><rect x="3847.6" y="2200.4" width="72.3" height="1.3" fill="#9aa2a6"/><rect x="3847.6" y="2198.5" width="120.5" height="49.1" fill="#fff" stroke="#777" stroke-width="0.4"/><path d="M3847.6,2210.8L3968.1,2210.8" stroke="#888" stroke-width="0.35" fill="none"/><path d="M3847.6,2223L3968.1,2223" stroke="#888" stroke-width="0.35" fill="none"/><path d="M3847.6,2235.3L3968.1,2235.3" stroke="#888" stroke-width="0.35" fill="none"/><path d="M3871.7,2198.5L3871.7,2247.6" stroke="#888" stroke-width="0.35" fill="none"/><path d="M3895.8,2198.5L3895.8,2247.6" stroke="#888" stroke-width="0.35" fill="none"/><path d="M3919.9,2198.5L3919.9,2247.6" stroke="#888" stroke-width="0.35" fill="none"/><path d="M3944,2198.5L3944,2247.6" stroke="#888" stroke-width="0.35" fill="none"/><rect x="3854.3" y="2203.7" width="10.7" height="1.8" fill="#8a9094"/><rect x="3878.4" y="2203.7" width="10.7" height="1.8" fill="#8a9094"/><rect x="3902.5" y="2203.7" width="10.7" height="1.8" fill="#8a9094"/><rect x="3926.6" y="2203.7" width="10.7" height="1.8" fill="#8a9094"/><rect x="3950.7" y="2203.7" width="10.7" height="1.8" fill="#8a9094"/><rect x="3854.3" y="2216" width="10.7" height="1.8" fill="#8a9094"/><rect x="3878.4" y="2216" width="10.7" height="1.8" fill="#8a9094"/><rect x="3902.5" y="2216" width="10.7" height="1.8" fill="#8a9094"/><rect x="3926.6" y="2216" width="10.7" height="1.8" fill="#8a9094"/><rect x="3950.7" y="2216" width="10.7" height="1.8" fill="#8a9094"/><rect x="3854.3" y="2228.3" width="10.7" height="1.8" fill="#8a9094"/><rect x="3878.4" y="2228.3" width="10.7" height="1.8" fill="#8a9094"/><rect x="3902.5" y="2228.3" width="10.7" height="1.8" fill="#8a9094"/><rect x="3926.6" y="2228.3" width="10.7" height="1.8" fill="#8a9094"/><rect x="3950.7" y="2228.3" width="10.7" height="1.8" fill="#8a9094"/><rect x="3854.3" y="2240.6" width="10.7" height="1.8" fill="#8a9094"/><rect x="3878.4" y="2240.6" width="10.7" height="1.8" fill="#8a9094"/><rect x="3902.5" y="2240.6" width="10.7" height="1.8" fill="#8a9094"/><rect x="3926.6" y="2240.6" width="10.7" height="1.8" fill="#8a9094"/><rect x="3950.7" y="2240.6" width="10.7" height="1.8" fill="#8a9094"/><rect x="3847.6" y="2249.8" width="120.5" height="1.3" fill="#9aa2a6"/><rect x="3847.6" y="2256.6" width="120.5" height="1.3" fill="#9aa2a6"/><rect x="3847.6" y="2263.4" width="120.5" height="1.3" fill="#9aa2a6"/><rect x="3847.6" y="2270.2" width="120.5" height="1.3" fill="#9aa2a6"/><rect x="3847.6" y="2277" width="120.5" height="1.3" fill="#9aa2a6"/><rect x="3847.6" y="2283.8" width="120.5" height="1.3" fill="#9aa2a6"/><rect x="3847.6" y="2290.5" width="72.3" height="1.3" fill="#9aa2a6"/><rect x="3847.6" y="2289.1" width="120.5" height="20.1" fill="#fff" stroke="#777" stroke-width="0.4"/><path d="M3847.6,2299.2L3968.1,2299.2" stroke="#888" stroke-width="0.35" fill="none"/><path d="M3871.7,2289.1L3871.7,2309.2" stroke="#888" stroke-width="0.35" fill="none"/><path d="M3895.8,2289.1L3895.8,2309.2" stroke="#888" stroke-width="0.35" fill="none"/><path d="M3919.9,2289.1L3919.9,2309.2" stroke="#888" stroke-width="0.35" fill="none"/><path d="M3944,2289.1L3944,2309.2" stroke="#888" stroke-width="0.35" fill="none"/><rect x="3854.3" y="2293.2" width="10.7" height="1.8" fill="#8a9094"/><rect x="3878.4" y="2293.2" width="10.7" height="1.8" fill="#8a9094"/><rect x="3902.5" y="2293.2" width="10.7" height="1.8" fill="#8a9094"/><rect x="3926.6" y="2293.2" width="10.7" height="1.8" fill="#8a9094"/><rect x="3950.7" y="2293.2" width="10.7" height="1.8" fill="#8a9094"/><rect x="3854.3" y="2303.3" width="10.7" height="1.8" fill="#8a9094"/><rect x="3878.4" y="2303.3" width="10.7" height="1.8" fill="#8a9094"/><rect x="3902.5" y="2303.3" width="10.7" height="1.8" fill="#8a9094"/><rect x="3926.6" y="2303.3" width="10.7" height="1.8" fill="#8a9094"/><rect x="3950.7" y="2303.3" width="10.7" height="1.8" fill="#8a9094"/><rect x="3857.4" y="2311.4" width="66.4" height="1.3" fill="#9aa2a6"/><rect x="4028.4" y="2110.5" width="18.8" height="2.2" fill="#555"/><path d="M4033.8,2141.8L4172.1,2141.8" stroke="#d03030" stroke-width="1.2" fill="none"/><path d="M4033.8,2143.6L4087.3,2143.6" stroke="#333" stroke-width="0.8" fill="none"/><path d="M4028.4,2171.7L4176.6,2171.7" stroke="#d03030" stroke-width="1.2" fill="none"/><path d="M4028.4,2173.9L4176.6,2173.9" stroke="#e8a0a0" stroke-width="0.8" fill="none"/><path d="M4036,2127.1L4036,2141.8" stroke="#e0c040" stroke-width="0.6" fill="none"/><rect x="4034.6" y="2131.1" width="2.7" height="3.6" fill="#a8d870"/><path d="M4036,2173.9L4036,2186.4" stroke="#e0c040" stroke-width="0.6" fill="none"/><rect x="4034.6" y="2177.5" width="2.7" height="4.5" fill="#a8d870"/><path d="M4046.2,2127.1L4046.2,2141.8" stroke="#8fc84a" stroke-width="0.6" fill="none"/><rect x="4044.9" y="2131.1" width="2.7" height="3.6" fill="#a8d870"/><path d="M4046.2,2173.9L4046.2,2186.4" stroke="#8fc84a" stroke-width="0.6" fill="none"/><rect x="4044.9" y="2177.5" width="2.7" height="4.5" fill="#a8d870"/><path d="M4056.5,2127.1L4056.5,2141.8" stroke="#8fc84a" stroke-width="0.6" fill="none"/><rect x="4055.2" y="2131.1" width="2.7" height="3.6" fill="#a8d870"/><path d="M4056.5,2173.9L4056.5,2186.4" stroke="#8fc84a" stroke-width="0.6" fill="none"/><rect x="4055.2" y="2177.5" width="2.7" height="4.5" fill="#a8d870"/><path d="M4066.8,2127.1L4066.8,2141.8" stroke="#e0c040" stroke-width="0.6" fill="none"/><rect x="4065.4" y="2131.1" width="2.7" height="3.6" fill="#a8d870"/><path d="M4066.8,2173.9L4066.8,2186.4" stroke="#8fc84a" stroke-width="0.6" fill="none"/><rect x="4065.4" y="2177.5" width="2.7" height="4.5" fill="#a8d870"/><path d="M4077.1,2127.1L4077.1,2141.8" stroke="#8fc84a" stroke-width="0.6" fill="none"/><rect x="4075.7" y="2131.1" width="2.7" height="3.6" fill="#a8d870"/><path d="M4077.1,2173.9L4077.1,2186.4" stroke="#e0c040" stroke-width="0.6" fill="none"/><rect x="4075.7" y="2177.5" width="2.7" height="4.5" fill="#a8d870"/><path d="M4087.3,2127.1L4087.3,2141.8" stroke="#8fc84a" stroke-width="0.6" fill="none"/><rect x="4086" y="2131.1" width="2.7" height="3.6" fill="#a8d870"/><path d="M4087.3,2173.9L4087.3,2186.4" stroke="#8fc84a" stroke-width="0.6" fill="none"/><rect x="4086" y="2177.5" width="2.7" height="4.5" fill="#a8d870"/><path d="M4097.6,2127.1L4097.6,2141.8" stroke="#e0c040" stroke-width="0.6" fill="none"/><rect x="4096.2" y="2131.1" width="2.7" height="3.6" fill="#a8d870"/><path d="M4097.6,2173.9L4097.6,2186.4" stroke="#8fc84a" stroke-width="0.6" fill="none"/><rect x="4096.2" y="2177.5" width="2.7" height="4.5" fill="#a8d870"/><path d="M4107.9,2127.1L4107.9,2141.8" stroke="#8fc84a" stroke-width="0.6" fill="none"/><rect x="4106.5" y="2131.1" width="2.7" height="3.6" fill="#a8d870"/><path d="M4107.9,2173.9L4107.9,2186.4" stroke="#8fc84a" stroke-width="0.6" fill="none"/><rect x="4106.5" y="2177.5" width="2.7" height="4.5" fill="#a8d870"/><path d="M4118.1,2127.1L4118.1,2141.8" stroke="#8fc84a" stroke-width="0.6" fill="none"/><rect x="4116.8" y="2131.1" width="2.7" height="3.6" fill="#a8d870"/><path d="M4118.1,2173.9L4118.1,2186.4" stroke="#e0c040" stroke-width="0.6" fill="none"/><rect x="4116.8" y="2177.5" width="2.7" height="4.5" fill="#a8d870"/><path d="M4128.4,2127.1L4128.4,2141.8" stroke="#e0c040" stroke-width="0.6" fill="none"/><rect x="4127.1" y="2131.1" width="2.7" height="3.6" fill="#a8d870"/><path d="M4128.4,2173.9L4128.4,2186.4" stroke="#8fc84a" stroke-width="0.6" fill="none"/><rect x="4127.1" y="2177.5" width="2.7" height="4.5" fill="#a8d870"/><path d="M4138.7,2127.1L4138.7,2141.8" stroke="#8fc84a" stroke-width="0.6" fill="none"/><rect x="4137.3" y="2131.1" width="2.7" height="3.6" fill="#a8d870"/><path d="M4138.7,2173.9L4138.7,2186.4" stroke="#8fc84a" stroke-width="0.6" fill="none"/><rect x="4137.3" y="2177.5" width="2.7" height="4.5" fill="#a8d870"/><path d="M4148.9,2127.1L4148.9,2141.8" stroke="#8fc84a" stroke-width="0.6" fill="none"/><rect x="4147.6" y="2131.1" width="2.7" height="3.6" fill="#a8d870"/><path d="M4148.9,2173.9L4148.9,2186.4" stroke="#8fc84a" stroke-width="0.6" fill="none"/><rect x="4147.6" y="2177.5" width="2.7" height="4.5" fill="#a8d870"/><path d="M4159.2,2127.1L4159.2,2141.8" stroke="#e0c040" stroke-width="0.6" fill="none"/><rect x="4157.9" y="2131.1" width="2.7" height="3.6" fill="#a8d870"/><path d="M4159.2,2173.9L4159.2,2186.4" stroke="#e0c040" stroke-width="0.6" fill="none"/><rect x="4157.9" y="2177.5" width="2.7" height="4.5" fill="#a8d870"/><path d="M4169.5,2127.1L4169.5,2141.8" stroke="#8fc84a" stroke-width="0.6" fill="none"/><rect x="4168.1" y="2131.1" width="2.7" height="3.6" fill="#a8d870"/><path d="M4169.5,2173.9L4169.5,2186.4" stroke="#8fc84a" stroke-width="0.6" fill="none"/><rect x="4168.1" y="2177.5" width="2.7" height="4.5" fill="#a8d870"/><path d="M4078.4,2141.8L4078.4,2171.7" stroke="#d03030" stroke-width="0.6" fill="none"/><path d="M4125.3,2141.8L4125.3,2171.7" stroke="#d03030" stroke-width="0.6" fill="none"/><circle cx="4077.1" cy="2157" r="2.7" fill="none" stroke="#d03030" stroke-width="0.6"/><circle cx="4126.2" cy="2157" r="2.7" fill="none" stroke="#d03030" stroke-width="0.6"/><path d="M4087.3,2143.6L4087.3,2160.5L4118.6,2160.5L4118.6,2173.9" stroke="#e8d040" stroke-width="0.6" fill="none"/><path d="M4015.9,2211.9L4194.5,2211.9" stroke="#e4e8ea" stroke-width="1.2" fill="none"/><rect x="4028.4" y="2224.4" width="15.2" height="2.2" fill="#555"/><rect x="4028.4" y="2233.8" width="24.1" height="2.2" fill="#555"/><rect x="4028.4" y="2249.8" width="24.1" height="2.2" fill="#555"/><rect x="4028.4" y="2256.5" width="157.1" height="26.8" fill="#fff" stroke="#777" stroke-width="0.4"/><path d="M4028.4,2261L4185.5,2261" stroke="#888" stroke-width="0.35" fill="none"/><path d="M4028.4,2265.4L4185.5,2265.4" stroke="#888" stroke-width="0.35" fill="none"/><path d="M4028.4,2269.9L4185.5,2269.9" stroke="#888" stroke-width="0.35" fill="none"/><path d="M4028.4,2274.4L4185.5,2274.4" stroke="#888" stroke-width="0.35" fill="none"/><path d="M4028.4,2278.8L4185.5,2278.8" stroke="#888" stroke-width="0.35" fill="none"/><path d="M4054.6,2256.5L4054.6,2283.3" stroke="#888" stroke-width="0.35" fill="none"/><path d="M4080.8,2256.5L4080.8,2283.3" stroke="#888" stroke-width="0.35" fill="none"/><path d="M4107,2256.5L4107,2283.3" stroke="#888" stroke-width="0.35" fill="none"/><path d="M4133.2,2256.5L4133.2,2283.3" stroke="#888" stroke-width="0.35" fill="none"/><path d="M4159.3,2256.5L4159.3,2283.3" stroke="#888" stroke-width="0.35" fill="none"/><rect x="4036.1" y="2257.9" width="10.7" height="1.8" fill="#8a9094"/><rect x="4062.3" y="2257.9" width="10.7" height="1.8" fill="#8a9094"/><rect x="4088.5" y="2257.9" width="10.7" height="1.8" fill="#8a9094"/><rect x="4114.7" y="2257.9" width="10.7" height="1.8" fill="#8a9094"/><rect x="4140.9" y="2257.9" width="10.7" height="1.8" fill="#8a9094"/><rect x="4167.1" y="2257.9" width="10.7" height="1.8" fill="#8a9094"/><rect x="4036.1" y="2262.3" width="10.7" height="1.8" fill="#8a9094"/><rect x="4062.3" y="2262.3" width="10.7" height="1.8" fill="#8a9094"/><rect x="4088.5" y="2262.3" width="10.7" height="1.8" fill="#8a9094"/><rect x="4114.7" y="2262.3" width="10.7" height="1.8" fill="#8a9094"/><rect x="4140.9" y="2262.3" width="10.7" height="1.8" fill="#8a9094"/><rect x="4167.1" y="2262.3" width="10.7" height="1.8" fill="#8a9094"/><rect x="4036.1" y="2266.8" width="10.7" height="1.8" fill="#8a9094"/><rect x="4062.3" y="2266.8" width="10.7" height="1.8" fill="#8a9094"/><rect x="4088.5" y="2266.8" width="10.7" height="1.8" fill="#8a9094"/><rect x="4114.7" y="2266.8" width="10.7" height="1.8" fill="#8a9094"/><rect x="4140.9" y="2266.8" width="10.7" height="1.8" fill="#8a9094"/><rect x="4167.1" y="2266.8" width="10.7" height="1.8" fill="#8a9094"/><rect x="4036.1" y="2271.2" width="10.7" height="1.8" fill="#8a9094"/><rect x="4062.3" y="2271.2" width="10.7" height="1.8" fill="#8a9094"/><rect x="4088.5" y="2271.2" width="10.7" height="1.8" fill="#8a9094"/><rect x="4114.7" y="2271.2" width="10.7" height="1.8" fill="#8a9094"/><rect x="4140.9" y="2271.2" width="10.7" height="1.8" fill="#8a9094"/><rect x="4167.1" y="2271.2" width="10.7" height="1.8" fill="#8a9094"/><rect x="4036.1" y="2275.7" width="10.7" height="1.8" fill="#8a9094"/><rect x="4062.3" y="2275.7" width="10.7" height="1.8" fill="#8a9094"/><rect x="4088.5" y="2275.7" width="10.7" height="1.8" fill="#8a9094"/><rect x="4114.7" y="2275.7" width="10.7" height="1.8" fill="#8a9094"/><rect x="4140.9" y="2275.7" width="10.7" height="1.8" fill="#8a9094"/><rect x="4167.1" y="2275.7" width="10.7" height="1.8" fill="#8a9094"/><rect x="4036.1" y="2280.2" width="10.7" height="1.8" fill="#8a9094"/><rect x="4062.3" y="2280.2" width="10.7" height="1.8" fill="#8a9094"/><rect x="4088.5" y="2280.2" width="10.7" height="1.8" fill="#8a9094"/><rect x="4114.7" y="2280.2" width="10.7" height="1.8" fill="#8a9094"/><rect x="4140.9" y="2280.2" width="10.7" height="1.8" fill="#8a9094"/><rect x="4167.1" y="2280.2" width="10.7" height="1.8" fill="#8a9094"/><rect x="4028.4" y="2283.3" width="157.1" height="25.9" fill="#fff" stroke="#777" stroke-width="0.4"/><path d="M4028.4,2287.6L4185.5,2287.6" stroke="#888" stroke-width="0.35" fill="none"/><path d="M4028.4,2291.9L4185.5,2291.9" stroke="#888" stroke-width="0.35" fill="none"/><path d="M4028.4,2296.2L4185.5,2296.2" stroke="#888" stroke-width="0.35" fill="none"/><path d="M4028.4,2300.6L4185.5,2300.6" stroke="#888" stroke-width="0.35" fill="none"/><path d="M4028.4,2304.9L4185.5,2304.9" stroke="#888" stroke-width="0.35" fill="none"/><path d="M4054.6,2283.3L4054.6,2309.2" stroke="#888" stroke-width="0.35" fill="none"/><path d="M4080.8,2283.3L4080.8,2309.2" stroke="#888" stroke-width="0.35" fill="none"/><path d="M4107,2283.3L4107,2309.2" stroke="#888" stroke-width="0.35" fill="none"/><path d="M4133.2,2283.3L4133.2,2309.2" stroke="#888" stroke-width="0.35" fill="none"/><path d="M4159.3,2283.3L4159.3,2309.2" stroke="#888" stroke-width="0.35" fill="none"/><rect x="4036.1" y="2284.6" width="10.7" height="1.8" fill="#8a9094"/><rect x="4062.3" y="2284.6" width="10.7" height="1.8" fill="#8a9094"/><rect x="4088.5" y="2284.6" width="10.7" height="1.8" fill="#8a9094"/><rect x="4114.7" y="2284.6" width="10.7" height="1.8" fill="#8a9094"/><rect x="4140.9" y="2284.6" width="10.7" height="1.8" fill="#8a9094"/><rect x="4167.1" y="2284.6" width="10.7" height="1.8" fill="#8a9094"/><rect x="4036.1" y="2288.9" width="10.7" height="1.8" fill="#8a9094"/><rect x="4062.3" y="2288.9" width="10.7" height="1.8" fill="#8a9094"/><rect x="4088.5" y="2288.9" width="10.7" height="1.8" fill="#8a9094"/><rect x="4114.7" y="2288.9" width="10.7" height="1.8" fill="#8a9094"/><rect x="4140.9" y="2288.9" width="10.7" height="1.8" fill="#8a9094"/><rect x="4167.1" y="2288.9" width="10.7" height="1.8" fill="#8a9094"/><rect x="4036.1" y="2293.2" width="10.7" height="1.8" fill="#8a9094"/><rect x="4062.3" y="2293.2" width="10.7" height="1.8" fill="#8a9094"/><rect x="4088.5" y="2293.2" width="10.7" height="1.8" fill="#8a9094"/><rect x="4114.7" y="2293.2" width="10.7" height="1.8" fill="#8a9094"/><rect x="4140.9" y="2293.2" width="10.7" height="1.8" fill="#8a9094"/><rect x="4167.1" y="2293.2" width="10.7" height="1.8" fill="#8a9094"/><rect x="4036.1" y="2297.5" width="10.7" height="1.8" fill="#8a9094"/><rect x="4062.3" y="2297.5" width="10.7" height="1.8" fill="#8a9094"/><rect x="4088.5" y="2297.5" width="10.7" height="1.8" fill="#8a9094"/><rect x="4114.7" y="2297.5" width="10.7" height="1.8" fill="#8a9094"/><rect x="4140.9" y="2297.5" width="10.7" height="1.8" fill="#8a9094"/><rect x="4167.1" y="2297.5" width="10.7" height="1.8" fill="#8a9094"/><rect x="4036.1" y="2301.8" width="10.7" height="1.8" fill="#8a9094"/><rect x="4062.3" y="2301.8" width="10.7" height="1.8" fill="#8a9094"/><rect x="4088.5" y="2301.8" width="10.7" height="1.8" fill="#8a9094"/><rect x="4114.7" y="2301.8" width="10.7" height="1.8" fill="#8a9094"/><rect x="4140.9" y="2301.8" width="10.7" height="1.8" fill="#8a9094"/><rect x="4167.1" y="2301.8" width="10.7" height="1.8" fill="#8a9094"/><rect x="4036.1" y="2306.1" width="10.7" height="1.8" fill="#8a9094"/><rect x="4062.3" y="2306.1" width="10.7" height="1.8" fill="#8a9094"/><rect x="4088.5" y="2306.1" width="10.7" height="1.8" fill="#8a9094"/><rect x="4114.7" y="2306.1" width="10.7" height="1.8" fill="#8a9094"/><rect x="4140.9" y="2306.1" width="10.7" height="1.8" fill="#8a9094"/><rect x="4167.1" y="2306.1" width="10.7" height="1.8" fill="#8a9094"/><path d="M4195.8,2120.4L4248.9,2107L4248.9,2206.1L4195.8,2223Z" fill="#2d9a9c"/><rect x="4248" y="2127.1" width="219.6" height="92.9" fill="url(#tban)"/><rect x="4281.5" y="2145.4" width="7.6" height="7.6" fill="#e6f4f2" opacity="0.92"/><rect x="4291.3" y="2145.4" width="7.6" height="7.6" fill="#e6f4f2" opacity="0.92"/><rect x="4301.2" y="2145.4" width="7.6" height="7.6" fill="#e6f4f2" opacity="0.92"/><rect x="4311" y="2145.4" width="7.6" height="7.6" fill="#e6f4f2" opacity="0.92"/><rect x="4320.8" y="2145.4" width="7.6" height="7.6" fill="#e6f4f2" opacity="0.92"/><rect x="4330.6" y="2145.4" width="7.6" height="7.6" fill="#e6f4f2" opacity="0.92"/><rect x="4340.4" y="2145.4" width="7.6" height="7.6" fill="#e6f4f2" opacity="0.92"/><rect x="4350.3" y="2145.4" width="7.6" height="7.6" fill="#e6f4f2" opacity="0.92"/><rect x="4360.1" y="2145.4" width="7.6" height="7.6" fill="#e6f4f2" opacity="0.92"/><rect x="4369.9" y="2145.4" width="7.6" height="7.6" fill="#e6f4f2" opacity="0.92"/><rect x="4379.7" y="2145.4" width="7.6" height="7.6" fill="#e6f4f2" opacity="0.92"/><rect x="4389.6" y="2145.4" width="7.6" height="7.6" fill="#e6f4f2" opacity="0.92"/><rect x="4399.4" y="2145.4" width="7.6" height="7.6" fill="#e6f4f2" opacity="0.92"/><rect x="4409.2" y="2145.4" width="7.6" height="7.6" fill="#e6f4f2" opacity="0.92"/><rect x="4419" y="2145.4" width="7.6" height="7.6" fill="#e6f4f2" opacity="0.92"/><rect x="4428.8" y="2145.4" width="7.6" height="7.6" fill="#e6f4f2" opacity="0.92"/><rect x="4438.7" y="2145.4" width="7.6" height="7.6" fill="#e6f4f2" opacity="0.92"/><rect x="4311" y="2171.2" width="7.6" height="7.6" fill="#e6f4f2" opacity="0.92"/><rect x="4320.8" y="2171.2" width="7.6" height="7.6" fill="#e6f4f2" opacity="0.92"/><rect x="4330.6" y="2171.2" width="7.6" height="7.6" fill="#e6f4f2" opacity="0.92"/><rect x="4340.4" y="2171.2" width="7.6" height="7.6" fill="#e6f4f2" opacity="0.92"/><rect x="4350.3" y="2171.2" width="7.6" height="7.6" fill="#e6f4f2" opacity="0.92"/><rect x="4360.1" y="2171.2" width="7.6" height="7.6" fill="#e6f4f2" opacity="0.92"/><rect x="4369.9" y="2171.2" width="7.6" height="7.6" fill="#e6f4f2" opacity="0.92"/><rect x="4379.7" y="2171.2" width="7.6" height="7.6" fill="#e6f4f2" opacity="0.92"/><rect x="4389.6" y="2171.2" width="7.6" height="7.6" fill="#e6f4f2" opacity="0.92"/><rect x="4399.4" y="2171.2" width="7.6" height="7.6" fill="#e6f4f2" opacity="0.92"/><rect x="4409.2" y="2171.2" width="7.6" height="7.6" fill="#e6f4f2" opacity="0.92"/><rect x="4318.6" y="2197.1" width="7.6" height="7.6" fill="#e6f4f2" opacity="0.92"/><rect x="4328.4" y="2197.1" width="7.6" height="7.6" fill="#e6f4f2" opacity="0.92"/><rect x="4338.2" y="2197.1" width="7.6" height="7.6" fill="#e6f4f2" opacity="0.92"/><rect x="4348" y="2197.1" width="7.6" height="7.6" fill="#e6f4f2" opacity="0.92"/><rect x="4357.9" y="2197.1" width="7.6" height="7.6" fill="#e6f4f2" opacity="0.92"/><rect x="4367.7" y="2197.1" width="7.6" height="7.6" fill="#e6f4f2" opacity="0.92"/><rect x="4377.5" y="2197.1" width="7.6" height="7.6" fill="#e6f4f2" opacity="0.92"/><rect x="4387.3" y="2197.1" width="7.6" height="7.6" fill="#e6f4f2" opacity="0.92"/><rect x="4397.1" y="2197.1" width="7.6" height="7.6" fill="#e6f4f2" opacity="0.92"/><rect x="4226.6" y="2130.6" width="7.1" height="8.5" fill="#e6f4f2" opacity="0.9"/><rect x="4235.1" y="2128.8" width="7.1" height="8.5" fill="#e6f4f2" opacity="0.9"/><rect x="4243.6" y="2127.1" width="7.1" height="8.5" fill="#e6f4f2" opacity="0.9"/><text x="4427.9" y="2100.7" font-size="9" fill="#2a9a4a" text-anchor="middle" textLength="50" lengthAdjust="spacingAndGlyphs" font-weight="bold" font-style="italic">KEMOV</text><rect x="4404.3" y="2103.8" width="48.2" height="2.2" fill="#c4ccc8"/><text x="4335.1" y="2247.6" font-size="9" fill="#333" textLength="20" lengthAdjust="spacingAndGlyphs" font-family="Liberation Serif, serif">SCD</text><rect x="4357.4" y="2240" width="6.7" height="7.6" fill="#555"/><rect x="4365.9" y="2240" width="6.7" height="7.6" fill="#555"/><rect x="4374.4" y="2240" width="6.7" height="7.6" fill="#555"/><rect x="4382.9" y="2240" width="6.7" height="7.6" fill="#555"/><rect x="4328.4" y="2326.2" width="5.8" height="5.8" fill="#555"/><rect x="4336" y="2326.2" width="5.8" height="5.8" fill="#555"/><rect x="4343.6" y="2326.2" width="5.8" height="5.8" fill="#555"/><rect x="4351.2" y="2326.2" width="5.8" height="5.8" fill="#555"/><rect x="4358.8" y="2326.2" width="5.8" height="5.8" fill="#555"/><rect x="4366.3" y="2326.2" width="5.8" height="5.8" fill="#555"/><rect x="4373.9" y="2326.2" width="5.8" height="5.8" fill="#555"/><rect x="4381.5" y="2326.2" width="5.8" height="5.8" fill="#555"/><rect x="4389.1" y="2326.2" width="5.8" height="5.8" fill="#555"/><text x="4342.7" y="2344.5" font-size="6" fill="#333" textLength="13" lengthAdjust="spacingAndGlyphs" font-family="Liberation Serif, serif">2024</text><rect x="4357" y="2339.1" width="4.5" height="5.4" fill="#555"/><text x="4363.2" y="2344.5" font-size="6" fill="#333" textLength="7" lengthAdjust="spacingAndGlyphs" font-family="Liberation Serif, serif">03</text><rect x="4371.2" y="2339.1" width="4.5" height="5.4" fill="#555"/></svg>
</body></html>
